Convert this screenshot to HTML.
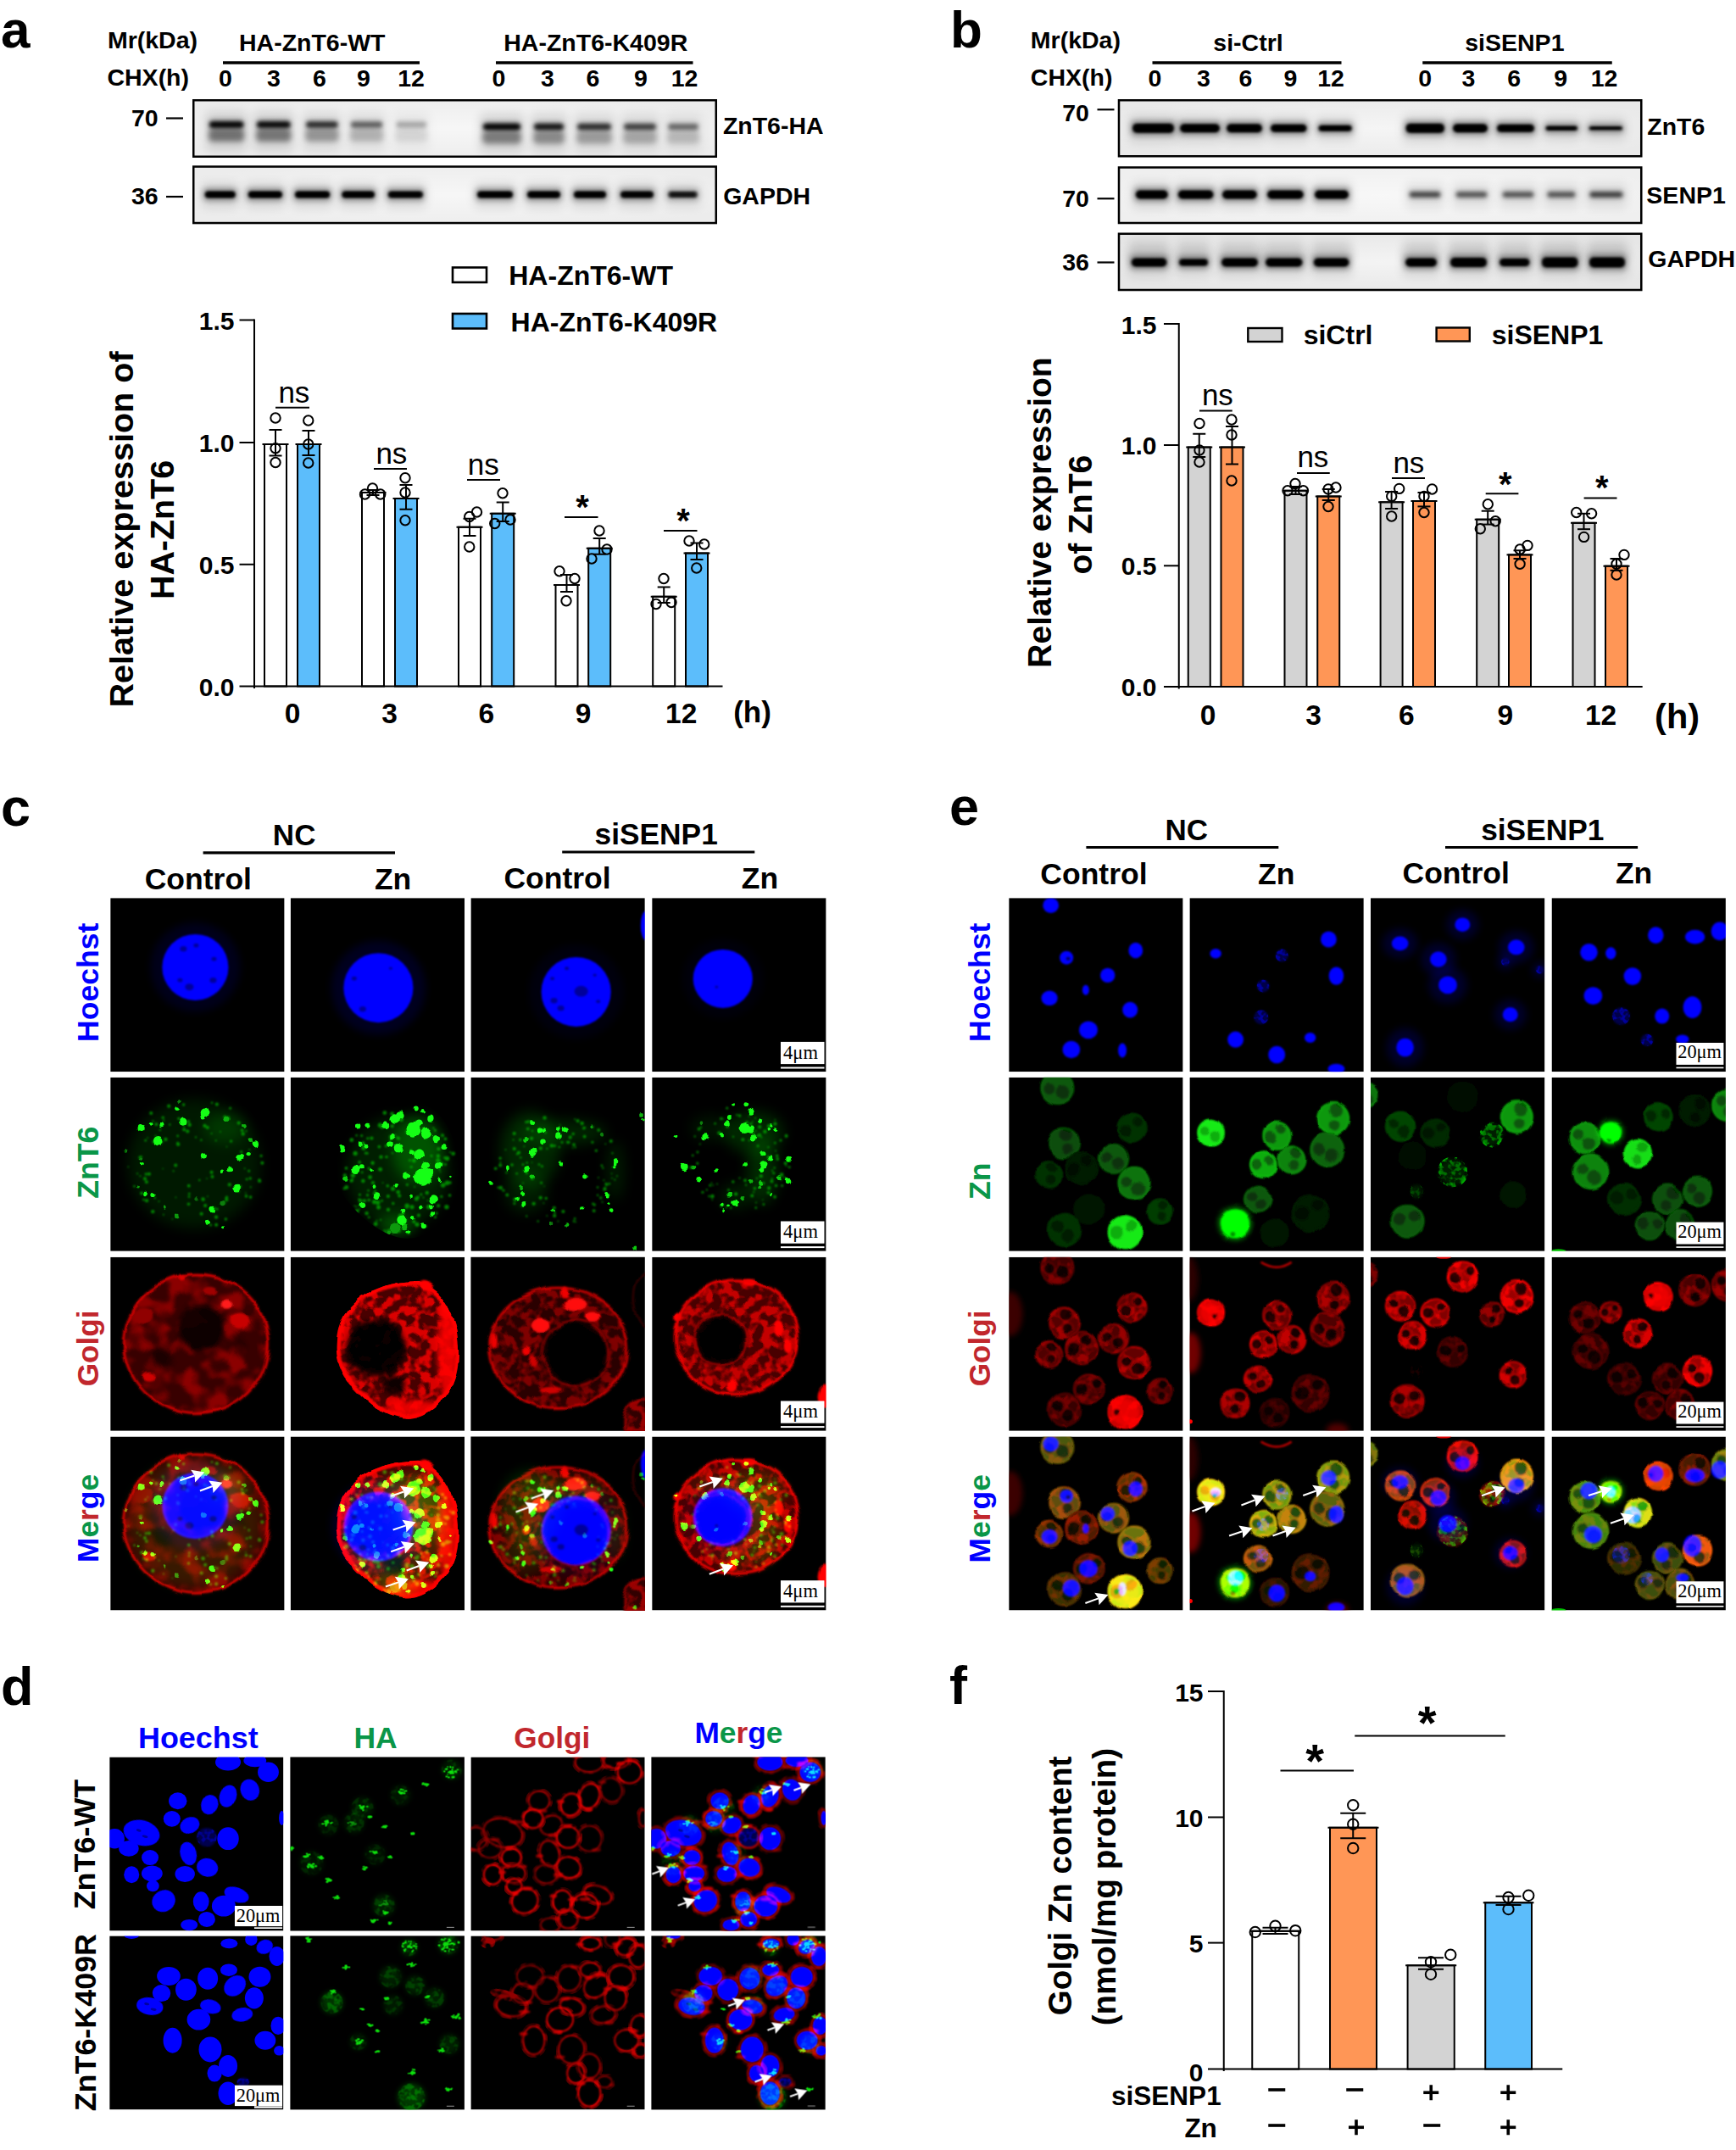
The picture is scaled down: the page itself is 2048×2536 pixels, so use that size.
<!DOCTYPE html>
<html><head><meta charset="utf-8"><title>figure</title>
<style>html,body{margin:0;padding:0;background:#fff}body{width:2048px;height:2536px;overflow:hidden;font-family:"Liberation Sans",sans-serif}svg{display:block}</style></head>
<body>
<svg width="2048" height="2536" viewBox="0 0 2048 2536">
<defs>
<filter id="bb1" x="-60%" y="-60%" width="220%" height="220%"><feGaussianBlur stdDeviation="1"/></filter>
<filter id="bb15" x="-60%" y="-60%" width="220%" height="220%"><feGaussianBlur stdDeviation="1.5"/></filter>
<filter id="bb2" x="-60%" y="-60%" width="220%" height="220%"><feGaussianBlur stdDeviation="2"/></filter>
<filter id="bb3" x="-60%" y="-60%" width="220%" height="220%"><feGaussianBlur stdDeviation="3"/></filter>
<filter id="bb4" x="-60%" y="-60%" width="220%" height="220%"><feGaussianBlur stdDeviation="4"/></filter>
<filter id="bb6" x="-60%" y="-60%" width="220%" height="220%"><feGaussianBlur stdDeviation="6"/></filter>
<filter id="g05" x="-60%" y="-60%" width="220%" height="220%"><feGaussianBlur stdDeviation="0.5"/></filter>
<filter id="g08" x="-60%" y="-60%" width="220%" height="220%"><feGaussianBlur stdDeviation="0.8"/></filter>
<filter id="g12" x="-60%" y="-60%" width="220%" height="220%"><feGaussianBlur stdDeviation="1.2"/></filter>
<filter id="g2" x="-60%" y="-60%" width="220%" height="220%"><feGaussianBlur stdDeviation="2"/></filter>
<filter id="g3" x="-60%" y="-60%" width="220%" height="220%"><feGaussianBlur stdDeviation="3"/></filter>
<filter id="g5" x="-60%" y="-60%" width="220%" height="220%"><feGaussianBlur stdDeviation="5"/></filter>
<filter id="g8" x="-60%" y="-60%" width="220%" height="220%"><feGaussianBlur stdDeviation="8"/></filter>
<filter id="tex" x="-5%" y="-5%" width="110%" height="110%"><feTurbulence type="fractalNoise" baseFrequency="0.085" numOctaves="2" seed="7" result="n"/><feColorMatrix in="n" type="matrix" values="0 0 0 0 0 0 0 0 0 0 0 0 0 0 0 5.0 0 0 0 -2.1" result="a"/><feComposite in="SourceGraphic" in2="a" operator="in" result="t"/><feGaussianBlur in="t" stdDeviation="0.7"/></filter>
<filter id="texbig" x="-5%" y="-5%" width="110%" height="110%"><feTurbulence type="fractalNoise" baseFrequency="0.045" numOctaves="2" seed="3" result="n"/><feColorMatrix in="n" type="matrix" values="0 0 0 0 0 0 0 0 0 0 0 0 0 0 0 4.0 0 0 0 -1.7" result="a"/><feComposite in="SourceGraphic" in2="a" operator="in" result="t"/><feGaussianBlur in="t" stdDeviation="1.5"/></filter>
<filter id="texfine" x="-5%" y="-5%" width="110%" height="110%"><feTurbulence type="fractalNoise" baseFrequency="0.16" numOctaves="2" seed="11" result="n"/><feColorMatrix in="n" type="matrix" values="0 0 0 0 0 0 0 0 0 0 0 0 0 0 0 5.0 0 0 0 -2.2" result="a"/><feComposite in="SourceGraphic" in2="a" operator="in" result="t"/><feGaussianBlur in="t" stdDeviation="0.5"/></filter>
<radialGradient id="blotlite" cx="50%" cy="50%" r="60%"><stop offset="0" stop-color="#fff" stop-opacity="0.55"/><stop offset="1" stop-color="#fff" stop-opacity="0"/></radialGradient>
<filter id="rough" x="-5%" y="-5%" width="110%" height="110%"><feTurbulence type="fractalNoise" baseFrequency="0.035" numOctaves="2" seed="8" result="n"/><feDisplacementMap in="SourceGraphic" in2="n" scale="9" xChannelSelector="R" yChannelSelector="G"/></filter>
<filter id="rough2" x="-5%" y="-5%" width="110%" height="110%"><feTurbulence type="fractalNoise" baseFrequency="0.06" numOctaves="2" seed="5" result="n"/><feDisplacementMap in="SourceGraphic" in2="n" scale="5" xChannelSelector="R" yChannelSelector="G"/></filter>
<filter id="gdot" x="-5%" y="-5%" width="110%" height="110%"><feTurbulence type="fractalNoise" baseFrequency="0.1" numOctaves="2" seed="2" result="n"/><feDisplacementMap in="SourceGraphic" in2="n" scale="5" xChannelSelector="R" yChannelSelector="G" result="d"/><feGaussianBlur in="d" stdDeviation="0.7"/></filter>
<filter id="rough3" x="-5%" y="-5%" width="110%" height="110%"><feTurbulence type="fractalNoise" baseFrequency="0.055" numOctaves="2" seed="9" result="n"/><feDisplacementMap in="SourceGraphic" in2="n" scale="4" xChannelSelector="R" yChannelSelector="G"/></filter>
<clipPath id="c2clip"><path d="M 54 100 C 56 55 95 30 150 28 C 182 38 199 75 198 115 C 197 160 167 192 135 190 C 110 188 83 167 64 142 C 56 128 53 115 54 100 Z"/></clipPath>
</defs>
<text x="1" y="56" font-family="'Liberation Sans', sans-serif" font-size="62" font-weight="bold" fill="#000" text-anchor="start">a</text><text x="180" y="57" font-family="'Liberation Sans', sans-serif" font-size="28.5" font-weight="bold" fill="#000" text-anchor="middle">Mr(kDa)</text><text x="174.75" y="100.5" font-family="'Liberation Sans', sans-serif" font-size="28.5" font-weight="bold" fill="#000" text-anchor="middle">CHX(h)</text><text x="368.25" y="60" font-family="'Liberation Sans', sans-serif" font-size="28.5" font-weight="bold" fill="#000" text-anchor="middle">HA-ZnT6-WT</text><text x="702.75" y="60" font-family="'Liberation Sans', sans-serif" font-size="28.5" font-weight="bold" fill="#000" text-anchor="middle">HA-ZnT6-K409R</text><line x1="263" y1="74" x2="495" y2="74" stroke="#000" stroke-width="3.5" stroke-linecap="butt"/><line x1="585" y1="74" x2="817.5" y2="74" stroke="#000" stroke-width="3.5" stroke-linecap="butt"/><text x="266" y="102" font-family="'Liberation Sans', sans-serif" font-size="28.5" font-weight="bold" fill="#000" text-anchor="middle">0</text><text x="323" y="102" font-family="'Liberation Sans', sans-serif" font-size="28.5" font-weight="bold" fill="#000" text-anchor="middle">3</text><text x="377" y="102" font-family="'Liberation Sans', sans-serif" font-size="28.5" font-weight="bold" fill="#000" text-anchor="middle">6</text><text x="429" y="102" font-family="'Liberation Sans', sans-serif" font-size="28.5" font-weight="bold" fill="#000" text-anchor="middle">9</text><text x="485" y="102" font-family="'Liberation Sans', sans-serif" font-size="28.5" font-weight="bold" fill="#000" text-anchor="middle">12</text><text x="588.5" y="102" font-family="'Liberation Sans', sans-serif" font-size="28.5" font-weight="bold" fill="#000" text-anchor="middle">0</text><text x="646" y="102" font-family="'Liberation Sans', sans-serif" font-size="28.5" font-weight="bold" fill="#000" text-anchor="middle">3</text><text x="699.5" y="102" font-family="'Liberation Sans', sans-serif" font-size="28.5" font-weight="bold" fill="#000" text-anchor="middle">6</text><text x="756" y="102" font-family="'Liberation Sans', sans-serif" font-size="28.5" font-weight="bold" fill="#000" text-anchor="middle">9</text><text x="807.5" y="102" font-family="'Liberation Sans', sans-serif" font-size="28.5" font-weight="bold" fill="#000" text-anchor="middle">12</text><text x="170.75" y="149" font-family="'Liberation Sans', sans-serif" font-size="28.5" font-weight="bold" fill="#000" text-anchor="middle">70</text><line x1="196" y1="139.5" x2="216" y2="139.5" stroke="#000" stroke-width="2.2" stroke-linecap="butt"/><text x="170.75" y="241" font-family="'Liberation Sans', sans-serif" font-size="28.5" font-weight="bold" fill="#000" text-anchor="middle">36</text><line x1="196" y1="232" x2="216" y2="232" stroke="#000" stroke-width="2.2" stroke-linecap="butt"/><text x="912.25" y="158" font-family="'Liberation Sans', sans-serif" font-size="28.5" font-weight="bold" fill="#000" text-anchor="middle">ZnT6-HA</text><text x="904.62" y="241" font-family="'Liberation Sans', sans-serif" font-size="28.5" font-weight="bold" fill="#000" text-anchor="middle">GAPDH</text><clipPath id="clip_a1"><rect x="227" y="117" width="619" height="69"/></clipPath><rect x="227" y="117" width="619" height="69" fill="#ececec" stroke="none" stroke-width="0"/><g clip-path="url(#clip_a1)"><rect x="227" y="117" width="619" height="69" fill="url(#blotlite)"/><rect x="243" y="132" width="48.3" height="46" rx="5" fill="#000" opacity="0.12" filter="url(#bb6)"/><rect x="246" y="152" width="42.3" height="15" rx="5" fill="#000" opacity="0.46" filter="url(#bb3)"/><rect x="246" y="142" width="42.3" height="10" rx="5" fill="#000" opacity="0.5" filter="url(#bb3)"/><rect x="247.5" y="143.75" width="39.3" height="6.5" rx="3.25" fill="#000" opacity="1" filter="url(#bb2)"/><rect x="299" y="132" width="47.6" height="46" rx="5" fill="#000" opacity="0.12" filter="url(#bb6)"/><rect x="302" y="152" width="41.6" height="15" rx="5" fill="#000" opacity="0.44" filter="url(#bb3)"/><rect x="302" y="142" width="41.6" height="10" rx="5" fill="#000" opacity="0.47" filter="url(#bb3)"/><rect x="303.5" y="143.75" width="38.6" height="6.5" rx="3.25" fill="#000" opacity="0.95" filter="url(#bb2)"/><rect x="357" y="132" width="45.7" height="46" rx="5" fill="#000" opacity="0.09" filter="url(#bb6)"/><rect x="360" y="152" width="39.7" height="15" rx="5" fill="#000" opacity="0.32" filter="url(#bb3)"/><rect x="360" y="142" width="39.7" height="10" rx="5" fill="#000" opacity="0.35" filter="url(#bb3)"/><rect x="361.5" y="143.75" width="36.7" height="6.5" rx="3.25" fill="#000" opacity="0.7" filter="url(#bb2)"/><rect x="409.7" y="132" width="45.7" height="46" rx="5" fill="#000" opacity="0.07" filter="url(#bb6)"/><rect x="412.7" y="152" width="39.7" height="15" rx="5" fill="#000" opacity="0.21" filter="url(#bb3)"/><rect x="412.7" y="142" width="39.7" height="10" rx="5" fill="#000" opacity="0.23" filter="url(#bb3)"/><rect x="414.2" y="143.75" width="36.7" height="6.5" rx="3.25" fill="#000" opacity="0.45" filter="url(#bb2)"/><rect x="463.2" y="132" width="44.1" height="46" rx="5" fill="#000" opacity="0.04" filter="url(#bb6)"/><rect x="466.2" y="152" width="38.1" height="15" rx="5" fill="#000" opacity="0.09" filter="url(#bb3)"/><rect x="466.2" y="142" width="38.1" height="10" rx="5" fill="#000" opacity="0.1" filter="url(#bb3)"/><rect x="467.7" y="143.75" width="35.1" height="6.5" rx="3.25" fill="#000" opacity="0.2" filter="url(#bb2)"/><rect x="566" y="134" width="52" height="46" rx="5" fill="#000" opacity="0.12" filter="url(#bb6)"/><rect x="569" y="154.5" width="46" height="15" rx="5" fill="#000" opacity="0.42" filter="url(#bb3)"/><rect x="569" y="144.5" width="46" height="10" rx="5" fill="#000" opacity="0.5" filter="url(#bb3)"/><rect x="570.5" y="146.25" width="43" height="6.5" rx="3.25" fill="#000" opacity="1" filter="url(#bb2)"/><rect x="626" y="134" width="43" height="46" rx="5" fill="#000" opacity="0.11" filter="url(#bb6)"/><rect x="629" y="154.5" width="37" height="15" rx="5" fill="#000" opacity="0.36" filter="url(#bb3)"/><rect x="629" y="144.5" width="37" height="10" rx="5" fill="#000" opacity="0.42" filter="url(#bb3)"/><rect x="630.5" y="146.25" width="34" height="6.5" rx="3.25" fill="#000" opacity="0.85" filter="url(#bb2)"/><rect x="677" y="134" width="48" height="46" rx="5" fill="#000" opacity="0.09" filter="url(#bb6)"/><rect x="680" y="154.5" width="42" height="15" rx="5" fill="#000" opacity="0.29" filter="url(#bb3)"/><rect x="680" y="144.5" width="42" height="10" rx="5" fill="#000" opacity="0.35" filter="url(#bb3)"/><rect x="681.5" y="146.25" width="39" height="6.5" rx="3.25" fill="#000" opacity="0.7" filter="url(#bb2)"/><rect x="732" y="134" width="46" height="46" rx="5" fill="#000" opacity="0.08" filter="url(#bb6)"/><rect x="735" y="154.5" width="40" height="15" rx="5" fill="#000" opacity="0.25" filter="url(#bb3)"/><rect x="735" y="144.5" width="40" height="10" rx="5" fill="#000" opacity="0.3" filter="url(#bb3)"/><rect x="736.5" y="146.25" width="37" height="6.5" rx="3.25" fill="#000" opacity="0.6" filter="url(#bb2)"/><rect x="784" y="134" width="44" height="46" rx="5" fill="#000" opacity="0.06" filter="url(#bb6)"/><rect x="787" y="154.5" width="38" height="15" rx="5" fill="#000" opacity="0.18" filter="url(#bb3)"/><rect x="787" y="144.5" width="38" height="10" rx="5" fill="#000" opacity="0.21" filter="url(#bb3)"/><rect x="788.5" y="146.25" width="35" height="6.5" rx="3.25" fill="#000" opacity="0.42" filter="url(#bb2)"/></g><rect x="228.25" y="118.25" width="616.5" height="66.5" fill="none" stroke="#000" stroke-width="2.5"/><clipPath id="clip_a2"><rect x="227" y="195.3" width="619" height="69"/></clipPath><rect x="227" y="195.3" width="619" height="69" fill="#ececec" stroke="none" stroke-width="0"/><g clip-path="url(#clip_a2)"><rect x="227" y="195.3" width="619" height="69" fill="url(#blotlite)"/><rect x="237.7" y="215.5" width="44.1" height="30" rx="5" fill="#000" opacity="0.1" filter="url(#bb6)"/><rect x="239.7" y="222" width="40.1" height="15" rx="5" fill="#000" opacity="0.35" filter="url(#bb3)"/><rect x="241.7" y="225.5" width="36.1" height="8" rx="4" fill="#000" opacity="0.95" filter="url(#bb15)"/><rect x="244.7" y="227" width="30.1" height="5" rx="2.5" fill="#000" opacity="0.9" filter="url(#bb1)"/><rect x="288.7" y="215.5" width="48.3" height="30" rx="5" fill="#000" opacity="0.1" filter="url(#bb6)"/><rect x="290.7" y="222" width="44.3" height="15" rx="5" fill="#000" opacity="0.35" filter="url(#bb3)"/><rect x="292.7" y="225.5" width="40.3" height="8" rx="4" fill="#000" opacity="0.95" filter="url(#bb15)"/><rect x="295.7" y="227" width="34.3" height="5" rx="2.5" fill="#000" opacity="0.9" filter="url(#bb1)"/><rect x="344" y="215.5" width="49.2" height="30" rx="5" fill="#000" opacity="0.1" filter="url(#bb6)"/><rect x="346" y="222" width="45.2" height="15" rx="5" fill="#000" opacity="0.35" filter="url(#bb3)"/><rect x="348" y="225.5" width="41.2" height="8" rx="4" fill="#000" opacity="0.95" filter="url(#bb15)"/><rect x="351" y="227" width="35.2" height="5" rx="2.5" fill="#000" opacity="0.9" filter="url(#bb1)"/><rect x="399.3" y="215.5" width="46.7" height="30" rx="5" fill="#000" opacity="0.1" filter="url(#bb6)"/><rect x="401.3" y="222" width="42.7" height="15" rx="5" fill="#000" opacity="0.35" filter="url(#bb3)"/><rect x="403.3" y="225.5" width="38.7" height="8" rx="4" fill="#000" opacity="0.95" filter="url(#bb15)"/><rect x="406.3" y="227" width="32.7" height="5" rx="2.5" fill="#000" opacity="0.9" filter="url(#bb1)"/><rect x="453.7" y="215.5" width="49.3" height="30" rx="5" fill="#000" opacity="0.1" filter="url(#bb6)"/><rect x="455.7" y="222" width="45.3" height="15" rx="5" fill="#000" opacity="0.33" filter="url(#bb3)"/><rect x="457.7" y="225.5" width="41.3" height="8" rx="4" fill="#000" opacity="0.9" filter="url(#bb15)"/><rect x="460.7" y="227" width="35.3" height="5" rx="2.5" fill="#000" opacity="0.85" filter="url(#bb1)"/><rect x="559" y="215.5" width="50" height="30" rx="5" fill="#000" opacity="0.1" filter="url(#bb6)"/><rect x="561" y="222" width="46" height="15" rx="5" fill="#000" opacity="0.35" filter="url(#bb3)"/><rect x="563" y="225.5" width="42" height="8" rx="4" fill="#000" opacity="0.95" filter="url(#bb15)"/><rect x="566" y="227" width="36" height="5" rx="2.5" fill="#000" opacity="0.9" filter="url(#bb1)"/><rect x="618" y="215.5" width="47" height="30" rx="5" fill="#000" opacity="0.1" filter="url(#bb6)"/><rect x="620" y="222" width="43" height="15" rx="5" fill="#000" opacity="0.35" filter="url(#bb3)"/><rect x="622" y="225.5" width="39" height="8" rx="4" fill="#000" opacity="0.95" filter="url(#bb15)"/><rect x="625" y="227" width="33" height="5" rx="2.5" fill="#000" opacity="0.9" filter="url(#bb1)"/><rect x="673" y="215.5" width="46" height="30" rx="5" fill="#000" opacity="0.1" filter="url(#bb6)"/><rect x="675" y="222" width="42" height="15" rx="5" fill="#000" opacity="0.35" filter="url(#bb3)"/><rect x="677" y="225.5" width="38" height="8" rx="4" fill="#000" opacity="0.95" filter="url(#bb15)"/><rect x="680" y="227" width="32" height="5" rx="2.5" fill="#000" opacity="0.9" filter="url(#bb1)"/><rect x="728" y="215.5" width="47" height="30" rx="5" fill="#000" opacity="0.1" filter="url(#bb6)"/><rect x="730" y="222" width="43" height="15" rx="5" fill="#000" opacity="0.33" filter="url(#bb3)"/><rect x="732" y="225.5" width="39" height="8" rx="4" fill="#000" opacity="0.9" filter="url(#bb15)"/><rect x="735" y="227" width="33" height="5" rx="2.5" fill="#000" opacity="0.85" filter="url(#bb1)"/><rect x="784" y="215.5" width="43" height="30" rx="5" fill="#000" opacity="0.07" filter="url(#bb6)"/><rect x="786" y="222" width="39" height="15" rx="5" fill="#000" opacity="0.24" filter="url(#bb3)"/><rect x="788" y="225.5" width="35" height="8" rx="4" fill="#000" opacity="0.66" filter="url(#bb15)"/><rect x="791" y="227" width="29" height="5" rx="2.5" fill="#000" opacity="0.63" filter="url(#bb1)"/></g><rect x="228.25" y="196.55" width="616.5" height="66.5" fill="none" stroke="#000" stroke-width="2.5"/><rect x="534" y="315.5" width="40" height="17.5" fill="#fff" stroke="#000" stroke-width="2.6"/><rect x="534" y="370" width="40" height="17.5" fill="#5cbdfb" stroke="#000" stroke-width="2.6"/><text x="697.12" y="336.25" font-family="'Liberation Sans', sans-serif" font-size="32" font-weight="bold" fill="#000" text-anchor="middle">HA-ZnT6-WT</text><text x="724.38" y="390.5" font-family="'Liberation Sans', sans-serif" font-size="32" font-weight="bold" fill="#000" text-anchor="middle">HA-ZnT6-K409R</text><text x="276.5" y="389" font-family="'Liberation Sans', sans-serif" font-size="30" font-weight="bold" fill="#000" text-anchor="end">1.5</text><text x="276.5" y="533" font-family="'Liberation Sans', sans-serif" font-size="30" font-weight="bold" fill="#000" text-anchor="end">1.0</text><text x="276.5" y="676.5" font-family="'Liberation Sans', sans-serif" font-size="30" font-weight="bold" fill="#000" text-anchor="end">0.5</text><text x="276.5" y="820.5" font-family="'Liberation Sans', sans-serif" font-size="30" font-weight="bold" fill="#000" text-anchor="end">0.0</text><text x="157" y="624.45" font-family="'Liberation Sans', sans-serif" font-size="39.6" font-weight="bold" fill="#000" text-anchor="middle" transform="rotate(-90 157 624.45)">Relative expression of</text><text x="204.8" y="625" font-family="'Liberation Sans', sans-serif" font-size="39.4" font-weight="bold" fill="#000" text-anchor="middle" transform="rotate(-90 204.8 625)">HA-ZnT6</text><text x="345" y="852.5" font-family="'Liberation Sans', sans-serif" font-size="33.5" font-weight="bold" fill="#000" text-anchor="middle">0</text><text x="459.5" y="852.5" font-family="'Liberation Sans', sans-serif" font-size="33.5" font-weight="bold" fill="#000" text-anchor="middle">3</text><text x="573.75" y="852.5" font-family="'Liberation Sans', sans-serif" font-size="33.5" font-weight="bold" fill="#000" text-anchor="middle">6</text><text x="688" y="852.5" font-family="'Liberation Sans', sans-serif" font-size="33.5" font-weight="bold" fill="#000" text-anchor="middle">9</text><text x="803.75" y="852.5" font-family="'Liberation Sans', sans-serif" font-size="33.5" font-weight="bold" fill="#000" text-anchor="middle">12</text><text x="887.5" y="852" font-family="'Liberation Sans', sans-serif" font-size="35" font-weight="bold" fill="#000" text-anchor="middle">(h)</text><rect x="312" y="524" width="26" height="285.5" fill="#fff" stroke="#000" stroke-width="2"/><rect x="351" y="524" width="26" height="285.5" fill="#5cbdfb" stroke="#000" stroke-width="2"/><rect x="427" y="581" width="26" height="228.5" fill="#fff" stroke="#000" stroke-width="2"/><rect x="466" y="588" width="26" height="221.5" fill="#5cbdfb" stroke="#000" stroke-width="2"/><rect x="541" y="621.75" width="26" height="187.75" fill="#fff" stroke="#000" stroke-width="2"/><rect x="580.2" y="605.75" width="26" height="203.75" fill="#5cbdfb" stroke="#000" stroke-width="2"/><rect x="655.5" y="690" width="26" height="119.5" fill="#fff" stroke="#000" stroke-width="2"/><rect x="694.2" y="646.75" width="26" height="162.75" fill="#5cbdfb" stroke="#000" stroke-width="2"/><rect x="770.2" y="703.75" width="26" height="105.75" fill="#fff" stroke="#000" stroke-width="2"/><rect x="809" y="652.5" width="26" height="157" fill="#5cbdfb" stroke="#000" stroke-width="2"/><line x1="300" y1="376.5" x2="300" y2="812" stroke="#000" stroke-width="2" stroke-linecap="butt"/><line x1="282.5" y1="809.5" x2="852.5" y2="809.5" stroke="#000" stroke-width="2" stroke-linecap="butt"/><line x1="282.5" y1="377.5" x2="300" y2="377.5" stroke="#000" stroke-width="2" stroke-linecap="butt"/><line x1="282.5" y1="522" x2="300" y2="522" stroke="#000" stroke-width="2" stroke-linecap="butt"/><line x1="282.5" y1="665.75" x2="300" y2="665.75" stroke="#000" stroke-width="2" stroke-linecap="butt"/><line x1="309.5" y1="524" x2="340.5" y2="524" stroke="#000" stroke-width="2" stroke-linecap="butt"/><line x1="325" y1="507" x2="325" y2="537.5" stroke="#000" stroke-width="2" stroke-linecap="butt"/><line x1="317.5" y1="507" x2="332.5" y2="507" stroke="#000" stroke-width="2" stroke-linecap="butt"/><line x1="317.5" y1="537.5" x2="332.5" y2="537.5" stroke="#000" stroke-width="2" stroke-linecap="butt"/><circle cx="325" cy="493" r="5.7" fill="none" stroke="#000" stroke-width="2"/><circle cx="325" cy="528.75" r="5.7" fill="none" stroke="#000" stroke-width="2"/><circle cx="325" cy="545.5" r="5.7" fill="none" stroke="#000" stroke-width="2"/><line x1="348.5" y1="524" x2="379.5" y2="524" stroke="#000" stroke-width="2" stroke-linecap="butt"/><line x1="364" y1="508" x2="364" y2="537" stroke="#000" stroke-width="2" stroke-linecap="butt"/><line x1="356.5" y1="508" x2="371.5" y2="508" stroke="#000" stroke-width="2" stroke-linecap="butt"/><line x1="356.5" y1="537" x2="371.5" y2="537" stroke="#000" stroke-width="2" stroke-linecap="butt"/><circle cx="363.75" cy="496" r="5.7" fill="none" stroke="#000" stroke-width="2"/><circle cx="363.75" cy="524" r="5.7" fill="none" stroke="#000" stroke-width="2"/><circle cx="363.75" cy="546" r="5.7" fill="none" stroke="#000" stroke-width="2"/><line x1="424.5" y1="581" x2="455.5" y2="581" stroke="#000" stroke-width="2" stroke-linecap="butt"/><line x1="440" y1="578" x2="440" y2="584" stroke="#000" stroke-width="2" stroke-linecap="butt"/><line x1="432.5" y1="578" x2="447.5" y2="578" stroke="#000" stroke-width="2" stroke-linecap="butt"/><line x1="432.5" y1="584" x2="447.5" y2="584" stroke="#000" stroke-width="2" stroke-linecap="butt"/><circle cx="430.5" cy="583" r="5.7" fill="none" stroke="#000" stroke-width="2"/><circle cx="439.5" cy="576" r="5.7" fill="none" stroke="#000" stroke-width="2"/><circle cx="448.75" cy="583" r="5.7" fill="none" stroke="#000" stroke-width="2"/><line x1="463.5" y1="588" x2="494.5" y2="588" stroke="#000" stroke-width="2" stroke-linecap="butt"/><line x1="479" y1="572" x2="479" y2="600.75" stroke="#000" stroke-width="2" stroke-linecap="butt"/><line x1="471.5" y1="572" x2="486.5" y2="572" stroke="#000" stroke-width="2" stroke-linecap="butt"/><line x1="471.5" y1="600.75" x2="486.5" y2="600.75" stroke="#000" stroke-width="2" stroke-linecap="butt"/><circle cx="478" cy="563.75" r="5.7" fill="none" stroke="#000" stroke-width="2"/><circle cx="478" cy="581" r="5.7" fill="none" stroke="#000" stroke-width="2"/><circle cx="478" cy="613.75" r="5.7" fill="none" stroke="#000" stroke-width="2"/><line x1="538.5" y1="621.75" x2="569.5" y2="621.75" stroke="#000" stroke-width="2" stroke-linecap="butt"/><line x1="554" y1="611.75" x2="554" y2="632" stroke="#000" stroke-width="2" stroke-linecap="butt"/><line x1="546.5" y1="611.75" x2="561.5" y2="611.75" stroke="#000" stroke-width="2" stroke-linecap="butt"/><line x1="546.5" y1="632" x2="561.5" y2="632" stroke="#000" stroke-width="2" stroke-linecap="butt"/><circle cx="553.75" cy="609.5" r="5.7" fill="none" stroke="#000" stroke-width="2"/><circle cx="562.5" cy="604" r="5.7" fill="none" stroke="#000" stroke-width="2"/><circle cx="553.75" cy="645" r="5.7" fill="none" stroke="#000" stroke-width="2"/><line x1="577.7" y1="605.75" x2="608.7" y2="605.75" stroke="#000" stroke-width="2" stroke-linecap="butt"/><line x1="593.2" y1="592.5" x2="593.2" y2="615" stroke="#000" stroke-width="2" stroke-linecap="butt"/><line x1="585.7" y1="592.5" x2="600.7" y2="592.5" stroke="#000" stroke-width="2" stroke-linecap="butt"/><line x1="585.7" y1="615" x2="600.7" y2="615" stroke="#000" stroke-width="2" stroke-linecap="butt"/><circle cx="593" cy="581.75" r="5.7" fill="none" stroke="#000" stroke-width="2"/><circle cx="583.75" cy="617.5" r="5.7" fill="none" stroke="#000" stroke-width="2"/><circle cx="602" cy="613" r="5.7" fill="none" stroke="#000" stroke-width="2"/><line x1="653" y1="690" x2="684" y2="690" stroke="#000" stroke-width="2" stroke-linecap="butt"/><line x1="668.5" y1="678" x2="668.5" y2="698" stroke="#000" stroke-width="2" stroke-linecap="butt"/><line x1="661" y1="678" x2="676" y2="678" stroke="#000" stroke-width="2" stroke-linecap="butt"/><line x1="661" y1="698" x2="676" y2="698" stroke="#000" stroke-width="2" stroke-linecap="butt"/><circle cx="660" cy="673.75" r="5.7" fill="none" stroke="#000" stroke-width="2"/><circle cx="678" cy="682.5" r="5.7" fill="none" stroke="#000" stroke-width="2"/><circle cx="668" cy="708.75" r="5.7" fill="none" stroke="#000" stroke-width="2"/><line x1="691.7" y1="646.75" x2="722.7" y2="646.75" stroke="#000" stroke-width="2" stroke-linecap="butt"/><line x1="707.2" y1="635" x2="707.2" y2="653.75" stroke="#000" stroke-width="2" stroke-linecap="butt"/><line x1="699.7" y1="635" x2="714.7" y2="635" stroke="#000" stroke-width="2" stroke-linecap="butt"/><line x1="699.7" y1="653.75" x2="714.7" y2="653.75" stroke="#000" stroke-width="2" stroke-linecap="butt"/><circle cx="707" cy="626" r="5.7" fill="none" stroke="#000" stroke-width="2"/><circle cx="716" cy="648" r="5.7" fill="none" stroke="#000" stroke-width="2"/><circle cx="698" cy="659" r="5.7" fill="none" stroke="#000" stroke-width="2"/><line x1="767.7" y1="703.75" x2="798.7" y2="703.75" stroke="#000" stroke-width="2" stroke-linecap="butt"/><line x1="783.2" y1="692.5" x2="783.2" y2="711" stroke="#000" stroke-width="2" stroke-linecap="butt"/><line x1="775.7" y1="692.5" x2="790.7" y2="692.5" stroke="#000" stroke-width="2" stroke-linecap="butt"/><line x1="775.7" y1="711" x2="790.7" y2="711" stroke="#000" stroke-width="2" stroke-linecap="butt"/><circle cx="783" cy="682.5" r="5.7" fill="none" stroke="#000" stroke-width="2"/><circle cx="774" cy="712.5" r="5.7" fill="none" stroke="#000" stroke-width="2"/><circle cx="792" cy="710.5" r="5.7" fill="none" stroke="#000" stroke-width="2"/><line x1="806.5" y1="652.5" x2="837.5" y2="652.5" stroke="#000" stroke-width="2" stroke-linecap="butt"/><line x1="822" y1="640.5" x2="822" y2="660" stroke="#000" stroke-width="2" stroke-linecap="butt"/><line x1="814.5" y1="640.5" x2="829.5" y2="640.5" stroke="#000" stroke-width="2" stroke-linecap="butt"/><line x1="814.5" y1="660" x2="829.5" y2="660" stroke="#000" stroke-width="2" stroke-linecap="butt"/><circle cx="813" cy="638" r="5.7" fill="none" stroke="#000" stroke-width="2"/><circle cx="830.75" cy="642" r="5.7" fill="none" stroke="#000" stroke-width="2"/><circle cx="821.75" cy="670" r="5.7" fill="none" stroke="#000" stroke-width="2"/><line x1="325" y1="480.75" x2="365" y2="480.75" stroke="#000" stroke-width="2" stroke-linecap="butt"/><line x1="441" y1="553" x2="480" y2="553" stroke="#000" stroke-width="2" stroke-linecap="butt"/><line x1="551" y1="566" x2="590" y2="566" stroke="#000" stroke-width="2" stroke-linecap="butt"/><line x1="666" y1="610" x2="705.5" y2="610" stroke="#000" stroke-width="2" stroke-linecap="butt"/><line x1="783" y1="626" x2="822.5" y2="626" stroke="#000" stroke-width="2" stroke-linecap="butt"/><text x="346.88" y="474.5" font-family="'Liberation Sans', sans-serif" font-size="35" font-weight="normal" fill="#000" text-anchor="middle">ns</text><text x="461.88" y="546.75" font-family="'Liberation Sans', sans-serif" font-size="35" font-weight="normal" fill="#000" text-anchor="middle">ns</text><text x="570.25" y="560" font-family="'Liberation Sans', sans-serif" font-size="35" font-weight="normal" fill="#000" text-anchor="middle">ns</text><text x="687" y="611.5" font-family="'Liberation Sans', sans-serif" font-size="40" font-weight="bold" fill="#000" text-anchor="middle">*</text><text x="806" y="627.5" font-family="'Liberation Sans', sans-serif" font-size="40" font-weight="bold" fill="#000" text-anchor="middle">*</text>
<text x="1121" y="56" font-family="'Liberation Sans', sans-serif" font-size="62" font-weight="bold" fill="#000" text-anchor="start">b</text><text x="1268.88" y="57" font-family="'Liberation Sans', sans-serif" font-size="28.5" font-weight="bold" fill="#000" text-anchor="middle">Mr(kDa)</text><text x="1264.12" y="100.5" font-family="'Liberation Sans', sans-serif" font-size="28.5" font-weight="bold" fill="#000" text-anchor="middle">CHX(h)</text><text x="1472.5" y="60" font-family="'Liberation Sans', sans-serif" font-size="28.5" font-weight="bold" fill="#000" text-anchor="middle">si-Ctrl</text><text x="1786.88" y="60" font-family="'Liberation Sans', sans-serif" font-size="28.5" font-weight="bold" fill="#000" text-anchor="middle">siSENP1</text><line x1="1359.5" y1="74" x2="1582.5" y2="74" stroke="#000" stroke-width="3.5" stroke-linecap="butt"/><line x1="1678.25" y1="74" x2="1901.75" y2="74" stroke="#000" stroke-width="3.5" stroke-linecap="butt"/><text x="1362.5" y="102" font-family="'Liberation Sans', sans-serif" font-size="28.5" font-weight="bold" fill="#000" text-anchor="middle">0</text><text x="1420" y="102" font-family="'Liberation Sans', sans-serif" font-size="28.5" font-weight="bold" fill="#000" text-anchor="middle">3</text><text x="1469.5" y="102" font-family="'Liberation Sans', sans-serif" font-size="28.5" font-weight="bold" fill="#000" text-anchor="middle">6</text><text x="1522.5" y="102" font-family="'Liberation Sans', sans-serif" font-size="28.5" font-weight="bold" fill="#000" text-anchor="middle">9</text><text x="1570" y="102" font-family="'Liberation Sans', sans-serif" font-size="28.5" font-weight="bold" fill="#000" text-anchor="middle">12</text><text x="1681.25" y="102" font-family="'Liberation Sans', sans-serif" font-size="28.5" font-weight="bold" fill="#000" text-anchor="middle">0</text><text x="1732.5" y="102" font-family="'Liberation Sans', sans-serif" font-size="28.5" font-weight="bold" fill="#000" text-anchor="middle">3</text><text x="1786.25" y="102" font-family="'Liberation Sans', sans-serif" font-size="28.5" font-weight="bold" fill="#000" text-anchor="middle">6</text><text x="1841.25" y="102" font-family="'Liberation Sans', sans-serif" font-size="28.5" font-weight="bold" fill="#000" text-anchor="middle">9</text><text x="1892.5" y="102" font-family="'Liberation Sans', sans-serif" font-size="28.5" font-weight="bold" fill="#000" text-anchor="middle">12</text><text x="1269" y="142.5" font-family="'Liberation Sans', sans-serif" font-size="28.5" font-weight="bold" fill="#000" text-anchor="middle">70</text><line x1="1294.5" y1="129.25" x2="1314.5" y2="129.25" stroke="#000" stroke-width="2.2" stroke-linecap="butt"/><text x="1269" y="243.75" font-family="'Liberation Sans', sans-serif" font-size="28.5" font-weight="bold" fill="#000" text-anchor="middle">70</text><line x1="1294.5" y1="234.25" x2="1314.5" y2="234.25" stroke="#000" stroke-width="2.2" stroke-linecap="butt"/><text x="1269" y="319.25" font-family="'Liberation Sans', sans-serif" font-size="28.5" font-weight="bold" fill="#000" text-anchor="middle">36</text><line x1="1294.5" y1="309.5" x2="1314.5" y2="309.5" stroke="#000" stroke-width="2.2" stroke-linecap="butt"/><text x="1977.35" y="158.8" font-family="'Liberation Sans', sans-serif" font-size="28.5" font-weight="bold" fill="#000" text-anchor="middle">ZnT6</text><text x="1989.1" y="239.75" font-family="'Liberation Sans', sans-serif" font-size="28.5" font-weight="bold" fill="#000" text-anchor="middle">SENP1</text><text x="1995.75" y="315" font-family="'Liberation Sans', sans-serif" font-size="28.5" font-weight="bold" fill="#000" text-anchor="middle">GAPDH</text><clipPath id="clip_b1"><rect x="1318.75" y="117" width="618.75" height="68.5"/></clipPath><rect x="1318.75" y="117" width="618.75" height="68.5" fill="#e9e9e9" stroke="none" stroke-width="0"/><g clip-path="url(#clip_b1)"><rect x="1318.75" y="117" width="618.75" height="68.5" fill="url(#blotlite)"/><rect x="1332" y="135.75" width="57" height="33" rx="5" fill="#000" opacity="0.1" filter="url(#bb6)"/><rect x="1334" y="142.25" width="53" height="18" rx="5" fill="#000" opacity="0.35" filter="url(#bb3)"/><rect x="1336" y="145.75" width="49" height="11" rx="5" fill="#000" opacity="0.95" filter="url(#bb15)"/><rect x="1339" y="147.25" width="43" height="8" rx="4" fill="#000" opacity="0.9" filter="url(#bb1)"/><rect x="1388" y="136.25" width="55" height="32" rx="5" fill="#000" opacity="0.1" filter="url(#bb6)"/><rect x="1390" y="142.75" width="51" height="17" rx="5" fill="#000" opacity="0.35" filter="url(#bb3)"/><rect x="1392" y="146.25" width="47" height="10" rx="5" fill="#000" opacity="0.95" filter="url(#bb15)"/><rect x="1395" y="147.75" width="41" height="7" rx="3.5" fill="#000" opacity="0.9" filter="url(#bb1)"/><rect x="1443" y="136.25" width="50" height="32" rx="5" fill="#000" opacity="0.1" filter="url(#bb6)"/><rect x="1445" y="142.75" width="46" height="17" rx="5" fill="#000" opacity="0.35" filter="url(#bb3)"/><rect x="1447" y="146.25" width="42" height="10" rx="5" fill="#000" opacity="0.95" filter="url(#bb15)"/><rect x="1450" y="147.75" width="36" height="7" rx="3.5" fill="#000" opacity="0.9" filter="url(#bb1)"/><rect x="1495" y="136.75" width="50.5" height="31" rx="5" fill="#000" opacity="0.1" filter="url(#bb6)"/><rect x="1497" y="143.25" width="46.5" height="16" rx="5" fill="#000" opacity="0.35" filter="url(#bb3)"/><rect x="1499" y="146.75" width="42.5" height="9" rx="4.5" fill="#000" opacity="0.95" filter="url(#bb15)"/><rect x="1502" y="148.25" width="36.5" height="6" rx="3" fill="#000" opacity="0.9" filter="url(#bb1)"/><rect x="1551.5" y="137.75" width="47.25" height="29" rx="5" fill="#000" opacity="0.1" filter="url(#bb6)"/><rect x="1553.5" y="144.25" width="43.25" height="14" rx="5" fill="#000" opacity="0.35" filter="url(#bb3)"/><rect x="1555.5" y="147.75" width="39.25" height="7" rx="3.5" fill="#000" opacity="0.95" filter="url(#bb15)"/><rect x="1558.5" y="149.25" width="33.25" height="4" rx="2" fill="#000" opacity="0.9" filter="url(#bb1)"/><rect x="1654.5" y="135.75" width="53.5" height="33" rx="5" fill="#000" opacity="0.1" filter="url(#bb6)"/><rect x="1656.5" y="142.25" width="49.5" height="18" rx="5" fill="#000" opacity="0.35" filter="url(#bb3)"/><rect x="1658.5" y="145.75" width="45.5" height="11" rx="5" fill="#000" opacity="0.95" filter="url(#bb15)"/><rect x="1661.5" y="147.25" width="39.5" height="8" rx="4" fill="#000" opacity="0.9" filter="url(#bb1)"/><rect x="1710" y="136.25" width="49" height="32" rx="5" fill="#000" opacity="0.1" filter="url(#bb6)"/><rect x="1712" y="142.75" width="45" height="17" rx="5" fill="#000" opacity="0.35" filter="url(#bb3)"/><rect x="1714" y="146.25" width="41" height="10" rx="5" fill="#000" opacity="0.95" filter="url(#bb15)"/><rect x="1717" y="147.75" width="35" height="7" rx="3.5" fill="#000" opacity="0.9" filter="url(#bb1)"/><rect x="1762" y="136.75" width="52" height="31" rx="5" fill="#000" opacity="0.1" filter="url(#bb6)"/><rect x="1764" y="143.25" width="48" height="16" rx="5" fill="#000" opacity="0.35" filter="url(#bb3)"/><rect x="1766" y="146.75" width="44" height="9" rx="4.5" fill="#000" opacity="0.95" filter="url(#bb15)"/><rect x="1769" y="148.25" width="38" height="6" rx="3" fill="#000" opacity="0.9" filter="url(#bb1)"/><rect x="1819.5" y="138.5" width="45.5" height="27.5" rx="5" fill="#000" opacity="0.1" filter="url(#bb6)"/><rect x="1821.5" y="145" width="41.5" height="12.5" rx="5" fill="#000" opacity="0.33" filter="url(#bb3)"/><rect x="1823.5" y="148.5" width="37.5" height="5.5" rx="2.75" fill="#000" opacity="0.9" filter="url(#bb15)"/><rect x="1826.5" y="150" width="31.5" height="2.5" rx="1.25" fill="#000" opacity="0.85" filter="url(#bb1)"/><rect x="1870.75" y="139" width="47.25" height="26.5" rx="5" fill="#000" opacity="0.1" filter="url(#bb6)"/><rect x="1872.75" y="145.5" width="43.25" height="11.5" rx="5" fill="#000" opacity="0.33" filter="url(#bb3)"/><rect x="1874.75" y="149" width="39.25" height="4.5" rx="2.25" fill="#000" opacity="0.9" filter="url(#bb15)"/><rect x="1877.75" y="150.5" width="33.25" height="1.5" rx="0.75" fill="#000" opacity="0.85" filter="url(#bb1)"/></g><rect x="1320" y="118.25" width="616.25" height="66" fill="none" stroke="#000" stroke-width="2.5"/><clipPath id="clip_b2"><rect x="1318.75" y="196.25" width="618.75" height="68"/></clipPath><rect x="1318.75" y="196.25" width="618.75" height="68" fill="#efefef" stroke="none" stroke-width="0"/><g clip-path="url(#clip_b2)"><rect x="1318.75" y="196.25" width="618.75" height="68" fill="url(#blotlite)"/><rect x="1335.75" y="214.5" width="46" height="32" rx="5" fill="#000" opacity="0.1" filter="url(#bb6)"/><rect x="1337.75" y="221" width="42" height="17" rx="5" fill="#000" opacity="0.35" filter="url(#bb3)"/><rect x="1339.75" y="224.5" width="38" height="10" rx="5" fill="#000" opacity="0.95" filter="url(#bb15)"/><rect x="1342.75" y="226" width="32" height="7" rx="3.5" fill="#000" opacity="0.9" filter="url(#bb1)"/><rect x="1385.75" y="214.5" width="49.75" height="32" rx="5" fill="#000" opacity="0.1" filter="url(#bb6)"/><rect x="1387.75" y="221" width="45.75" height="17" rx="5" fill="#000" opacity="0.35" filter="url(#bb3)"/><rect x="1389.75" y="224.5" width="41.75" height="10" rx="5" fill="#000" opacity="0.95" filter="url(#bb15)"/><rect x="1392.75" y="226" width="35.75" height="7" rx="3.5" fill="#000" opacity="0.9" filter="url(#bb1)"/><rect x="1438" y="214.5" width="48.75" height="32" rx="5" fill="#000" opacity="0.1" filter="url(#bb6)"/><rect x="1440" y="221" width="44.75" height="17" rx="5" fill="#000" opacity="0.35" filter="url(#bb3)"/><rect x="1442" y="224.5" width="40.75" height="10" rx="5" fill="#000" opacity="0.95" filter="url(#bb15)"/><rect x="1445" y="226" width="34.75" height="7" rx="3.5" fill="#000" opacity="0.9" filter="url(#bb1)"/><rect x="1491" y="214.5" width="50.75" height="32" rx="5" fill="#000" opacity="0.1" filter="url(#bb6)"/><rect x="1493" y="221" width="46.75" height="17" rx="5" fill="#000" opacity="0.35" filter="url(#bb3)"/><rect x="1495" y="224.5" width="42.75" height="10" rx="5" fill="#000" opacity="0.95" filter="url(#bb15)"/><rect x="1498" y="226" width="36.75" height="7" rx="3.5" fill="#000" opacity="0.9" filter="url(#bb1)"/><rect x="1547" y="214.5" width="48" height="32" rx="5" fill="#000" opacity="0.1" filter="url(#bb6)"/><rect x="1549" y="221" width="44" height="17" rx="5" fill="#000" opacity="0.35" filter="url(#bb3)"/><rect x="1551" y="224.5" width="40" height="10" rx="5" fill="#000" opacity="0.95" filter="url(#bb15)"/><rect x="1554" y="226" width="34" height="7" rx="3.5" fill="#000" opacity="0.9" filter="url(#bb1)"/><rect x="1658" y="216" width="46" height="30" rx="5" fill="#000" opacity="0.08" filter="url(#bb6)"/><rect x="1661" y="224" width="40" height="11" rx="5" fill="#000" opacity="0.22" filter="url(#bb3)"/><rect x="1663" y="226.5" width="36" height="6" rx="3" fill="#000" opacity="0.62" filter="url(#bb2)"/><rect x="1713" y="216" width="46" height="30" rx="5" fill="#000" opacity="0.08" filter="url(#bb6)"/><rect x="1716" y="224" width="40" height="11" rx="5" fill="#000" opacity="0.19" filter="url(#bb3)"/><rect x="1718" y="226.5" width="36" height="6" rx="3" fill="#000" opacity="0.55" filter="url(#bb2)"/><rect x="1768" y="216" width="46" height="30" rx="5" fill="#000" opacity="0.08" filter="url(#bb6)"/><rect x="1771" y="224" width="40" height="11" rx="5" fill="#000" opacity="0.19" filter="url(#bb3)"/><rect x="1773" y="226.5" width="36" height="6" rx="3" fill="#000" opacity="0.55" filter="url(#bb2)"/><rect x="1820.75" y="216" width="42.25" height="30" rx="5" fill="#000" opacity="0.08" filter="url(#bb6)"/><rect x="1823.75" y="224" width="36.25" height="11" rx="5" fill="#000" opacity="0.19" filter="url(#bb3)"/><rect x="1825.75" y="226.5" width="32.25" height="6" rx="3" fill="#000" opacity="0.55" filter="url(#bb2)"/><rect x="1870.75" y="216" width="48.25" height="30" rx="5" fill="#000" opacity="0.08" filter="url(#bb6)"/><rect x="1873.75" y="224" width="42.25" height="11" rx="5" fill="#000" opacity="0.23" filter="url(#bb3)"/><rect x="1875.75" y="226.5" width="38.25" height="6" rx="3" fill="#000" opacity="0.65" filter="url(#bb2)"/></g><rect x="1320" y="197.5" width="616.25" height="65.5" fill="none" stroke="#000" stroke-width="2.5"/><clipPath id="clip_b3"><rect x="1318.75" y="274.5" width="618.75" height="68.75"/></clipPath><rect x="1318.75" y="274.5" width="618.75" height="68.75" fill="#e6e6e6" stroke="none" stroke-width="0"/><g clip-path="url(#clip_b3)"><rect x="1318.75" y="274.5" width="618.75" height="68.75" fill="url(#blotlite)"/><rect x="1330.75" y="294.5" width="49.75" height="32" rx="5" fill="#000" opacity="0.1" filter="url(#bb6)"/><rect x="1332.75" y="301" width="45.75" height="17" rx="5" fill="#000" opacity="0.35" filter="url(#bb3)"/><rect x="1334.75" y="304.5" width="41.75" height="10" rx="5" fill="#000" opacity="0.95" filter="url(#bb15)"/><rect x="1337.75" y="306" width="35.75" height="7" rx="3.5" fill="#000" opacity="0.9" filter="url(#bb1)"/><rect x="1331.75" y="283" width="47.75" height="26" rx="5" fill="#000" opacity="0.1" filter="url(#bb6)"/><rect x="1387" y="295.5" width="42" height="30" rx="5" fill="#000" opacity="0.1" filter="url(#bb6)"/><rect x="1389" y="302" width="38" height="15" rx="5" fill="#000" opacity="0.35" filter="url(#bb3)"/><rect x="1391" y="305.5" width="34" height="8" rx="4" fill="#000" opacity="0.95" filter="url(#bb15)"/><rect x="1394" y="307" width="28" height="5" rx="2.5" fill="#000" opacity="0.9" filter="url(#bb1)"/><rect x="1388" y="283" width="40" height="26" rx="5" fill="#000" opacity="0.1" filter="url(#bb6)"/><rect x="1437" y="294.5" width="51" height="32" rx="5" fill="#000" opacity="0.1" filter="url(#bb6)"/><rect x="1439" y="301" width="47" height="17" rx="5" fill="#000" opacity="0.35" filter="url(#bb3)"/><rect x="1441" y="304.5" width="43" height="10" rx="5" fill="#000" opacity="0.95" filter="url(#bb15)"/><rect x="1444" y="306" width="37" height="7" rx="3.5" fill="#000" opacity="0.9" filter="url(#bb1)"/><rect x="1438" y="283" width="49" height="26" rx="5" fill="#000" opacity="0.1" filter="url(#bb6)"/><rect x="1489" y="294.5" width="51.5" height="32" rx="5" fill="#000" opacity="0.1" filter="url(#bb6)"/><rect x="1491" y="301" width="47.5" height="17" rx="5" fill="#000" opacity="0.35" filter="url(#bb3)"/><rect x="1493" y="304.5" width="43.5" height="10" rx="5" fill="#000" opacity="0.95" filter="url(#bb15)"/><rect x="1496" y="306" width="37.5" height="7" rx="3.5" fill="#000" opacity="0.9" filter="url(#bb1)"/><rect x="1490" y="283" width="49.5" height="26" rx="5" fill="#000" opacity="0.1" filter="url(#bb6)"/><rect x="1545.75" y="294.5" width="49.75" height="32" rx="5" fill="#000" opacity="0.1" filter="url(#bb6)"/><rect x="1547.75" y="301" width="45.75" height="17" rx="5" fill="#000" opacity="0.35" filter="url(#bb3)"/><rect x="1549.75" y="304.5" width="41.75" height="10" rx="5" fill="#000" opacity="0.95" filter="url(#bb15)"/><rect x="1552.75" y="306" width="35.75" height="7" rx="3.5" fill="#000" opacity="0.9" filter="url(#bb1)"/><rect x="1546.75" y="283" width="47.75" height="26" rx="5" fill="#000" opacity="0.1" filter="url(#bb6)"/><rect x="1654" y="294.5" width="45" height="32" rx="5" fill="#000" opacity="0.1" filter="url(#bb6)"/><rect x="1656" y="301" width="41" height="17" rx="5" fill="#000" opacity="0.35" filter="url(#bb3)"/><rect x="1658" y="304.5" width="37" height="10" rx="5" fill="#000" opacity="0.95" filter="url(#bb15)"/><rect x="1661" y="306" width="31" height="7" rx="3.5" fill="#000" opacity="0.9" filter="url(#bb1)"/><rect x="1655" y="283" width="43" height="26" rx="5" fill="#000" opacity="0.1" filter="url(#bb6)"/><rect x="1707" y="294" width="51" height="33" rx="5" fill="#000" opacity="0.1" filter="url(#bb6)"/><rect x="1709" y="300.5" width="47" height="18" rx="5" fill="#000" opacity="0.35" filter="url(#bb3)"/><rect x="1711" y="304" width="43" height="11" rx="5" fill="#000" opacity="0.95" filter="url(#bb15)"/><rect x="1714" y="305.5" width="37" height="8" rx="4" fill="#000" opacity="0.9" filter="url(#bb1)"/><rect x="1708" y="283" width="49" height="26" rx="5" fill="#000" opacity="0.1" filter="url(#bb6)"/><rect x="1765" y="295" width="43.5" height="31" rx="5" fill="#000" opacity="0.1" filter="url(#bb6)"/><rect x="1767" y="301.5" width="39.5" height="16" rx="5" fill="#000" opacity="0.35" filter="url(#bb3)"/><rect x="1769" y="305" width="35.5" height="9" rx="4.5" fill="#000" opacity="0.95" filter="url(#bb15)"/><rect x="1772" y="306.5" width="29.5" height="6" rx="3" fill="#000" opacity="0.9" filter="url(#bb1)"/><rect x="1766" y="283" width="41.5" height="26" rx="5" fill="#000" opacity="0.1" filter="url(#bb6)"/><rect x="1815" y="293.5" width="50.5" height="34" rx="5" fill="#000" opacity="0.1" filter="url(#bb6)"/><rect x="1817" y="300" width="46.5" height="19" rx="5" fill="#000" opacity="0.35" filter="url(#bb3)"/><rect x="1819" y="303.5" width="42.5" height="12" rx="5" fill="#000" opacity="0.95" filter="url(#bb15)"/><rect x="1822" y="305" width="36.5" height="9" rx="4.5" fill="#000" opacity="0.9" filter="url(#bb1)"/><rect x="1816" y="283" width="48.5" height="26" rx="5" fill="#000" opacity="0.1" filter="url(#bb6)"/><rect x="1871" y="293.5" width="50" height="34" rx="5" fill="#000" opacity="0.1" filter="url(#bb6)"/><rect x="1873" y="300" width="46" height="19" rx="5" fill="#000" opacity="0.35" filter="url(#bb3)"/><rect x="1875" y="303.5" width="42" height="12" rx="5" fill="#000" opacity="0.95" filter="url(#bb15)"/><rect x="1878" y="305" width="36" height="9" rx="4.5" fill="#000" opacity="0.9" filter="url(#bb1)"/><rect x="1872" y="283" width="48" height="26" rx="5" fill="#000" opacity="0.1" filter="url(#bb6)"/></g><rect x="1320" y="275.75" width="616.25" height="66.25" fill="none" stroke="#000" stroke-width="2.5"/><rect x="1472.3" y="387" width="40.2" height="16" fill="#d3d3d3" stroke="#000" stroke-width="2.4"/><rect x="1694.6" y="386.5" width="39.2" height="16" fill="#ff9656" stroke="#000" stroke-width="2.4"/><text x="1578.58" y="406" font-family="'Liberation Sans', sans-serif" font-size="32" font-weight="bold" fill="#000" text-anchor="middle">siCtrl</text><text x="1825.5" y="406.3" font-family="'Liberation Sans', sans-serif" font-size="32" font-weight="bold" fill="#000" text-anchor="middle">siSENP1</text><text x="1364.5" y="393.75" font-family="'Liberation Sans', sans-serif" font-size="30" font-weight="bold" fill="#000" text-anchor="end">1.5</text><text x="1364.5" y="536" font-family="'Liberation Sans', sans-serif" font-size="30" font-weight="bold" fill="#000" text-anchor="end">1.0</text><text x="1364.5" y="677.5" font-family="'Liberation Sans', sans-serif" font-size="30" font-weight="bold" fill="#000" text-anchor="end">0.5</text><text x="1364.5" y="820.5" font-family="'Liberation Sans', sans-serif" font-size="30" font-weight="bold" fill="#000" text-anchor="end">0.0</text><text x="1239.8" y="604.5" font-family="'Liberation Sans', sans-serif" font-size="39" font-weight="bold" fill="#000" text-anchor="middle" transform="rotate(-90 1239.8 604.5)">Relative expression</text><text x="1287.9" y="607.2" font-family="'Liberation Sans', sans-serif" font-size="39" font-weight="bold" fill="#000" text-anchor="middle" transform="rotate(-90 1287.9 607.2)">of ZnT6</text><text x="1425" y="854.5" font-family="'Liberation Sans', sans-serif" font-size="33.5" font-weight="bold" fill="#000" text-anchor="middle">0</text><text x="1549.5" y="854.5" font-family="'Liberation Sans', sans-serif" font-size="33.5" font-weight="bold" fill="#000" text-anchor="middle">3</text><text x="1659.3" y="854.5" font-family="'Liberation Sans', sans-serif" font-size="33.5" font-weight="bold" fill="#000" text-anchor="middle">6</text><text x="1775.7" y="854.5" font-family="'Liberation Sans', sans-serif" font-size="33.5" font-weight="bold" fill="#000" text-anchor="middle">9</text><text x="1888.6" y="854.5" font-family="'Liberation Sans', sans-serif" font-size="33.5" font-weight="bold" fill="#000" text-anchor="middle">12</text><text x="1978.6" y="859" font-family="'Liberation Sans', sans-serif" font-size="41.5" font-weight="bold" fill="#000" text-anchor="middle">(h)</text><rect x="1401.75" y="527.5" width="26" height="282.5" fill="#d3d3d3" stroke="#000" stroke-width="2"/><rect x="1440.5" y="527.5" width="26" height="282.5" fill="#ff9656" stroke="#000" stroke-width="2"/><rect x="1515.5" y="578.75" width="26" height="231.25" fill="#d3d3d3" stroke="#000" stroke-width="2"/><rect x="1554.25" y="585.5" width="26" height="224.5" fill="#ff9656" stroke="#000" stroke-width="2"/><rect x="1628.6" y="592.3" width="26" height="217.7" fill="#d3d3d3" stroke="#000" stroke-width="2"/><rect x="1667" y="591" width="26" height="219" fill="#ff9656" stroke="#000" stroke-width="2"/><rect x="1742.2" y="612.7" width="26" height="197.3" fill="#d3d3d3" stroke="#000" stroke-width="2"/><rect x="1780" y="654.4" width="26" height="155.6" fill="#ff9656" stroke="#000" stroke-width="2"/><rect x="1855.5" y="616.8" width="26" height="193.2" fill="#d3d3d3" stroke="#000" stroke-width="2"/><rect x="1894" y="667.7" width="26" height="142.3" fill="#ff9656" stroke="#000" stroke-width="2"/><line x1="1390.75" y1="381" x2="1390.75" y2="812.5" stroke="#000" stroke-width="2" stroke-linecap="butt"/><line x1="1373" y1="810" x2="1937.7" y2="810" stroke="#000" stroke-width="2" stroke-linecap="butt"/><line x1="1373" y1="382" x2="1390.75" y2="382" stroke="#000" stroke-width="2" stroke-linecap="butt"/><line x1="1373" y1="525" x2="1390.75" y2="525" stroke="#000" stroke-width="2" stroke-linecap="butt"/><line x1="1373" y1="667.3" x2="1390.75" y2="667.3" stroke="#000" stroke-width="2" stroke-linecap="butt"/><line x1="1399.25" y1="527.5" x2="1430.25" y2="527.5" stroke="#000" stroke-width="2" stroke-linecap="butt"/><line x1="1414.75" y1="511.75" x2="1414.75" y2="539" stroke="#000" stroke-width="2" stroke-linecap="butt"/><line x1="1407.25" y1="511.75" x2="1422.25" y2="511.75" stroke="#000" stroke-width="2" stroke-linecap="butt"/><line x1="1407.25" y1="539" x2="1422.25" y2="539" stroke="#000" stroke-width="2" stroke-linecap="butt"/><circle cx="1415" cy="499.5" r="5.7" fill="none" stroke="#000" stroke-width="2"/><circle cx="1415" cy="531" r="5.7" fill="none" stroke="#000" stroke-width="2"/><circle cx="1415" cy="545" r="5.7" fill="none" stroke="#000" stroke-width="2"/><line x1="1438" y1="527.5" x2="1469" y2="527.5" stroke="#000" stroke-width="2" stroke-linecap="butt"/><line x1="1453.5" y1="503" x2="1453.5" y2="547.5" stroke="#000" stroke-width="2" stroke-linecap="butt"/><line x1="1446" y1="503" x2="1461" y2="503" stroke="#000" stroke-width="2" stroke-linecap="butt"/><line x1="1446" y1="547.5" x2="1461" y2="547.5" stroke="#000" stroke-width="2" stroke-linecap="butt"/><circle cx="1453" cy="495" r="5.7" fill="none" stroke="#000" stroke-width="2"/><circle cx="1453" cy="513" r="5.7" fill="none" stroke="#000" stroke-width="2"/><circle cx="1453" cy="567" r="5.7" fill="none" stroke="#000" stroke-width="2"/><line x1="1513" y1="578.75" x2="1544" y2="578.75" stroke="#000" stroke-width="2" stroke-linecap="butt"/><line x1="1528.5" y1="574" x2="1528.5" y2="583" stroke="#000" stroke-width="2" stroke-linecap="butt"/><line x1="1521" y1="574" x2="1536" y2="574" stroke="#000" stroke-width="2" stroke-linecap="butt"/><line x1="1521" y1="583" x2="1536" y2="583" stroke="#000" stroke-width="2" stroke-linecap="butt"/><circle cx="1519" cy="578.75" r="5.7" fill="none" stroke="#000" stroke-width="2"/><circle cx="1528" cy="570.5" r="5.7" fill="none" stroke="#000" stroke-width="2"/><circle cx="1537.5" cy="578.75" r="5.7" fill="none" stroke="#000" stroke-width="2"/><line x1="1551.75" y1="585.5" x2="1582.75" y2="585.5" stroke="#000" stroke-width="2" stroke-linecap="butt"/><line x1="1567.25" y1="577" x2="1567.25" y2="590" stroke="#000" stroke-width="2" stroke-linecap="butt"/><line x1="1559.75" y1="577" x2="1574.75" y2="577" stroke="#000" stroke-width="2" stroke-linecap="butt"/><line x1="1559.75" y1="590" x2="1574.75" y2="590" stroke="#000" stroke-width="2" stroke-linecap="butt"/><circle cx="1567" cy="577" r="5.7" fill="none" stroke="#000" stroke-width="2"/><circle cx="1576" cy="575" r="5.7" fill="none" stroke="#000" stroke-width="2"/><circle cx="1567" cy="597.5" r="5.7" fill="none" stroke="#000" stroke-width="2"/><line x1="1626.1" y1="592.3" x2="1657.1" y2="592.3" stroke="#000" stroke-width="2" stroke-linecap="butt"/><line x1="1641.6" y1="580" x2="1641.6" y2="600" stroke="#000" stroke-width="2" stroke-linecap="butt"/><line x1="1634.1" y1="580" x2="1649.1" y2="580" stroke="#000" stroke-width="2" stroke-linecap="butt"/><line x1="1634.1" y1="600" x2="1649.1" y2="600" stroke="#000" stroke-width="2" stroke-linecap="butt"/><circle cx="1641.7" cy="585.4" r="5.7" fill="none" stroke="#000" stroke-width="2"/><circle cx="1650.7" cy="576.4" r="5.7" fill="none" stroke="#000" stroke-width="2"/><circle cx="1641.7" cy="609" r="5.7" fill="none" stroke="#000" stroke-width="2"/><line x1="1664.5" y1="591" x2="1695.5" y2="591" stroke="#000" stroke-width="2" stroke-linecap="butt"/><line x1="1680" y1="581" x2="1680" y2="597.4" stroke="#000" stroke-width="2" stroke-linecap="butt"/><line x1="1672.5" y1="581" x2="1687.5" y2="581" stroke="#000" stroke-width="2" stroke-linecap="butt"/><line x1="1672.5" y1="597.4" x2="1687.5" y2="597.4" stroke="#000" stroke-width="2" stroke-linecap="butt"/><circle cx="1680" cy="585.4" r="5.7" fill="none" stroke="#000" stroke-width="2"/><circle cx="1689.5" cy="577" r="5.7" fill="none" stroke="#000" stroke-width="2"/><circle cx="1680" cy="604.5" r="5.7" fill="none" stroke="#000" stroke-width="2"/><line x1="1739.7" y1="612.7" x2="1770.7" y2="612.7" stroke="#000" stroke-width="2" stroke-linecap="butt"/><line x1="1755.2" y1="602.7" x2="1755.2" y2="618.6" stroke="#000" stroke-width="2" stroke-linecap="butt"/><line x1="1747.7" y1="602.7" x2="1762.7" y2="602.7" stroke="#000" stroke-width="2" stroke-linecap="butt"/><line x1="1747.7" y1="618.6" x2="1762.7" y2="618.6" stroke="#000" stroke-width="2" stroke-linecap="butt"/><circle cx="1755.3" cy="594.8" r="5.7" fill="none" stroke="#000" stroke-width="2"/><circle cx="1764.2" cy="614.8" r="5.7" fill="none" stroke="#000" stroke-width="2"/><circle cx="1746.3" cy="623.7" r="5.7" fill="none" stroke="#000" stroke-width="2"/><line x1="1777.5" y1="654.4" x2="1808.5" y2="654.4" stroke="#000" stroke-width="2" stroke-linecap="butt"/><line x1="1793" y1="649.3" x2="1793" y2="659" stroke="#000" stroke-width="2" stroke-linecap="butt"/><line x1="1785.5" y1="649.3" x2="1800.5" y2="649.3" stroke="#000" stroke-width="2" stroke-linecap="butt"/><line x1="1785.5" y1="659" x2="1800.5" y2="659" stroke="#000" stroke-width="2" stroke-linecap="butt"/><circle cx="1793.1" cy="648" r="5.7" fill="none" stroke="#000" stroke-width="2"/><circle cx="1802" cy="643.4" r="5.7" fill="none" stroke="#000" stroke-width="2"/><circle cx="1793.1" cy="665.2" r="5.7" fill="none" stroke="#000" stroke-width="2"/><line x1="1853" y1="616.8" x2="1884" y2="616.8" stroke="#000" stroke-width="2" stroke-linecap="butt"/><line x1="1868.5" y1="605.8" x2="1868.5" y2="624.2" stroke="#000" stroke-width="2" stroke-linecap="butt"/><line x1="1861" y1="605.8" x2="1876" y2="605.8" stroke="#000" stroke-width="2" stroke-linecap="butt"/><line x1="1861" y1="624.2" x2="1876" y2="624.2" stroke="#000" stroke-width="2" stroke-linecap="butt"/><circle cx="1859.7" cy="604.5" r="5.7" fill="none" stroke="#000" stroke-width="2"/><circle cx="1877.6" cy="605.8" r="5.7" fill="none" stroke="#000" stroke-width="2"/><circle cx="1868.6" cy="633.4" r="5.7" fill="none" stroke="#000" stroke-width="2"/><line x1="1891.5" y1="667.7" x2="1922.5" y2="667.7" stroke="#000" stroke-width="2" stroke-linecap="butt"/><line x1="1907" y1="659" x2="1907" y2="672.8" stroke="#000" stroke-width="2" stroke-linecap="butt"/><line x1="1899.5" y1="659" x2="1914.5" y2="659" stroke="#000" stroke-width="2" stroke-linecap="butt"/><line x1="1899.5" y1="672.8" x2="1914.5" y2="672.8" stroke="#000" stroke-width="2" stroke-linecap="butt"/><circle cx="1907" cy="665.2" r="5.7" fill="none" stroke="#000" stroke-width="2"/><circle cx="1916" cy="654.4" r="5.7" fill="none" stroke="#000" stroke-width="2"/><circle cx="1907" cy="678" r="5.7" fill="none" stroke="#000" stroke-width="2"/><line x1="1415" y1="484.5" x2="1453.75" y2="484.5" stroke="#000" stroke-width="2" stroke-linecap="butt"/><line x1="1530" y1="558" x2="1568.75" y2="558" stroke="#000" stroke-width="2" stroke-linecap="butt"/><line x1="1642" y1="563.9" x2="1681" y2="563.9" stroke="#000" stroke-width="2" stroke-linecap="butt"/><line x1="1752.7" y1="582.3" x2="1791.4" y2="582.3" stroke="#000" stroke-width="2" stroke-linecap="butt"/><line x1="1868.6" y1="587.4" x2="1907.5" y2="587.4" stroke="#000" stroke-width="2" stroke-linecap="butt"/><text x="1436.38" y="478" font-family="'Liberation Sans', sans-serif" font-size="35" font-weight="normal" fill="#000" text-anchor="middle">ns</text><text x="1548.88" y="551" font-family="'Liberation Sans', sans-serif" font-size="35" font-weight="normal" fill="#000" text-anchor="middle">ns</text><text x="1661.9" y="557.7" font-family="'Liberation Sans', sans-serif" font-size="35" font-weight="normal" fill="#000" text-anchor="middle">ns</text><text x="1775.7" y="585" font-family="'Liberation Sans', sans-serif" font-size="40" font-weight="bold" fill="#000" text-anchor="middle">*</text><text x="1889.8" y="589" font-family="'Liberation Sans', sans-serif" font-size="40" font-weight="bold" fill="#000" text-anchor="middle">*</text>
<text x="1" y="973.5" font-family="'Liberation Sans', sans-serif" font-size="63" font-weight="bold" fill="#000" text-anchor="start">c</text><text x="347.15" y="996.8" font-family="'Liberation Sans', sans-serif" font-size="35" font-weight="bold" fill="#000" text-anchor="middle">NC</text><text x="774.2" y="996.4" font-family="'Liberation Sans', sans-serif" font-size="35.3" font-weight="bold" fill="#000" text-anchor="middle">siSENP1</text><line x1="239.6" y1="1005.9" x2="466" y2="1005.9" stroke="#000" stroke-width="3.2" stroke-linecap="butt"/><line x1="663.2" y1="1005" x2="890.3" y2="1005" stroke="#000" stroke-width="3.2" stroke-linecap="butt"/><text x="233.85" y="1048.6" font-family="'Liberation Sans', sans-serif" font-size="35.5" font-weight="bold" fill="#000" text-anchor="middle">Control</text><text x="463.6" y="1048.6" font-family="'Liberation Sans', sans-serif" font-size="35.5" font-weight="bold" fill="#000" text-anchor="middle">Zn</text><text x="657.5" y="1048.2" font-family="'Liberation Sans', sans-serif" font-size="35.5" font-weight="bold" fill="#000" text-anchor="middle">Control</text><text x="896.4" y="1048.2" font-family="'Liberation Sans', sans-serif" font-size="35.5" font-weight="bold" fill="#000" text-anchor="middle">Zn</text><text x="116.3" y="1158.85" font-family="'Liberation Sans', sans-serif" font-size="35.6" font-weight="bold" fill="#0000ff" text-anchor="middle" transform="rotate(-90 116.3 1158.85)">Hoechst</text><text x="115.8" y="1371.2" font-family="'Liberation Sans', sans-serif" font-size="35.6" font-weight="bold" fill="#0a9648" text-anchor="middle" transform="rotate(-90 115.8 1371.2)">ZnT6</text><text x="115.8" y="1590.35" font-family="'Liberation Sans', sans-serif" font-size="35.2" font-weight="bold" fill="#c1272d" text-anchor="middle" transform="rotate(-90 115.8 1590.35)">Golgi</text><text x="115.9" y="1790.95" font-family="'Liberation Sans', sans-serif" font-size="35.4" font-weight="bold" fill="#000" text-anchor="middle" transform="rotate(-90 115.9 1790.95)"><tspan fill="#0000ff">M</tspan><tspan fill="#0a9648">e</tspan><tspan fill="#c1272d">r</tspan><tspan fill="#0000ff">g</tspan><tspan fill="#0a9648">e</tspan></text>
<text x="1120" y="972.8" font-family="'Liberation Sans', sans-serif" font-size="63" font-weight="bold" fill="#000" text-anchor="start">e</text><text x="1399.8" y="990.8" font-family="'Liberation Sans', sans-serif" font-size="35" font-weight="bold" fill="#000" text-anchor="middle">NC</text><text x="1819.75" y="991.2" font-family="'Liberation Sans', sans-serif" font-size="35.3" font-weight="bold" fill="#000" text-anchor="middle">siSENP1</text><line x1="1281.4" y1="999.5" x2="1508.3" y2="999.5" stroke="#000" stroke-width="3.2" stroke-linecap="butt"/><line x1="1705" y1="999.5" x2="1932.1" y2="999.5" stroke="#000" stroke-width="3.2" stroke-linecap="butt"/><text x="1290.45" y="1042.6" font-family="'Liberation Sans', sans-serif" font-size="35.5" font-weight="bold" fill="#000" text-anchor="middle">Control</text><text x="1505.8" y="1042.6" font-family="'Liberation Sans', sans-serif" font-size="35.5" font-weight="bold" fill="#000" text-anchor="middle">Zn</text><text x="1717.65" y="1042.3" font-family="'Liberation Sans', sans-serif" font-size="35.5" font-weight="bold" fill="#000" text-anchor="middle">Control</text><text x="1927.6" y="1042.3" font-family="'Liberation Sans', sans-serif" font-size="35.5" font-weight="bold" fill="#000" text-anchor="middle">Zn</text><text x="1168.5" y="1158.85" font-family="'Liberation Sans', sans-serif" font-size="35.6" font-weight="bold" fill="#0000ff" text-anchor="middle" transform="rotate(-90 1168.5 1158.85)">Hoechst</text><text x="1168.4" y="1393.15" font-family="'Liberation Sans', sans-serif" font-size="35.6" font-weight="bold" fill="#0a9648" text-anchor="middle" transform="rotate(-90 1168.4 1393.15)">Zn</text><text x="1168.4" y="1590.35" font-family="'Liberation Sans', sans-serif" font-size="35.2" font-weight="bold" fill="#c1272d" text-anchor="middle" transform="rotate(-90 1168.4 1590.35)">Golgi</text><text x="1168.4" y="1791.25" font-family="'Liberation Sans', sans-serif" font-size="35.4" font-weight="bold" fill="#000" text-anchor="middle" transform="rotate(-90 1168.4 1791.25)"><tspan fill="#0000ff">M</tspan><tspan fill="#0a9648">e</tspan><tspan fill="#c1272d">r</tspan><tspan fill="#0000ff">g</tspan><tspan fill="#0a9648">e</tspan></text>
<text x="1" y="2011" font-family="'Liberation Sans', sans-serif" font-size="63" font-weight="bold" fill="#000" text-anchor="start">d</text><text x="233.85" y="2062" font-family="'Liberation Sans', sans-serif" font-size="35.9" font-weight="bold" fill="#0000ff" text-anchor="middle">Hoechst</text><text x="443.05" y="2062" font-family="'Liberation Sans', sans-serif" font-size="35.5" font-weight="bold" fill="#0a9648" text-anchor="middle">HA</text><text x="651.25" y="2061.8" font-family="'Liberation Sans', sans-serif" font-size="35.2" font-weight="bold" fill="#c1272d" text-anchor="middle">Golgi</text><text x="871.45" y="2056" font-family="'Liberation Sans', sans-serif" font-size="35.3" font-weight="bold" fill="#000" text-anchor="middle"><tspan fill="#0000ff">M</tspan><tspan fill="#0a9648">e</tspan><tspan fill="#c1272d">r</tspan><tspan fill="#0000ff">g</tspan><tspan fill="#0a9648">e</tspan></text><text x="112" y="2175.55" font-family="'Liberation Sans', sans-serif" font-size="35.9" font-weight="bold" fill="#000" text-anchor="middle" transform="rotate(-90 112 2175.55)">ZnT6-WT</text><text x="112.7" y="2385.65" font-family="'Liberation Sans', sans-serif" font-size="35.9" font-weight="bold" fill="#000" text-anchor="middle" transform="rotate(-90 112.7 2385.65)">ZnT6-K409R</text>
<svg x="130.2" y="1059.2" width="205.4" height="205" viewBox="0 0 205 205" preserveAspectRatio="none"><g style="isolation:isolate"><rect width="205" height="205" fill="#000"/><g style="mix-blend-mode:screen"><ellipse cx="100" cy="81.7" rx="52.65" ry="52.65" fill="#0000ff" opacity="0.1" filter="url(#g5)"/><ellipse cx="100" cy="81.7" rx="39" ry="39" fill="#0000ff" filter="url(#g12)"/><ellipse cx="86" cy="60" rx="4" ry="3.2" fill="#00007a" opacity="0.75" filter="url(#g12)"/><ellipse cx="101" cy="56" rx="3" ry="2.4" fill="#00007a" opacity="0.75" filter="url(#g12)"/><ellipse cx="122" cy="72" rx="3" ry="2.4" fill="#00007a" opacity="0.75" filter="url(#g12)"/><ellipse cx="121" cy="97" rx="4" ry="3.2" fill="#00007a" opacity="0.75" filter="url(#g12)"/><ellipse cx="93" cy="105" rx="5" ry="4" fill="#00007a" opacity="0.75" filter="url(#g12)"/><ellipse cx="82" cy="97" rx="3" ry="2.4" fill="#00007a" opacity="0.75" filter="url(#g12)"/></g></g></svg><svg x="130.2" y="1270.8" width="205.4" height="205" viewBox="0 0 205 205" preserveAspectRatio="none"><g style="isolation:isolate"><rect width="205" height="205" fill="#000"/><g style="mix-blend-mode:screen"><ellipse cx="99" cy="102" rx="78" ry="76" fill="#00c000" opacity="0.13" filter="url(#g8)"/><ellipse cx="135" cy="60" rx="25" ry="18" fill="#00c000" opacity="0.18" filter="url(#g8)"/><g filter="url(#g08)" opacity="0.62"><circle cx="40.69" cy="119.54" r="2.09" fill="#00d000"/><circle cx="41.98" cy="114.19" r="1.62" fill="#00d000"/><circle cx="122.38" cy="154.38" r="1.68" fill="#00d000"/><circle cx="106.97" cy="73.93" r="1.22" fill="#00d000"/><circle cx="159.97" cy="140.08" r="1.77" fill="#00d000"/><circle cx="175.59" cy="122.12" r="2.15" fill="#00d000"/><circle cx="62.82" cy="50.84" r="1.02" fill="#00d000"/><circle cx="158.17" cy="107.45" r="0.88" fill="#00d000"/><circle cx="114.53" cy="140.38" r="0.84" fill="#00d000"/><circle cx="45.64" cy="114" r="1.98" fill="#00d000"/><circle cx="34.56" cy="94.41" r="1.5" fill="#00d000"/><circle cx="69.89" cy="55.72" r="1.19" fill="#00d000"/><circle cx="178.83" cy="100.85" r="1.98" fill="#00d000"/><circle cx="86.61" cy="57.5" r="1.12" fill="#00d000"/><circle cx="92.36" cy="127.85" r="1.87" fill="#00d000"/><circle cx="39.07" cy="144.23" r="1.34" fill="#00d000"/><circle cx="170.41" cy="83.21" r="0.8" fill="#00d000"/><circle cx="118.16" cy="174.22" r="1.46" fill="#00d000"/><circle cx="150.91" cy="95.72" r="0.9" fill="#00d000"/><circle cx="50.16" cy="51.64" r="1.18" fill="#00d000"/><circle cx="140.32" cy="126.56" r="2.15" fill="#00d000"/><circle cx="100.63" cy="70.64" r="1.14" fill="#00d000"/><circle cx="120.06" cy="117.13" r="1.92" fill="#00d000"/><circle cx="125.77" cy="155.44" r="1.43" fill="#00d000"/><circle cx="124.15" cy="164.72" r="0.98" fill="#00d000"/><circle cx="79.14" cy="77.45" r="1.39" fill="#00d000"/><circle cx="109.24" cy="144" r="2.16" fill="#00d000"/><circle cx="114.34" cy="59.12" r="2.04" fill="#00d000"/><circle cx="111.74" cy="151.28" r="2" fill="#00d000"/><circle cx="79.83" cy="78.87" r="2.19" fill="#00d000"/><circle cx="108.95" cy="143.27" r="1.88" fill="#00d000"/><circle cx="77.08" cy="141.5" r="0.9" fill="#00d000"/><circle cx="151.45" cy="134.51" r="1.14" fill="#00d000"/><circle cx="58.15" cy="72.57" r="1.43" fill="#00d000"/><circle cx="154.23" cy="87.86" r="1.6" fill="#00d000"/><circle cx="124.29" cy="74.56" r="1.02" fill="#00d000"/><circle cx="160.03" cy="63.4" r="1.15" fill="#00d000"/><circle cx="124.63" cy="164.88" r="2.12" fill="#00d000"/><circle cx="124.71" cy="173.88" r="2.04" fill="#00d000"/><circle cx="56.28" cy="70.3" r="0.95" fill="#00d000"/><circle cx="175.26" cy="120.44" r="1.13" fill="#00d000"/><circle cx="86.79" cy="61.41" r="1.95" fill="#00d000"/><circle cx="61.3" cy="76.52" r="1.05" fill="#00d000"/><circle cx="107.25" cy="160.93" r="1.99" fill="#00d000"/><circle cx="65.13" cy="73.14" r="2.08" fill="#00d000"/><circle cx="104.85" cy="121.17" r="1.18" fill="#00d000"/><circle cx="74.29" cy="110.55" r="1.05" fill="#00d000"/><circle cx="57.15" cy="146.12" r="0.98" fill="#00d000"/><circle cx="49.94" cy="158.26" r="2.17" fill="#00d000"/><circle cx="61.88" cy="47.33" r="1.62" fill="#00d000"/><circle cx="113.68" cy="119.38" r="0.83" fill="#00d000"/><circle cx="156.2" cy="66.71" r="2.15" fill="#00d000"/><circle cx="163.14" cy="110.4" r="1.48" fill="#00d000"/><circle cx="93.19" cy="56.01" r="2.2" fill="#00d000"/><circle cx="152.71" cy="128.79" r="1.83" fill="#00d000"/><circle cx="155.11" cy="62.36" r="1.79" fill="#00d000"/><circle cx="119.6" cy="29.96" r="1.29" fill="#00d000"/><circle cx="68.83" cy="33.84" r="2.02" fill="#00d000"/><circle cx="36.88" cy="136.72" r="2.01" fill="#00d000"/><circle cx="41.41" cy="74.36" r="1.34" fill="#00d000"/><circle cx="43.95" cy="71.3" r="0.91" fill="#00d000"/><circle cx="47.94" cy="42.28" r="2.03" fill="#00d000"/><circle cx="91.93" cy="51.98" r="1.83" fill="#00d000"/><circle cx="51.17" cy="76" r="1.97" fill="#00d000"/><circle cx="159.41" cy="136.23" r="0.84" fill="#00d000"/><circle cx="53.19" cy="69" r="1.12" fill="#00d000"/><circle cx="80.56" cy="48.57" r="1.66" fill="#00d000"/><circle cx="137.01" cy="81.77" r="0.82" fill="#00d000"/><circle cx="77.99" cy="163.68" r="1.08" fill="#00d000"/><circle cx="135.94" cy="167.13" r="1.72" fill="#00d000"/><circle cx="28.21" cy="128.36" r="1.26" fill="#00d000"/><circle cx="79.3" cy="69.1" r="1.4" fill="#00d000"/><circle cx="125.42" cy="31.82" r="2.03" fill="#00d000"/><circle cx="52.51" cy="142.25" r="1.24" fill="#00d000"/><circle cx="136.89" cy="144.53" r="1.97" fill="#00d000"/><circle cx="138.61" cy="47.93" r="2.13" fill="#00d000"/><circle cx="92.85" cy="137.3" r="1.43" fill="#00d000"/><circle cx="92.66" cy="140.77" r="1.38" fill="#00d000"/><circle cx="58.43" cy="62.08" r="1.24" fill="#00d000"/><circle cx="141.13" cy="36.48" r="1.43" fill="#00d000"/><circle cx="119.17" cy="111.97" r="2.02" fill="#00d000"/><circle cx="164.73" cy="119.1" r="1.6" fill="#00d000"/><circle cx="73.03" cy="167.1" r="0.83" fill="#00d000"/><circle cx="135.5" cy="142.82" r="0.83" fill="#00d000"/><circle cx="119.15" cy="66.08" r="1" fill="#00d000"/><circle cx="160.6" cy="120.25" r="1.43" fill="#00d000"/><circle cx="54.09" cy="55.39" r="1.93" fill="#00d000"/><circle cx="163.68" cy="85.16" r="1.08" fill="#00d000"/><circle cx="61.95" cy="107.69" r="0.82" fill="#00d000"/><circle cx="31.76" cy="113.57" r="1.05" fill="#00d000"/><circle cx="92.11" cy="149.51" r="1.78" fill="#00d000"/><circle cx="35.84" cy="94.05" r="1.86" fill="#00d000"/><circle cx="42.79" cy="145.33" r="2.07" fill="#00d000"/><circle cx="165.07" cy="141.31" r="1.81" fill="#00d000"/><circle cx="137" cy="141.41" r="1.68" fill="#00d000"/><circle cx="142.14" cy="75.3" r="1.6" fill="#00d000"/><circle cx="151.18" cy="53.82" r="2.12" fill="#00d000"/><circle cx="35.27" cy="116.42" r="1.09" fill="#00d000"/><circle cx="86.23" cy="32.15" r="1.7" fill="#00d000"/><circle cx="90.89" cy="63.6" r="2.06" fill="#00d000"/><circle cx="177.54" cy="92.57" r="1.55" fill="#00d000"/><circle cx="111.07" cy="57.08" r="2.07" fill="#00d000"/><circle cx="129.46" cy="64.1" r="0.92" fill="#00d000"/><circle cx="42.58" cy="123.42" r="1.88" fill="#00d000"/><circle cx="76.87" cy="103.71" r="1.93" fill="#00d000"/><circle cx="165.24" cy="129.5" r="1.04" fill="#00d000"/><circle cx="62.61" cy="161.99" r="1" fill="#00d000"/><circle cx="133.97" cy="148.12" r="1.81" fill="#00d000"/><circle cx="134.98" cy="46.7" r="2.12" fill="#00d000"/><circle cx="21.04" cy="105.55" r="0.92" fill="#00d000"/></g><g filter="url(#gdot)"><circle cx="36.32" cy="60.12" r="4.1" fill="#14ff14"/><circle cx="60.12" cy="56.44" r="3" fill="#14ff14"/><circle cx="85.4" cy="52.27" r="4.65" fill="#14ff14"/><circle cx="79.26" cy="36.81" r="2.45" fill="#14ff14"/><circle cx="111.17" cy="41.72" r="4.92" fill="#14ff14"/><circle cx="108.71" cy="46.63" r="3" fill="#14ff14"/><circle cx="56.44" cy="74.85" r="5.75" fill="#14ff14"/><circle cx="136.93" cy="49.08" r="3" fill="rgb(14,178,14)"/><circle cx="157.79" cy="57.67" r="2.45" fill="rgb(14,178,14)"/><circle cx="171.29" cy="78.53" r="4.1" fill="#14ff14"/><circle cx="162.7" cy="90.8" r="2.72" fill="#14ff14"/><circle cx="152.88" cy="95.21" r="4.1" fill="#14ff14"/><circle cx="109.94" cy="93.25" r="3.55" fill="#14ff14"/><circle cx="140.61" cy="108.47" r="3" fill="#14ff14"/><circle cx="131.53" cy="110.92" r="2.17" fill="#14ff14"/><circle cx="37.55" cy="102.33" r="2.17" fill="#14ff14"/><circle cx="149.2" cy="131.29" r="4.37" fill="#14ff14"/><circle cx="41.23" cy="138.16" r="2.45" fill="#14ff14"/><circle cx="49.82" cy="138.65" r="2.72" fill="#14ff14"/><circle cx="120.25" cy="156.32" r="3.27" fill="#14ff14"/><circle cx="114.85" cy="170.55" r="2.72" fill="#14ff14"/><circle cx="131.53" cy="175.46" r="1.9" fill="#14ff14"/><circle cx="78.04" cy="163.19" r="2.45" fill="rgb(12,153,12)"/><circle cx="64.54" cy="153.37" r="1.62" fill="rgb(12,153,12)"/><circle cx="32.64" cy="128.83" r="1.9" fill="rgb(12,153,12)"/><circle cx="47.36" cy="53.99" r="1.9" fill="#14ff14"/><circle cx="132.02" cy="148.47" r="3" fill="rgb(10,127,10)"/><circle cx="17.91" cy="87.12" r="1.9" fill="rgb(10,127,10)"/><circle cx="80.49" cy="28.22" r="1.9" fill="rgb(10,127,10)"/><circle cx="165.15" cy="74.85" r="2.45" fill="rgb(14,178,14)"/><circle cx="101.35" cy="143.56" r="2.45" fill="rgb(8,102,8)"/><circle cx="35.09" cy="95.71" r="1.9" fill="rgb(10,127,10)"/></g></g></g></svg><svg x="130.2" y="1482.8" width="205.4" height="205" viewBox="0 0 205 205" preserveAspectRatio="none"><g style="isolation:isolate"><rect width="205" height="205" fill="#000"/><g style="mix-blend-mode:screen"><g filter="url(#rough)"><g><ellipse cx="101" cy="102" rx="86" ry="83" fill="#380000" filter="url(#g2)"/><ellipse cx="101" cy="102" rx="85" ry="82" fill="#ff0000" opacity="0.42" filter="url(#texbig)"/><ellipse cx="106" cy="82" rx="27" ry="27" fill="#000" opacity="0.85" filter="url(#g3)"/><ellipse cx="60" cy="120" rx="14" ry="14" fill="#000" opacity="0.45" filter="url(#g3)"/><ellipse cx="55" cy="150" rx="12" ry="12" fill="#000" opacity="0.4" filter="url(#g3)"/><ellipse cx="150" cy="105" rx="10" ry="10" fill="#000" opacity="0.35" filter="url(#g3)"/><ellipse cx="137" cy="56" rx="6.5" ry="6" fill="#ff1a1a" filter="url(#g12)"/><ellipse cx="153" cy="76" rx="11" ry="9" fill="#c80000" filter="url(#g12)"/><ellipse cx="118" cy="40" rx="8" ry="5" fill="#a00000" filter="url(#g12)"/><ellipse cx="40" cy="70" rx="12" ry="10" fill="#900000" filter="url(#g12)"/><ellipse cx="45" cy="140" rx="8" ry="5" fill="#d00000" filter="url(#g12)"/><ellipse cx="84" cy="24" rx="4" ry="3.5" fill="#e00000" filter="url(#g12)"/><ellipse cx="101" cy="102" rx="84.7" ry="81.7" fill="none" stroke="#e00000" stroke-width="2.6" filter="url(#g12)"/></g></g></g></g></svg><svg x="130.2" y="1694.5" width="205.4" height="205" viewBox="0 0 205 205" preserveAspectRatio="none"><g style="isolation:isolate"><rect width="205" height="205" fill="#000"/><g style="mix-blend-mode:screen"><g filter="url(#rough)"><g><ellipse cx="101" cy="102" rx="86" ry="83" fill="#380000" filter="url(#g2)"/><ellipse cx="101" cy="102" rx="85" ry="82" fill="#ff0000" opacity="0.42" filter="url(#texbig)"/><ellipse cx="106" cy="82" rx="27" ry="27" fill="#000" opacity="0.85" filter="url(#g3)"/><ellipse cx="60" cy="120" rx="14" ry="14" fill="#000" opacity="0.45" filter="url(#g3)"/><ellipse cx="55" cy="150" rx="12" ry="12" fill="#000" opacity="0.4" filter="url(#g3)"/><ellipse cx="150" cy="105" rx="10" ry="10" fill="#000" opacity="0.35" filter="url(#g3)"/><ellipse cx="137" cy="56" rx="6.5" ry="6" fill="#ff1a1a" filter="url(#g12)"/><ellipse cx="153" cy="76" rx="11" ry="9" fill="#c80000" filter="url(#g12)"/><ellipse cx="118" cy="40" rx="8" ry="5" fill="#a00000" filter="url(#g12)"/><ellipse cx="40" cy="70" rx="12" ry="10" fill="#900000" filter="url(#g12)"/><ellipse cx="45" cy="140" rx="8" ry="5" fill="#d00000" filter="url(#g12)"/><ellipse cx="84" cy="24" rx="4" ry="3.5" fill="#e00000" filter="url(#g12)"/><ellipse cx="101" cy="102" rx="84.7" ry="81.7" fill="none" stroke="#e00000" stroke-width="2.6" filter="url(#g12)"/></g></g></g><g style="mix-blend-mode:screen"><ellipse cx="99" cy="102" rx="78" ry="76" fill="#00c000" opacity="0.13" filter="url(#g8)"/><ellipse cx="135" cy="60" rx="25" ry="18" fill="#00c000" opacity="0.18" filter="url(#g8)"/><g filter="url(#g08)" opacity="0.62"><circle cx="40.69" cy="119.54" r="2.09" fill="#00d000"/><circle cx="41.98" cy="114.19" r="1.62" fill="#00d000"/><circle cx="122.38" cy="154.38" r="1.68" fill="#00d000"/><circle cx="106.97" cy="73.93" r="1.22" fill="#00d000"/><circle cx="159.97" cy="140.08" r="1.77" fill="#00d000"/><circle cx="175.59" cy="122.12" r="2.15" fill="#00d000"/><circle cx="62.82" cy="50.84" r="1.02" fill="#00d000"/><circle cx="158.17" cy="107.45" r="0.88" fill="#00d000"/><circle cx="114.53" cy="140.38" r="0.84" fill="#00d000"/><circle cx="45.64" cy="114" r="1.98" fill="#00d000"/><circle cx="34.56" cy="94.41" r="1.5" fill="#00d000"/><circle cx="69.89" cy="55.72" r="1.19" fill="#00d000"/><circle cx="178.83" cy="100.85" r="1.98" fill="#00d000"/><circle cx="86.61" cy="57.5" r="1.12" fill="#00d000"/><circle cx="92.36" cy="127.85" r="1.87" fill="#00d000"/><circle cx="39.07" cy="144.23" r="1.34" fill="#00d000"/><circle cx="170.41" cy="83.21" r="0.8" fill="#00d000"/><circle cx="118.16" cy="174.22" r="1.46" fill="#00d000"/><circle cx="150.91" cy="95.72" r="0.9" fill="#00d000"/><circle cx="50.16" cy="51.64" r="1.18" fill="#00d000"/><circle cx="140.32" cy="126.56" r="2.15" fill="#00d000"/><circle cx="100.63" cy="70.64" r="1.14" fill="#00d000"/><circle cx="120.06" cy="117.13" r="1.92" fill="#00d000"/><circle cx="125.77" cy="155.44" r="1.43" fill="#00d000"/><circle cx="124.15" cy="164.72" r="0.98" fill="#00d000"/><circle cx="79.14" cy="77.45" r="1.39" fill="#00d000"/><circle cx="109.24" cy="144" r="2.16" fill="#00d000"/><circle cx="114.34" cy="59.12" r="2.04" fill="#00d000"/><circle cx="111.74" cy="151.28" r="2" fill="#00d000"/><circle cx="79.83" cy="78.87" r="2.19" fill="#00d000"/><circle cx="108.95" cy="143.27" r="1.88" fill="#00d000"/><circle cx="77.08" cy="141.5" r="0.9" fill="#00d000"/><circle cx="151.45" cy="134.51" r="1.14" fill="#00d000"/><circle cx="58.15" cy="72.57" r="1.43" fill="#00d000"/><circle cx="154.23" cy="87.86" r="1.6" fill="#00d000"/><circle cx="124.29" cy="74.56" r="1.02" fill="#00d000"/><circle cx="160.03" cy="63.4" r="1.15" fill="#00d000"/><circle cx="124.63" cy="164.88" r="2.12" fill="#00d000"/><circle cx="124.71" cy="173.88" r="2.04" fill="#00d000"/><circle cx="56.28" cy="70.3" r="0.95" fill="#00d000"/><circle cx="175.26" cy="120.44" r="1.13" fill="#00d000"/><circle cx="86.79" cy="61.41" r="1.95" fill="#00d000"/><circle cx="61.3" cy="76.52" r="1.05" fill="#00d000"/><circle cx="107.25" cy="160.93" r="1.99" fill="#00d000"/><circle cx="65.13" cy="73.14" r="2.08" fill="#00d000"/><circle cx="104.85" cy="121.17" r="1.18" fill="#00d000"/><circle cx="74.29" cy="110.55" r="1.05" fill="#00d000"/><circle cx="57.15" cy="146.12" r="0.98" fill="#00d000"/><circle cx="49.94" cy="158.26" r="2.17" fill="#00d000"/><circle cx="61.88" cy="47.33" r="1.62" fill="#00d000"/><circle cx="113.68" cy="119.38" r="0.83" fill="#00d000"/><circle cx="156.2" cy="66.71" r="2.15" fill="#00d000"/><circle cx="163.14" cy="110.4" r="1.48" fill="#00d000"/><circle cx="93.19" cy="56.01" r="2.2" fill="#00d000"/><circle cx="152.71" cy="128.79" r="1.83" fill="#00d000"/><circle cx="155.11" cy="62.36" r="1.79" fill="#00d000"/><circle cx="119.6" cy="29.96" r="1.29" fill="#00d000"/><circle cx="68.83" cy="33.84" r="2.02" fill="#00d000"/><circle cx="36.88" cy="136.72" r="2.01" fill="#00d000"/><circle cx="41.41" cy="74.36" r="1.34" fill="#00d000"/><circle cx="43.95" cy="71.3" r="0.91" fill="#00d000"/><circle cx="47.94" cy="42.28" r="2.03" fill="#00d000"/><circle cx="91.93" cy="51.98" r="1.83" fill="#00d000"/><circle cx="51.17" cy="76" r="1.97" fill="#00d000"/><circle cx="159.41" cy="136.23" r="0.84" fill="#00d000"/><circle cx="53.19" cy="69" r="1.12" fill="#00d000"/><circle cx="80.56" cy="48.57" r="1.66" fill="#00d000"/><circle cx="137.01" cy="81.77" r="0.82" fill="#00d000"/><circle cx="77.99" cy="163.68" r="1.08" fill="#00d000"/><circle cx="135.94" cy="167.13" r="1.72" fill="#00d000"/><circle cx="28.21" cy="128.36" r="1.26" fill="#00d000"/><circle cx="79.3" cy="69.1" r="1.4" fill="#00d000"/><circle cx="125.42" cy="31.82" r="2.03" fill="#00d000"/><circle cx="52.51" cy="142.25" r="1.24" fill="#00d000"/><circle cx="136.89" cy="144.53" r="1.97" fill="#00d000"/><circle cx="138.61" cy="47.93" r="2.13" fill="#00d000"/><circle cx="92.85" cy="137.3" r="1.43" fill="#00d000"/><circle cx="92.66" cy="140.77" r="1.38" fill="#00d000"/><circle cx="58.43" cy="62.08" r="1.24" fill="#00d000"/><circle cx="141.13" cy="36.48" r="1.43" fill="#00d000"/><circle cx="119.17" cy="111.97" r="2.02" fill="#00d000"/><circle cx="164.73" cy="119.1" r="1.6" fill="#00d000"/><circle cx="73.03" cy="167.1" r="0.83" fill="#00d000"/><circle cx="135.5" cy="142.82" r="0.83" fill="#00d000"/><circle cx="119.15" cy="66.08" r="1" fill="#00d000"/><circle cx="160.6" cy="120.25" r="1.43" fill="#00d000"/><circle cx="54.09" cy="55.39" r="1.93" fill="#00d000"/><circle cx="163.68" cy="85.16" r="1.08" fill="#00d000"/><circle cx="61.95" cy="107.69" r="0.82" fill="#00d000"/><circle cx="31.76" cy="113.57" r="1.05" fill="#00d000"/><circle cx="92.11" cy="149.51" r="1.78" fill="#00d000"/><circle cx="35.84" cy="94.05" r="1.86" fill="#00d000"/><circle cx="42.79" cy="145.33" r="2.07" fill="#00d000"/><circle cx="165.07" cy="141.31" r="1.81" fill="#00d000"/><circle cx="137" cy="141.41" r="1.68" fill="#00d000"/><circle cx="142.14" cy="75.3" r="1.6" fill="#00d000"/><circle cx="151.18" cy="53.82" r="2.12" fill="#00d000"/><circle cx="35.27" cy="116.42" r="1.09" fill="#00d000"/><circle cx="86.23" cy="32.15" r="1.7" fill="#00d000"/><circle cx="90.89" cy="63.6" r="2.06" fill="#00d000"/><circle cx="177.54" cy="92.57" r="1.55" fill="#00d000"/><circle cx="111.07" cy="57.08" r="2.07" fill="#00d000"/><circle cx="129.46" cy="64.1" r="0.92" fill="#00d000"/><circle cx="42.58" cy="123.42" r="1.88" fill="#00d000"/><circle cx="76.87" cy="103.71" r="1.93" fill="#00d000"/><circle cx="165.24" cy="129.5" r="1.04" fill="#00d000"/><circle cx="62.61" cy="161.99" r="1" fill="#00d000"/><circle cx="133.97" cy="148.12" r="1.81" fill="#00d000"/><circle cx="134.98" cy="46.7" r="2.12" fill="#00d000"/><circle cx="21.04" cy="105.55" r="0.92" fill="#00d000"/></g><g filter="url(#gdot)"><circle cx="36.32" cy="60.12" r="4.1" fill="#14ff14"/><circle cx="60.12" cy="56.44" r="3" fill="#14ff14"/><circle cx="85.4" cy="52.27" r="4.65" fill="#14ff14"/><circle cx="79.26" cy="36.81" r="2.45" fill="#14ff14"/><circle cx="111.17" cy="41.72" r="4.92" fill="#14ff14"/><circle cx="108.71" cy="46.63" r="3" fill="#14ff14"/><circle cx="56.44" cy="74.85" r="5.75" fill="#14ff14"/><circle cx="136.93" cy="49.08" r="3" fill="rgb(14,178,14)"/><circle cx="157.79" cy="57.67" r="2.45" fill="rgb(14,178,14)"/><circle cx="171.29" cy="78.53" r="4.1" fill="#14ff14"/><circle cx="162.7" cy="90.8" r="2.72" fill="#14ff14"/><circle cx="152.88" cy="95.21" r="4.1" fill="#14ff14"/><circle cx="109.94" cy="93.25" r="3.55" fill="#14ff14"/><circle cx="140.61" cy="108.47" r="3" fill="#14ff14"/><circle cx="131.53" cy="110.92" r="2.17" fill="#14ff14"/><circle cx="37.55" cy="102.33" r="2.17" fill="#14ff14"/><circle cx="149.2" cy="131.29" r="4.37" fill="#14ff14"/><circle cx="41.23" cy="138.16" r="2.45" fill="#14ff14"/><circle cx="49.82" cy="138.65" r="2.72" fill="#14ff14"/><circle cx="120.25" cy="156.32" r="3.27" fill="#14ff14"/><circle cx="114.85" cy="170.55" r="2.72" fill="#14ff14"/><circle cx="131.53" cy="175.46" r="1.9" fill="#14ff14"/><circle cx="78.04" cy="163.19" r="2.45" fill="rgb(12,153,12)"/><circle cx="64.54" cy="153.37" r="1.62" fill="rgb(12,153,12)"/><circle cx="32.64" cy="128.83" r="1.9" fill="rgb(12,153,12)"/><circle cx="47.36" cy="53.99" r="1.9" fill="#14ff14"/><circle cx="132.02" cy="148.47" r="3" fill="rgb(10,127,10)"/><circle cx="17.91" cy="87.12" r="1.9" fill="rgb(10,127,10)"/><circle cx="80.49" cy="28.22" r="1.9" fill="rgb(10,127,10)"/><circle cx="165.15" cy="74.85" r="2.45" fill="rgb(14,178,14)"/><circle cx="101.35" cy="143.56" r="2.45" fill="rgb(8,102,8)"/><circle cx="35.09" cy="95.71" r="1.9" fill="rgb(10,127,10)"/></g></g><g><ellipse cx="100" cy="81.7" rx="37" ry="37" fill="#000" opacity="0.55" filter="url(#g2)"/></g><g style="mix-blend-mode:screen"><ellipse cx="100" cy="81.7" rx="52.65" ry="52.65" fill="#0000ff" opacity="0.1" filter="url(#g5)"/><ellipse cx="100" cy="81.7" rx="39" ry="39" fill="#0000ff" filter="url(#g12)"/><ellipse cx="86" cy="60" rx="4" ry="3.2" fill="#00007a" opacity="0.75" filter="url(#g12)"/><ellipse cx="101" cy="56" rx="3" ry="2.4" fill="#00007a" opacity="0.75" filter="url(#g12)"/><ellipse cx="122" cy="72" rx="3" ry="2.4" fill="#00007a" opacity="0.75" filter="url(#g12)"/><ellipse cx="121" cy="97" rx="4" ry="3.2" fill="#00007a" opacity="0.75" filter="url(#g12)"/><ellipse cx="93" cy="105" rx="5" ry="4" fill="#00007a" opacity="0.75" filter="url(#g12)"/><ellipse cx="82" cy="97" rx="3" ry="2.4" fill="#00007a" opacity="0.75" filter="url(#g12)"/></g></g><line x1="82" y1="51.8" x2="99.19" y2="45.99" stroke="#fff" stroke-width="2.1" stroke-linecap="butt"/><polygon points="111,42 99.74,53.98 99.19,45.99 94.78,39.3" fill="#fff"/><line x1="105.5" y1="64" x2="120.3" y2="58.53" stroke="#fff" stroke-width="2.1" stroke-linecap="butt"/><polygon points="132,54.2 121.09,66.5 120.3,58.53 115.71,51.96" fill="#fff"/></svg><svg x="342.7" y="1059.2" width="205.4" height="205" viewBox="0 0 205 205" preserveAspectRatio="none"><g style="isolation:isolate"><rect width="205" height="205" fill="#000"/><g style="mix-blend-mode:screen"><ellipse cx="103.5" cy="106" rx="55.35" ry="55.35" fill="#0000ff" opacity="0.12" filter="url(#g5)"/><ellipse cx="103.5" cy="106" rx="41" ry="41" fill="#0000ff" filter="url(#g12)"/><ellipse cx="75" cy="95" rx="3" ry="2.4" fill="#00007a" opacity="0.75" filter="url(#g12)"/><ellipse cx="85" cy="131" rx="4" ry="3.2" fill="#00007a" opacity="0.75" filter="url(#g12)"/><ellipse cx="118" cy="83" rx="2" ry="1.6" fill="#00007a" opacity="0.75" filter="url(#g12)"/></g></g></svg><svg x="342.7" y="1270.8" width="205.4" height="205" viewBox="0 0 205 205" preserveAspectRatio="none"><g style="isolation:isolate"><rect width="205" height="205" fill="#000"/><g style="mix-blend-mode:screen"><g clip-path="url(#c2clip)"><ellipse cx="127" cy="112" rx="60" ry="66" fill="#00c000" opacity="0.16" filter="url(#g8)"/><ellipse cx="150" cy="85" rx="30" ry="40" fill="#00c000" opacity="0.32" filter="url(#g8)"/><ellipse cx="125" cy="175" rx="22" ry="12" fill="#00c000" opacity="0.35" filter="url(#g8)"/><g filter="url(#g08)" opacity="0.62"><circle cx="71.86" cy="121.93" r="2.13" fill="#00d000"/><circle cx="137.43" cy="126.57" r="1.55" fill="#00d000"/><circle cx="117.73" cy="180.03" r="2.18" fill="#00d000"/><circle cx="85.37" cy="77.54" r="2.12" fill="#00d000"/><circle cx="155.44" cy="153.14" r="1.12" fill="#00d000"/><circle cx="145.38" cy="98.22" r="2.44" fill="#00d000"/><circle cx="177.85" cy="140.78" r="1.47" fill="#00d000"/><circle cx="75.22" cy="151.53" r="0.84" fill="#00d000"/><circle cx="187.5" cy="139.16" r="1.82" fill="#00d000"/><circle cx="183.84" cy="152.86" r="2.69" fill="#00d000"/><circle cx="161.76" cy="145.19" r="1.07" fill="#00d000"/><circle cx="106.16" cy="168.18" r="1.13" fill="#00d000"/><circle cx="119.99" cy="89.43" r="1.14" fill="#00d000"/><circle cx="144.9" cy="66.32" r="1.64" fill="#00d000"/><circle cx="87.28" cy="81.43" r="1.57" fill="#00d000"/><circle cx="184.43" cy="124.45" r="2.73" fill="#00d000"/><circle cx="182.47" cy="102.7" r="1.51" fill="#00d000"/><circle cx="89.73" cy="160.38" r="2.15" fill="#00d000"/><circle cx="153.83" cy="138.05" r="1.53" fill="#00d000"/><circle cx="65.59" cy="107.1" r="1.8" fill="#00d000"/><circle cx="188.04" cy="124.19" r="1.66" fill="#00d000"/><circle cx="92.5" cy="107.38" r="1.65" fill="#00d000"/><circle cx="81.05" cy="155.44" r="1.01" fill="#00d000"/><circle cx="96.72" cy="101.01" r="2.19" fill="#00d000"/><circle cx="164.01" cy="121.75" r="1.49" fill="#00d000"/><circle cx="113.01" cy="93.83" r="1.72" fill="#00d000"/><circle cx="136.81" cy="153.42" r="1.75" fill="#00d000"/><circle cx="173.8" cy="98.13" r="2.71" fill="#00d000"/><circle cx="159.43" cy="175.61" r="1.53" fill="#00d000"/><circle cx="149.1" cy="173.53" r="2.62" fill="#00d000"/><circle cx="164.51" cy="113.76" r="2.34" fill="#00d000"/><circle cx="107.4" cy="145.68" r="0.82" fill="#00d000"/><circle cx="179.61" cy="127.11" r="2.77" fill="#00d000"/><circle cx="176.43" cy="111.48" r="0.85" fill="#00d000"/><circle cx="100.29" cy="172.98" r="2.46" fill="#00d000"/><circle cx="104.46" cy="81.78" r="1.85" fill="#00d000"/><circle cx="72.91" cy="120.65" r="1.33" fill="#00d000"/><circle cx="187.91" cy="88.3" r="1.12" fill="#00d000"/><circle cx="110.63" cy="180.89" r="1.36" fill="#00d000"/><circle cx="173.87" cy="92.73" r="2.19" fill="#00d000"/><circle cx="117.39" cy="75.28" r="1.37" fill="#00d000"/><circle cx="125.23" cy="175.52" r="2.19" fill="#00d000"/><circle cx="170.45" cy="164.86" r="1.64" fill="#00d000"/><circle cx="129.55" cy="163.66" r="2.76" fill="#00d000"/><circle cx="76.27" cy="89.58" r="2.64" fill="#00d000"/><circle cx="185.07" cy="96.2" r="1.64" fill="#00d000"/><circle cx="72.02" cy="73.84" r="2.38" fill="#00d000"/><circle cx="90.28" cy="89.38" r="1.54" fill="#00d000"/><circle cx="122.38" cy="54.09" r="0.83" fill="#00d000"/><circle cx="110.93" cy="41.82" r="2.4" fill="#00d000"/><circle cx="179.01" cy="68.34" r="1.87" fill="#00d000"/><circle cx="137.6" cy="64.77" r="1" fill="#00d000"/><circle cx="102.83" cy="147.66" r="2.67" fill="#00d000"/><circle cx="107.93" cy="59.03" r="2.04" fill="#00d000"/><circle cx="162.97" cy="152.06" r="2.2" fill="#00d000"/><circle cx="98.51" cy="136.97" r="1.61" fill="#00d000"/><circle cx="101.6" cy="168.95" r="1.08" fill="#00d000"/><circle cx="160.74" cy="136.11" r="2.19" fill="#00d000"/><circle cx="130.38" cy="49.61" r="2.67" fill="#00d000"/><circle cx="114.37" cy="127.89" r="1.78" fill="#00d000"/><circle cx="97.05" cy="124.36" r="2.13" fill="#00d000"/><circle cx="107.6" cy="145.57" r="1.45" fill="#00d000"/><circle cx="142.28" cy="105.71" r="1.52" fill="#00d000"/><circle cx="120.8" cy="148.68" r="1.66" fill="#00d000"/><circle cx="139.09" cy="183.75" r="1.8" fill="#00d000"/><circle cx="117.15" cy="79.46" r="1.73" fill="#00d000"/><circle cx="77.81" cy="68.51" r="1.3" fill="#00d000"/><circle cx="65.88" cy="129.71" r="2.46" fill="#00d000"/><circle cx="134.18" cy="168.36" r="2.32" fill="#00d000"/><circle cx="82.31" cy="150.59" r="2.13" fill="#00d000"/><circle cx="177.84" cy="102.06" r="2.16" fill="#00d000"/><circle cx="92.42" cy="165.04" r="1.44" fill="#00d000"/><circle cx="84.38" cy="112.03" r="1.41" fill="#00d000"/><circle cx="149.97" cy="141.46" r="1.89" fill="#00d000"/><circle cx="126.76" cy="135.25" r="2.41" fill="#00d000"/><circle cx="112.37" cy="183.82" r="2" fill="#00d000"/><circle cx="78.1" cy="157.75" r="2.59" fill="#00d000"/><circle cx="114.92" cy="140.23" r="2.08" fill="#00d000"/><circle cx="156.64" cy="61.7" r="2.37" fill="#00d000"/><circle cx="80.74" cy="143.72" r="1.33" fill="#00d000"/><circle cx="90.67" cy="138.89" r="1.57" fill="#00d000"/><circle cx="77.38" cy="152.53" r="1.14" fill="#00d000"/><circle cx="137.23" cy="151.44" r="2.74" fill="#00d000"/><circle cx="105.69" cy="108.57" r="2.47" fill="#00d000"/><circle cx="170.4" cy="62.59" r="1.52" fill="#00d000"/><circle cx="123.18" cy="67.88" r="1.07" fill="#00d000"/><circle cx="168.33" cy="59.79" r="1.22" fill="#00d000"/><circle cx="140.41" cy="97.89" r="1.42" fill="#00d000"/><circle cx="158.24" cy="114.85" r="1.13" fill="#00d000"/><circle cx="118.66" cy="69.23" r="1.18" fill="#00d000"/><circle cx="143.11" cy="152.94" r="2.52" fill="#00d000"/><circle cx="106.57" cy="93.86" r="2.17" fill="#00d000"/><circle cx="81.29" cy="100.16" r="1.86" fill="#00d000"/><circle cx="91.48" cy="56.26" r="1.81" fill="#00d000"/><circle cx="95.52" cy="71.81" r="2.07" fill="#00d000"/><circle cx="92.36" cy="144.66" r="1.83" fill="#00d000"/><circle cx="118.68" cy="70.4" r="2.65" fill="#00d000"/><circle cx="63.93" cy="115.75" r="2.18" fill="#00d000"/><circle cx="181.7" cy="94.79" r="1.65" fill="#00d000"/><circle cx="82.29" cy="145.56" r="2.31" fill="#00d000"/><circle cx="142.01" cy="85.22" r="0.92" fill="#00d000"/><circle cx="146.07" cy="129.22" r="0.91" fill="#00d000"/><circle cx="163.38" cy="114.15" r="1.03" fill="#00d000"/><circle cx="105.56" cy="56.38" r="2.73" fill="#00d000"/><circle cx="184.44" cy="95.74" r="2.7" fill="#00d000"/><circle cx="161.56" cy="118.88" r="2.65" fill="#00d000"/><circle cx="93.66" cy="117.79" r="2.31" fill="#00d000"/><circle cx="81.63" cy="138.42" r="1.43" fill="#00d000"/><circle cx="128.29" cy="139.66" r="2.01" fill="#00d000"/><circle cx="191.61" cy="89.91" r="2.33" fill="#00d000"/><circle cx="166.01" cy="92.61" r="1.4" fill="#00d000"/><circle cx="174.48" cy="84.33" r="2.14" fill="#00d000"/><circle cx="162.03" cy="115.09" r="1.76" fill="#00d000"/><circle cx="119.6" cy="43.07" r="2.31" fill="#00d000"/><circle cx="103.67" cy="153.27" r="2.52" fill="#00d000"/><circle cx="175.49" cy="108.44" r="1.19" fill="#00d000"/><circle cx="90.92" cy="71.96" r="1.52" fill="#00d000"/><circle cx="132.36" cy="160.66" r="2.02" fill="#00d000"/><circle cx="162.69" cy="152.82" r="2.7" fill="#00d000"/><circle cx="125.84" cy="71.13" r="1.64" fill="#00d000"/><circle cx="174.14" cy="151.47" r="2.06" fill="#00d000"/><circle cx="150.94" cy="162.79" r="1.99" fill="#00d000"/><circle cx="88.5" cy="89.33" r="1.42" fill="#00d000"/><circle cx="85.42" cy="172.03" r="1.46" fill="#00d000"/><circle cx="79.56" cy="111.18" r="1.15" fill="#00d000"/><circle cx="99.82" cy="134.14" r="1.44" fill="#00d000"/><circle cx="98.77" cy="146.83" r="2.68" fill="#00d000"/><circle cx="115.06" cy="155.98" r="2.12" fill="#00d000"/><circle cx="87.09" cy="145.6" r="2.1" fill="#00d000"/><circle cx="177.47" cy="140.15" r="1" fill="#00d000"/><circle cx="126.91" cy="180.79" r="2.78" fill="#00d000"/><circle cx="112.53" cy="80.87" r="1.68" fill="#00d000"/><circle cx="114.24" cy="180.56" r="1.27" fill="#00d000"/><circle cx="145.25" cy="170.09" r="2.07" fill="#00d000"/><circle cx="86.16" cy="83.14" r="2.72" fill="#00d000"/><circle cx="63.3" cy="131.02" r="1.58" fill="#00d000"/><circle cx="85.46" cy="122.27" r="2.23" fill="#00d000"/><circle cx="127.34" cy="71.99" r="1.85" fill="#00d000"/><circle cx="119.74" cy="57.46" r="2.12" fill="#00d000"/><circle cx="83.75" cy="68.74" r="1.51" fill="#00d000"/><circle cx="120.59" cy="131.31" r="2.58" fill="#00d000"/><circle cx="137.94" cy="64.24" r="2.73" fill="#00d000"/><circle cx="151.49" cy="92.75" r="2.47" fill="#00d000"/><circle cx="91.72" cy="133.41" r="1.32" fill="#00d000"/><circle cx="108.65" cy="124.34" r="0.9" fill="#00d000"/><circle cx="156.52" cy="141.78" r="1.12" fill="#00d000"/><circle cx="171.95" cy="160.27" r="1.56" fill="#00d000"/><circle cx="73.51" cy="115.66" r="2.67" fill="#00d000"/><circle cx="148.33" cy="143.18" r="2.52" fill="#00d000"/><circle cx="182.45" cy="72.48" r="1.86" fill="#00d000"/></g><g filter="url(#gdot)"><circle cx="79.02" cy="57.18" r="3.55" fill="#14ff14"/><circle cx="90.55" cy="55.95" r="3" fill="#14ff14"/><circle cx="111.41" cy="56.44" r="3.82" fill="#14ff14"/><circle cx="123.19" cy="49.08" r="5.75" fill="#14ff14"/><circle cx="129.33" cy="44.17" r="4.37" fill="#14ff14"/><circle cx="147.73" cy="36.81" r="3" fill="#14ff14"/><circle cx="164.91" cy="48.34" r="3.55" fill="#14ff14"/><circle cx="155.83" cy="40.49" r="2.17" fill="#14ff14"/><circle cx="144.05" cy="61.35" r="8.5" fill="#14ff14"/><circle cx="160" cy="66.26" r="7.12" fill="#14ff14"/><circle cx="151.41" cy="53.99" r="4.37" fill="#14ff14"/><circle cx="171.78" cy="72.39" r="4.1" fill="#14ff14"/><circle cx="180.37" cy="82.21" r="3" fill="#14ff14"/><circle cx="60.61" cy="82.21" r="3.27" fill="#14ff14"/><circle cx="60.61" cy="85.89" r="2.72" fill="#14ff14"/><circle cx="82.7" cy="78.53" r="2.72" fill="#14ff14"/><circle cx="89.33" cy="81.47" r="2.45" fill="#14ff14"/><circle cx="117.06" cy="78.53" r="3.82" fill="#14ff14"/><circle cx="120" cy="69.94" r="2.72" fill="#14ff14"/><circle cx="126.87" cy="83.44" r="5.2" fill="#14ff14"/><circle cx="142.82" cy="88.34" r="3" fill="#14ff14"/><circle cx="151.41" cy="90.8" r="6.3" fill="#14ff14"/><circle cx="158.77" cy="104.29" r="4.37" fill="#14ff14"/><circle cx="173.99" cy="103.56" r="4.1" fill="#14ff14"/><circle cx="76.56" cy="107.98" r="5.2" fill="#14ff14"/><circle cx="83.93" cy="105.52" r="3" fill="#14ff14"/><circle cx="96.2" cy="109.2" r="1.9" fill="#14ff14"/><circle cx="136.69" cy="115.34" r="3.55" fill="#14ff14"/><circle cx="155.09" cy="117.79" r="10.14" fill="#14ff14"/><circle cx="162.45" cy="112.88" r="5.75" fill="#14ff14"/><circle cx="64.29" cy="119.02" r="3" fill="rgb(16,204,16)"/><circle cx="98.16" cy="128.83" r="2.45" fill="#14ff14"/><circle cx="123.93" cy="127.61" r="2.45" fill="#14ff14"/><circle cx="101.6" cy="140.37" r="3.82" fill="#14ff14"/><circle cx="84.66" cy="151.41" r="3.82" fill="#14ff14"/><circle cx="168.59" cy="143.56" r="5.2" fill="#14ff14"/><circle cx="165.4" cy="152.15" r="2.45" fill="#14ff14"/><circle cx="166.87" cy="160.74" r="3.27" fill="#14ff14"/><circle cx="133.01" cy="158.28" r="2.45" fill="#14ff14"/><circle cx="130.55" cy="168.1" r="5.2" fill="#14ff14"/><circle cx="144.05" cy="165.64" r="2.45" fill="#14ff14"/><circle cx="123.19" cy="177.91" r="6.3" fill="rgb(12,153,12)"/><circle cx="156.81" cy="175.46" r="3" fill="#14ff14"/><circle cx="137.91" cy="182.82" r="2.45" fill="#14ff14"/><circle cx="175.95" cy="121.47" r="1.9" fill="#14ff14"/><circle cx="188.22" cy="116.56" r="1.62" fill="#14ff14"/><circle cx="142.82" cy="141.1" r="2.17" fill="#14ff14"/><circle cx="152.64" cy="153.37" r="2.45" fill="#14ff14"/><circle cx="134.23" cy="175.46" r="4.1" fill="rgb(14,178,14)"/><circle cx="114.6" cy="182.82" r="3" fill="rgb(12,153,12)"/></g></g></g></g></svg><svg x="342.7" y="1482.8" width="205.4" height="205" viewBox="0 0 205 205" preserveAspectRatio="none"><g style="isolation:isolate"><rect width="205" height="205" fill="#000"/><g style="mix-blend-mode:screen"><g filter="url(#rough)"><g clip-path="url(#c2clip)"><rect x="40" y="20" width="170" height="180" fill="#480000" stroke="none" stroke-width="0"/><ellipse cx="124.4" cy="106.7" rx="74" ry="84" fill="#ff0000" opacity="0.8" filter="url(#tex)"/><ellipse cx="184" cy="112" rx="11" ry="62" fill="#ff0000" opacity="0.85" filter="url(#g3)"/><ellipse cx="148" cy="178" rx="36" ry="10" fill="#ff0000" opacity="0.85" filter="url(#g3)"/><ellipse cx="100" cy="107" rx="35" ry="35" fill="#000" opacity="0.97" filter="url(#g3)"/><ellipse cx="122" cy="151" rx="14" ry="12" fill="#000" opacity="0.9" filter="url(#g3)"/><path d="M 56 100 C 58 55 95 32 150 30 C 180 40 197 75 196 115 C 195 160 165 190 135 188 C 110 186 85 165 66 140 C 58 128 55 115 56 100 Z" fill="none" stroke="#ff0000" stroke-width="6" filter="url(#g12)"/></g><ellipse cx="158" cy="33" rx="8" ry="6" fill="#ff0000" filter="url(#g12)"/></g></g></g></svg><svg x="342.7" y="1694.5" width="205.4" height="205" viewBox="0 0 205 205" preserveAspectRatio="none"><g style="isolation:isolate"><rect width="205" height="205" fill="#000"/><g style="mix-blend-mode:screen"><g filter="url(#rough)"><g clip-path="url(#c2clip)"><rect x="40" y="20" width="170" height="180" fill="#480000" stroke="none" stroke-width="0"/><ellipse cx="124.4" cy="106.7" rx="74" ry="84" fill="#ff0000" opacity="0.8" filter="url(#tex)"/><ellipse cx="184" cy="112" rx="11" ry="62" fill="#ff0000" opacity="0.85" filter="url(#g3)"/><ellipse cx="148" cy="178" rx="36" ry="10" fill="#ff0000" opacity="0.85" filter="url(#g3)"/><ellipse cx="100" cy="107" rx="35" ry="35" fill="#000" opacity="0.97" filter="url(#g3)"/><ellipse cx="122" cy="151" rx="14" ry="12" fill="#000" opacity="0.9" filter="url(#g3)"/><path d="M 56 100 C 58 55 95 32 150 30 C 180 40 197 75 196 115 C 195 160 165 190 135 188 C 110 186 85 165 66 140 C 58 128 55 115 56 100 Z" fill="none" stroke="#ff0000" stroke-width="6" filter="url(#g12)"/></g><ellipse cx="158" cy="33" rx="8" ry="6" fill="#ff0000" filter="url(#g12)"/></g></g><g style="mix-blend-mode:screen"><g clip-path="url(#c2clip)"><ellipse cx="127" cy="112" rx="60" ry="66" fill="#00c000" opacity="0.16" filter="url(#g8)"/><ellipse cx="150" cy="85" rx="30" ry="40" fill="#00c000" opacity="0.32" filter="url(#g8)"/><ellipse cx="125" cy="175" rx="22" ry="12" fill="#00c000" opacity="0.35" filter="url(#g8)"/><g filter="url(#g08)" opacity="0.62"><circle cx="71.86" cy="121.93" r="2.13" fill="#00d000"/><circle cx="137.43" cy="126.57" r="1.55" fill="#00d000"/><circle cx="117.73" cy="180.03" r="2.18" fill="#00d000"/><circle cx="85.37" cy="77.54" r="2.12" fill="#00d000"/><circle cx="155.44" cy="153.14" r="1.12" fill="#00d000"/><circle cx="145.38" cy="98.22" r="2.44" fill="#00d000"/><circle cx="177.85" cy="140.78" r="1.47" fill="#00d000"/><circle cx="75.22" cy="151.53" r="0.84" fill="#00d000"/><circle cx="187.5" cy="139.16" r="1.82" fill="#00d000"/><circle cx="183.84" cy="152.86" r="2.69" fill="#00d000"/><circle cx="161.76" cy="145.19" r="1.07" fill="#00d000"/><circle cx="106.16" cy="168.18" r="1.13" fill="#00d000"/><circle cx="119.99" cy="89.43" r="1.14" fill="#00d000"/><circle cx="144.9" cy="66.32" r="1.64" fill="#00d000"/><circle cx="87.28" cy="81.43" r="1.57" fill="#00d000"/><circle cx="184.43" cy="124.45" r="2.73" fill="#00d000"/><circle cx="182.47" cy="102.7" r="1.51" fill="#00d000"/><circle cx="89.73" cy="160.38" r="2.15" fill="#00d000"/><circle cx="153.83" cy="138.05" r="1.53" fill="#00d000"/><circle cx="65.59" cy="107.1" r="1.8" fill="#00d000"/><circle cx="188.04" cy="124.19" r="1.66" fill="#00d000"/><circle cx="92.5" cy="107.38" r="1.65" fill="#00d000"/><circle cx="81.05" cy="155.44" r="1.01" fill="#00d000"/><circle cx="96.72" cy="101.01" r="2.19" fill="#00d000"/><circle cx="164.01" cy="121.75" r="1.49" fill="#00d000"/><circle cx="113.01" cy="93.83" r="1.72" fill="#00d000"/><circle cx="136.81" cy="153.42" r="1.75" fill="#00d000"/><circle cx="173.8" cy="98.13" r="2.71" fill="#00d000"/><circle cx="159.43" cy="175.61" r="1.53" fill="#00d000"/><circle cx="149.1" cy="173.53" r="2.62" fill="#00d000"/><circle cx="164.51" cy="113.76" r="2.34" fill="#00d000"/><circle cx="107.4" cy="145.68" r="0.82" fill="#00d000"/><circle cx="179.61" cy="127.11" r="2.77" fill="#00d000"/><circle cx="176.43" cy="111.48" r="0.85" fill="#00d000"/><circle cx="100.29" cy="172.98" r="2.46" fill="#00d000"/><circle cx="104.46" cy="81.78" r="1.85" fill="#00d000"/><circle cx="72.91" cy="120.65" r="1.33" fill="#00d000"/><circle cx="187.91" cy="88.3" r="1.12" fill="#00d000"/><circle cx="110.63" cy="180.89" r="1.36" fill="#00d000"/><circle cx="173.87" cy="92.73" r="2.19" fill="#00d000"/><circle cx="117.39" cy="75.28" r="1.37" fill="#00d000"/><circle cx="125.23" cy="175.52" r="2.19" fill="#00d000"/><circle cx="170.45" cy="164.86" r="1.64" fill="#00d000"/><circle cx="129.55" cy="163.66" r="2.76" fill="#00d000"/><circle cx="76.27" cy="89.58" r="2.64" fill="#00d000"/><circle cx="185.07" cy="96.2" r="1.64" fill="#00d000"/><circle cx="72.02" cy="73.84" r="2.38" fill="#00d000"/><circle cx="90.28" cy="89.38" r="1.54" fill="#00d000"/><circle cx="122.38" cy="54.09" r="0.83" fill="#00d000"/><circle cx="110.93" cy="41.82" r="2.4" fill="#00d000"/><circle cx="179.01" cy="68.34" r="1.87" fill="#00d000"/><circle cx="137.6" cy="64.77" r="1" fill="#00d000"/><circle cx="102.83" cy="147.66" r="2.67" fill="#00d000"/><circle cx="107.93" cy="59.03" r="2.04" fill="#00d000"/><circle cx="162.97" cy="152.06" r="2.2" fill="#00d000"/><circle cx="98.51" cy="136.97" r="1.61" fill="#00d000"/><circle cx="101.6" cy="168.95" r="1.08" fill="#00d000"/><circle cx="160.74" cy="136.11" r="2.19" fill="#00d000"/><circle cx="130.38" cy="49.61" r="2.67" fill="#00d000"/><circle cx="114.37" cy="127.89" r="1.78" fill="#00d000"/><circle cx="97.05" cy="124.36" r="2.13" fill="#00d000"/><circle cx="107.6" cy="145.57" r="1.45" fill="#00d000"/><circle cx="142.28" cy="105.71" r="1.52" fill="#00d000"/><circle cx="120.8" cy="148.68" r="1.66" fill="#00d000"/><circle cx="139.09" cy="183.75" r="1.8" fill="#00d000"/><circle cx="117.15" cy="79.46" r="1.73" fill="#00d000"/><circle cx="77.81" cy="68.51" r="1.3" fill="#00d000"/><circle cx="65.88" cy="129.71" r="2.46" fill="#00d000"/><circle cx="134.18" cy="168.36" r="2.32" fill="#00d000"/><circle cx="82.31" cy="150.59" r="2.13" fill="#00d000"/><circle cx="177.84" cy="102.06" r="2.16" fill="#00d000"/><circle cx="92.42" cy="165.04" r="1.44" fill="#00d000"/><circle cx="84.38" cy="112.03" r="1.41" fill="#00d000"/><circle cx="149.97" cy="141.46" r="1.89" fill="#00d000"/><circle cx="126.76" cy="135.25" r="2.41" fill="#00d000"/><circle cx="112.37" cy="183.82" r="2" fill="#00d000"/><circle cx="78.1" cy="157.75" r="2.59" fill="#00d000"/><circle cx="114.92" cy="140.23" r="2.08" fill="#00d000"/><circle cx="156.64" cy="61.7" r="2.37" fill="#00d000"/><circle cx="80.74" cy="143.72" r="1.33" fill="#00d000"/><circle cx="90.67" cy="138.89" r="1.57" fill="#00d000"/><circle cx="77.38" cy="152.53" r="1.14" fill="#00d000"/><circle cx="137.23" cy="151.44" r="2.74" fill="#00d000"/><circle cx="105.69" cy="108.57" r="2.47" fill="#00d000"/><circle cx="170.4" cy="62.59" r="1.52" fill="#00d000"/><circle cx="123.18" cy="67.88" r="1.07" fill="#00d000"/><circle cx="168.33" cy="59.79" r="1.22" fill="#00d000"/><circle cx="140.41" cy="97.89" r="1.42" fill="#00d000"/><circle cx="158.24" cy="114.85" r="1.13" fill="#00d000"/><circle cx="118.66" cy="69.23" r="1.18" fill="#00d000"/><circle cx="143.11" cy="152.94" r="2.52" fill="#00d000"/><circle cx="106.57" cy="93.86" r="2.17" fill="#00d000"/><circle cx="81.29" cy="100.16" r="1.86" fill="#00d000"/><circle cx="91.48" cy="56.26" r="1.81" fill="#00d000"/><circle cx="95.52" cy="71.81" r="2.07" fill="#00d000"/><circle cx="92.36" cy="144.66" r="1.83" fill="#00d000"/><circle cx="118.68" cy="70.4" r="2.65" fill="#00d000"/><circle cx="63.93" cy="115.75" r="2.18" fill="#00d000"/><circle cx="181.7" cy="94.79" r="1.65" fill="#00d000"/><circle cx="82.29" cy="145.56" r="2.31" fill="#00d000"/><circle cx="142.01" cy="85.22" r="0.92" fill="#00d000"/><circle cx="146.07" cy="129.22" r="0.91" fill="#00d000"/><circle cx="163.38" cy="114.15" r="1.03" fill="#00d000"/><circle cx="105.56" cy="56.38" r="2.73" fill="#00d000"/><circle cx="184.44" cy="95.74" r="2.7" fill="#00d000"/><circle cx="161.56" cy="118.88" r="2.65" fill="#00d000"/><circle cx="93.66" cy="117.79" r="2.31" fill="#00d000"/><circle cx="81.63" cy="138.42" r="1.43" fill="#00d000"/><circle cx="128.29" cy="139.66" r="2.01" fill="#00d000"/><circle cx="191.61" cy="89.91" r="2.33" fill="#00d000"/><circle cx="166.01" cy="92.61" r="1.4" fill="#00d000"/><circle cx="174.48" cy="84.33" r="2.14" fill="#00d000"/><circle cx="162.03" cy="115.09" r="1.76" fill="#00d000"/><circle cx="119.6" cy="43.07" r="2.31" fill="#00d000"/><circle cx="103.67" cy="153.27" r="2.52" fill="#00d000"/><circle cx="175.49" cy="108.44" r="1.19" fill="#00d000"/><circle cx="90.92" cy="71.96" r="1.52" fill="#00d000"/><circle cx="132.36" cy="160.66" r="2.02" fill="#00d000"/><circle cx="162.69" cy="152.82" r="2.7" fill="#00d000"/><circle cx="125.84" cy="71.13" r="1.64" fill="#00d000"/><circle cx="174.14" cy="151.47" r="2.06" fill="#00d000"/><circle cx="150.94" cy="162.79" r="1.99" fill="#00d000"/><circle cx="88.5" cy="89.33" r="1.42" fill="#00d000"/><circle cx="85.42" cy="172.03" r="1.46" fill="#00d000"/><circle cx="79.56" cy="111.18" r="1.15" fill="#00d000"/><circle cx="99.82" cy="134.14" r="1.44" fill="#00d000"/><circle cx="98.77" cy="146.83" r="2.68" fill="#00d000"/><circle cx="115.06" cy="155.98" r="2.12" fill="#00d000"/><circle cx="87.09" cy="145.6" r="2.1" fill="#00d000"/><circle cx="177.47" cy="140.15" r="1" fill="#00d000"/><circle cx="126.91" cy="180.79" r="2.78" fill="#00d000"/><circle cx="112.53" cy="80.87" r="1.68" fill="#00d000"/><circle cx="114.24" cy="180.56" r="1.27" fill="#00d000"/><circle cx="145.25" cy="170.09" r="2.07" fill="#00d000"/><circle cx="86.16" cy="83.14" r="2.72" fill="#00d000"/><circle cx="63.3" cy="131.02" r="1.58" fill="#00d000"/><circle cx="85.46" cy="122.27" r="2.23" fill="#00d000"/><circle cx="127.34" cy="71.99" r="1.85" fill="#00d000"/><circle cx="119.74" cy="57.46" r="2.12" fill="#00d000"/><circle cx="83.75" cy="68.74" r="1.51" fill="#00d000"/><circle cx="120.59" cy="131.31" r="2.58" fill="#00d000"/><circle cx="137.94" cy="64.24" r="2.73" fill="#00d000"/><circle cx="151.49" cy="92.75" r="2.47" fill="#00d000"/><circle cx="91.72" cy="133.41" r="1.32" fill="#00d000"/><circle cx="108.65" cy="124.34" r="0.9" fill="#00d000"/><circle cx="156.52" cy="141.78" r="1.12" fill="#00d000"/><circle cx="171.95" cy="160.27" r="1.56" fill="#00d000"/><circle cx="73.51" cy="115.66" r="2.67" fill="#00d000"/><circle cx="148.33" cy="143.18" r="2.52" fill="#00d000"/><circle cx="182.45" cy="72.48" r="1.86" fill="#00d000"/></g><g filter="url(#gdot)"><circle cx="79.02" cy="57.18" r="3.55" fill="#14ff14"/><circle cx="90.55" cy="55.95" r="3" fill="#14ff14"/><circle cx="111.41" cy="56.44" r="3.82" fill="#14ff14"/><circle cx="123.19" cy="49.08" r="5.75" fill="#14ff14"/><circle cx="129.33" cy="44.17" r="4.37" fill="#14ff14"/><circle cx="147.73" cy="36.81" r="3" fill="#14ff14"/><circle cx="164.91" cy="48.34" r="3.55" fill="#14ff14"/><circle cx="155.83" cy="40.49" r="2.17" fill="#14ff14"/><circle cx="144.05" cy="61.35" r="8.5" fill="#14ff14"/><circle cx="160" cy="66.26" r="7.12" fill="#14ff14"/><circle cx="151.41" cy="53.99" r="4.37" fill="#14ff14"/><circle cx="171.78" cy="72.39" r="4.1" fill="#14ff14"/><circle cx="180.37" cy="82.21" r="3" fill="#14ff14"/><circle cx="60.61" cy="82.21" r="3.27" fill="#14ff14"/><circle cx="60.61" cy="85.89" r="2.72" fill="#14ff14"/><circle cx="82.7" cy="78.53" r="2.72" fill="#14ff14"/><circle cx="89.33" cy="81.47" r="2.45" fill="#14ff14"/><circle cx="117.06" cy="78.53" r="3.82" fill="#14ff14"/><circle cx="120" cy="69.94" r="2.72" fill="#14ff14"/><circle cx="126.87" cy="83.44" r="5.2" fill="#14ff14"/><circle cx="142.82" cy="88.34" r="3" fill="#14ff14"/><circle cx="151.41" cy="90.8" r="6.3" fill="#14ff14"/><circle cx="158.77" cy="104.29" r="4.37" fill="#14ff14"/><circle cx="173.99" cy="103.56" r="4.1" fill="#14ff14"/><circle cx="76.56" cy="107.98" r="5.2" fill="#14ff14"/><circle cx="83.93" cy="105.52" r="3" fill="#14ff14"/><circle cx="96.2" cy="109.2" r="1.9" fill="#14ff14"/><circle cx="136.69" cy="115.34" r="3.55" fill="#14ff14"/><circle cx="155.09" cy="117.79" r="10.14" fill="#14ff14"/><circle cx="162.45" cy="112.88" r="5.75" fill="#14ff14"/><circle cx="64.29" cy="119.02" r="3" fill="rgb(16,204,16)"/><circle cx="98.16" cy="128.83" r="2.45" fill="#14ff14"/><circle cx="123.93" cy="127.61" r="2.45" fill="#14ff14"/><circle cx="101.6" cy="140.37" r="3.82" fill="#14ff14"/><circle cx="84.66" cy="151.41" r="3.82" fill="#14ff14"/><circle cx="168.59" cy="143.56" r="5.2" fill="#14ff14"/><circle cx="165.4" cy="152.15" r="2.45" fill="#14ff14"/><circle cx="166.87" cy="160.74" r="3.27" fill="#14ff14"/><circle cx="133.01" cy="158.28" r="2.45" fill="#14ff14"/><circle cx="130.55" cy="168.1" r="5.2" fill="#14ff14"/><circle cx="144.05" cy="165.64" r="2.45" fill="#14ff14"/><circle cx="123.19" cy="177.91" r="6.3" fill="rgb(12,153,12)"/><circle cx="156.81" cy="175.46" r="3" fill="#14ff14"/><circle cx="137.91" cy="182.82" r="2.45" fill="#14ff14"/><circle cx="175.95" cy="121.47" r="1.9" fill="#14ff14"/><circle cx="188.22" cy="116.56" r="1.62" fill="#14ff14"/><circle cx="142.82" cy="141.1" r="2.17" fill="#14ff14"/><circle cx="152.64" cy="153.37" r="2.45" fill="#14ff14"/><circle cx="134.23" cy="175.46" r="4.1" fill="rgb(14,178,14)"/><circle cx="114.6" cy="182.82" r="3" fill="rgb(12,153,12)"/></g></g></g><g><ellipse cx="103.5" cy="106" rx="39" ry="39" fill="#000" opacity="0.45" filter="url(#g2)"/></g><g style="mix-blend-mode:screen"><ellipse cx="103.5" cy="106" rx="55.35" ry="55.35" fill="#0000ff" opacity="0.12" filter="url(#g5)"/><ellipse cx="103.5" cy="106" rx="41" ry="41" fill="#0000ff" filter="url(#g12)"/><ellipse cx="75" cy="95" rx="3" ry="2.4" fill="#00007a" opacity="0.75" filter="url(#g12)"/><ellipse cx="85" cy="131" rx="4" ry="3.2" fill="#00007a" opacity="0.75" filter="url(#g12)"/><ellipse cx="118" cy="83" rx="2" ry="1.6" fill="#00007a" opacity="0.75" filter="url(#g12)"/></g></g><line x1="118.3" y1="70.2" x2="133.51" y2="64.96" stroke="#fff" stroke-width="2.1" stroke-linecap="butt"/><polygon points="145.3,60.9 134.11,72.95 133.51,64.96 129.07,58.29" fill="#fff"/><line x1="120.7" y1="110" x2="135.88" y2="104.88" stroke="#fff" stroke-width="2.1" stroke-linecap="butt"/><polygon points="147.7,100.9 136.43,112.88 135.88,104.88 131.48,98.19" fill="#fff"/><line x1="118.3" y1="135.7" x2="134.24" y2="130.06" stroke="#fff" stroke-width="2.1" stroke-linecap="butt"/><polygon points="146,125.9 134.92,138.04 134.24,130.06 129.75,123.43" fill="#fff"/><line x1="136.7" y1="158" x2="151.5" y2="152.53" stroke="#fff" stroke-width="2.1" stroke-linecap="butt"/><polygon points="163.2,148.2 152.29,160.5 151.5,152.53 146.91,145.96" fill="#fff"/><line x1="112" y1="177" x2="127.18" y2="171.88" stroke="#fff" stroke-width="2.1" stroke-linecap="butt"/><polygon points="139,167.9 127.73,179.88 127.18,171.88 122.78,165.19" fill="#fff"/></svg><svg x="555.4" y="1059.2" width="205.4" height="205" viewBox="0 0 205 205" preserveAspectRatio="none"><g style="isolation:isolate"><rect width="205" height="205" fill="#000"/><g style="mix-blend-mode:screen"><ellipse cx="124" cy="110.7" rx="55.35" ry="55.35" fill="#0000ff" opacity="0.05" filter="url(#g5)"/><ellipse cx="124" cy="110.7" rx="41" ry="41" fill="#0000ff" filter="url(#g12)"/><ellipse cx="130" cy="110" rx="8" ry="6.4" fill="#00007a" opacity="0.75" filter="url(#g12)"/><ellipse cx="96" cy="95" rx="2.5" ry="2" fill="#00007a" opacity="0.75" filter="url(#g12)"/><ellipse cx="113" cy="83" rx="2.5" ry="2" fill="#00007a" opacity="0.75" filter="url(#g12)"/><ellipse cx="98" cy="121" rx="4" ry="3.2" fill="#00007a" opacity="0.75" filter="url(#g12)"/><ellipse cx="106" cy="130" rx="4" ry="3.2" fill="#00007a" opacity="0.75" filter="url(#g12)"/><ellipse cx="150" cy="122" rx="2.5" ry="2" fill="#00007a" opacity="0.75" filter="url(#g12)"/><ellipse cx="146" cy="91" rx="2" ry="1.6" fill="#00007a" opacity="0.75" filter="url(#g12)"/><ellipse cx="206" cy="32.6" rx="6" ry="17" fill="#0000ff" filter="url(#g12)"/></g></g></svg><svg x="555.4" y="1270.8" width="205.4" height="205" viewBox="0 0 205 205" preserveAspectRatio="none"><g style="isolation:isolate"><rect width="205" height="205" fill="#000"/><g style="mix-blend-mode:screen"><ellipse cx="70" cy="85" rx="35" ry="45" fill="#00c000" opacity="0.2" filter="url(#g8)"/><ellipse cx="110" cy="65" rx="50" ry="15" fill="#00c000" opacity="0.18" filter="url(#g8)"/><ellipse cx="65" cy="135" rx="25" ry="25" fill="#00c000" opacity="0.14" filter="url(#g8)"/><ellipse cx="170" cy="110" rx="10" ry="35" fill="#00c000" opacity="0.14" filter="url(#g8)"/><g filter="url(#g08)" opacity="0.62"><circle cx="98.4" cy="163.17" r="1.76" fill="#00d000"/><circle cx="123.14" cy="82.51" r="1.12" fill="#00d000"/><circle cx="98.83" cy="80.63" r="1.54" fill="#00d000"/><circle cx="38.47" cy="133.3" r="1.65" fill="#00d000"/><circle cx="145.03" cy="157.26" r="1.93" fill="#00d000"/><circle cx="125.95" cy="51.39" r="1.84" fill="#00d000"/><circle cx="166.72" cy="89.47" r="1.16" fill="#00d000"/><circle cx="133.96" cy="69.77" r="1.86" fill="#00d000"/><circle cx="54.68" cy="90.48" r="1.31" fill="#00d000"/><circle cx="61.45" cy="124.62" r="0.96" fill="#00d000"/><circle cx="130.96" cy="54.25" r="2.18" fill="#00d000"/><circle cx="81.07" cy="61.3" r="1.85" fill="#00d000"/><circle cx="143.88" cy="149.18" r="1.42" fill="#00d000"/><circle cx="61.44" cy="102.94" r="1.44" fill="#00d000"/><circle cx="62.9" cy="81.49" r="0.98" fill="#00d000"/><circle cx="62.31" cy="109.98" r="1.13" fill="#00d000"/><circle cx="157.68" cy="131.98" r="2.14" fill="#00d000"/><circle cx="51.95" cy="144.1" r="2.11" fill="#00d000"/><circle cx="126.13" cy="51.02" r="1.69" fill="#00d000"/><circle cx="150.55" cy="62.09" r="1.92" fill="#00d000"/><circle cx="122.5" cy="166.6" r="1.32" fill="#00d000"/><circle cx="95.26" cy="80.6" r="2.16" fill="#00d000"/><circle cx="50.09" cy="73.71" r="1.1" fill="#00d000"/><circle cx="58.33" cy="73.6" r="1.63" fill="#00d000"/><circle cx="60.5" cy="151.93" r="1.28" fill="#00d000"/><circle cx="89.89" cy="84.09" r="1.12" fill="#00d000"/><circle cx="158.06" cy="130.59" r="1.58" fill="#00d000"/><circle cx="80.42" cy="102.77" r="1.42" fill="#00d000"/><circle cx="86.42" cy="128.45" r="0.8" fill="#00d000"/><circle cx="88.64" cy="142.59" r="1.64" fill="#00d000"/><circle cx="149.33" cy="129.74" r="1.31" fill="#00d000"/><circle cx="74.13" cy="149.07" r="2.16" fill="#00d000"/><circle cx="48.53" cy="103.11" r="1.74" fill="#00d000"/><circle cx="29.31" cy="107.45" r="1.83" fill="#00d000"/><circle cx="98.68" cy="163.14" r="1.99" fill="#00d000"/><circle cx="98.82" cy="159.41" r="1.3" fill="#00d000"/><circle cx="150.29" cy="118.24" r="0.92" fill="#00d000"/><circle cx="105.06" cy="56.11" r="0.81" fill="#00d000"/><circle cx="107.45" cy="76.64" r="1.47" fill="#00d000"/><circle cx="58.69" cy="94.56" r="1.21" fill="#00d000"/><circle cx="72.4" cy="119.13" r="2.01" fill="#00d000"/><circle cx="154.88" cy="146.94" r="1.11" fill="#00d000"/><circle cx="85.82" cy="148.34" r="0.85" fill="#00d000"/><circle cx="35.31" cy="130.15" r="2.19" fill="#00d000"/><circle cx="156.67" cy="121.33" r="0.98" fill="#00d000"/><circle cx="117.02" cy="70.81" r="2.05" fill="#00d000"/><circle cx="71.99" cy="100.36" r="0.81" fill="#00d000"/><circle cx="102.84" cy="169.72" r="1.01" fill="#00d000"/><circle cx="54.17" cy="113.53" r="1.28" fill="#00d000"/><circle cx="114.22" cy="76.54" r="1.81" fill="#00d000"/><circle cx="65.15" cy="52.64" r="1.53" fill="#00d000"/><circle cx="147.66" cy="86.35" r="1.6" fill="#00d000"/><circle cx="51.17" cy="66.24" r="2.06" fill="#00d000"/><circle cx="34.66" cy="95.37" r="1.55" fill="#00d000"/><circle cx="79.16" cy="169.68" r="1.22" fill="#00d000"/><circle cx="166.21" cy="118.79" r="0.95" fill="#00d000"/><circle cx="87" cy="47.72" r="2.2" fill="#00d000"/><circle cx="120.55" cy="66.6" r="1.67" fill="#00d000"/><circle cx="134.41" cy="59.13" r="1.21" fill="#00d000"/><circle cx="104.25" cy="82.18" r="1.23" fill="#00d000"/><circle cx="155.6" cy="106.87" r="1.17" fill="#00d000"/><circle cx="113.4" cy="63.47" r="0.81" fill="#00d000"/><circle cx="65.71" cy="163.7" r="1.15" fill="#00d000"/><circle cx="143.48" cy="58.48" r="1.38" fill="#00d000"/><circle cx="168.79" cy="105.54" r="1.48" fill="#00d000"/><circle cx="98.18" cy="153.99" r="2.06" fill="#00d000"/><circle cx="66.19" cy="100.7" r="1.33" fill="#00d000"/><circle cx="65.87" cy="112.75" r="1.6" fill="#00d000"/><circle cx="169.65" cy="120.82" r="1.05" fill="#00d000"/><circle cx="149.36" cy="139.03" r="1.23" fill="#00d000"/><circle cx="143.23" cy="76.5" r="1.53" fill="#00d000"/><circle cx="121.38" cy="79.34" r="1.84" fill="#00d000"/><circle cx="71.55" cy="72.06" r="2.14" fill="#00d000"/><circle cx="172.18" cy="116.49" r="1" fill="#00d000"/><circle cx="119.98" cy="83.3" r="0.88" fill="#00d000"/><circle cx="28.73" cy="107.73" r="1.16" fill="#00d000"/><circle cx="42.01" cy="112.44" r="1.14" fill="#00d000"/><circle cx="83.86" cy="104.96" r="1.43" fill="#00d000"/><circle cx="104.85" cy="67.77" r="1.11" fill="#00d000"/><circle cx="163.04" cy="125.53" r="1.4" fill="#00d000"/><circle cx="158.59" cy="78.55" r="0.94" fill="#00d000"/><circle cx="165.07" cy="75.22" r="1.94" fill="#00d000"/><circle cx="133.03" cy="59.92" r="1.81" fill="#00d000"/><circle cx="72.46" cy="63.23" r="1.16" fill="#00d000"/><circle cx="145.68" cy="150.24" r="1.64" fill="#00d000"/><circle cx="159.88" cy="126.62" r="1.65" fill="#00d000"/><circle cx="34.79" cy="103.75" r="2.03" fill="#00d000"/><circle cx="51.38" cy="148.71" r="1.5" fill="#00d000"/><circle cx="56.48" cy="88.82" r="2.11" fill="#00d000"/><circle cx="32.22" cy="130.05" r="1.27" fill="#00d000"/><circle cx="67.87" cy="52.18" r="1.76" fill="#00d000"/><circle cx="83.05" cy="124.39" r="1.47" fill="#00d000"/><circle cx="42.8" cy="138.71" r="1.9" fill="#00d000"/><circle cx="154.2" cy="104.05" r="1.37" fill="#00d000"/><circle cx="40.97" cy="85.39" r="0.91" fill="#00d000"/><circle cx="82.13" cy="142.07" r="2.16" fill="#00d000"/><circle cx="121.3" cy="169.64" r="1.21" fill="#00d000"/><circle cx="123.47" cy="170.47" r="0.92" fill="#00d000"/><circle cx="165.88" cy="113.48" r="0.87" fill="#00d000"/><circle cx="108.78" cy="158.23" r="2.04" fill="#00d000"/><circle cx="67.17" cy="60.71" r="1.78" fill="#00d000"/><circle cx="122.58" cy="49.45" r="1.02" fill="#00d000"/><circle cx="159.32" cy="125.58" r="1.53" fill="#00d000"/><circle cx="34.92" cy="100.28" r="1.04" fill="#00d000"/><circle cx="88.03" cy="65.16" r="1.39" fill="#00d000"/><circle cx="51.26" cy="84.15" r="2.07" fill="#00d000"/><circle cx="89.76" cy="163.37" r="0.94" fill="#00d000"/><circle cx="82.24" cy="83.75" r="2" fill="#00d000"/><circle cx="115.82" cy="76.65" r="1.23" fill="#00d000"/><circle cx="153.09" cy="142.12" r="1.61" fill="#00d000"/></g><g filter="url(#gdot)"><circle cx="72.64" cy="52.27" r="3" fill="#14ff14"/><circle cx="81.23" cy="62.58" r="3" fill="#14ff14"/><circle cx="86.13" cy="63.07" r="2.45" fill="#14ff14"/><circle cx="103.31" cy="61.35" r="2.72" fill="#14ff14"/><circle cx="111.17" cy="61.35" r="3" fill="#14ff14"/><circle cx="103.31" cy="69.2" r="3.82" fill="#14ff14"/><circle cx="84.91" cy="76.07" r="3.27" fill="#14ff14"/><circle cx="65.28" cy="73.62" r="2.45" fill="rgb(16,204,16)"/><circle cx="72.64" cy="89.57" r="4.37" fill="#14ff14"/><circle cx="75.09" cy="86.63" r="3" fill="#14ff14"/><circle cx="105.77" cy="101.1" r="2.72" fill="#14ff14"/><circle cx="43.93" cy="107.24" r="2.45" fill="#14ff14"/><circle cx="65.28" cy="108.47" r="3.27" fill="#14ff14"/><circle cx="72.64" cy="117.3" r="2.72" fill="rgb(16,204,16)"/><circle cx="135.21" cy="116.07" r="2.72" fill="#14ff14"/><circle cx="23.56" cy="123.93" r="1.9" fill="#14ff14"/><circle cx="61.6" cy="136.2" r="3" fill="#14ff14"/><circle cx="62.82" cy="150.18" r="3" fill="#14ff14"/><circle cx="54.23" cy="143.56" r="2.17" fill="#14ff14"/><circle cx="160.49" cy="137.42" r="2.17" fill="#14ff14"/><circle cx="160" cy="139.88" r="1.9" fill="#14ff14"/><circle cx="165.4" cy="155.83" r="2.45" fill="#14ff14"/><circle cx="162.21" cy="147.98" r="1.62" fill="#14ff14"/><circle cx="131.53" cy="154.6" r="2.17" fill="#14ff14"/><circle cx="97.18" cy="157.06" r="2.45" fill="rgb(16,204,16)"/><circle cx="113.62" cy="173.74" r="2.17" fill="rgb(14,178,14)"/><circle cx="170.8" cy="98.16" r="2.72" fill="#14ff14"/><circle cx="169.57" cy="101.84" r="2.17" fill="#14ff14"/><circle cx="168.34" cy="105.52" r="2.17" fill="#14ff14"/><circle cx="153.62" cy="67.48" r="2.45" fill="rgb(10,127,10)"/><circle cx="142.58" cy="57.67" r="1.9" fill="rgb(12,153,12)"/><circle cx="200.25" cy="44.17" r="1.9" fill="rgb(14,178,14)"/><circle cx="202.21" cy="49.82" r="1.9" fill="rgb(16,204,16)"/><circle cx="192.88" cy="201.23" r="2.45" fill="rgb(16,204,16)"/><circle cx="59.14" cy="130.06" r="2.45" fill="rgb(14,178,14)"/><circle cx="94.72" cy="171.78" r="1.9" fill="rgb(10,127,10)"/></g></g></g></svg><svg x="555.4" y="1482.8" width="205.4" height="205" viewBox="0 0 205 205" preserveAspectRatio="none"><g style="isolation:isolate"><rect width="205" height="205" fill="#000"/><g style="mix-blend-mode:screen"><g filter="url(#rough)"><g><ellipse cx="103" cy="107" rx="82" ry="72" fill="#2c0000" filter="url(#g2)"/><ellipse cx="103" cy="107" rx="81" ry="71" fill="#ff0000" opacity="0.4" filter="url(#tex)"/><ellipse cx="123" cy="114" rx="39" ry="39" fill="#000" opacity="0.97" filter="url(#g3)"/><ellipse cx="82" cy="80" rx="12" ry="9.5" fill="#ff0a0a" filter="url(#g12)"/><ellipse cx="124" cy="56" rx="13" ry="8" fill="#ff0a0a" filter="url(#g12)"/><ellipse cx="144" cy="72" rx="9" ry="6.5" fill="#ff0a0a" filter="url(#g12)"/><ellipse cx="111" cy="42" rx="5" ry="7" fill="#f00000" filter="url(#g12)"/><ellipse cx="26" cy="99" rx="3.5" ry="8" fill="#f00000" filter="url(#g12)"/><ellipse cx="66" cy="110" rx="5.5" ry="5" fill="#f00000" filter="url(#g12)"/><ellipse cx="74" cy="124" rx="4" ry="7" fill="#d00000" filter="url(#g12)"/><ellipse cx="95" cy="157" rx="12" ry="4" fill="#d00000" filter="url(#g12)"/><ellipse cx="103" cy="107" rx="80.8" ry="70.8" fill="none" stroke="#e00000" stroke-width="2.4" filter="url(#g12)"/></g><circle cx="123" cy="114" r="39" fill="none" stroke="#c00000" stroke-width="1.4" filter="url(#g08)"/><g><ellipse cx="207" cy="196" rx="28" ry="30" fill="#300000" filter="url(#g2)"/><ellipse cx="207" cy="196" rx="27" ry="29" fill="#ff0000" opacity="0.5" filter="url(#tex)"/><ellipse cx="207" cy="196" rx="27" ry="29" fill="none" stroke="#b00000" stroke-width="2" filter="url(#g12)"/></g><ellipse cx="212" cy="50" rx="20" ry="34" fill="none" stroke="#500000" stroke-width="1.5" filter="url(#g12)"/></g></g></g></svg><svg x="555.4" y="1694.5" width="205.4" height="205" viewBox="0 0 205 205" preserveAspectRatio="none"><g style="isolation:isolate"><rect width="205" height="205" fill="#000"/><g style="mix-blend-mode:screen"><g filter="url(#rough)"><g><ellipse cx="103" cy="107" rx="82" ry="72" fill="#2c0000" filter="url(#g2)"/><ellipse cx="103" cy="107" rx="81" ry="71" fill="#ff0000" opacity="0.4" filter="url(#tex)"/><ellipse cx="123" cy="114" rx="39" ry="39" fill="#000" opacity="0.97" filter="url(#g3)"/><ellipse cx="82" cy="80" rx="12" ry="9.5" fill="#ff0a0a" filter="url(#g12)"/><ellipse cx="124" cy="56" rx="13" ry="8" fill="#ff0a0a" filter="url(#g12)"/><ellipse cx="144" cy="72" rx="9" ry="6.5" fill="#ff0a0a" filter="url(#g12)"/><ellipse cx="111" cy="42" rx="5" ry="7" fill="#f00000" filter="url(#g12)"/><ellipse cx="26" cy="99" rx="3.5" ry="8" fill="#f00000" filter="url(#g12)"/><ellipse cx="66" cy="110" rx="5.5" ry="5" fill="#f00000" filter="url(#g12)"/><ellipse cx="74" cy="124" rx="4" ry="7" fill="#d00000" filter="url(#g12)"/><ellipse cx="95" cy="157" rx="12" ry="4" fill="#d00000" filter="url(#g12)"/><ellipse cx="103" cy="107" rx="80.8" ry="70.8" fill="none" stroke="#e00000" stroke-width="2.4" filter="url(#g12)"/></g><circle cx="123" cy="114" r="39" fill="none" stroke="#c00000" stroke-width="1.4" filter="url(#g08)"/><g><ellipse cx="207" cy="196" rx="28" ry="30" fill="#300000" filter="url(#g2)"/><ellipse cx="207" cy="196" rx="27" ry="29" fill="#ff0000" opacity="0.5" filter="url(#tex)"/><ellipse cx="207" cy="196" rx="27" ry="29" fill="none" stroke="#b00000" stroke-width="2" filter="url(#g12)"/></g><ellipse cx="212" cy="50" rx="20" ry="34" fill="none" stroke="#500000" stroke-width="1.5" filter="url(#g12)"/></g></g><g style="mix-blend-mode:screen"><ellipse cx="70" cy="85" rx="35" ry="45" fill="#00c000" opacity="0.2" filter="url(#g8)"/><ellipse cx="110" cy="65" rx="50" ry="15" fill="#00c000" opacity="0.18" filter="url(#g8)"/><ellipse cx="65" cy="135" rx="25" ry="25" fill="#00c000" opacity="0.14" filter="url(#g8)"/><ellipse cx="170" cy="110" rx="10" ry="35" fill="#00c000" opacity="0.14" filter="url(#g8)"/><g filter="url(#g08)" opacity="0.62"><circle cx="98.4" cy="163.17" r="1.76" fill="#00d000"/><circle cx="123.14" cy="82.51" r="1.12" fill="#00d000"/><circle cx="98.83" cy="80.63" r="1.54" fill="#00d000"/><circle cx="38.47" cy="133.3" r="1.65" fill="#00d000"/><circle cx="145.03" cy="157.26" r="1.93" fill="#00d000"/><circle cx="125.95" cy="51.39" r="1.84" fill="#00d000"/><circle cx="166.72" cy="89.47" r="1.16" fill="#00d000"/><circle cx="133.96" cy="69.77" r="1.86" fill="#00d000"/><circle cx="54.68" cy="90.48" r="1.31" fill="#00d000"/><circle cx="61.45" cy="124.62" r="0.96" fill="#00d000"/><circle cx="130.96" cy="54.25" r="2.18" fill="#00d000"/><circle cx="81.07" cy="61.3" r="1.85" fill="#00d000"/><circle cx="143.88" cy="149.18" r="1.42" fill="#00d000"/><circle cx="61.44" cy="102.94" r="1.44" fill="#00d000"/><circle cx="62.9" cy="81.49" r="0.98" fill="#00d000"/><circle cx="62.31" cy="109.98" r="1.13" fill="#00d000"/><circle cx="157.68" cy="131.98" r="2.14" fill="#00d000"/><circle cx="51.95" cy="144.1" r="2.11" fill="#00d000"/><circle cx="126.13" cy="51.02" r="1.69" fill="#00d000"/><circle cx="150.55" cy="62.09" r="1.92" fill="#00d000"/><circle cx="122.5" cy="166.6" r="1.32" fill="#00d000"/><circle cx="95.26" cy="80.6" r="2.16" fill="#00d000"/><circle cx="50.09" cy="73.71" r="1.1" fill="#00d000"/><circle cx="58.33" cy="73.6" r="1.63" fill="#00d000"/><circle cx="60.5" cy="151.93" r="1.28" fill="#00d000"/><circle cx="89.89" cy="84.09" r="1.12" fill="#00d000"/><circle cx="158.06" cy="130.59" r="1.58" fill="#00d000"/><circle cx="80.42" cy="102.77" r="1.42" fill="#00d000"/><circle cx="86.42" cy="128.45" r="0.8" fill="#00d000"/><circle cx="88.64" cy="142.59" r="1.64" fill="#00d000"/><circle cx="149.33" cy="129.74" r="1.31" fill="#00d000"/><circle cx="74.13" cy="149.07" r="2.16" fill="#00d000"/><circle cx="48.53" cy="103.11" r="1.74" fill="#00d000"/><circle cx="29.31" cy="107.45" r="1.83" fill="#00d000"/><circle cx="98.68" cy="163.14" r="1.99" fill="#00d000"/><circle cx="98.82" cy="159.41" r="1.3" fill="#00d000"/><circle cx="150.29" cy="118.24" r="0.92" fill="#00d000"/><circle cx="105.06" cy="56.11" r="0.81" fill="#00d000"/><circle cx="107.45" cy="76.64" r="1.47" fill="#00d000"/><circle cx="58.69" cy="94.56" r="1.21" fill="#00d000"/><circle cx="72.4" cy="119.13" r="2.01" fill="#00d000"/><circle cx="154.88" cy="146.94" r="1.11" fill="#00d000"/><circle cx="85.82" cy="148.34" r="0.85" fill="#00d000"/><circle cx="35.31" cy="130.15" r="2.19" fill="#00d000"/><circle cx="156.67" cy="121.33" r="0.98" fill="#00d000"/><circle cx="117.02" cy="70.81" r="2.05" fill="#00d000"/><circle cx="71.99" cy="100.36" r="0.81" fill="#00d000"/><circle cx="102.84" cy="169.72" r="1.01" fill="#00d000"/><circle cx="54.17" cy="113.53" r="1.28" fill="#00d000"/><circle cx="114.22" cy="76.54" r="1.81" fill="#00d000"/><circle cx="65.15" cy="52.64" r="1.53" fill="#00d000"/><circle cx="147.66" cy="86.35" r="1.6" fill="#00d000"/><circle cx="51.17" cy="66.24" r="2.06" fill="#00d000"/><circle cx="34.66" cy="95.37" r="1.55" fill="#00d000"/><circle cx="79.16" cy="169.68" r="1.22" fill="#00d000"/><circle cx="166.21" cy="118.79" r="0.95" fill="#00d000"/><circle cx="87" cy="47.72" r="2.2" fill="#00d000"/><circle cx="120.55" cy="66.6" r="1.67" fill="#00d000"/><circle cx="134.41" cy="59.13" r="1.21" fill="#00d000"/><circle cx="104.25" cy="82.18" r="1.23" fill="#00d000"/><circle cx="155.6" cy="106.87" r="1.17" fill="#00d000"/><circle cx="113.4" cy="63.47" r="0.81" fill="#00d000"/><circle cx="65.71" cy="163.7" r="1.15" fill="#00d000"/><circle cx="143.48" cy="58.48" r="1.38" fill="#00d000"/><circle cx="168.79" cy="105.54" r="1.48" fill="#00d000"/><circle cx="98.18" cy="153.99" r="2.06" fill="#00d000"/><circle cx="66.19" cy="100.7" r="1.33" fill="#00d000"/><circle cx="65.87" cy="112.75" r="1.6" fill="#00d000"/><circle cx="169.65" cy="120.82" r="1.05" fill="#00d000"/><circle cx="149.36" cy="139.03" r="1.23" fill="#00d000"/><circle cx="143.23" cy="76.5" r="1.53" fill="#00d000"/><circle cx="121.38" cy="79.34" r="1.84" fill="#00d000"/><circle cx="71.55" cy="72.06" r="2.14" fill="#00d000"/><circle cx="172.18" cy="116.49" r="1" fill="#00d000"/><circle cx="119.98" cy="83.3" r="0.88" fill="#00d000"/><circle cx="28.73" cy="107.73" r="1.16" fill="#00d000"/><circle cx="42.01" cy="112.44" r="1.14" fill="#00d000"/><circle cx="83.86" cy="104.96" r="1.43" fill="#00d000"/><circle cx="104.85" cy="67.77" r="1.11" fill="#00d000"/><circle cx="163.04" cy="125.53" r="1.4" fill="#00d000"/><circle cx="158.59" cy="78.55" r="0.94" fill="#00d000"/><circle cx="165.07" cy="75.22" r="1.94" fill="#00d000"/><circle cx="133.03" cy="59.92" r="1.81" fill="#00d000"/><circle cx="72.46" cy="63.23" r="1.16" fill="#00d000"/><circle cx="145.68" cy="150.24" r="1.64" fill="#00d000"/><circle cx="159.88" cy="126.62" r="1.65" fill="#00d000"/><circle cx="34.79" cy="103.75" r="2.03" fill="#00d000"/><circle cx="51.38" cy="148.71" r="1.5" fill="#00d000"/><circle cx="56.48" cy="88.82" r="2.11" fill="#00d000"/><circle cx="32.22" cy="130.05" r="1.27" fill="#00d000"/><circle cx="67.87" cy="52.18" r="1.76" fill="#00d000"/><circle cx="83.05" cy="124.39" r="1.47" fill="#00d000"/><circle cx="42.8" cy="138.71" r="1.9" fill="#00d000"/><circle cx="154.2" cy="104.05" r="1.37" fill="#00d000"/><circle cx="40.97" cy="85.39" r="0.91" fill="#00d000"/><circle cx="82.13" cy="142.07" r="2.16" fill="#00d000"/><circle cx="121.3" cy="169.64" r="1.21" fill="#00d000"/><circle cx="123.47" cy="170.47" r="0.92" fill="#00d000"/><circle cx="165.88" cy="113.48" r="0.87" fill="#00d000"/><circle cx="108.78" cy="158.23" r="2.04" fill="#00d000"/><circle cx="67.17" cy="60.71" r="1.78" fill="#00d000"/><circle cx="122.58" cy="49.45" r="1.02" fill="#00d000"/><circle cx="159.32" cy="125.58" r="1.53" fill="#00d000"/><circle cx="34.92" cy="100.28" r="1.04" fill="#00d000"/><circle cx="88.03" cy="65.16" r="1.39" fill="#00d000"/><circle cx="51.26" cy="84.15" r="2.07" fill="#00d000"/><circle cx="89.76" cy="163.37" r="0.94" fill="#00d000"/><circle cx="82.24" cy="83.75" r="2" fill="#00d000"/><circle cx="115.82" cy="76.65" r="1.23" fill="#00d000"/><circle cx="153.09" cy="142.12" r="1.61" fill="#00d000"/></g><g filter="url(#gdot)"><circle cx="72.64" cy="52.27" r="3" fill="#14ff14"/><circle cx="81.23" cy="62.58" r="3" fill="#14ff14"/><circle cx="86.13" cy="63.07" r="2.45" fill="#14ff14"/><circle cx="103.31" cy="61.35" r="2.72" fill="#14ff14"/><circle cx="111.17" cy="61.35" r="3" fill="#14ff14"/><circle cx="103.31" cy="69.2" r="3.82" fill="#14ff14"/><circle cx="84.91" cy="76.07" r="3.27" fill="#14ff14"/><circle cx="65.28" cy="73.62" r="2.45" fill="rgb(16,204,16)"/><circle cx="72.64" cy="89.57" r="4.37" fill="#14ff14"/><circle cx="75.09" cy="86.63" r="3" fill="#14ff14"/><circle cx="105.77" cy="101.1" r="2.72" fill="#14ff14"/><circle cx="43.93" cy="107.24" r="2.45" fill="#14ff14"/><circle cx="65.28" cy="108.47" r="3.27" fill="#14ff14"/><circle cx="72.64" cy="117.3" r="2.72" fill="rgb(16,204,16)"/><circle cx="135.21" cy="116.07" r="2.72" fill="#14ff14"/><circle cx="23.56" cy="123.93" r="1.9" fill="#14ff14"/><circle cx="61.6" cy="136.2" r="3" fill="#14ff14"/><circle cx="62.82" cy="150.18" r="3" fill="#14ff14"/><circle cx="54.23" cy="143.56" r="2.17" fill="#14ff14"/><circle cx="160.49" cy="137.42" r="2.17" fill="#14ff14"/><circle cx="160" cy="139.88" r="1.9" fill="#14ff14"/><circle cx="165.4" cy="155.83" r="2.45" fill="#14ff14"/><circle cx="162.21" cy="147.98" r="1.62" fill="#14ff14"/><circle cx="131.53" cy="154.6" r="2.17" fill="#14ff14"/><circle cx="97.18" cy="157.06" r="2.45" fill="rgb(16,204,16)"/><circle cx="113.62" cy="173.74" r="2.17" fill="rgb(14,178,14)"/><circle cx="170.8" cy="98.16" r="2.72" fill="#14ff14"/><circle cx="169.57" cy="101.84" r="2.17" fill="#14ff14"/><circle cx="168.34" cy="105.52" r="2.17" fill="#14ff14"/><circle cx="153.62" cy="67.48" r="2.45" fill="rgb(10,127,10)"/><circle cx="142.58" cy="57.67" r="1.9" fill="rgb(12,153,12)"/><circle cx="200.25" cy="44.17" r="1.9" fill="rgb(14,178,14)"/><circle cx="202.21" cy="49.82" r="1.9" fill="rgb(16,204,16)"/><circle cx="192.88" cy="201.23" r="2.45" fill="rgb(16,204,16)"/><circle cx="59.14" cy="130.06" r="2.45" fill="rgb(14,178,14)"/><circle cx="94.72" cy="171.78" r="1.9" fill="rgb(10,127,10)"/></g></g><g><ellipse cx="124" cy="110.7" rx="39" ry="39" fill="#000" opacity="0.6" filter="url(#g2)"/></g><g style="mix-blend-mode:screen"><ellipse cx="124" cy="110.7" rx="55.35" ry="55.35" fill="#0000ff" opacity="0.05" filter="url(#g5)"/><ellipse cx="124" cy="110.7" rx="41" ry="41" fill="#0000ff" filter="url(#g12)"/><ellipse cx="130" cy="110" rx="8" ry="6.4" fill="#00007a" opacity="0.75" filter="url(#g12)"/><ellipse cx="96" cy="95" rx="2.5" ry="2" fill="#00007a" opacity="0.75" filter="url(#g12)"/><ellipse cx="113" cy="83" rx="2.5" ry="2" fill="#00007a" opacity="0.75" filter="url(#g12)"/><ellipse cx="98" cy="121" rx="4" ry="3.2" fill="#00007a" opacity="0.75" filter="url(#g12)"/><ellipse cx="106" cy="130" rx="4" ry="3.2" fill="#00007a" opacity="0.75" filter="url(#g12)"/><ellipse cx="150" cy="122" rx="2.5" ry="2" fill="#00007a" opacity="0.75" filter="url(#g12)"/><ellipse cx="146" cy="91" rx="2" ry="1.6" fill="#00007a" opacity="0.75" filter="url(#g12)"/><ellipse cx="206" cy="32.6" rx="6" ry="17" fill="#0000ff" filter="url(#g12)"/></g></g><line x1="71.4" y1="73.1" x2="85.97" y2="67.84" stroke="#fff" stroke-width="2.1" stroke-linecap="butt"/><polygon points="97.7,63.6 86.7,75.82 85.97,67.84 81.43,61.24" fill="#fff"/><line x1="53" y1="89" x2="67.79" y2="83.59" stroke="#fff" stroke-width="2.1" stroke-linecap="butt"/><polygon points="79.5,79.3 68.55,91.56 67.79,83.59 63.22,77.01" fill="#fff"/></svg><svg x="769.2" y="1059.2" width="205.4" height="205" viewBox="0 0 205 205" preserveAspectRatio="none"><g style="isolation:isolate"><rect width="205" height="205" fill="#000"/><g style="mix-blend-mode:screen"><ellipse cx="83.4" cy="95.2" rx="47.25" ry="46.58" fill="#0000ff" opacity="0.04" filter="url(#g5)"/><ellipse cx="83.4" cy="95.2" rx="35" ry="34.5" fill="#0000ff" filter="url(#g12)"/><ellipse cx="76" cy="105" rx="1.8" ry="1.44" fill="#00007a" opacity="0.75" filter="url(#g12)"/></g></g><rect x="151.5" y="169.7" width="51.4" height="26.2" fill="#fff" stroke="none" stroke-width="0"/><text x="175" y="189.7" font-family="'Liberation Serif', serif" font-size="22.5" font-weight="normal" fill="#000" text-anchor="middle">4μm</text><rect x="151.5" y="199.3" width="51.4" height="2" fill="#fff" stroke="none" stroke-width="0"/></svg><svg x="769.2" y="1270.8" width="205.4" height="205" viewBox="0 0 205 205" preserveAspectRatio="none"><g style="isolation:isolate"><rect width="205" height="205" fill="#000"/><g style="mix-blend-mode:screen"><ellipse cx="120" cy="65" rx="35" ry="25" fill="#00c000" opacity="0.2" filter="url(#g8)"/><ellipse cx="130" cy="110" rx="18" ry="40" fill="#00c000" opacity="0.22" filter="url(#g8)"/><ellipse cx="70" cy="60" rx="25" ry="15" fill="#00c000" opacity="0.1" filter="url(#g8)"/><ellipse cx="100" cy="140" rx="20" ry="15" fill="#00c000" opacity="0.14" filter="url(#g8)"/><g filter="url(#g08)" opacity="0.62"><circle cx="146.12" cy="127.66" r="1.71" fill="#00d000"/><circle cx="137" cy="82.41" r="1.16" fill="#00d000"/><circle cx="99.9" cy="44.3" r="1.22" fill="#00d000"/><circle cx="88.73" cy="57.9" r="1.89" fill="#00d000"/><circle cx="128.36" cy="116.49" r="2.06" fill="#00d000"/><circle cx="121.72" cy="47.89" r="1.01" fill="#00d000"/><circle cx="56.48" cy="78.78" r="1.03" fill="#00d000"/><circle cx="122.33" cy="153.85" r="1.37" fill="#00d000"/><circle cx="147.28" cy="92.46" r="1.65" fill="#00d000"/><circle cx="141.19" cy="57.7" r="0.96" fill="#00d000"/><circle cx="62.58" cy="68.42" r="1.05" fill="#00d000"/><circle cx="153.2" cy="127.61" r="1.52" fill="#00d000"/><circle cx="119.84" cy="135.31" r="1.11" fill="#00d000"/><circle cx="118.42" cy="52.11" r="0.94" fill="#00d000"/><circle cx="114.46" cy="74.27" r="1.19" fill="#00d000"/><circle cx="157.98" cy="104.42" r="0.96" fill="#00d000"/><circle cx="53.48" cy="101.36" r="1.55" fill="#00d000"/><circle cx="141.31" cy="119.63" r="1.13" fill="#00d000"/><circle cx="144.92" cy="49.97" r="0.89" fill="#00d000"/><circle cx="137.65" cy="136.17" r="1.6" fill="#00d000"/><circle cx="157.22" cy="101.3" r="2.12" fill="#00d000"/><circle cx="50.45" cy="69.58" r="1.17" fill="#00d000"/><circle cx="95.42" cy="123.1" r="1.68" fill="#00d000"/><circle cx="81.49" cy="151.82" r="1.62" fill="#00d000"/><circle cx="92.78" cy="153.83" r="1.3" fill="#00d000"/><circle cx="123.4" cy="119.09" r="1.12" fill="#00d000"/><circle cx="128.76" cy="70.63" r="1.15" fill="#00d000"/><circle cx="57.73" cy="58.84" r="1.21" fill="#00d000"/><circle cx="107.85" cy="55.88" r="1.59" fill="#00d000"/><circle cx="55.33" cy="60.86" r="1.86" fill="#00d000"/><circle cx="47.94" cy="92.08" r="1.31" fill="#00d000"/><circle cx="59.61" cy="135.47" r="1.56" fill="#00d000"/><circle cx="110.37" cy="58.78" r="2.08" fill="#00d000"/><circle cx="144.9" cy="77.33" r="1.28" fill="#00d000"/><circle cx="103.09" cy="118.78" r="1.08" fill="#00d000"/><circle cx="95.57" cy="70.16" r="1.16" fill="#00d000"/><circle cx="64.56" cy="132.73" r="1.16" fill="#00d000"/><circle cx="76.68" cy="125.69" r="0.98" fill="#00d000"/><circle cx="109.67" cy="121.56" r="1.82" fill="#00d000"/><circle cx="136.04" cy="135.84" r="1.11" fill="#00d000"/><circle cx="74.3" cy="54.41" r="1.29" fill="#00d000"/><circle cx="151.47" cy="74.23" r="1.58" fill="#00d000"/><circle cx="144.23" cy="106.74" r="1.17" fill="#00d000"/><circle cx="46.07" cy="106.3" r="2.01" fill="#00d000"/><circle cx="152.86" cy="114.62" r="2.11" fill="#00d000"/><circle cx="133.01" cy="63.94" r="2.17" fill="#00d000"/><circle cx="144.98" cy="54.75" r="2.1" fill="#00d000"/><circle cx="155.58" cy="118.08" r="1.23" fill="#00d000"/><circle cx="131.23" cy="124.82" r="1.62" fill="#00d000"/><circle cx="147.81" cy="96.31" r="1.9" fill="#00d000"/><circle cx="87.46" cy="153.58" r="1.15" fill="#00d000"/><circle cx="83.83" cy="49.15" r="0.8" fill="#00d000"/><circle cx="137.43" cy="94.29" r="2.18" fill="#00d000"/><circle cx="158.12" cy="69.31" r="2" fill="#00d000"/><circle cx="70.99" cy="144.54" r="0.84" fill="#00d000"/><circle cx="144.61" cy="141" r="1.93" fill="#00d000"/><circle cx="88.35" cy="36.27" r="1.53" fill="#00d000"/><circle cx="126.71" cy="58.42" r="2.06" fill="#00d000"/><circle cx="143.35" cy="112.94" r="1.61" fill="#00d000"/><circle cx="116.45" cy="54.95" r="1.75" fill="#00d000"/><circle cx="145.65" cy="86.66" r="1.08" fill="#00d000"/><circle cx="161.74" cy="105.93" r="1.47" fill="#00d000"/><circle cx="70.15" cy="124.58" r="0.97" fill="#00d000"/><circle cx="110.67" cy="126.95" r="1.16" fill="#00d000"/><circle cx="126.01" cy="69.47" r="0.93" fill="#00d000"/><circle cx="136.61" cy="59.91" r="0.84" fill="#00d000"/><circle cx="81.47" cy="48.69" r="1.71" fill="#00d000"/><circle cx="111.42" cy="53.78" r="1.11" fill="#00d000"/><circle cx="103.21" cy="45.28" r="1.79" fill="#00d000"/><circle cx="120.96" cy="131.04" r="1.77" fill="#00d000"/><circle cx="68.4" cy="127.44" r="1.46" fill="#00d000"/><circle cx="106.1" cy="56.75" r="1.5" fill="#00d000"/><circle cx="122.24" cy="62.92" r="1.05" fill="#00d000"/><circle cx="126.54" cy="67.94" r="2.07" fill="#00d000"/><circle cx="53.64" cy="88.18" r="1.48" fill="#00d000"/><circle cx="79.08" cy="65.54" r="2.14" fill="#00d000"/><circle cx="130.47" cy="144.56" r="0.83" fill="#00d000"/><circle cx="137.73" cy="130.63" r="2.07" fill="#00d000"/><circle cx="90.16" cy="132.98" r="1.47" fill="#00d000"/><circle cx="70.77" cy="141.23" r="1.58" fill="#00d000"/><circle cx="71.15" cy="140.1" r="2.2" fill="#00d000"/><circle cx="84.93" cy="150.4" r="1.04" fill="#00d000"/><circle cx="122.59" cy="147.69" r="0.96" fill="#00d000"/><circle cx="123.67" cy="69.12" r="1.34" fill="#00d000"/><circle cx="111.62" cy="53.17" r="1.88" fill="#00d000"/><circle cx="106.92" cy="73.35" r="1.95" fill="#00d000"/><circle cx="119.12" cy="65.41" r="1.63" fill="#00d000"/><circle cx="117.81" cy="139.66" r="1.85" fill="#00d000"/><circle cx="71.92" cy="127.32" r="0.98" fill="#00d000"/><circle cx="137.49" cy="57.26" r="1.96" fill="#00d000"/><circle cx="152.19" cy="121.22" r="0.93" fill="#00d000"/><circle cx="124.62" cy="81.03" r="1.46" fill="#00d000"/><circle cx="152.07" cy="115.22" r="2.16" fill="#00d000"/><circle cx="67.15" cy="140.19" r="1.27" fill="#00d000"/><circle cx="98.75" cy="137.59" r="2.16" fill="#00d000"/><circle cx="114.2" cy="45.83" r="0.86" fill="#00d000"/><circle cx="141.61" cy="110.04" r="1.14" fill="#00d000"/><circle cx="141.04" cy="122.6" r="1.9" fill="#00d000"/><circle cx="158.11" cy="68.23" r="1.4" fill="#00d000"/><circle cx="131.49" cy="149.86" r="1.39" fill="#00d000"/></g><g filter="url(#gdot)"><circle cx="110.43" cy="31.9" r="2.45" fill="#14ff14"/><circle cx="95.71" cy="31.9" r="1.9" fill="#14ff14"/><circle cx="116.56" cy="40.49" r="3.55" fill="#14ff14"/><circle cx="91.53" cy="47.12" r="3" fill="#14ff14"/><circle cx="87.85" cy="53.99" r="3.55" fill="#14ff14"/><circle cx="127.61" cy="52.27" r="3" fill="#14ff14"/><circle cx="109.2" cy="60.12" r="6.02" fill="#14ff14"/><circle cx="116.56" cy="61.35" r="4.65" fill="#14ff14"/><circle cx="119.02" cy="71.17" r="3.55" fill="#14ff14"/><circle cx="62.58" cy="69.94" r="3.55" fill="#14ff14"/><circle cx="82.7" cy="67.48" r="2.17" fill="#14ff14"/><circle cx="57.67" cy="53.99" r="2.45" fill="rgb(10,127,10)"/><circle cx="28.22" cy="69.2" r="1.9" fill="#14ff14"/><circle cx="137.42" cy="61.35" r="2.45" fill="#14ff14"/><circle cx="139.88" cy="56.44" r="1.9" fill="#14ff14"/><circle cx="144.79" cy="61.35" r="1.9" fill="#14ff14"/><circle cx="130.06" cy="89.57" r="3" fill="#14ff14"/><circle cx="139.88" cy="95.71" r="3" fill="#14ff14"/><circle cx="131.29" cy="103.07" r="4.65" fill="#14ff14"/><circle cx="128.83" cy="109.2" r="3" fill="#14ff14"/><circle cx="160.74" cy="96.93" r="3" fill="#14ff14"/><circle cx="109.2" cy="102.58" r="2.45" fill="#14ff14"/><circle cx="38.04" cy="106.01" r="4.37" fill="#14ff14"/><circle cx="49.08" cy="106.75" r="1.9" fill="rgb(14,178,14)"/><circle cx="75.34" cy="108.71" r="2.17" fill="#14ff14"/><circle cx="55.21" cy="121.47" r="3.27" fill="#14ff14"/><circle cx="159.51" cy="122.21" r="3.27" fill="#14ff14"/><circle cx="149.69" cy="119.02" r="2.45" fill="rgb(16,204,16)"/><circle cx="116.56" cy="122.7" r="2.45" fill="rgb(14,178,14)"/><circle cx="127.61" cy="125.15" r="2.72" fill="rgb(16,204,16)"/><circle cx="140.61" cy="138.65" r="1.9" fill="#14ff14"/><circle cx="90.8" cy="137.91" r="2.72" fill="rgb(16,204,16)"/><circle cx="97.67" cy="147.73" r="3.82" fill="#14ff14"/><circle cx="82.21" cy="150.92" r="2.17" fill="#14ff14"/><circle cx="89.57" cy="151.66" r="1.9" fill="#14ff14"/><circle cx="83.44" cy="157.06" r="1.62" fill="#14ff14"/><circle cx="107.24" cy="142.33" r="2.17" fill="rgb(14,178,14)"/><circle cx="126.38" cy="130.06" r="2.45" fill="rgb(14,178,14)"/></g></g></g><rect x="151.5" y="169.7" width="51.4" height="26.2" fill="#fff" stroke="none" stroke-width="0"/><text x="175" y="189.7" font-family="'Liberation Serif', serif" font-size="22.5" font-weight="normal" fill="#000" text-anchor="middle">4μm</text><rect x="151.5" y="199.3" width="51.4" height="2" fill="#fff" stroke="none" stroke-width="0"/></svg><svg x="769.2" y="1482.8" width="205.4" height="205" viewBox="0 0 205 205" preserveAspectRatio="none"><g style="isolation:isolate"><rect width="205" height="205" fill="#000"/><g style="mix-blend-mode:screen"><g filter="url(#rough)"><g><ellipse cx="99.4" cy="94.5" rx="73.6" ry="68.7" fill="#480000" filter="url(#g2)"/><ellipse cx="99.4" cy="94.5" rx="72.6" ry="67.7" fill="#ff0000" opacity="0.68" filter="url(#tex)"/><ellipse cx="81" cy="97" rx="31" ry="31" fill="#000" opacity="0.97" filter="url(#g3)"/><ellipse cx="30" cy="70" rx="5" ry="5" fill="#ff0000" filter="url(#g12)"/><ellipse cx="115" cy="30" rx="8" ry="4" fill="#ff0000" filter="url(#g12)"/><ellipse cx="95" cy="152" rx="6" ry="7" fill="#ff0000" filter="url(#g12)"/><ellipse cx="150" cy="85" rx="6" ry="8" fill="#ff0000" filter="url(#g12)"/><ellipse cx="160" cy="105" rx="5" ry="8" fill="#ff0000" filter="url(#g12)"/><ellipse cx="99.4" cy="94.5" rx="72.1" ry="67.2" fill="none" stroke="#f00000" stroke-width="3" filter="url(#g12)"/></g><circle cx="81" cy="97" r="31" fill="none" stroke="#d00000" stroke-width="1.6" filter="url(#g08)"/><ellipse cx="204" cy="165" rx="9" ry="14" fill="#ff0000" filter="url(#g12)"/></g></g></g><rect x="151.5" y="169.7" width="51.4" height="26.2" fill="#fff" stroke="none" stroke-width="0"/><text x="175" y="189.7" font-family="'Liberation Serif', serif" font-size="22.5" font-weight="normal" fill="#000" text-anchor="middle">4μm</text><rect x="151.5" y="199.3" width="51.4" height="2" fill="#fff" stroke="none" stroke-width="0"/></svg><svg x="769.2" y="1694.5" width="205.4" height="205" viewBox="0 0 205 205" preserveAspectRatio="none"><g style="isolation:isolate"><rect width="205" height="205" fill="#000"/><g style="mix-blend-mode:screen"><g filter="url(#rough)"><g><ellipse cx="99.4" cy="94.5" rx="73.6" ry="68.7" fill="#480000" filter="url(#g2)"/><ellipse cx="99.4" cy="94.5" rx="72.6" ry="67.7" fill="#ff0000" opacity="0.68" filter="url(#tex)"/><ellipse cx="81" cy="97" rx="31" ry="31" fill="#000" opacity="0.97" filter="url(#g3)"/><ellipse cx="30" cy="70" rx="5" ry="5" fill="#ff0000" filter="url(#g12)"/><ellipse cx="115" cy="30" rx="8" ry="4" fill="#ff0000" filter="url(#g12)"/><ellipse cx="95" cy="152" rx="6" ry="7" fill="#ff0000" filter="url(#g12)"/><ellipse cx="150" cy="85" rx="6" ry="8" fill="#ff0000" filter="url(#g12)"/><ellipse cx="160" cy="105" rx="5" ry="8" fill="#ff0000" filter="url(#g12)"/><ellipse cx="99.4" cy="94.5" rx="72.1" ry="67.2" fill="none" stroke="#f00000" stroke-width="3" filter="url(#g12)"/></g><circle cx="81" cy="97" r="31" fill="none" stroke="#d00000" stroke-width="1.6" filter="url(#g08)"/><ellipse cx="204" cy="165" rx="9" ry="14" fill="#ff0000" filter="url(#g12)"/></g></g><g style="mix-blend-mode:screen"><ellipse cx="120" cy="65" rx="35" ry="25" fill="#00c000" opacity="0.2" filter="url(#g8)"/><ellipse cx="130" cy="110" rx="18" ry="40" fill="#00c000" opacity="0.22" filter="url(#g8)"/><ellipse cx="70" cy="60" rx="25" ry="15" fill="#00c000" opacity="0.1" filter="url(#g8)"/><ellipse cx="100" cy="140" rx="20" ry="15" fill="#00c000" opacity="0.14" filter="url(#g8)"/><g filter="url(#g08)" opacity="0.62"><circle cx="146.12" cy="127.66" r="1.71" fill="#00d000"/><circle cx="137" cy="82.41" r="1.16" fill="#00d000"/><circle cx="99.9" cy="44.3" r="1.22" fill="#00d000"/><circle cx="88.73" cy="57.9" r="1.89" fill="#00d000"/><circle cx="128.36" cy="116.49" r="2.06" fill="#00d000"/><circle cx="121.72" cy="47.89" r="1.01" fill="#00d000"/><circle cx="56.48" cy="78.78" r="1.03" fill="#00d000"/><circle cx="122.33" cy="153.85" r="1.37" fill="#00d000"/><circle cx="147.28" cy="92.46" r="1.65" fill="#00d000"/><circle cx="141.19" cy="57.7" r="0.96" fill="#00d000"/><circle cx="62.58" cy="68.42" r="1.05" fill="#00d000"/><circle cx="153.2" cy="127.61" r="1.52" fill="#00d000"/><circle cx="119.84" cy="135.31" r="1.11" fill="#00d000"/><circle cx="118.42" cy="52.11" r="0.94" fill="#00d000"/><circle cx="114.46" cy="74.27" r="1.19" fill="#00d000"/><circle cx="157.98" cy="104.42" r="0.96" fill="#00d000"/><circle cx="53.48" cy="101.36" r="1.55" fill="#00d000"/><circle cx="141.31" cy="119.63" r="1.13" fill="#00d000"/><circle cx="144.92" cy="49.97" r="0.89" fill="#00d000"/><circle cx="137.65" cy="136.17" r="1.6" fill="#00d000"/><circle cx="157.22" cy="101.3" r="2.12" fill="#00d000"/><circle cx="50.45" cy="69.58" r="1.17" fill="#00d000"/><circle cx="95.42" cy="123.1" r="1.68" fill="#00d000"/><circle cx="81.49" cy="151.82" r="1.62" fill="#00d000"/><circle cx="92.78" cy="153.83" r="1.3" fill="#00d000"/><circle cx="123.4" cy="119.09" r="1.12" fill="#00d000"/><circle cx="128.76" cy="70.63" r="1.15" fill="#00d000"/><circle cx="57.73" cy="58.84" r="1.21" fill="#00d000"/><circle cx="107.85" cy="55.88" r="1.59" fill="#00d000"/><circle cx="55.33" cy="60.86" r="1.86" fill="#00d000"/><circle cx="47.94" cy="92.08" r="1.31" fill="#00d000"/><circle cx="59.61" cy="135.47" r="1.56" fill="#00d000"/><circle cx="110.37" cy="58.78" r="2.08" fill="#00d000"/><circle cx="144.9" cy="77.33" r="1.28" fill="#00d000"/><circle cx="103.09" cy="118.78" r="1.08" fill="#00d000"/><circle cx="95.57" cy="70.16" r="1.16" fill="#00d000"/><circle cx="64.56" cy="132.73" r="1.16" fill="#00d000"/><circle cx="76.68" cy="125.69" r="0.98" fill="#00d000"/><circle cx="109.67" cy="121.56" r="1.82" fill="#00d000"/><circle cx="136.04" cy="135.84" r="1.11" fill="#00d000"/><circle cx="74.3" cy="54.41" r="1.29" fill="#00d000"/><circle cx="151.47" cy="74.23" r="1.58" fill="#00d000"/><circle cx="144.23" cy="106.74" r="1.17" fill="#00d000"/><circle cx="46.07" cy="106.3" r="2.01" fill="#00d000"/><circle cx="152.86" cy="114.62" r="2.11" fill="#00d000"/><circle cx="133.01" cy="63.94" r="2.17" fill="#00d000"/><circle cx="144.98" cy="54.75" r="2.1" fill="#00d000"/><circle cx="155.58" cy="118.08" r="1.23" fill="#00d000"/><circle cx="131.23" cy="124.82" r="1.62" fill="#00d000"/><circle cx="147.81" cy="96.31" r="1.9" fill="#00d000"/><circle cx="87.46" cy="153.58" r="1.15" fill="#00d000"/><circle cx="83.83" cy="49.15" r="0.8" fill="#00d000"/><circle cx="137.43" cy="94.29" r="2.18" fill="#00d000"/><circle cx="158.12" cy="69.31" r="2" fill="#00d000"/><circle cx="70.99" cy="144.54" r="0.84" fill="#00d000"/><circle cx="144.61" cy="141" r="1.93" fill="#00d000"/><circle cx="88.35" cy="36.27" r="1.53" fill="#00d000"/><circle cx="126.71" cy="58.42" r="2.06" fill="#00d000"/><circle cx="143.35" cy="112.94" r="1.61" fill="#00d000"/><circle cx="116.45" cy="54.95" r="1.75" fill="#00d000"/><circle cx="145.65" cy="86.66" r="1.08" fill="#00d000"/><circle cx="161.74" cy="105.93" r="1.47" fill="#00d000"/><circle cx="70.15" cy="124.58" r="0.97" fill="#00d000"/><circle cx="110.67" cy="126.95" r="1.16" fill="#00d000"/><circle cx="126.01" cy="69.47" r="0.93" fill="#00d000"/><circle cx="136.61" cy="59.91" r="0.84" fill="#00d000"/><circle cx="81.47" cy="48.69" r="1.71" fill="#00d000"/><circle cx="111.42" cy="53.78" r="1.11" fill="#00d000"/><circle cx="103.21" cy="45.28" r="1.79" fill="#00d000"/><circle cx="120.96" cy="131.04" r="1.77" fill="#00d000"/><circle cx="68.4" cy="127.44" r="1.46" fill="#00d000"/><circle cx="106.1" cy="56.75" r="1.5" fill="#00d000"/><circle cx="122.24" cy="62.92" r="1.05" fill="#00d000"/><circle cx="126.54" cy="67.94" r="2.07" fill="#00d000"/><circle cx="53.64" cy="88.18" r="1.48" fill="#00d000"/><circle cx="79.08" cy="65.54" r="2.14" fill="#00d000"/><circle cx="130.47" cy="144.56" r="0.83" fill="#00d000"/><circle cx="137.73" cy="130.63" r="2.07" fill="#00d000"/><circle cx="90.16" cy="132.98" r="1.47" fill="#00d000"/><circle cx="70.77" cy="141.23" r="1.58" fill="#00d000"/><circle cx="71.15" cy="140.1" r="2.2" fill="#00d000"/><circle cx="84.93" cy="150.4" r="1.04" fill="#00d000"/><circle cx="122.59" cy="147.69" r="0.96" fill="#00d000"/><circle cx="123.67" cy="69.12" r="1.34" fill="#00d000"/><circle cx="111.62" cy="53.17" r="1.88" fill="#00d000"/><circle cx="106.92" cy="73.35" r="1.95" fill="#00d000"/><circle cx="119.12" cy="65.41" r="1.63" fill="#00d000"/><circle cx="117.81" cy="139.66" r="1.85" fill="#00d000"/><circle cx="71.92" cy="127.32" r="0.98" fill="#00d000"/><circle cx="137.49" cy="57.26" r="1.96" fill="#00d000"/><circle cx="152.19" cy="121.22" r="0.93" fill="#00d000"/><circle cx="124.62" cy="81.03" r="1.46" fill="#00d000"/><circle cx="152.07" cy="115.22" r="2.16" fill="#00d000"/><circle cx="67.15" cy="140.19" r="1.27" fill="#00d000"/><circle cx="98.75" cy="137.59" r="2.16" fill="#00d000"/><circle cx="114.2" cy="45.83" r="0.86" fill="#00d000"/><circle cx="141.61" cy="110.04" r="1.14" fill="#00d000"/><circle cx="141.04" cy="122.6" r="1.9" fill="#00d000"/><circle cx="158.11" cy="68.23" r="1.4" fill="#00d000"/><circle cx="131.49" cy="149.86" r="1.39" fill="#00d000"/></g><g filter="url(#gdot)"><circle cx="110.43" cy="31.9" r="2.45" fill="#14ff14"/><circle cx="95.71" cy="31.9" r="1.9" fill="#14ff14"/><circle cx="116.56" cy="40.49" r="3.55" fill="#14ff14"/><circle cx="91.53" cy="47.12" r="3" fill="#14ff14"/><circle cx="87.85" cy="53.99" r="3.55" fill="#14ff14"/><circle cx="127.61" cy="52.27" r="3" fill="#14ff14"/><circle cx="109.2" cy="60.12" r="6.02" fill="#14ff14"/><circle cx="116.56" cy="61.35" r="4.65" fill="#14ff14"/><circle cx="119.02" cy="71.17" r="3.55" fill="#14ff14"/><circle cx="62.58" cy="69.94" r="3.55" fill="#14ff14"/><circle cx="82.7" cy="67.48" r="2.17" fill="#14ff14"/><circle cx="57.67" cy="53.99" r="2.45" fill="rgb(10,127,10)"/><circle cx="28.22" cy="69.2" r="1.9" fill="#14ff14"/><circle cx="137.42" cy="61.35" r="2.45" fill="#14ff14"/><circle cx="139.88" cy="56.44" r="1.9" fill="#14ff14"/><circle cx="144.79" cy="61.35" r="1.9" fill="#14ff14"/><circle cx="130.06" cy="89.57" r="3" fill="#14ff14"/><circle cx="139.88" cy="95.71" r="3" fill="#14ff14"/><circle cx="131.29" cy="103.07" r="4.65" fill="#14ff14"/><circle cx="128.83" cy="109.2" r="3" fill="#14ff14"/><circle cx="160.74" cy="96.93" r="3" fill="#14ff14"/><circle cx="109.2" cy="102.58" r="2.45" fill="#14ff14"/><circle cx="38.04" cy="106.01" r="4.37" fill="#14ff14"/><circle cx="49.08" cy="106.75" r="1.9" fill="rgb(14,178,14)"/><circle cx="75.34" cy="108.71" r="2.17" fill="#14ff14"/><circle cx="55.21" cy="121.47" r="3.27" fill="#14ff14"/><circle cx="159.51" cy="122.21" r="3.27" fill="#14ff14"/><circle cx="149.69" cy="119.02" r="2.45" fill="rgb(16,204,16)"/><circle cx="116.56" cy="122.7" r="2.45" fill="rgb(14,178,14)"/><circle cx="127.61" cy="125.15" r="2.72" fill="rgb(16,204,16)"/><circle cx="140.61" cy="138.65" r="1.9" fill="#14ff14"/><circle cx="90.8" cy="137.91" r="2.72" fill="rgb(16,204,16)"/><circle cx="97.67" cy="147.73" r="3.82" fill="#14ff14"/><circle cx="82.21" cy="150.92" r="2.17" fill="#14ff14"/><circle cx="89.57" cy="151.66" r="1.9" fill="#14ff14"/><circle cx="83.44" cy="157.06" r="1.62" fill="#14ff14"/><circle cx="107.24" cy="142.33" r="2.17" fill="rgb(14,178,14)"/><circle cx="126.38" cy="130.06" r="2.45" fill="rgb(14,178,14)"/></g></g><g><ellipse cx="83.4" cy="95.2" rx="33" ry="32.5" fill="#000" opacity="0.6" filter="url(#g2)"/></g><g style="mix-blend-mode:screen"><ellipse cx="83.4" cy="95.2" rx="47.25" ry="46.58" fill="#0000ff" opacity="0.04" filter="url(#g5)"/><ellipse cx="83.4" cy="95.2" rx="35" ry="34.5" fill="#0000ff" filter="url(#g12)"/><ellipse cx="76" cy="105" rx="1.8" ry="1.44" fill="#00007a" opacity="0.75" filter="url(#g12)"/></g></g><line x1="56" y1="59.1" x2="71.66" y2="53.5" stroke="#fff" stroke-width="2.1" stroke-linecap="butt"/><polygon points="83.4,49.3 72.36,61.48 71.66,53.5 67.14,46.89" fill="#fff"/><line x1="67.5" y1="162.2" x2="84.01" y2="156.05" stroke="#fff" stroke-width="2.1" stroke-linecap="butt"/><polygon points="95.7,151.7 84.82,164.02 84.01,156.05 79.41,149.5" fill="#fff"/><rect x="151.5" y="169.7" width="51.4" height="26.2" fill="#fff" stroke="none" stroke-width="0"/><text x="175" y="189.7" font-family="'Liberation Serif', serif" font-size="22.5" font-weight="normal" fill="#000" text-anchor="middle">4μm</text><rect x="151.5" y="199.3" width="51.4" height="2" fill="#fff" stroke="none" stroke-width="0"/></svg>
<svg x="1190.2" y="1059.2" width="205.4" height="205" viewBox="0 0 205 205" preserveAspectRatio="none"><g style="isolation:isolate"><rect width="205" height="205" fill="#000"/><g style="mix-blend-mode:screen"><ellipse cx="49.4" cy="8.7" rx="9.4" ry="9" fill="#0000ff" filter="url(#g08)"/><ellipse cx="67.8" cy="70.5" rx="8" ry="8" fill="#0000ff" filter="url(#g08)"/><ellipse cx="69.8" cy="71.5" rx="2.5" ry="2" fill="#000060" filter="url(#g08)"/><ellipse cx="149.3" cy="61.8" rx="8.4" ry="9.2" fill="#0000ff" filter="url(#g08)"/><ellipse cx="116.3" cy="91.2" rx="8.7" ry="8.7" fill="#0000ff" filter="url(#g08)"/><ellipse cx="90.5" cy="108.6" rx="4" ry="6" fill="#0000ff" filter="url(#g08)"/><ellipse cx="47.8" cy="118" rx="9.6" ry="8.8" fill="#0000ff" filter="url(#g08)"/><ellipse cx="142.7" cy="132" rx="9" ry="9.4" fill="#0000ff" filter="url(#g08)"/><ellipse cx="93.6" cy="155.7" rx="10.9" ry="10.3" fill="#0000ff" filter="url(#g08)"/><ellipse cx="73.5" cy="178.8" rx="10.4" ry="10.2" fill="#0000ff" filter="url(#g08)"/><ellipse cx="133.6" cy="179.8" rx="5" ry="8.4" fill="#0000ff" filter="url(#g08)"/></g></g></svg><svg x="1190.2" y="1270.8" width="205.4" height="205" viewBox="0 0 205 205" preserveAspectRatio="none"><g style="isolation:isolate"><rect width="205" height="205" fill="#000"/><g style="mix-blend-mode:screen"><g filter="url(#rough3)"><circle cx="57" cy="12.3" r="19.7" fill="rgb(7,88,7)" filter="url(#g12)"/><circle cx="63.03" cy="17.38" r="7.88" fill="#000" opacity="0.42" filter="url(#g12)"/><circle cx="47.64" cy="13.63" r="6.5" fill="#000" opacity="0.42" filter="url(#g12)"/><circle cx="57" cy="12.3" r="18.7" fill="none" stroke="rgb(10,108,10)" stroke-width="1.3" opacity="0.8" filter="url(#g08)"/><circle cx="145" cy="59.9" r="17.8" fill="rgb(4,51,4)" filter="url(#g12)"/><circle cx="136.87" cy="62.52" r="7.12" fill="#000" opacity="0.42" filter="url(#g12)"/><circle cx="151.55" cy="52.39" r="5.87" fill="#000" opacity="0.42" filter="url(#g12)"/><circle cx="145" cy="59.9" r="16.8" fill="none" stroke="rgb(6,60,6)" stroke-width="1.3" opacity="0.8" filter="url(#g08)"/><circle cx="64.8" cy="77.7" r="18.5" fill="rgb(7,78,7)" filter="url(#g12)"/><circle cx="67.34" cy="67.66" r="7.4" fill="#000" opacity="0.42" filter="url(#g12)"/><circle cx="68.94" cy="83.83" r="6.11" fill="#000" opacity="0.42" filter="url(#g12)"/><circle cx="64.8" cy="77.7" r="17.5" fill="none" stroke="rgb(9,96,9)" stroke-width="1.3" opacity="0.8" filter="url(#g08)"/><circle cx="123.5" cy="96.2" r="17.8" fill="rgb(7,88,7)" filter="url(#g12)"/><circle cx="128.43" cy="101.34" r="7.12" fill="#000" opacity="0.42" filter="url(#g12)"/><circle cx="115.25" cy="93.96" r="5.87" fill="#000" opacity="0.42" filter="url(#g12)"/><circle cx="123.5" cy="96.2" r="16.8" fill="none" stroke="rgb(10,108,10)" stroke-width="1.3" opacity="0.8" filter="url(#g08)"/><circle cx="85.8" cy="107.2" r="19.7" fill="rgb(2,27,2)" filter="url(#g12)"/><circle cx="76.54" cy="109.12" r="7.88" fill="#000" opacity="0.42" filter="url(#g12)"/><circle cx="91.32" cy="97.65" r="6.5" fill="#000" opacity="0.42" filter="url(#g12)"/><circle cx="85.8" cy="107.2" r="18.7" fill="none" stroke="rgb(2,28,2)" stroke-width="1.3" opacity="0.8" filter="url(#g08)"/><circle cx="47.6" cy="114.6" r="16" fill="rgb(4,51,4)" filter="url(#g12)"/><circle cx="50.71" cy="106.2" r="6.4" fill="#000" opacity="0.42" filter="url(#g12)"/><circle cx="48.79" cy="120.89" r="5.28" fill="#000" opacity="0.42" filter="url(#g12)"/><circle cx="47.6" cy="114.6" r="15" fill="none" stroke="rgb(6,60,6)" stroke-width="1.3" opacity="0.8" filter="url(#g08)"/><circle cx="147.4" cy="124.5" r="19.2" fill="rgb(10,115,10)" filter="url(#g12)"/><circle cx="152.09" cy="130.58" r="7.68" fill="#000" opacity="0.42" filter="url(#g12)"/><circle cx="138.21" cy="123.84" r="6.34" fill="#000" opacity="0.42" filter="url(#g12)"/><circle cx="147.4" cy="124.5" r="18.2" fill="none" stroke="rgb(14,144,14)" stroke-width="1.3" opacity="0.8" filter="url(#g08)"/><circle cx="94.4" cy="155.3" r="18.5" fill="rgb(1,24,1)" filter="url(#g12)"/><circle cx="177.8" cy="157.8" r="14.8" fill="rgb(5,60,5)" filter="url(#g12)"/><circle cx="181.49" cy="150.38" r="5.92" fill="#000" opacity="0.42" filter="url(#g12)"/><circle cx="180" cy="163.3" r="4.88" fill="#000" opacity="0.42" filter="url(#g12)"/><circle cx="177.8" cy="157.8" r="13.8" fill="none" stroke="rgb(7,72,7)" stroke-width="1.3" opacity="0.8" filter="url(#g08)"/><circle cx="65.6" cy="180" r="19.7" fill="rgb(4,51,4)" filter="url(#g12)"/><circle cx="69.72" cy="186.72" r="7.88" fill="#000" opacity="0.42" filter="url(#g12)"/><circle cx="57.21" cy="175.64" r="6.5" fill="#000" opacity="0.42" filter="url(#g12)"/><circle cx="65.6" cy="180" r="18.7" fill="none" stroke="rgb(6,60,6)" stroke-width="1.3" opacity="0.8" filter="url(#g08)"/><circle cx="136.8" cy="183" r="20.2" fill="rgb(22,234,22)" filter="url(#g12)"/><circle cx="127.1" cy="182.91" r="8.08" fill="#000" opacity="0.25" filter="url(#g12)"/><circle cx="144.41" cy="174.63" r="6.67" fill="#000" opacity="0.25" filter="url(#g12)"/><circle cx="136.8" cy="183" r="19.2" fill="none" stroke="rgb(30,255,30)" stroke-width="1.3" opacity="0.8" filter="url(#g08)"/></g></g></g></svg><svg x="1190.2" y="1482.8" width="205.4" height="205" viewBox="0 0 205 205" preserveAspectRatio="none"><g style="isolation:isolate"><rect width="205" height="205" fill="#000"/><g style="mix-blend-mode:screen"><g filter="url(#rough3)"><circle cx="57" cy="12.3" r="19.7" fill="rgb(65,0,0)" filter="url(#g12)"/><circle cx="57" cy="12.3" r="19.2" fill="#ff0000" opacity="0.33" filter="url(#tex)"/><circle cx="63.03" cy="17.38" r="7.88" fill="#000" opacity="0.78" filter="url(#g12)"/><circle cx="63.03" cy="17.38" r="8.18" fill="none" stroke="rgb(116,0,0)" stroke-width="1.3" filter="url(#g08)"/><circle cx="47.64" cy="13.63" r="6.5" fill="#000" opacity="0.78" filter="url(#g12)"/><circle cx="47.64" cy="13.63" r="6.8" fill="none" stroke="rgb(116,0,0)" stroke-width="1.3" filter="url(#g08)"/><circle cx="57" cy="12.3" r="18.9" fill="none" stroke="rgb(105,0,0)" stroke-width="1.5" filter="url(#g08)"/><circle cx="145" cy="59.9" r="17.8" fill="rgb(93,0,0)" filter="url(#g12)"/><circle cx="145" cy="59.9" r="17.3" fill="#ff0000" opacity="0.5" filter="url(#tex)"/><circle cx="136.87" cy="62.52" r="7.12" fill="#000" opacity="0.78" filter="url(#g12)"/><circle cx="136.87" cy="62.52" r="7.42" fill="none" stroke="rgb(174,0,0)" stroke-width="1.3" filter="url(#g08)"/><circle cx="151.55" cy="52.39" r="5.87" fill="#000" opacity="0.78" filter="url(#g12)"/><circle cx="151.55" cy="52.39" r="6.17" fill="none" stroke="rgb(174,0,0)" stroke-width="1.3" filter="url(#g08)"/><circle cx="145" cy="59.9" r="17" fill="none" stroke="rgb(158,0,0)" stroke-width="1.5" filter="url(#g08)"/><circle cx="64.8" cy="77.7" r="18.5" fill="rgb(86,0,0)" filter="url(#g12)"/><circle cx="64.8" cy="77.7" r="18" fill="#ff0000" opacity="0.46" filter="url(#tex)"/><circle cx="67.34" cy="67.66" r="7.4" fill="#000" opacity="0.78" filter="url(#g12)"/><circle cx="67.34" cy="67.66" r="7.7" fill="none" stroke="rgb(159,0,0)" stroke-width="1.3" filter="url(#g08)"/><circle cx="68.94" cy="83.83" r="6.11" fill="#000" opacity="0.78" filter="url(#g12)"/><circle cx="68.94" cy="83.83" r="6.41" fill="none" stroke="rgb(159,0,0)" stroke-width="1.3" filter="url(#g08)"/><circle cx="64.8" cy="77.7" r="17.7" fill="none" stroke="rgb(145,0,0)" stroke-width="1.5" filter="url(#g08)"/><circle cx="123.5" cy="96.2" r="17.8" fill="rgb(79,0,0)" filter="url(#g12)"/><circle cx="123.5" cy="96.2" r="17.3" fill="#ff0000" opacity="0.42" filter="url(#tex)"/><circle cx="128.43" cy="101.34" r="7.12" fill="#000" opacity="0.78" filter="url(#g12)"/><circle cx="128.43" cy="101.34" r="7.42" fill="none" stroke="rgb(145,0,0)" stroke-width="1.3" filter="url(#g08)"/><circle cx="115.25" cy="93.96" r="5.87" fill="#000" opacity="0.78" filter="url(#g12)"/><circle cx="115.25" cy="93.96" r="6.17" fill="none" stroke="rgb(145,0,0)" stroke-width="1.3" filter="url(#g08)"/><circle cx="123.5" cy="96.2" r="17" fill="none" stroke="rgb(132,0,0)" stroke-width="1.5" filter="url(#g08)"/><circle cx="85.8" cy="107.2" r="19.7" fill="rgb(79,0,0)" filter="url(#g12)"/><circle cx="85.8" cy="107.2" r="19.2" fill="#ff0000" opacity="0.42" filter="url(#tex)"/><circle cx="76.54" cy="109.12" r="7.88" fill="#000" opacity="0.78" filter="url(#g12)"/><circle cx="76.54" cy="109.12" r="8.18" fill="none" stroke="rgb(145,0,0)" stroke-width="1.3" filter="url(#g08)"/><circle cx="91.32" cy="97.65" r="6.5" fill="#000" opacity="0.78" filter="url(#g12)"/><circle cx="91.32" cy="97.65" r="6.8" fill="none" stroke="rgb(145,0,0)" stroke-width="1.3" filter="url(#g08)"/><circle cx="85.8" cy="107.2" r="18.9" fill="none" stroke="rgb(132,0,0)" stroke-width="1.5" filter="url(#g08)"/><circle cx="47.6" cy="114.6" r="16" fill="rgb(79,0,0)" filter="url(#g12)"/><circle cx="47.6" cy="114.6" r="15.5" fill="#ff0000" opacity="0.42" filter="url(#tex)"/><circle cx="50.71" cy="106.2" r="6.4" fill="#000" opacity="0.78" filter="url(#g12)"/><circle cx="50.71" cy="106.2" r="6.7" fill="none" stroke="rgb(145,0,0)" stroke-width="1.3" filter="url(#g08)"/><circle cx="48.79" cy="120.89" r="5.28" fill="#000" opacity="0.78" filter="url(#g12)"/><circle cx="48.79" cy="120.89" r="5.58" fill="none" stroke="rgb(145,0,0)" stroke-width="1.3" filter="url(#g08)"/><circle cx="47.6" cy="114.6" r="15.2" fill="none" stroke="rgb(132,0,0)" stroke-width="1.5" filter="url(#g08)"/><circle cx="147.4" cy="124.5" r="19.2" fill="rgb(100,0,0)" filter="url(#g12)"/><circle cx="147.4" cy="124.5" r="18.7" fill="#ff0000" opacity="0.54" filter="url(#tex)"/><circle cx="152.09" cy="130.58" r="7.68" fill="#000" opacity="0.78" filter="url(#g12)"/><circle cx="152.09" cy="130.58" r="7.98" fill="none" stroke="rgb(188,0,0)" stroke-width="1.3" filter="url(#g08)"/><circle cx="138.21" cy="123.84" r="6.34" fill="#000" opacity="0.78" filter="url(#g12)"/><circle cx="138.21" cy="123.84" r="6.64" fill="none" stroke="rgb(188,0,0)" stroke-width="1.3" filter="url(#g08)"/><circle cx="147.4" cy="124.5" r="18.4" fill="none" stroke="rgb(171,0,0)" stroke-width="1.5" filter="url(#g08)"/><circle cx="94.4" cy="155.3" r="18.5" fill="rgb(65,0,0)" filter="url(#g12)"/><circle cx="94.4" cy="155.3" r="18" fill="#ff0000" opacity="0.33" filter="url(#tex)"/><circle cx="85.56" cy="156.17" r="7.4" fill="#000" opacity="0.78" filter="url(#g12)"/><circle cx="85.56" cy="156.17" r="7.7" fill="none" stroke="rgb(116,0,0)" stroke-width="1.3" filter="url(#g08)"/><circle cx="102.71" cy="149.12" r="6.11" fill="#000" opacity="0.78" filter="url(#g12)"/><circle cx="102.71" cy="149.12" r="6.41" fill="none" stroke="rgb(116,0,0)" stroke-width="1.3" filter="url(#g08)"/><circle cx="94.4" cy="155.3" r="17.7" fill="none" stroke="rgb(105,0,0)" stroke-width="1.5" filter="url(#g08)"/><circle cx="177.8" cy="157.8" r="14.8" fill="rgb(65,0,0)" filter="url(#g12)"/><circle cx="177.8" cy="157.8" r="14.3" fill="#ff0000" opacity="0.33" filter="url(#tex)"/><circle cx="181.49" cy="150.38" r="5.92" fill="#000" opacity="0.78" filter="url(#g12)"/><circle cx="181.49" cy="150.38" r="6.22" fill="none" stroke="rgb(116,0,0)" stroke-width="1.3" filter="url(#g08)"/><circle cx="180" cy="163.3" r="4.88" fill="#000" opacity="0.78" filter="url(#g12)"/><circle cx="180" cy="163.3" r="5.18" fill="none" stroke="rgb(116,0,0)" stroke-width="1.3" filter="url(#g08)"/><circle cx="177.8" cy="157.8" r="14" fill="none" stroke="rgb(105,0,0)" stroke-width="1.5" filter="url(#g08)"/><circle cx="65.6" cy="180" r="19.7" fill="rgb(57,0,0)" filter="url(#g12)"/><circle cx="65.6" cy="180" r="19.2" fill="#ff0000" opacity="0.29" filter="url(#tex)"/><circle cx="69.72" cy="186.72" r="7.88" fill="#000" opacity="0.78" filter="url(#g12)"/><circle cx="69.72" cy="186.72" r="8.18" fill="none" stroke="rgb(101,0,0)" stroke-width="1.3" filter="url(#g08)"/><circle cx="57.21" cy="175.64" r="6.5" fill="#000" opacity="0.78" filter="url(#g12)"/><circle cx="57.21" cy="175.64" r="6.8" fill="none" stroke="rgb(101,0,0)" stroke-width="1.3" filter="url(#g08)"/><circle cx="65.6" cy="180" r="18.9" fill="none" stroke="rgb(92,0,0)" stroke-width="1.5" filter="url(#g08)"/><circle cx="136.8" cy="183" r="20.2" fill="rgb(161,0,0)" filter="url(#g12)"/><circle cx="136.8" cy="183" r="19.7" fill="#ff0000" opacity="0.9" filter="url(#tex)"/><circle cx="136.8" cy="183" r="17.17" fill="#ff0000" opacity="0.75" filter="url(#g2)"/><circle cx="127.1" cy="182.91" r="4.04" fill="#000" opacity="0.78" filter="url(#g12)"/><circle cx="127.1" cy="182.91" r="4.34" fill="none" stroke="rgb(255,0,0)" stroke-width="1.3" filter="url(#g08)"/><circle cx="136.8" cy="183" r="19.4" fill="none" stroke="rgb(255,0,0)" stroke-width="1.5" filter="url(#g08)"/></g><ellipse cx="2" cy="67" rx="14" ry="26" fill="#3a0000" filter="url(#g3)"/></g></g></svg><svg x="1190.2" y="1694.5" width="205.4" height="205" viewBox="0 0 205 205" preserveAspectRatio="none"><g style="isolation:isolate"><rect width="205" height="205" fill="#000"/><g style="mix-blend-mode:screen"><g filter="url(#rough3)"><circle cx="57" cy="12.3" r="19.7" fill="rgb(65,0,0)" filter="url(#g12)"/><circle cx="57" cy="12.3" r="19.2" fill="#ff0000" opacity="0.33" filter="url(#tex)"/><circle cx="63.03" cy="17.38" r="7.88" fill="#000" opacity="0.78" filter="url(#g12)"/><circle cx="63.03" cy="17.38" r="8.18" fill="none" stroke="rgb(116,0,0)" stroke-width="1.3" filter="url(#g08)"/><circle cx="47.64" cy="13.63" r="6.5" fill="#000" opacity="0.78" filter="url(#g12)"/><circle cx="47.64" cy="13.63" r="6.8" fill="none" stroke="rgb(116,0,0)" stroke-width="1.3" filter="url(#g08)"/><circle cx="57" cy="12.3" r="18.9" fill="none" stroke="rgb(105,0,0)" stroke-width="1.5" filter="url(#g08)"/><circle cx="145" cy="59.9" r="17.8" fill="rgb(93,0,0)" filter="url(#g12)"/><circle cx="145" cy="59.9" r="17.3" fill="#ff0000" opacity="0.5" filter="url(#tex)"/><circle cx="136.87" cy="62.52" r="7.12" fill="#000" opacity="0.78" filter="url(#g12)"/><circle cx="136.87" cy="62.52" r="7.42" fill="none" stroke="rgb(174,0,0)" stroke-width="1.3" filter="url(#g08)"/><circle cx="151.55" cy="52.39" r="5.87" fill="#000" opacity="0.78" filter="url(#g12)"/><circle cx="151.55" cy="52.39" r="6.17" fill="none" stroke="rgb(174,0,0)" stroke-width="1.3" filter="url(#g08)"/><circle cx="145" cy="59.9" r="17" fill="none" stroke="rgb(158,0,0)" stroke-width="1.5" filter="url(#g08)"/><circle cx="64.8" cy="77.7" r="18.5" fill="rgb(86,0,0)" filter="url(#g12)"/><circle cx="64.8" cy="77.7" r="18" fill="#ff0000" opacity="0.46" filter="url(#tex)"/><circle cx="67.34" cy="67.66" r="7.4" fill="#000" opacity="0.78" filter="url(#g12)"/><circle cx="67.34" cy="67.66" r="7.7" fill="none" stroke="rgb(159,0,0)" stroke-width="1.3" filter="url(#g08)"/><circle cx="68.94" cy="83.83" r="6.11" fill="#000" opacity="0.78" filter="url(#g12)"/><circle cx="68.94" cy="83.83" r="6.41" fill="none" stroke="rgb(159,0,0)" stroke-width="1.3" filter="url(#g08)"/><circle cx="64.8" cy="77.7" r="17.7" fill="none" stroke="rgb(145,0,0)" stroke-width="1.5" filter="url(#g08)"/><circle cx="123.5" cy="96.2" r="17.8" fill="rgb(79,0,0)" filter="url(#g12)"/><circle cx="123.5" cy="96.2" r="17.3" fill="#ff0000" opacity="0.42" filter="url(#tex)"/><circle cx="128.43" cy="101.34" r="7.12" fill="#000" opacity="0.78" filter="url(#g12)"/><circle cx="128.43" cy="101.34" r="7.42" fill="none" stroke="rgb(145,0,0)" stroke-width="1.3" filter="url(#g08)"/><circle cx="115.25" cy="93.96" r="5.87" fill="#000" opacity="0.78" filter="url(#g12)"/><circle cx="115.25" cy="93.96" r="6.17" fill="none" stroke="rgb(145,0,0)" stroke-width="1.3" filter="url(#g08)"/><circle cx="123.5" cy="96.2" r="17" fill="none" stroke="rgb(132,0,0)" stroke-width="1.5" filter="url(#g08)"/><circle cx="85.8" cy="107.2" r="19.7" fill="rgb(79,0,0)" filter="url(#g12)"/><circle cx="85.8" cy="107.2" r="19.2" fill="#ff0000" opacity="0.42" filter="url(#tex)"/><circle cx="76.54" cy="109.12" r="7.88" fill="#000" opacity="0.78" filter="url(#g12)"/><circle cx="76.54" cy="109.12" r="8.18" fill="none" stroke="rgb(145,0,0)" stroke-width="1.3" filter="url(#g08)"/><circle cx="91.32" cy="97.65" r="6.5" fill="#000" opacity="0.78" filter="url(#g12)"/><circle cx="91.32" cy="97.65" r="6.8" fill="none" stroke="rgb(145,0,0)" stroke-width="1.3" filter="url(#g08)"/><circle cx="85.8" cy="107.2" r="18.9" fill="none" stroke="rgb(132,0,0)" stroke-width="1.5" filter="url(#g08)"/><circle cx="47.6" cy="114.6" r="16" fill="rgb(79,0,0)" filter="url(#g12)"/><circle cx="47.6" cy="114.6" r="15.5" fill="#ff0000" opacity="0.42" filter="url(#tex)"/><circle cx="50.71" cy="106.2" r="6.4" fill="#000" opacity="0.78" filter="url(#g12)"/><circle cx="50.71" cy="106.2" r="6.7" fill="none" stroke="rgb(145,0,0)" stroke-width="1.3" filter="url(#g08)"/><circle cx="48.79" cy="120.89" r="5.28" fill="#000" opacity="0.78" filter="url(#g12)"/><circle cx="48.79" cy="120.89" r="5.58" fill="none" stroke="rgb(145,0,0)" stroke-width="1.3" filter="url(#g08)"/><circle cx="47.6" cy="114.6" r="15.2" fill="none" stroke="rgb(132,0,0)" stroke-width="1.5" filter="url(#g08)"/><circle cx="147.4" cy="124.5" r="19.2" fill="rgb(100,0,0)" filter="url(#g12)"/><circle cx="147.4" cy="124.5" r="18.7" fill="#ff0000" opacity="0.54" filter="url(#tex)"/><circle cx="152.09" cy="130.58" r="7.68" fill="#000" opacity="0.78" filter="url(#g12)"/><circle cx="152.09" cy="130.58" r="7.98" fill="none" stroke="rgb(188,0,0)" stroke-width="1.3" filter="url(#g08)"/><circle cx="138.21" cy="123.84" r="6.34" fill="#000" opacity="0.78" filter="url(#g12)"/><circle cx="138.21" cy="123.84" r="6.64" fill="none" stroke="rgb(188,0,0)" stroke-width="1.3" filter="url(#g08)"/><circle cx="147.4" cy="124.5" r="18.4" fill="none" stroke="rgb(171,0,0)" stroke-width="1.5" filter="url(#g08)"/><circle cx="94.4" cy="155.3" r="18.5" fill="rgb(65,0,0)" filter="url(#g12)"/><circle cx="94.4" cy="155.3" r="18" fill="#ff0000" opacity="0.33" filter="url(#tex)"/><circle cx="85.56" cy="156.17" r="7.4" fill="#000" opacity="0.78" filter="url(#g12)"/><circle cx="85.56" cy="156.17" r="7.7" fill="none" stroke="rgb(116,0,0)" stroke-width="1.3" filter="url(#g08)"/><circle cx="102.71" cy="149.12" r="6.11" fill="#000" opacity="0.78" filter="url(#g12)"/><circle cx="102.71" cy="149.12" r="6.41" fill="none" stroke="rgb(116,0,0)" stroke-width="1.3" filter="url(#g08)"/><circle cx="94.4" cy="155.3" r="17.7" fill="none" stroke="rgb(105,0,0)" stroke-width="1.5" filter="url(#g08)"/><circle cx="177.8" cy="157.8" r="14.8" fill="rgb(65,0,0)" filter="url(#g12)"/><circle cx="177.8" cy="157.8" r="14.3" fill="#ff0000" opacity="0.33" filter="url(#tex)"/><circle cx="181.49" cy="150.38" r="5.92" fill="#000" opacity="0.78" filter="url(#g12)"/><circle cx="181.49" cy="150.38" r="6.22" fill="none" stroke="rgb(116,0,0)" stroke-width="1.3" filter="url(#g08)"/><circle cx="180" cy="163.3" r="4.88" fill="#000" opacity="0.78" filter="url(#g12)"/><circle cx="180" cy="163.3" r="5.18" fill="none" stroke="rgb(116,0,0)" stroke-width="1.3" filter="url(#g08)"/><circle cx="177.8" cy="157.8" r="14" fill="none" stroke="rgb(105,0,0)" stroke-width="1.5" filter="url(#g08)"/><circle cx="65.6" cy="180" r="19.7" fill="rgb(57,0,0)" filter="url(#g12)"/><circle cx="65.6" cy="180" r="19.2" fill="#ff0000" opacity="0.29" filter="url(#tex)"/><circle cx="69.72" cy="186.72" r="7.88" fill="#000" opacity="0.78" filter="url(#g12)"/><circle cx="69.72" cy="186.72" r="8.18" fill="none" stroke="rgb(101,0,0)" stroke-width="1.3" filter="url(#g08)"/><circle cx="57.21" cy="175.64" r="6.5" fill="#000" opacity="0.78" filter="url(#g12)"/><circle cx="57.21" cy="175.64" r="6.8" fill="none" stroke="rgb(101,0,0)" stroke-width="1.3" filter="url(#g08)"/><circle cx="65.6" cy="180" r="18.9" fill="none" stroke="rgb(92,0,0)" stroke-width="1.5" filter="url(#g08)"/><circle cx="136.8" cy="183" r="20.2" fill="rgb(161,0,0)" filter="url(#g12)"/><circle cx="136.8" cy="183" r="19.7" fill="#ff0000" opacity="0.9" filter="url(#tex)"/><circle cx="136.8" cy="183" r="17.17" fill="#ff0000" opacity="0.75" filter="url(#g2)"/><circle cx="127.1" cy="182.91" r="4.04" fill="#000" opacity="0.78" filter="url(#g12)"/><circle cx="127.1" cy="182.91" r="4.34" fill="none" stroke="rgb(255,0,0)" stroke-width="1.3" filter="url(#g08)"/><circle cx="136.8" cy="183" r="19.4" fill="none" stroke="rgb(255,0,0)" stroke-width="1.5" filter="url(#g08)"/></g><ellipse cx="2" cy="67" rx="14" ry="26" fill="#3a0000" filter="url(#g3)"/></g><g style="mix-blend-mode:screen"><g filter="url(#rough3)"><circle cx="57" cy="12.3" r="19.7" fill="rgb(7,88,7)" filter="url(#g12)"/><circle cx="63.03" cy="17.38" r="7.88" fill="#000" opacity="0.42" filter="url(#g12)"/><circle cx="47.64" cy="13.63" r="6.5" fill="#000" opacity="0.42" filter="url(#g12)"/><circle cx="57" cy="12.3" r="18.7" fill="none" stroke="rgb(10,108,10)" stroke-width="1.3" opacity="0.8" filter="url(#g08)"/><circle cx="145" cy="59.9" r="17.8" fill="rgb(4,51,4)" filter="url(#g12)"/><circle cx="136.87" cy="62.52" r="7.12" fill="#000" opacity="0.42" filter="url(#g12)"/><circle cx="151.55" cy="52.39" r="5.87" fill="#000" opacity="0.42" filter="url(#g12)"/><circle cx="145" cy="59.9" r="16.8" fill="none" stroke="rgb(6,60,6)" stroke-width="1.3" opacity="0.8" filter="url(#g08)"/><circle cx="64.8" cy="77.7" r="18.5" fill="rgb(7,78,7)" filter="url(#g12)"/><circle cx="67.34" cy="67.66" r="7.4" fill="#000" opacity="0.42" filter="url(#g12)"/><circle cx="68.94" cy="83.83" r="6.11" fill="#000" opacity="0.42" filter="url(#g12)"/><circle cx="64.8" cy="77.7" r="17.5" fill="none" stroke="rgb(9,96,9)" stroke-width="1.3" opacity="0.8" filter="url(#g08)"/><circle cx="123.5" cy="96.2" r="17.8" fill="rgb(7,88,7)" filter="url(#g12)"/><circle cx="128.43" cy="101.34" r="7.12" fill="#000" opacity="0.42" filter="url(#g12)"/><circle cx="115.25" cy="93.96" r="5.87" fill="#000" opacity="0.42" filter="url(#g12)"/><circle cx="123.5" cy="96.2" r="16.8" fill="none" stroke="rgb(10,108,10)" stroke-width="1.3" opacity="0.8" filter="url(#g08)"/><circle cx="85.8" cy="107.2" r="19.7" fill="rgb(2,27,2)" filter="url(#g12)"/><circle cx="76.54" cy="109.12" r="7.88" fill="#000" opacity="0.42" filter="url(#g12)"/><circle cx="91.32" cy="97.65" r="6.5" fill="#000" opacity="0.42" filter="url(#g12)"/><circle cx="85.8" cy="107.2" r="18.7" fill="none" stroke="rgb(2,28,2)" stroke-width="1.3" opacity="0.8" filter="url(#g08)"/><circle cx="47.6" cy="114.6" r="16" fill="rgb(4,51,4)" filter="url(#g12)"/><circle cx="50.71" cy="106.2" r="6.4" fill="#000" opacity="0.42" filter="url(#g12)"/><circle cx="48.79" cy="120.89" r="5.28" fill="#000" opacity="0.42" filter="url(#g12)"/><circle cx="47.6" cy="114.6" r="15" fill="none" stroke="rgb(6,60,6)" stroke-width="1.3" opacity="0.8" filter="url(#g08)"/><circle cx="147.4" cy="124.5" r="19.2" fill="rgb(10,115,10)" filter="url(#g12)"/><circle cx="152.09" cy="130.58" r="7.68" fill="#000" opacity="0.42" filter="url(#g12)"/><circle cx="138.21" cy="123.84" r="6.34" fill="#000" opacity="0.42" filter="url(#g12)"/><circle cx="147.4" cy="124.5" r="18.2" fill="none" stroke="rgb(14,144,14)" stroke-width="1.3" opacity="0.8" filter="url(#g08)"/><circle cx="94.4" cy="155.3" r="18.5" fill="rgb(1,24,1)" filter="url(#g12)"/><circle cx="177.8" cy="157.8" r="14.8" fill="rgb(5,60,5)" filter="url(#g12)"/><circle cx="181.49" cy="150.38" r="5.92" fill="#000" opacity="0.42" filter="url(#g12)"/><circle cx="180" cy="163.3" r="4.88" fill="#000" opacity="0.42" filter="url(#g12)"/><circle cx="177.8" cy="157.8" r="13.8" fill="none" stroke="rgb(7,72,7)" stroke-width="1.3" opacity="0.8" filter="url(#g08)"/><circle cx="65.6" cy="180" r="19.7" fill="rgb(4,51,4)" filter="url(#g12)"/><circle cx="69.72" cy="186.72" r="7.88" fill="#000" opacity="0.42" filter="url(#g12)"/><circle cx="57.21" cy="175.64" r="6.5" fill="#000" opacity="0.42" filter="url(#g12)"/><circle cx="65.6" cy="180" r="18.7" fill="none" stroke="rgb(6,60,6)" stroke-width="1.3" opacity="0.8" filter="url(#g08)"/><circle cx="136.8" cy="183" r="20.2" fill="rgb(22,234,22)" filter="url(#g12)"/><circle cx="127.1" cy="182.91" r="8.08" fill="#000" opacity="0.25" filter="url(#g12)"/><circle cx="144.41" cy="174.63" r="6.67" fill="#000" opacity="0.25" filter="url(#g12)"/><circle cx="136.8" cy="183" r="19.2" fill="none" stroke="rgb(30,255,30)" stroke-width="1.3" opacity="0.8" filter="url(#g08)"/></g></g><g><ellipse cx="49.4" cy="8.7" rx="8.9" ry="8.5" fill="#000" opacity="0.62" filter="url(#g12)"/><ellipse cx="67.8" cy="70.5" rx="7.5" ry="7.5" fill="#000" opacity="0.62" filter="url(#g12)"/><ellipse cx="149.3" cy="61.8" rx="7.9" ry="8.7" fill="#000" opacity="0.62" filter="url(#g12)"/><ellipse cx="116.3" cy="91.2" rx="8.2" ry="8.2" fill="#000" opacity="0.62" filter="url(#g12)"/><ellipse cx="90.5" cy="108.6" rx="3.5" ry="5.5" fill="#000" opacity="0.62" filter="url(#g12)"/><ellipse cx="47.8" cy="118" rx="9.1" ry="8.3" fill="#000" opacity="0.62" filter="url(#g12)"/><ellipse cx="142.7" cy="132" rx="8.5" ry="8.9" fill="#000" opacity="0.62" filter="url(#g12)"/><ellipse cx="93.6" cy="155.7" rx="10.4" ry="9.8" fill="#000" opacity="0.62" filter="url(#g12)"/><ellipse cx="73.5" cy="178.8" rx="9.9" ry="9.7" fill="#000" opacity="0.62" filter="url(#g12)"/></g><g style="mix-blend-mode:screen"><ellipse cx="49.4" cy="8.7" rx="9.4" ry="9" fill="#0000ff" filter="url(#g08)"/><ellipse cx="67.8" cy="70.5" rx="8" ry="8" fill="#0000ff" filter="url(#g08)"/><ellipse cx="69.8" cy="71.5" rx="2.5" ry="2" fill="#000060" filter="url(#g08)"/><ellipse cx="149.3" cy="61.8" rx="8.4" ry="9.2" fill="#0000ff" filter="url(#g08)"/><ellipse cx="116.3" cy="91.2" rx="8.7" ry="8.7" fill="#0000ff" filter="url(#g08)"/><ellipse cx="90.5" cy="108.6" rx="4" ry="6" fill="#0000ff" filter="url(#g08)"/><ellipse cx="47.8" cy="118" rx="9.6" ry="8.8" fill="#0000ff" filter="url(#g08)"/><ellipse cx="142.7" cy="132" rx="9" ry="9.4" fill="#0000ff" filter="url(#g08)"/><ellipse cx="93.6" cy="155.7" rx="10.9" ry="10.3" fill="#0000ff" filter="url(#g08)"/><ellipse cx="73.5" cy="178.8" rx="10.4" ry="10.2" fill="#0000ff" filter="url(#g08)"/><ellipse cx="133.6" cy="179.8" rx="5" ry="8.4" fill="#0000ff" filter="url(#g08)"/></g></g><line x1="90" y1="196.5" x2="105.39" y2="190.88" stroke="#fff" stroke-width="2.1" stroke-linecap="butt"/><polygon points="117.1,186.6 106.14,198.85 105.39,190.88 100.82,184.3" fill="#fff"/></svg><svg x="1403.4" y="1059.2" width="205.4" height="205" viewBox="0 0 205 205" preserveAspectRatio="none"><g style="isolation:isolate"><rect width="205" height="205" fill="#000"/><g style="mix-blend-mode:screen"><ellipse cx="30.7" cy="65.5" rx="6.7" ry="5.7" fill="#0000ff" filter="url(#g08)"/><ellipse cx="163.7" cy="48.8" rx="9.4" ry="9.4" fill="#0000ff" filter="url(#g08)"/><ellipse cx="108.6" cy="67.8" rx="7.4" ry="7.4" fill="#0000c8" opacity="0.85" filter="url(#texfine)"/><ellipse cx="108.6" cy="67.8" rx="7.4" ry="7.4" fill="#000090" opacity="0.5" filter="url(#g12)"/><ellipse cx="172.7" cy="91.9" rx="8.8" ry="10.7" fill="#0000ff" filter="url(#g08)"/><ellipse cx="86.5" cy="103.9" rx="7.4" ry="7.4" fill="#0000c8" opacity="0.85" filter="url(#texfine)"/><ellipse cx="86.5" cy="103.9" rx="7.4" ry="7.4" fill="#000090" opacity="0.5" filter="url(#g12)"/><ellipse cx="84.2" cy="140.7" rx="8.4" ry="8.4" fill="#0000c8" opacity="0.85" filter="url(#texfine)"/><ellipse cx="84.2" cy="140.7" rx="8.4" ry="8.4" fill="#000090" opacity="0.5" filter="url(#g12)"/><ellipse cx="54.1" cy="167" rx="9.4" ry="9.6" fill="#0000ff" filter="url(#g08)"/><ellipse cx="142" cy="164.7" rx="6.7" ry="6" fill="#0000ff" filter="url(#g08)"/><ellipse cx="102.6" cy="184.8" rx="10" ry="10.3" fill="#0000ff" filter="url(#g08)"/><ellipse cx="172.7" cy="201.5" rx="10" ry="6" fill="#0000ff" filter="url(#g08)"/></g></g></svg><svg x="1403.4" y="1270.8" width="205.4" height="205" viewBox="0 0 205 205" preserveAspectRatio="none"><g style="isolation:isolate"><rect width="205" height="205" fill="#000"/><g style="mix-blend-mode:screen"><g filter="url(#rough3)"><circle cx="25.1" cy="65.3" r="16" fill="rgb(22,234,22)" filter="url(#g12)"/><circle cx="29.53" cy="69.92" r="6.4" fill="#000" opacity="0.25" filter="url(#g12)"/><circle cx="17.69" cy="63.29" r="5.28" fill="#000" opacity="0.25" filter="url(#g12)"/><circle cx="25.1" cy="65.3" r="15" fill="none" stroke="rgb(30,255,30)" stroke-width="1.3" opacity="0.8" filter="url(#g08)"/><circle cx="102.8" cy="69" r="16.8" fill="rgb(14,152,14)" filter="url(#g12)"/><circle cx="94.9" cy="70.64" r="6.72" fill="#000" opacity="0.42" filter="url(#g12)"/><circle cx="107.51" cy="60.86" r="5.54" fill="#000" opacity="0.42" filter="url(#g12)"/><circle cx="102.8" cy="69" r="15.8" fill="none" stroke="rgb(19,193,19)" stroke-width="1.3" opacity="0.8" filter="url(#g08)"/><circle cx="168.9" cy="48.6" r="19.2" fill="rgb(14,152,14)" filter="url(#g12)"/><circle cx="172.63" cy="38.52" r="7.68" fill="#000" opacity="0.42" filter="url(#g12)"/><circle cx="170.33" cy="56.15" r="6.34" fill="#000" opacity="0.42" filter="url(#g12)"/><circle cx="168.9" cy="48.6" r="18.2" fill="none" stroke="rgb(19,193,19)" stroke-width="1.3" opacity="0.8" filter="url(#g08)"/><circle cx="162" cy="85.6" r="20.2" fill="rgb(9,100,9)" filter="url(#g12)"/><circle cx="166.94" cy="92" r="8.08" fill="#000" opacity="0.42" filter="url(#g12)"/><circle cx="152.33" cy="84.9" r="6.67" fill="#000" opacity="0.42" filter="url(#g12)"/><circle cx="162" cy="85.6" r="19.2" fill="none" stroke="rgb(12,124,12)" stroke-width="1.3" opacity="0.8" filter="url(#g08)"/><circle cx="86.8" cy="102.8" r="16" fill="rgb(16,173,16)" filter="url(#g12)"/><circle cx="79.16" cy="103.55" r="6.4" fill="#000" opacity="0.42" filter="url(#g12)"/><circle cx="93.99" cy="97.45" r="5.28" fill="#000" opacity="0.42" filter="url(#g12)"/><circle cx="86.8" cy="102.8" r="15" fill="none" stroke="rgb(22,220,22)" stroke-width="1.3" opacity="0.8" filter="url(#g08)"/><circle cx="120.6" cy="97.4" r="16.8" fill="rgb(12,131,12)" filter="url(#g12)"/><circle cx="124.79" cy="88.98" r="6.72" fill="#000" opacity="0.42" filter="url(#g12)"/><circle cx="123.09" cy="103.64" r="5.54" fill="#000" opacity="0.42" filter="url(#g12)"/><circle cx="120.6" cy="97.4" r="15.8" fill="none" stroke="rgb(16,165,16)" stroke-width="1.3" opacity="0.8" filter="url(#g08)"/><circle cx="80.6" cy="144.2" r="16" fill="rgb(8,89,8)" filter="url(#g12)"/><circle cx="83.95" cy="149.65" r="6.4" fill="#000" opacity="0.42" filter="url(#g12)"/><circle cx="73.78" cy="140.66" r="5.28" fill="#000" opacity="0.42" filter="url(#g12)"/><circle cx="80.6" cy="144.2" r="15" fill="none" stroke="rgb(11,110,11)" stroke-width="1.3" opacity="0.8" filter="url(#g08)"/><circle cx="142.3" cy="160.3" r="22" fill="rgb(2,31,2)" filter="url(#g12)"/><circle cx="131.74" cy="160.21" r="8.8" fill="#000" opacity="0.42" filter="url(#g12)"/><circle cx="150.59" cy="151.19" r="7.26" fill="#000" opacity="0.42" filter="url(#g12)"/><circle cx="142.3" cy="160.3" r="21" fill="none" stroke="rgb(3,33,3)" stroke-width="1.3" opacity="0.8" filter="url(#g08)"/><circle cx="53.5" cy="172.6" r="19.38" fill="#00ff00" opacity="0.55" filter="url(#g3)"/><circle cx="53.5" cy="172.6" r="16.95" fill="#00ff00" filter="url(#g12)"/><circle cx="50.91" cy="185.06" r="2.77" fill="#006000" opacity="0.7" filter="url(#g12)"/><circle cx="100.3" cy="183.7" r="17" fill="rgb(1,18,1)" filter="url(#g12)"/></g></g></g></svg><svg x="1403.4" y="1482.8" width="205.4" height="205" viewBox="0 0 205 205" preserveAspectRatio="none"><g style="isolation:isolate"><rect width="205" height="205" fill="#000"/><g style="mix-blend-mode:screen"><g filter="url(#rough3)"><circle cx="25.1" cy="65.3" r="16" fill="rgb(170,0,0)" filter="url(#g12)"/><circle cx="25.1" cy="65.3" r="15.5" fill="#ff0000" opacity="0.95" filter="url(#tex)"/><circle cx="25.1" cy="65.3" r="13.6" fill="#ff0000" opacity="0.75" filter="url(#g2)"/><circle cx="29.53" cy="69.92" r="3.2" fill="#000" opacity="0.78" filter="url(#g12)"/><circle cx="29.53" cy="69.92" r="3.5" fill="none" stroke="rgb(255,0,0)" stroke-width="1.3" filter="url(#g08)"/><circle cx="25.1" cy="65.3" r="15.2" fill="none" stroke="rgb(255,0,0)" stroke-width="1.5" filter="url(#g08)"/><circle cx="102.8" cy="69" r="16.8" fill="rgb(100,0,0)" filter="url(#g12)"/><circle cx="102.8" cy="69" r="16.3" fill="#ff0000" opacity="0.54" filter="url(#tex)"/><circle cx="94.9" cy="70.64" r="6.72" fill="#000" opacity="0.78" filter="url(#g12)"/><circle cx="94.9" cy="70.64" r="7.02" fill="none" stroke="rgb(188,0,0)" stroke-width="1.3" filter="url(#g08)"/><circle cx="107.51" cy="60.86" r="5.54" fill="#000" opacity="0.78" filter="url(#g12)"/><circle cx="107.51" cy="60.86" r="5.84" fill="none" stroke="rgb(188,0,0)" stroke-width="1.3" filter="url(#g08)"/><circle cx="102.8" cy="69" r="16" fill="none" stroke="rgb(171,0,0)" stroke-width="1.5" filter="url(#g08)"/><circle cx="168.9" cy="48.6" r="19.2" fill="rgb(93,0,0)" filter="url(#g12)"/><circle cx="168.9" cy="48.6" r="18.7" fill="#ff0000" opacity="0.5" filter="url(#tex)"/><circle cx="172.63" cy="38.52" r="7.68" fill="#000" opacity="0.78" filter="url(#g12)"/><circle cx="172.63" cy="38.52" r="7.98" fill="none" stroke="rgb(174,0,0)" stroke-width="1.3" filter="url(#g08)"/><circle cx="170.33" cy="56.15" r="6.34" fill="#000" opacity="0.78" filter="url(#g12)"/><circle cx="170.33" cy="56.15" r="6.64" fill="none" stroke="rgb(174,0,0)" stroke-width="1.3" filter="url(#g08)"/><circle cx="168.9" cy="48.6" r="18.4" fill="none" stroke="rgb(158,0,0)" stroke-width="1.5" filter="url(#g08)"/><circle cx="162" cy="85.6" r="20.2" fill="rgb(79,0,0)" filter="url(#g12)"/><circle cx="162" cy="85.6" r="19.7" fill="#ff0000" opacity="0.42" filter="url(#tex)"/><circle cx="166.94" cy="92" r="8.08" fill="#000" opacity="0.78" filter="url(#g12)"/><circle cx="166.94" cy="92" r="8.38" fill="none" stroke="rgb(145,0,0)" stroke-width="1.3" filter="url(#g08)"/><circle cx="152.33" cy="84.9" r="6.67" fill="#000" opacity="0.78" filter="url(#g12)"/><circle cx="152.33" cy="84.9" r="6.97" fill="none" stroke="rgb(145,0,0)" stroke-width="1.3" filter="url(#g08)"/><circle cx="162" cy="85.6" r="19.4" fill="none" stroke="rgb(132,0,0)" stroke-width="1.5" filter="url(#g08)"/><circle cx="86.8" cy="102.8" r="16" fill="rgb(122,0,0)" filter="url(#g12)"/><circle cx="86.8" cy="102.8" r="15.5" fill="#ff0000" opacity="0.67" filter="url(#tex)"/><circle cx="79.16" cy="103.55" r="6.4" fill="#000" opacity="0.78" filter="url(#g12)"/><circle cx="79.16" cy="103.55" r="6.7" fill="none" stroke="rgb(232,0,0)" stroke-width="1.3" filter="url(#g08)"/><circle cx="93.99" cy="97.45" r="5.28" fill="#000" opacity="0.78" filter="url(#g12)"/><circle cx="93.99" cy="97.45" r="5.58" fill="none" stroke="rgb(232,0,0)" stroke-width="1.3" filter="url(#g08)"/><circle cx="86.8" cy="102.8" r="15.2" fill="none" stroke="rgb(211,0,0)" stroke-width="1.5" filter="url(#g08)"/><circle cx="120.6" cy="97.4" r="16.8" fill="rgb(107,0,0)" filter="url(#g12)"/><circle cx="120.6" cy="97.4" r="16.3" fill="#ff0000" opacity="0.59" filter="url(#tex)"/><circle cx="124.79" cy="88.98" r="6.72" fill="#000" opacity="0.78" filter="url(#g12)"/><circle cx="124.79" cy="88.98" r="7.02" fill="none" stroke="rgb(203,0,0)" stroke-width="1.3" filter="url(#g08)"/><circle cx="123.09" cy="103.64" r="5.54" fill="#000" opacity="0.78" filter="url(#g12)"/><circle cx="123.09" cy="103.64" r="5.84" fill="none" stroke="rgb(203,0,0)" stroke-width="1.3" filter="url(#g08)"/><circle cx="120.6" cy="97.4" r="16" fill="none" stroke="rgb(184,0,0)" stroke-width="1.5" filter="url(#g08)"/><circle cx="80.6" cy="144.2" r="16" fill="rgb(107,0,0)" filter="url(#g12)"/><circle cx="80.6" cy="144.2" r="15.5" fill="#ff0000" opacity="0.59" filter="url(#tex)"/><circle cx="83.95" cy="149.65" r="6.4" fill="#000" opacity="0.78" filter="url(#g12)"/><circle cx="83.95" cy="149.65" r="6.7" fill="none" stroke="rgb(203,0,0)" stroke-width="1.3" filter="url(#g08)"/><circle cx="73.78" cy="140.66" r="5.28" fill="#000" opacity="0.78" filter="url(#g12)"/><circle cx="73.78" cy="140.66" r="5.58" fill="none" stroke="rgb(203,0,0)" stroke-width="1.3" filter="url(#g08)"/><circle cx="80.6" cy="144.2" r="15.2" fill="none" stroke="rgb(184,0,0)" stroke-width="1.5" filter="url(#g08)"/><circle cx="142.3" cy="160.3" r="22" fill="rgb(50,0,0)" filter="url(#g12)"/><circle cx="142.3" cy="160.3" r="21.5" fill="#ff0000" opacity="0.25" filter="url(#tex)"/><circle cx="131.74" cy="160.21" r="8.8" fill="#000" opacity="0.78" filter="url(#g12)"/><circle cx="131.74" cy="160.21" r="9.1" fill="none" stroke="rgb(87,0,0)" stroke-width="1.3" filter="url(#g08)"/><circle cx="150.59" cy="151.19" r="7.26" fill="#000" opacity="0.78" filter="url(#g12)"/><circle cx="150.59" cy="151.19" r="7.56" fill="none" stroke="rgb(87,0,0)" stroke-width="1.3" filter="url(#g08)"/><circle cx="142.3" cy="160.3" r="21.2" fill="none" stroke="rgb(79,0,0)" stroke-width="1.5" filter="url(#g08)"/><circle cx="53.5" cy="172.6" r="17.3" fill="rgb(93,0,0)" filter="url(#g12)"/><circle cx="53.5" cy="172.6" r="16.8" fill="#ff0000" opacity="0.5" filter="url(#tex)"/><circle cx="58.71" cy="164.43" r="6.92" fill="#000" opacity="0.78" filter="url(#g12)"/><circle cx="58.71" cy="164.43" r="7.22" fill="none" stroke="rgb(174,0,0)" stroke-width="1.3" filter="url(#g08)"/><circle cx="53.32" cy="179.52" r="5.71" fill="#000" opacity="0.78" filter="url(#g12)"/><circle cx="53.32" cy="179.52" r="6.01" fill="none" stroke="rgb(174,0,0)" stroke-width="1.3" filter="url(#g08)"/><circle cx="53.5" cy="172.6" r="16.5" fill="none" stroke="rgb(158,0,0)" stroke-width="1.5" filter="url(#g08)"/><circle cx="100.3" cy="183.7" r="17" fill="rgb(36,0,0)" filter="url(#g12)"/><circle cx="100.3" cy="183.7" r="16.5" fill="#ff0000" opacity="0.17" filter="url(#tex)"/><circle cx="103.22" cy="189.84" r="6.8" fill="#000" opacity="0.78" filter="url(#g12)"/><circle cx="103.22" cy="189.84" r="7.1" fill="none" stroke="rgb(58,0,0)" stroke-width="1.3" filter="url(#g08)"/><circle cx="92.47" cy="181.4" r="5.61" fill="#000" opacity="0.78" filter="url(#g12)"/><circle cx="92.47" cy="181.4" r="5.91" fill="none" stroke="rgb(58,0,0)" stroke-width="1.3" filter="url(#g08)"/><circle cx="100.3" cy="183.7" r="16.2" fill="none" stroke="rgb(52,0,0)" stroke-width="1.5" filter="url(#g08)"/></g><ellipse cx="0" cy="26" rx="10" ry="26" fill="#2a0000" filter="url(#g3)"/><ellipse cx="2" cy="113" rx="11" ry="24" fill="#700000" filter="url(#g3)"/><path d="M 84 6 Q 103 18 120 6" fill="none" stroke="#c00000" stroke-width="2.5" filter="url(#g12)"/><ellipse cx="174" cy="204" rx="13" ry="8" fill="#500000" filter="url(#g3)"/><ellipse cx="1" cy="194" rx="2.5" ry="2.5" fill="#ff0000"/></g></g></svg><svg x="1403.4" y="1694.5" width="205.4" height="205" viewBox="0 0 205 205" preserveAspectRatio="none"><g style="isolation:isolate"><rect width="205" height="205" fill="#000"/><g style="mix-blend-mode:screen"><g filter="url(#rough3)"><circle cx="25.1" cy="65.3" r="16" fill="rgb(170,0,0)" filter="url(#g12)"/><circle cx="25.1" cy="65.3" r="15.5" fill="#ff0000" opacity="0.95" filter="url(#tex)"/><circle cx="25.1" cy="65.3" r="13.6" fill="#ff0000" opacity="0.75" filter="url(#g2)"/><circle cx="29.53" cy="69.92" r="3.2" fill="#000" opacity="0.78" filter="url(#g12)"/><circle cx="29.53" cy="69.92" r="3.5" fill="none" stroke="rgb(255,0,0)" stroke-width="1.3" filter="url(#g08)"/><circle cx="25.1" cy="65.3" r="15.2" fill="none" stroke="rgb(255,0,0)" stroke-width="1.5" filter="url(#g08)"/><circle cx="102.8" cy="69" r="16.8" fill="rgb(100,0,0)" filter="url(#g12)"/><circle cx="102.8" cy="69" r="16.3" fill="#ff0000" opacity="0.54" filter="url(#tex)"/><circle cx="94.9" cy="70.64" r="6.72" fill="#000" opacity="0.78" filter="url(#g12)"/><circle cx="94.9" cy="70.64" r="7.02" fill="none" stroke="rgb(188,0,0)" stroke-width="1.3" filter="url(#g08)"/><circle cx="107.51" cy="60.86" r="5.54" fill="#000" opacity="0.78" filter="url(#g12)"/><circle cx="107.51" cy="60.86" r="5.84" fill="none" stroke="rgb(188,0,0)" stroke-width="1.3" filter="url(#g08)"/><circle cx="102.8" cy="69" r="16" fill="none" stroke="rgb(171,0,0)" stroke-width="1.5" filter="url(#g08)"/><circle cx="168.9" cy="48.6" r="19.2" fill="rgb(93,0,0)" filter="url(#g12)"/><circle cx="168.9" cy="48.6" r="18.7" fill="#ff0000" opacity="0.5" filter="url(#tex)"/><circle cx="172.63" cy="38.52" r="7.68" fill="#000" opacity="0.78" filter="url(#g12)"/><circle cx="172.63" cy="38.52" r="7.98" fill="none" stroke="rgb(174,0,0)" stroke-width="1.3" filter="url(#g08)"/><circle cx="170.33" cy="56.15" r="6.34" fill="#000" opacity="0.78" filter="url(#g12)"/><circle cx="170.33" cy="56.15" r="6.64" fill="none" stroke="rgb(174,0,0)" stroke-width="1.3" filter="url(#g08)"/><circle cx="168.9" cy="48.6" r="18.4" fill="none" stroke="rgb(158,0,0)" stroke-width="1.5" filter="url(#g08)"/><circle cx="162" cy="85.6" r="20.2" fill="rgb(79,0,0)" filter="url(#g12)"/><circle cx="162" cy="85.6" r="19.7" fill="#ff0000" opacity="0.42" filter="url(#tex)"/><circle cx="166.94" cy="92" r="8.08" fill="#000" opacity="0.78" filter="url(#g12)"/><circle cx="166.94" cy="92" r="8.38" fill="none" stroke="rgb(145,0,0)" stroke-width="1.3" filter="url(#g08)"/><circle cx="152.33" cy="84.9" r="6.67" fill="#000" opacity="0.78" filter="url(#g12)"/><circle cx="152.33" cy="84.9" r="6.97" fill="none" stroke="rgb(145,0,0)" stroke-width="1.3" filter="url(#g08)"/><circle cx="162" cy="85.6" r="19.4" fill="none" stroke="rgb(132,0,0)" stroke-width="1.5" filter="url(#g08)"/><circle cx="86.8" cy="102.8" r="16" fill="rgb(122,0,0)" filter="url(#g12)"/><circle cx="86.8" cy="102.8" r="15.5" fill="#ff0000" opacity="0.67" filter="url(#tex)"/><circle cx="79.16" cy="103.55" r="6.4" fill="#000" opacity="0.78" filter="url(#g12)"/><circle cx="79.16" cy="103.55" r="6.7" fill="none" stroke="rgb(232,0,0)" stroke-width="1.3" filter="url(#g08)"/><circle cx="93.99" cy="97.45" r="5.28" fill="#000" opacity="0.78" filter="url(#g12)"/><circle cx="93.99" cy="97.45" r="5.58" fill="none" stroke="rgb(232,0,0)" stroke-width="1.3" filter="url(#g08)"/><circle cx="86.8" cy="102.8" r="15.2" fill="none" stroke="rgb(211,0,0)" stroke-width="1.5" filter="url(#g08)"/><circle cx="120.6" cy="97.4" r="16.8" fill="rgb(107,0,0)" filter="url(#g12)"/><circle cx="120.6" cy="97.4" r="16.3" fill="#ff0000" opacity="0.59" filter="url(#tex)"/><circle cx="124.79" cy="88.98" r="6.72" fill="#000" opacity="0.78" filter="url(#g12)"/><circle cx="124.79" cy="88.98" r="7.02" fill="none" stroke="rgb(203,0,0)" stroke-width="1.3" filter="url(#g08)"/><circle cx="123.09" cy="103.64" r="5.54" fill="#000" opacity="0.78" filter="url(#g12)"/><circle cx="123.09" cy="103.64" r="5.84" fill="none" stroke="rgb(203,0,0)" stroke-width="1.3" filter="url(#g08)"/><circle cx="120.6" cy="97.4" r="16" fill="none" stroke="rgb(184,0,0)" stroke-width="1.5" filter="url(#g08)"/><circle cx="80.6" cy="144.2" r="16" fill="rgb(107,0,0)" filter="url(#g12)"/><circle cx="80.6" cy="144.2" r="15.5" fill="#ff0000" opacity="0.59" filter="url(#tex)"/><circle cx="83.95" cy="149.65" r="6.4" fill="#000" opacity="0.78" filter="url(#g12)"/><circle cx="83.95" cy="149.65" r="6.7" fill="none" stroke="rgb(203,0,0)" stroke-width="1.3" filter="url(#g08)"/><circle cx="73.78" cy="140.66" r="5.28" fill="#000" opacity="0.78" filter="url(#g12)"/><circle cx="73.78" cy="140.66" r="5.58" fill="none" stroke="rgb(203,0,0)" stroke-width="1.3" filter="url(#g08)"/><circle cx="80.6" cy="144.2" r="15.2" fill="none" stroke="rgb(184,0,0)" stroke-width="1.5" filter="url(#g08)"/><circle cx="142.3" cy="160.3" r="22" fill="rgb(50,0,0)" filter="url(#g12)"/><circle cx="142.3" cy="160.3" r="21.5" fill="#ff0000" opacity="0.25" filter="url(#tex)"/><circle cx="131.74" cy="160.21" r="8.8" fill="#000" opacity="0.78" filter="url(#g12)"/><circle cx="131.74" cy="160.21" r="9.1" fill="none" stroke="rgb(87,0,0)" stroke-width="1.3" filter="url(#g08)"/><circle cx="150.59" cy="151.19" r="7.26" fill="#000" opacity="0.78" filter="url(#g12)"/><circle cx="150.59" cy="151.19" r="7.56" fill="none" stroke="rgb(87,0,0)" stroke-width="1.3" filter="url(#g08)"/><circle cx="142.3" cy="160.3" r="21.2" fill="none" stroke="rgb(79,0,0)" stroke-width="1.5" filter="url(#g08)"/><circle cx="53.5" cy="172.6" r="17.3" fill="rgb(93,0,0)" filter="url(#g12)"/><circle cx="53.5" cy="172.6" r="16.8" fill="#ff0000" opacity="0.5" filter="url(#tex)"/><circle cx="58.71" cy="164.43" r="6.92" fill="#000" opacity="0.78" filter="url(#g12)"/><circle cx="58.71" cy="164.43" r="7.22" fill="none" stroke="rgb(174,0,0)" stroke-width="1.3" filter="url(#g08)"/><circle cx="53.32" cy="179.52" r="5.71" fill="#000" opacity="0.78" filter="url(#g12)"/><circle cx="53.32" cy="179.52" r="6.01" fill="none" stroke="rgb(174,0,0)" stroke-width="1.3" filter="url(#g08)"/><circle cx="53.5" cy="172.6" r="16.5" fill="none" stroke="rgb(158,0,0)" stroke-width="1.5" filter="url(#g08)"/><circle cx="100.3" cy="183.7" r="17" fill="rgb(36,0,0)" filter="url(#g12)"/><circle cx="100.3" cy="183.7" r="16.5" fill="#ff0000" opacity="0.17" filter="url(#tex)"/><circle cx="103.22" cy="189.84" r="6.8" fill="#000" opacity="0.78" filter="url(#g12)"/><circle cx="103.22" cy="189.84" r="7.1" fill="none" stroke="rgb(58,0,0)" stroke-width="1.3" filter="url(#g08)"/><circle cx="92.47" cy="181.4" r="5.61" fill="#000" opacity="0.78" filter="url(#g12)"/><circle cx="92.47" cy="181.4" r="5.91" fill="none" stroke="rgb(58,0,0)" stroke-width="1.3" filter="url(#g08)"/><circle cx="100.3" cy="183.7" r="16.2" fill="none" stroke="rgb(52,0,0)" stroke-width="1.5" filter="url(#g08)"/></g><ellipse cx="0" cy="26" rx="10" ry="26" fill="#2a0000" filter="url(#g3)"/><ellipse cx="2" cy="113" rx="11" ry="24" fill="#700000" filter="url(#g3)"/><path d="M 84 6 Q 103 18 120 6" fill="none" stroke="#c00000" stroke-width="2.5" filter="url(#g12)"/><ellipse cx="174" cy="204" rx="13" ry="8" fill="#500000" filter="url(#g3)"/><ellipse cx="1" cy="194" rx="2.5" ry="2.5" fill="#ff0000"/></g><g style="mix-blend-mode:screen"><g filter="url(#rough3)"><circle cx="25.1" cy="65.3" r="16" fill="rgb(22,234,22)" filter="url(#g12)"/><circle cx="29.53" cy="69.92" r="6.4" fill="#000" opacity="0.25" filter="url(#g12)"/><circle cx="17.69" cy="63.29" r="5.28" fill="#000" opacity="0.25" filter="url(#g12)"/><circle cx="25.1" cy="65.3" r="15" fill="none" stroke="rgb(30,255,30)" stroke-width="1.3" opacity="0.8" filter="url(#g08)"/><circle cx="102.8" cy="69" r="16.8" fill="rgb(14,152,14)" filter="url(#g12)"/><circle cx="94.9" cy="70.64" r="6.72" fill="#000" opacity="0.42" filter="url(#g12)"/><circle cx="107.51" cy="60.86" r="5.54" fill="#000" opacity="0.42" filter="url(#g12)"/><circle cx="102.8" cy="69" r="15.8" fill="none" stroke="rgb(19,193,19)" stroke-width="1.3" opacity="0.8" filter="url(#g08)"/><circle cx="168.9" cy="48.6" r="19.2" fill="rgb(14,152,14)" filter="url(#g12)"/><circle cx="172.63" cy="38.52" r="7.68" fill="#000" opacity="0.42" filter="url(#g12)"/><circle cx="170.33" cy="56.15" r="6.34" fill="#000" opacity="0.42" filter="url(#g12)"/><circle cx="168.9" cy="48.6" r="18.2" fill="none" stroke="rgb(19,193,19)" stroke-width="1.3" opacity="0.8" filter="url(#g08)"/><circle cx="162" cy="85.6" r="20.2" fill="rgb(9,100,9)" filter="url(#g12)"/><circle cx="166.94" cy="92" r="8.08" fill="#000" opacity="0.42" filter="url(#g12)"/><circle cx="152.33" cy="84.9" r="6.67" fill="#000" opacity="0.42" filter="url(#g12)"/><circle cx="162" cy="85.6" r="19.2" fill="none" stroke="rgb(12,124,12)" stroke-width="1.3" opacity="0.8" filter="url(#g08)"/><circle cx="86.8" cy="102.8" r="16" fill="rgb(16,173,16)" filter="url(#g12)"/><circle cx="79.16" cy="103.55" r="6.4" fill="#000" opacity="0.42" filter="url(#g12)"/><circle cx="93.99" cy="97.45" r="5.28" fill="#000" opacity="0.42" filter="url(#g12)"/><circle cx="86.8" cy="102.8" r="15" fill="none" stroke="rgb(22,220,22)" stroke-width="1.3" opacity="0.8" filter="url(#g08)"/><circle cx="120.6" cy="97.4" r="16.8" fill="rgb(12,131,12)" filter="url(#g12)"/><circle cx="124.79" cy="88.98" r="6.72" fill="#000" opacity="0.42" filter="url(#g12)"/><circle cx="123.09" cy="103.64" r="5.54" fill="#000" opacity="0.42" filter="url(#g12)"/><circle cx="120.6" cy="97.4" r="15.8" fill="none" stroke="rgb(16,165,16)" stroke-width="1.3" opacity="0.8" filter="url(#g08)"/><circle cx="80.6" cy="144.2" r="16" fill="rgb(8,89,8)" filter="url(#g12)"/><circle cx="83.95" cy="149.65" r="6.4" fill="#000" opacity="0.42" filter="url(#g12)"/><circle cx="73.78" cy="140.66" r="5.28" fill="#000" opacity="0.42" filter="url(#g12)"/><circle cx="80.6" cy="144.2" r="15" fill="none" stroke="rgb(11,110,11)" stroke-width="1.3" opacity="0.8" filter="url(#g08)"/><circle cx="142.3" cy="160.3" r="22" fill="rgb(2,31,2)" filter="url(#g12)"/><circle cx="131.74" cy="160.21" r="8.8" fill="#000" opacity="0.42" filter="url(#g12)"/><circle cx="150.59" cy="151.19" r="7.26" fill="#000" opacity="0.42" filter="url(#g12)"/><circle cx="142.3" cy="160.3" r="21" fill="none" stroke="rgb(3,33,3)" stroke-width="1.3" opacity="0.8" filter="url(#g08)"/><circle cx="53.5" cy="172.6" r="19.38" fill="#00ff00" opacity="0.55" filter="url(#g3)"/><circle cx="53.5" cy="172.6" r="16.95" fill="#00ff00" filter="url(#g12)"/><circle cx="50.91" cy="185.06" r="2.77" fill="#006000" opacity="0.7" filter="url(#g12)"/><circle cx="100.3" cy="183.7" r="17" fill="rgb(1,18,1)" filter="url(#g12)"/></g></g><g><ellipse cx="163.7" cy="48.8" rx="8.9" ry="8.9" fill="#000" opacity="0.62" filter="url(#g12)"/><ellipse cx="172.7" cy="91.9" rx="8.3" ry="10.2" fill="#000" opacity="0.62" filter="url(#g12)"/><ellipse cx="142" cy="164.7" rx="6.2" ry="5.5" fill="#000" opacity="0.62" filter="url(#g12)"/><ellipse cx="102.6" cy="184.8" rx="9.5" ry="9.8" fill="#000" opacity="0.62" filter="url(#g12)"/><ellipse cx="172.7" cy="201.5" rx="9.5" ry="5.5" fill="#000" opacity="0.62" filter="url(#g12)"/></g><g style="mix-blend-mode:screen"><ellipse cx="30.7" cy="65.5" rx="6.7" ry="5.7" fill="#0000ff" filter="url(#g08)"/><ellipse cx="163.7" cy="48.8" rx="9.4" ry="9.4" fill="#0000ff" filter="url(#g08)"/><ellipse cx="108.6" cy="67.8" rx="7.4" ry="7.4" fill="#0000c8" opacity="0.85" filter="url(#texfine)"/><ellipse cx="108.6" cy="67.8" rx="7.4" ry="7.4" fill="#000090" opacity="0.5" filter="url(#g12)"/><ellipse cx="172.7" cy="91.9" rx="8.8" ry="10.7" fill="#0000ff" filter="url(#g08)"/><ellipse cx="86.5" cy="103.9" rx="7.4" ry="7.4" fill="#0000c8" opacity="0.85" filter="url(#texfine)"/><ellipse cx="86.5" cy="103.9" rx="7.4" ry="7.4" fill="#000090" opacity="0.5" filter="url(#g12)"/><ellipse cx="84.2" cy="140.7" rx="8.4" ry="8.4" fill="#0000c8" opacity="0.85" filter="url(#texfine)"/><ellipse cx="84.2" cy="140.7" rx="8.4" ry="8.4" fill="#000090" opacity="0.5" filter="url(#g12)"/><ellipse cx="54.1" cy="167" rx="9.4" ry="9.6" fill="#0000ff" filter="url(#g08)"/><ellipse cx="142" cy="164.7" rx="6.7" ry="6" fill="#0000ff" filter="url(#g08)"/><ellipse cx="102.6" cy="184.8" rx="10" ry="10.3" fill="#0000ff" filter="url(#g08)"/><ellipse cx="172.7" cy="201.5" rx="10" ry="6" fill="#0000ff" filter="url(#g08)"/></g></g><line x1="3" y1="88" x2="18.28" y2="82.45" stroke="#fff" stroke-width="2.1" stroke-linecap="butt"/><polygon points="30,78.2 19.01,90.43 18.28,82.45 13.73,75.86" fill="#fff"/><line x1="60.9" y1="80.9" x2="77.14" y2="74.73" stroke="#fff" stroke-width="2.1" stroke-linecap="butt"/><polygon points="88.8,70.3 78,82.69 77.14,74.73 72.49,68.21" fill="#fff"/><line x1="133.6" y1="69.5" x2="148.97" y2="63.94" stroke="#fff" stroke-width="2.1" stroke-linecap="butt"/><polygon points="160.7,59.7 149.7,71.92 148.97,63.94 144.43,57.34" fill="#fff"/><line x1="46.6" y1="117.1" x2="62.2" y2="111.75" stroke="#fff" stroke-width="2.1" stroke-linecap="butt"/><polygon points="74,107.7 62.8,119.74 62.2,111.75 57.77,105.07" fill="#fff"/><line x1="97.9" y1="117.1" x2="113.27" y2="111.54" stroke="#fff" stroke-width="2.1" stroke-linecap="butt"/><polygon points="125,107.3 114,119.52 113.27,111.54 108.73,104.94" fill="#fff"/></svg><svg x="1617" y="1059.2" width="205.4" height="205" viewBox="0 0 205 205" preserveAspectRatio="none"><g style="isolation:isolate"><rect width="205" height="205" fill="#000"/><g style="mix-blend-mode:screen"><ellipse cx="34.6" cy="53.7" rx="20.58" ry="17.43" fill="#0000ff" opacity="0.16" filter="url(#g5)"/><ellipse cx="34.6" cy="53.7" rx="9.8" ry="8.3" fill="#0000ff" filter="url(#g08)"/><ellipse cx="108.1" cy="31.5" rx="18.9" ry="17.43" fill="#0000ff" opacity="0.16" filter="url(#g5)"/><ellipse cx="108.1" cy="31.5" rx="9" ry="8.3" fill="#0000ff" filter="url(#g08)"/><ellipse cx="171.4" cy="58.1" rx="20.58" ry="18.9" fill="#0000ff" opacity="0.16" filter="url(#g5)"/><ellipse cx="171.4" cy="58.1" rx="9.8" ry="9" fill="#0000ff" filter="url(#g08)"/><ellipse cx="79.7" cy="72.3" rx="20.58" ry="19.53" fill="#0000ff" opacity="0.16" filter="url(#g5)"/><ellipse cx="79.7" cy="72.3" rx="9.8" ry="9.3" fill="#0000ff" filter="url(#g08)"/><ellipse cx="158.5" cy="75.4" rx="9.66" ry="9.66" fill="#0000ff" opacity="0.16" filter="url(#g5)"/><ellipse cx="158.5" cy="75.4" rx="4.6" ry="4.6" fill="#0000c8" opacity="0.85" filter="url(#texfine)"/><ellipse cx="158.5" cy="75.4" rx="4.6" ry="4.6" fill="#000090" opacity="0.5" filter="url(#g12)"/><ellipse cx="199.2" cy="84.6" rx="9.66" ry="9.66" fill="#0000ff" opacity="0.16" filter="url(#g5)"/><ellipse cx="199.2" cy="84.6" rx="4.6" ry="4.6" fill="#0000c8" opacity="0.85" filter="url(#texfine)"/><ellipse cx="199.2" cy="84.6" rx="4.6" ry="4.6" fill="#000090" opacity="0.5" filter="url(#g12)"/><ellipse cx="90.8" cy="102.7" rx="22.68" ry="21.63" fill="#0000ff" opacity="0.16" filter="url(#g5)"/><ellipse cx="90.8" cy="102.7" rx="10.8" ry="10.3" fill="#0000ff" filter="url(#g08)"/><ellipse cx="164.4" cy="137.5" rx="18.9" ry="17.85" fill="#0000ff" opacity="0.16" filter="url(#g5)"/><ellipse cx="164.4" cy="137.5" rx="9" ry="8.5" fill="#0000ff" filter="url(#g08)"/><ellipse cx="40.5" cy="176.3" rx="21.63" ry="22.68" fill="#0000ff" opacity="0.16" filter="url(#g5)"/><ellipse cx="40.5" cy="176.3" rx="10.3" ry="10.8" fill="#0000ff" filter="url(#g08)"/></g></g></svg><svg x="1617" y="1270.8" width="205.4" height="205" viewBox="0 0 205 205" preserveAspectRatio="none"><g style="isolation:isolate"><rect width="205" height="205" fill="#000"/><g style="mix-blend-mode:screen"><g filter="url(#rough3)"><circle cx="-6" cy="21" r="15" fill="rgb(10,115,10)" filter="url(#g12)"/><circle cx="-2.33" cy="25.75" r="6" fill="#000" opacity="0.42" filter="url(#g12)"/><circle cx="-13.18" cy="20.48" r="4.95" fill="#000" opacity="0.42" filter="url(#g12)"/><circle cx="-6" cy="21" r="14" fill="none" stroke="rgb(14,144,14)" stroke-width="1.3" opacity="0.8" filter="url(#g08)"/><circle cx="108.5" cy="23.4" r="18.5" fill="rgb(1,16,1)" filter="url(#g12)"/><circle cx="172" cy="46.8" r="19.2" fill="rgb(14,151,14)" filter="url(#g12)"/><circle cx="176.79" cy="37.17" r="7.68" fill="#000" opacity="0.42" filter="url(#g12)"/><circle cx="174.85" cy="53.93" r="6.34" fill="#000" opacity="0.42" filter="url(#g12)"/><circle cx="172" cy="46.8" r="18.2" fill="none" stroke="rgb(19,192,19)" stroke-width="1.3" opacity="0.8" filter="url(#g08)"/><circle cx="35" cy="58" r="17.8" fill="rgb(6,69,6)" filter="url(#g12)"/><circle cx="38.72" cy="64.07" r="7.12" fill="#000" opacity="0.42" filter="url(#g12)"/><circle cx="27.42" cy="54.06" r="5.87" fill="#000" opacity="0.42" filter="url(#g12)"/><circle cx="35" cy="58" r="16.8" fill="none" stroke="rgb(8,83,8)" stroke-width="1.3" opacity="0.8" filter="url(#g08)"/><circle cx="76.4" cy="65.8" r="16.8" fill="rgb(3,42,3)" filter="url(#g12)"/><circle cx="68.34" cy="65.73" r="6.72" fill="#000" opacity="0.42" filter="url(#g12)"/><circle cx="82.73" cy="58.84" r="5.54" fill="#000" opacity="0.42" filter="url(#g12)"/><circle cx="76.4" cy="65.8" r="15.8" fill="none" stroke="rgb(4,48,4)" stroke-width="1.3" opacity="0.8" filter="url(#g08)"/><circle cx="143" cy="67.8" r="14.8" fill="#00ff00" opacity="0.78" filter="url(#texfine)"/><circle cx="143" cy="67.8" r="13.32" fill="#003000" opacity="0.6" filter="url(#g2)"/><circle cx="49.3" cy="92.5" r="16.8" fill="rgb(1,16,1)" filter="url(#g12)"/><circle cx="96.9" cy="111.7" r="17.8" fill="#00ff00" opacity="0.78" filter="url(#texfine)"/><circle cx="96.9" cy="111.7" r="16.02" fill="#003000" opacity="0.6" filter="url(#g2)"/><circle cx="54.2" cy="134.4" r="8.6" fill="#00ff00" opacity="0.39" filter="url(#texfine)"/><circle cx="54.2" cy="134.4" r="7.74" fill="#003000" opacity="0.6" filter="url(#g2)"/><circle cx="167.7" cy="138.8" r="16" fill="rgb(1,20,1)" filter="url(#g12)"/><circle cx="43.1" cy="169.6" r="19.2" fill="rgb(7,88,7)" filter="url(#g12)"/><circle cx="34.11" cy="167.57" r="7.68" fill="#000" opacity="0.42" filter="url(#g12)"/><circle cx="51.86" cy="163.36" r="6.34" fill="#000" opacity="0.42" filter="url(#g12)"/><circle cx="43.1" cy="169.6" r="18.2" fill="none" stroke="rgb(10,108,10)" stroke-width="1.3" opacity="0.8" filter="url(#g08)"/></g></g></g></svg><svg x="1617" y="1482.8" width="205.4" height="205" viewBox="0 0 205 205" preserveAspectRatio="none"><g style="isolation:isolate"><rect width="205" height="205" fill="#000"/><g style="mix-blend-mode:screen"><g filter="url(#rough3)"><circle cx="-6" cy="21" r="15" fill="rgb(65,0,0)" filter="url(#g12)"/><circle cx="-6" cy="21" r="14.5" fill="#ff0000" opacity="0.33" filter="url(#tex)"/><circle cx="-2.33" cy="25.75" r="6" fill="#000" opacity="0.78" filter="url(#g12)"/><circle cx="-2.33" cy="25.75" r="6.3" fill="none" stroke="rgb(116,0,0)" stroke-width="1.3" filter="url(#g08)"/><circle cx="-13.18" cy="20.48" r="4.95" fill="#000" opacity="0.78" filter="url(#g12)"/><circle cx="-13.18" cy="20.48" r="5.25" fill="none" stroke="rgb(116,0,0)" stroke-width="1.3" filter="url(#g08)"/><circle cx="-6" cy="21" r="14.2" fill="none" stroke="rgb(105,0,0)" stroke-width="1.5" filter="url(#g08)"/><circle cx="108.5" cy="23.4" r="18.5" fill="rgb(153,0,0)" filter="url(#g12)"/><circle cx="108.5" cy="23.4" r="18" fill="#ff0000" opacity="0.85" filter="url(#tex)"/><circle cx="99.66" cy="24.27" r="7.4" fill="#000" opacity="0.78" filter="url(#g12)"/><circle cx="99.66" cy="24.27" r="7.7" fill="none" stroke="rgb(255,0,0)" stroke-width="1.3" filter="url(#g08)"/><circle cx="116.81" cy="17.22" r="6.11" fill="#000" opacity="0.78" filter="url(#g12)"/><circle cx="116.81" cy="17.22" r="6.41" fill="none" stroke="rgb(255,0,0)" stroke-width="1.3" filter="url(#g08)"/><circle cx="108.5" cy="23.4" r="17.7" fill="none" stroke="rgb(255,0,0)" stroke-width="1.5" filter="url(#g08)"/><circle cx="172" cy="46.8" r="19.2" fill="rgb(153,0,0)" filter="url(#g12)"/><circle cx="172" cy="46.8" r="18.7" fill="#ff0000" opacity="0.85" filter="url(#tex)"/><circle cx="176.79" cy="37.17" r="7.68" fill="#000" opacity="0.78" filter="url(#g12)"/><circle cx="176.79" cy="37.17" r="7.98" fill="none" stroke="rgb(255,0,0)" stroke-width="1.3" filter="url(#g08)"/><circle cx="174.85" cy="53.93" r="6.34" fill="#000" opacity="0.78" filter="url(#g12)"/><circle cx="174.85" cy="53.93" r="6.64" fill="none" stroke="rgb(255,0,0)" stroke-width="1.3" filter="url(#g08)"/><circle cx="172" cy="46.8" r="18.4" fill="none" stroke="rgb(255,0,0)" stroke-width="1.5" filter="url(#g08)"/><circle cx="35" cy="58" r="17.8" fill="rgb(122,0,0)" filter="url(#g12)"/><circle cx="35" cy="58" r="17.3" fill="#ff0000" opacity="0.67" filter="url(#tex)"/><circle cx="38.72" cy="64.07" r="7.12" fill="#000" opacity="0.78" filter="url(#g12)"/><circle cx="38.72" cy="64.07" r="7.42" fill="none" stroke="rgb(232,0,0)" stroke-width="1.3" filter="url(#g08)"/><circle cx="27.42" cy="54.06" r="5.87" fill="#000" opacity="0.78" filter="url(#g12)"/><circle cx="27.42" cy="54.06" r="6.17" fill="none" stroke="rgb(232,0,0)" stroke-width="1.3" filter="url(#g08)"/><circle cx="35" cy="58" r="17" fill="none" stroke="rgb(211,0,0)" stroke-width="1.5" filter="url(#g08)"/><circle cx="76.4" cy="65.8" r="16.8" fill="rgb(129,0,0)" filter="url(#g12)"/><circle cx="76.4" cy="65.8" r="16.3" fill="#ff0000" opacity="0.71" filter="url(#tex)"/><circle cx="68.34" cy="65.73" r="6.72" fill="#000" opacity="0.78" filter="url(#g12)"/><circle cx="68.34" cy="65.73" r="7.02" fill="none" stroke="rgb(246,0,0)" stroke-width="1.3" filter="url(#g08)"/><circle cx="82.73" cy="58.84" r="5.54" fill="#000" opacity="0.78" filter="url(#g12)"/><circle cx="82.73" cy="58.84" r="5.84" fill="none" stroke="rgb(246,0,0)" stroke-width="1.3" filter="url(#g08)"/><circle cx="76.4" cy="65.8" r="16" fill="none" stroke="rgb(224,0,0)" stroke-width="1.5" filter="url(#g08)"/><circle cx="143" cy="67.8" r="14.8" fill="rgb(79,0,0)" filter="url(#g12)"/><circle cx="143" cy="67.8" r="14.3" fill="#ff0000" opacity="0.42" filter="url(#tex)"/><circle cx="147.46" cy="60.81" r="5.92" fill="#000" opacity="0.78" filter="url(#g12)"/><circle cx="147.46" cy="60.81" r="6.22" fill="none" stroke="rgb(145,0,0)" stroke-width="1.3" filter="url(#g08)"/><circle cx="142.84" cy="73.72" r="4.88" fill="#000" opacity="0.78" filter="url(#g12)"/><circle cx="142.84" cy="73.72" r="5.18" fill="none" stroke="rgb(145,0,0)" stroke-width="1.3" filter="url(#g08)"/><circle cx="143" cy="67.8" r="14" fill="none" stroke="rgb(132,0,0)" stroke-width="1.5" filter="url(#g08)"/><circle cx="49.3" cy="92.5" r="16.8" fill="rgb(129,0,0)" filter="url(#g12)"/><circle cx="49.3" cy="92.5" r="16.3" fill="#ff0000" opacity="0.71" filter="url(#tex)"/><circle cx="52.18" cy="98.57" r="6.72" fill="#000" opacity="0.78" filter="url(#g12)"/><circle cx="52.18" cy="98.57" r="7.02" fill="none" stroke="rgb(246,0,0)" stroke-width="1.3" filter="url(#g08)"/><circle cx="41.56" cy="90.23" r="5.54" fill="#000" opacity="0.78" filter="url(#g12)"/><circle cx="41.56" cy="90.23" r="5.84" fill="none" stroke="rgb(246,0,0)" stroke-width="1.3" filter="url(#g08)"/><circle cx="49.3" cy="92.5" r="16" fill="none" stroke="rgb(224,0,0)" stroke-width="1.5" filter="url(#g08)"/><circle cx="96.9" cy="111.7" r="17.8" fill="rgb(50,0,0)" filter="url(#g12)"/><circle cx="96.9" cy="111.7" r="17.3" fill="#ff0000" opacity="0.25" filter="url(#tex)"/><circle cx="88.41" cy="110.71" r="7.12" fill="#000" opacity="0.78" filter="url(#g12)"/><circle cx="88.41" cy="110.71" r="7.42" fill="none" stroke="rgb(87,0,0)" stroke-width="1.3" filter="url(#g08)"/><circle cx="105.98" cy="107.58" r="5.87" fill="#000" opacity="0.78" filter="url(#g12)"/><circle cx="105.98" cy="107.58" r="6.17" fill="none" stroke="rgb(87,0,0)" stroke-width="1.3" filter="url(#g08)"/><circle cx="96.9" cy="111.7" r="17" fill="none" stroke="rgb(79,0,0)" stroke-width="1.5" filter="url(#g08)"/><circle cx="54.2" cy="134.4" r="8.6" fill="#300000" opacity="0.5" filter="url(#texfine)"/><circle cx="167.7" cy="138.8" r="16" fill="rgb(122,0,0)" filter="url(#g12)"/><circle cx="167.7" cy="138.8" r="15.5" fill="#ff0000" opacity="0.67" filter="url(#tex)"/><circle cx="169.81" cy="144.84" r="6.4" fill="#000" opacity="0.78" filter="url(#g12)"/><circle cx="169.81" cy="144.84" r="6.7" fill="none" stroke="rgb(232,0,0)" stroke-width="1.3" filter="url(#g08)"/><circle cx="161.79" cy="133.9" r="5.28" fill="#000" opacity="0.78" filter="url(#g12)"/><circle cx="161.79" cy="133.9" r="5.58" fill="none" stroke="rgb(232,0,0)" stroke-width="1.3" filter="url(#g08)"/><circle cx="167.7" cy="138.8" r="15.2" fill="none" stroke="rgb(211,0,0)" stroke-width="1.5" filter="url(#g08)"/><circle cx="43.1" cy="169.6" r="19.2" fill="rgb(93,0,0)" filter="url(#g12)"/><circle cx="43.1" cy="169.6" r="18.7" fill="#ff0000" opacity="0.5" filter="url(#tex)"/><circle cx="34.11" cy="167.57" r="7.68" fill="#000" opacity="0.78" filter="url(#g12)"/><circle cx="34.11" cy="167.57" r="7.98" fill="none" stroke="rgb(174,0,0)" stroke-width="1.3" filter="url(#g08)"/><circle cx="51.86" cy="163.36" r="6.34" fill="#000" opacity="0.78" filter="url(#g12)"/><circle cx="51.86" cy="163.36" r="6.64" fill="none" stroke="rgb(174,0,0)" stroke-width="1.3" filter="url(#g08)"/><circle cx="43.1" cy="169.6" r="18.4" fill="none" stroke="rgb(158,0,0)" stroke-width="1.5" filter="url(#g08)"/></g><ellipse cx="86" cy="0" rx="9" ry="2" fill="#e00000"/></g></g></svg><svg x="1617" y="1694.5" width="205.4" height="205" viewBox="0 0 205 205" preserveAspectRatio="none"><g style="isolation:isolate"><rect width="205" height="205" fill="#000"/><g style="mix-blend-mode:screen"><g filter="url(#rough3)"><circle cx="-6" cy="21" r="15" fill="rgb(65,0,0)" filter="url(#g12)"/><circle cx="-6" cy="21" r="14.5" fill="#ff0000" opacity="0.33" filter="url(#tex)"/><circle cx="-2.33" cy="25.75" r="6" fill="#000" opacity="0.78" filter="url(#g12)"/><circle cx="-2.33" cy="25.75" r="6.3" fill="none" stroke="rgb(116,0,0)" stroke-width="1.3" filter="url(#g08)"/><circle cx="-13.18" cy="20.48" r="4.95" fill="#000" opacity="0.78" filter="url(#g12)"/><circle cx="-13.18" cy="20.48" r="5.25" fill="none" stroke="rgb(116,0,0)" stroke-width="1.3" filter="url(#g08)"/><circle cx="-6" cy="21" r="14.2" fill="none" stroke="rgb(105,0,0)" stroke-width="1.5" filter="url(#g08)"/><circle cx="108.5" cy="23.4" r="18.5" fill="rgb(153,0,0)" filter="url(#g12)"/><circle cx="108.5" cy="23.4" r="18" fill="#ff0000" opacity="0.85" filter="url(#tex)"/><circle cx="99.66" cy="24.27" r="7.4" fill="#000" opacity="0.78" filter="url(#g12)"/><circle cx="99.66" cy="24.27" r="7.7" fill="none" stroke="rgb(255,0,0)" stroke-width="1.3" filter="url(#g08)"/><circle cx="116.81" cy="17.22" r="6.11" fill="#000" opacity="0.78" filter="url(#g12)"/><circle cx="116.81" cy="17.22" r="6.41" fill="none" stroke="rgb(255,0,0)" stroke-width="1.3" filter="url(#g08)"/><circle cx="108.5" cy="23.4" r="17.7" fill="none" stroke="rgb(255,0,0)" stroke-width="1.5" filter="url(#g08)"/><circle cx="172" cy="46.8" r="19.2" fill="rgb(153,0,0)" filter="url(#g12)"/><circle cx="172" cy="46.8" r="18.7" fill="#ff0000" opacity="0.85" filter="url(#tex)"/><circle cx="176.79" cy="37.17" r="7.68" fill="#000" opacity="0.78" filter="url(#g12)"/><circle cx="176.79" cy="37.17" r="7.98" fill="none" stroke="rgb(255,0,0)" stroke-width="1.3" filter="url(#g08)"/><circle cx="174.85" cy="53.93" r="6.34" fill="#000" opacity="0.78" filter="url(#g12)"/><circle cx="174.85" cy="53.93" r="6.64" fill="none" stroke="rgb(255,0,0)" stroke-width="1.3" filter="url(#g08)"/><circle cx="172" cy="46.8" r="18.4" fill="none" stroke="rgb(255,0,0)" stroke-width="1.5" filter="url(#g08)"/><circle cx="35" cy="58" r="17.8" fill="rgb(122,0,0)" filter="url(#g12)"/><circle cx="35" cy="58" r="17.3" fill="#ff0000" opacity="0.67" filter="url(#tex)"/><circle cx="38.72" cy="64.07" r="7.12" fill="#000" opacity="0.78" filter="url(#g12)"/><circle cx="38.72" cy="64.07" r="7.42" fill="none" stroke="rgb(232,0,0)" stroke-width="1.3" filter="url(#g08)"/><circle cx="27.42" cy="54.06" r="5.87" fill="#000" opacity="0.78" filter="url(#g12)"/><circle cx="27.42" cy="54.06" r="6.17" fill="none" stroke="rgb(232,0,0)" stroke-width="1.3" filter="url(#g08)"/><circle cx="35" cy="58" r="17" fill="none" stroke="rgb(211,0,0)" stroke-width="1.5" filter="url(#g08)"/><circle cx="76.4" cy="65.8" r="16.8" fill="rgb(129,0,0)" filter="url(#g12)"/><circle cx="76.4" cy="65.8" r="16.3" fill="#ff0000" opacity="0.71" filter="url(#tex)"/><circle cx="68.34" cy="65.73" r="6.72" fill="#000" opacity="0.78" filter="url(#g12)"/><circle cx="68.34" cy="65.73" r="7.02" fill="none" stroke="rgb(246,0,0)" stroke-width="1.3" filter="url(#g08)"/><circle cx="82.73" cy="58.84" r="5.54" fill="#000" opacity="0.78" filter="url(#g12)"/><circle cx="82.73" cy="58.84" r="5.84" fill="none" stroke="rgb(246,0,0)" stroke-width="1.3" filter="url(#g08)"/><circle cx="76.4" cy="65.8" r="16" fill="none" stroke="rgb(224,0,0)" stroke-width="1.5" filter="url(#g08)"/><circle cx="143" cy="67.8" r="14.8" fill="rgb(79,0,0)" filter="url(#g12)"/><circle cx="143" cy="67.8" r="14.3" fill="#ff0000" opacity="0.42" filter="url(#tex)"/><circle cx="147.46" cy="60.81" r="5.92" fill="#000" opacity="0.78" filter="url(#g12)"/><circle cx="147.46" cy="60.81" r="6.22" fill="none" stroke="rgb(145,0,0)" stroke-width="1.3" filter="url(#g08)"/><circle cx="142.84" cy="73.72" r="4.88" fill="#000" opacity="0.78" filter="url(#g12)"/><circle cx="142.84" cy="73.72" r="5.18" fill="none" stroke="rgb(145,0,0)" stroke-width="1.3" filter="url(#g08)"/><circle cx="143" cy="67.8" r="14" fill="none" stroke="rgb(132,0,0)" stroke-width="1.5" filter="url(#g08)"/><circle cx="49.3" cy="92.5" r="16.8" fill="rgb(129,0,0)" filter="url(#g12)"/><circle cx="49.3" cy="92.5" r="16.3" fill="#ff0000" opacity="0.71" filter="url(#tex)"/><circle cx="52.18" cy="98.57" r="6.72" fill="#000" opacity="0.78" filter="url(#g12)"/><circle cx="52.18" cy="98.57" r="7.02" fill="none" stroke="rgb(246,0,0)" stroke-width="1.3" filter="url(#g08)"/><circle cx="41.56" cy="90.23" r="5.54" fill="#000" opacity="0.78" filter="url(#g12)"/><circle cx="41.56" cy="90.23" r="5.84" fill="none" stroke="rgb(246,0,0)" stroke-width="1.3" filter="url(#g08)"/><circle cx="49.3" cy="92.5" r="16" fill="none" stroke="rgb(224,0,0)" stroke-width="1.5" filter="url(#g08)"/><circle cx="96.9" cy="111.7" r="17.8" fill="rgb(50,0,0)" filter="url(#g12)"/><circle cx="96.9" cy="111.7" r="17.3" fill="#ff0000" opacity="0.25" filter="url(#tex)"/><circle cx="88.41" cy="110.71" r="7.12" fill="#000" opacity="0.78" filter="url(#g12)"/><circle cx="88.41" cy="110.71" r="7.42" fill="none" stroke="rgb(87,0,0)" stroke-width="1.3" filter="url(#g08)"/><circle cx="105.98" cy="107.58" r="5.87" fill="#000" opacity="0.78" filter="url(#g12)"/><circle cx="105.98" cy="107.58" r="6.17" fill="none" stroke="rgb(87,0,0)" stroke-width="1.3" filter="url(#g08)"/><circle cx="96.9" cy="111.7" r="17" fill="none" stroke="rgb(79,0,0)" stroke-width="1.5" filter="url(#g08)"/><circle cx="54.2" cy="134.4" r="8.6" fill="#300000" opacity="0.5" filter="url(#texfine)"/><circle cx="167.7" cy="138.8" r="16" fill="rgb(122,0,0)" filter="url(#g12)"/><circle cx="167.7" cy="138.8" r="15.5" fill="#ff0000" opacity="0.67" filter="url(#tex)"/><circle cx="169.81" cy="144.84" r="6.4" fill="#000" opacity="0.78" filter="url(#g12)"/><circle cx="169.81" cy="144.84" r="6.7" fill="none" stroke="rgb(232,0,0)" stroke-width="1.3" filter="url(#g08)"/><circle cx="161.79" cy="133.9" r="5.28" fill="#000" opacity="0.78" filter="url(#g12)"/><circle cx="161.79" cy="133.9" r="5.58" fill="none" stroke="rgb(232,0,0)" stroke-width="1.3" filter="url(#g08)"/><circle cx="167.7" cy="138.8" r="15.2" fill="none" stroke="rgb(211,0,0)" stroke-width="1.5" filter="url(#g08)"/><circle cx="43.1" cy="169.6" r="19.2" fill="rgb(93,0,0)" filter="url(#g12)"/><circle cx="43.1" cy="169.6" r="18.7" fill="#ff0000" opacity="0.5" filter="url(#tex)"/><circle cx="34.11" cy="167.57" r="7.68" fill="#000" opacity="0.78" filter="url(#g12)"/><circle cx="34.11" cy="167.57" r="7.98" fill="none" stroke="rgb(174,0,0)" stroke-width="1.3" filter="url(#g08)"/><circle cx="51.86" cy="163.36" r="6.34" fill="#000" opacity="0.78" filter="url(#g12)"/><circle cx="51.86" cy="163.36" r="6.64" fill="none" stroke="rgb(174,0,0)" stroke-width="1.3" filter="url(#g08)"/><circle cx="43.1" cy="169.6" r="18.4" fill="none" stroke="rgb(158,0,0)" stroke-width="1.5" filter="url(#g08)"/></g><ellipse cx="86" cy="0" rx="9" ry="2" fill="#e00000"/></g><g style="mix-blend-mode:screen"><g filter="url(#rough3)"><circle cx="-6" cy="21" r="15" fill="rgb(10,115,10)" filter="url(#g12)"/><circle cx="-2.33" cy="25.75" r="6" fill="#000" opacity="0.42" filter="url(#g12)"/><circle cx="-13.18" cy="20.48" r="4.95" fill="#000" opacity="0.42" filter="url(#g12)"/><circle cx="-6" cy="21" r="14" fill="none" stroke="rgb(14,144,14)" stroke-width="1.3" opacity="0.8" filter="url(#g08)"/><circle cx="108.5" cy="23.4" r="18.5" fill="rgb(1,16,1)" filter="url(#g12)"/><circle cx="172" cy="46.8" r="19.2" fill="rgb(14,151,14)" filter="url(#g12)"/><circle cx="176.79" cy="37.17" r="7.68" fill="#000" opacity="0.42" filter="url(#g12)"/><circle cx="174.85" cy="53.93" r="6.34" fill="#000" opacity="0.42" filter="url(#g12)"/><circle cx="172" cy="46.8" r="18.2" fill="none" stroke="rgb(19,192,19)" stroke-width="1.3" opacity="0.8" filter="url(#g08)"/><circle cx="35" cy="58" r="17.8" fill="rgb(6,69,6)" filter="url(#g12)"/><circle cx="38.72" cy="64.07" r="7.12" fill="#000" opacity="0.42" filter="url(#g12)"/><circle cx="27.42" cy="54.06" r="5.87" fill="#000" opacity="0.42" filter="url(#g12)"/><circle cx="35" cy="58" r="16.8" fill="none" stroke="rgb(8,83,8)" stroke-width="1.3" opacity="0.8" filter="url(#g08)"/><circle cx="76.4" cy="65.8" r="16.8" fill="rgb(3,42,3)" filter="url(#g12)"/><circle cx="68.34" cy="65.73" r="6.72" fill="#000" opacity="0.42" filter="url(#g12)"/><circle cx="82.73" cy="58.84" r="5.54" fill="#000" opacity="0.42" filter="url(#g12)"/><circle cx="76.4" cy="65.8" r="15.8" fill="none" stroke="rgb(4,48,4)" stroke-width="1.3" opacity="0.8" filter="url(#g08)"/><circle cx="143" cy="67.8" r="14.8" fill="#00ff00" opacity="0.78" filter="url(#texfine)"/><circle cx="143" cy="67.8" r="13.32" fill="#003000" opacity="0.6" filter="url(#g2)"/><circle cx="49.3" cy="92.5" r="16.8" fill="rgb(1,16,1)" filter="url(#g12)"/><circle cx="96.9" cy="111.7" r="17.8" fill="#00ff00" opacity="0.78" filter="url(#texfine)"/><circle cx="96.9" cy="111.7" r="16.02" fill="#003000" opacity="0.6" filter="url(#g2)"/><circle cx="54.2" cy="134.4" r="8.6" fill="#00ff00" opacity="0.39" filter="url(#texfine)"/><circle cx="54.2" cy="134.4" r="7.74" fill="#003000" opacity="0.6" filter="url(#g2)"/><circle cx="167.7" cy="138.8" r="16" fill="rgb(1,20,1)" filter="url(#g12)"/><circle cx="43.1" cy="169.6" r="19.2" fill="rgb(7,88,7)" filter="url(#g12)"/><circle cx="34.11" cy="167.57" r="7.68" fill="#000" opacity="0.42" filter="url(#g12)"/><circle cx="51.86" cy="163.36" r="6.34" fill="#000" opacity="0.42" filter="url(#g12)"/><circle cx="43.1" cy="169.6" r="18.2" fill="none" stroke="rgb(10,108,10)" stroke-width="1.3" opacity="0.8" filter="url(#g08)"/></g></g><g><ellipse cx="34.6" cy="53.7" rx="9.3" ry="7.8" fill="#000" opacity="0.62" filter="url(#g12)"/><ellipse cx="108.1" cy="31.5" rx="8.5" ry="7.8" fill="#000" opacity="0.62" filter="url(#g12)"/><ellipse cx="171.4" cy="58.1" rx="9.3" ry="8.5" fill="#000" opacity="0.62" filter="url(#g12)"/><ellipse cx="79.7" cy="72.3" rx="9.3" ry="8.8" fill="#000" opacity="0.62" filter="url(#g12)"/><ellipse cx="90.8" cy="102.7" rx="10.3" ry="9.8" fill="#000" opacity="0.62" filter="url(#g12)"/><ellipse cx="164.4" cy="137.5" rx="8.5" ry="8" fill="#000" opacity="0.62" filter="url(#g12)"/><ellipse cx="40.5" cy="176.3" rx="9.8" ry="10.3" fill="#000" opacity="0.62" filter="url(#g12)"/></g><g style="mix-blend-mode:screen"><ellipse cx="34.6" cy="53.7" rx="20.58" ry="17.43" fill="#0000ff" opacity="0.16" filter="url(#g5)"/><ellipse cx="34.6" cy="53.7" rx="9.8" ry="8.3" fill="#0000ff" filter="url(#g08)"/><ellipse cx="108.1" cy="31.5" rx="18.9" ry="17.43" fill="#0000ff" opacity="0.16" filter="url(#g5)"/><ellipse cx="108.1" cy="31.5" rx="9" ry="8.3" fill="#0000ff" filter="url(#g08)"/><ellipse cx="171.4" cy="58.1" rx="20.58" ry="18.9" fill="#0000ff" opacity="0.16" filter="url(#g5)"/><ellipse cx="171.4" cy="58.1" rx="9.8" ry="9" fill="#0000ff" filter="url(#g08)"/><ellipse cx="79.7" cy="72.3" rx="20.58" ry="19.53" fill="#0000ff" opacity="0.16" filter="url(#g5)"/><ellipse cx="79.7" cy="72.3" rx="9.8" ry="9.3" fill="#0000ff" filter="url(#g08)"/><ellipse cx="158.5" cy="75.4" rx="9.66" ry="9.66" fill="#0000ff" opacity="0.16" filter="url(#g5)"/><ellipse cx="158.5" cy="75.4" rx="4.6" ry="4.6" fill="#0000c8" opacity="0.85" filter="url(#texfine)"/><ellipse cx="158.5" cy="75.4" rx="4.6" ry="4.6" fill="#000090" opacity="0.5" filter="url(#g12)"/><ellipse cx="199.2" cy="84.6" rx="9.66" ry="9.66" fill="#0000ff" opacity="0.16" filter="url(#g5)"/><ellipse cx="199.2" cy="84.6" rx="4.6" ry="4.6" fill="#0000c8" opacity="0.85" filter="url(#texfine)"/><ellipse cx="199.2" cy="84.6" rx="4.6" ry="4.6" fill="#000090" opacity="0.5" filter="url(#g12)"/><ellipse cx="90.8" cy="102.7" rx="22.68" ry="21.63" fill="#0000ff" opacity="0.16" filter="url(#g5)"/><ellipse cx="90.8" cy="102.7" rx="10.8" ry="10.3" fill="#0000ff" filter="url(#g08)"/><ellipse cx="164.4" cy="137.5" rx="18.9" ry="17.85" fill="#0000ff" opacity="0.16" filter="url(#g5)"/><ellipse cx="164.4" cy="137.5" rx="9" ry="8.5" fill="#0000ff" filter="url(#g08)"/><ellipse cx="40.5" cy="176.3" rx="21.63" ry="22.68" fill="#0000ff" opacity="0.16" filter="url(#g5)"/><ellipse cx="40.5" cy="176.3" rx="10.3" ry="10.8" fill="#0000ff" filter="url(#g08)"/></g></g><line x1="130.7" y1="69.8" x2="146.56" y2="64.11" stroke="#fff" stroke-width="2.1" stroke-linecap="butt"/><polygon points="158.3,59.9 147.27,72.09 146.56,64.11 142.03,57.5" fill="#fff"/></svg><svg x="1830.5" y="1059.2" width="205.4" height="205" viewBox="0 0 205 205" preserveAspectRatio="none"><g style="isolation:isolate"><rect width="205" height="205" fill="#000"/><g style="mix-blend-mode:screen"><ellipse cx="122.6" cy="43.9" rx="9.3" ry="9.8" fill="#0000ff" filter="url(#g08)"/><ellipse cx="168.8" cy="45.9" rx="11.6" ry="8.3" fill="#0000ff" filter="url(#g08)"/><ellipse cx="198" cy="39.2" rx="10.3" ry="10.8" fill="#0000ff" filter="url(#g08)"/><ellipse cx="43.9" cy="64" rx="10.3" ry="10.3" fill="#0000ff" filter="url(#g08)"/><ellipse cx="69.7" cy="65.3" rx="6.2" ry="7.2" fill="#0000ff" filter="url(#g08)"/><ellipse cx="95.2" cy="92.4" rx="10.3" ry="10.3" fill="#0000ff" filter="url(#g08)"/><ellipse cx="48.8" cy="115.4" rx="10.8" ry="10.3" fill="#0000ff" filter="url(#g08)"/><ellipse cx="81.8" cy="139.4" rx="10.3" ry="10.3" fill="#0000c8" opacity="0.85" filter="url(#texfine)"/><ellipse cx="81.8" cy="139.4" rx="10.3" ry="10.3" fill="#000090" opacity="0.5" filter="url(#g12)"/><ellipse cx="130" cy="139.4" rx="8.5" ry="9" fill="#0000ff" filter="url(#g08)"/><ellipse cx="165.7" cy="129" rx="10.8" ry="12.9" fill="#0000ff" filter="url(#g08)"/><ellipse cx="112.3" cy="167.7" rx="7.2" ry="7.2" fill="#0000c8" opacity="0.85" filter="url(#texfine)"/><ellipse cx="112.3" cy="167.7" rx="7.2" ry="7.2" fill="#000090" opacity="0.5" filter="url(#g12)"/><ellipse cx="154" cy="166.5" rx="7.7" ry="5.2" fill="#0000ff" filter="url(#g08)"/></g></g><rect x="146.7" y="170.8" width="55.8" height="25.9" fill="#fff" stroke="none" stroke-width="0"/><text x="174.3" y="189.3" font-family="'Liberation Serif', serif" font-size="22.3" font-weight="normal" fill="#000" text-anchor="middle">20μm</text><rect x="146.7" y="199.45" width="55.8" height="1.6" fill="#fff" stroke="none" stroke-width="0"/></svg><svg x="1830.5" y="1270.8" width="205.4" height="205" viewBox="0 0 205 205" preserveAspectRatio="none"><g style="isolation:isolate"><rect width="205" height="205" fill="#000"/><g style="mix-blend-mode:screen"><g filter="url(#rough3)"><circle cx="39" cy="71.5" r="18.5" fill="rgb(13,142,13)" filter="url(#g12)"/><circle cx="42.87" cy="77.81" r="7.4" fill="#000" opacity="0.42" filter="url(#g12)"/><circle cx="31.12" cy="67.41" r="6.11" fill="#000" opacity="0.42" filter="url(#g12)"/><circle cx="39" cy="71.5" r="17.5" fill="none" stroke="rgb(17,179,17)" stroke-width="1.3" opacity="0.8" filter="url(#g08)"/><circle cx="69.8" cy="65.3" r="14.34" fill="#00ff00" opacity="0.55" filter="url(#g3)"/><circle cx="69.8" cy="65.3" r="12.54" fill="#00ff00" filter="url(#g12)"/><circle cx="67.88" cy="74.52" r="2.05" fill="#006000" opacity="0.7" filter="url(#g12)"/><circle cx="101.1" cy="89.5" r="16.8" fill="rgb(20,222,20)" filter="url(#g12)"/><circle cx="106.16" cy="81.57" r="6.72" fill="#000" opacity="0.25" filter="url(#g12)"/><circle cx="100.92" cy="96.22" r="5.54" fill="#000" opacity="0.25" filter="url(#g12)"/><circle cx="101.1" cy="89.5" r="15.8" fill="none" stroke="rgb(28,255,28)" stroke-width="1.3" opacity="0.8" filter="url(#g08)"/><circle cx="46.4" cy="111" r="21" fill="rgb(12,131,12)" filter="url(#g12)"/><circle cx="50" cy="118.59" r="8.4" fill="#000" opacity="0.42" filter="url(#g12)"/><circle cx="36.73" cy="108.16" r="6.93" fill="#000" opacity="0.42" filter="url(#g12)"/><circle cx="46.4" cy="111" r="20" fill="none" stroke="rgb(16,165,16)" stroke-width="1.3" opacity="0.8" filter="url(#g08)"/><circle cx="125.7" cy="46.4" r="16.8" fill="rgb(6,68,6)" filter="url(#g12)"/><circle cx="117.69" cy="45.47" r="6.72" fill="#000" opacity="0.42" filter="url(#g12)"/><circle cx="134.27" cy="42.51" r="5.54" fill="#000" opacity="0.42" filter="url(#g12)"/><circle cx="125.7" cy="46.4" r="15.8" fill="none" stroke="rgb(8,82,8)" stroke-width="1.3" opacity="0.8" filter="url(#g08)"/><circle cx="168.4" cy="39.4" r="18.5" fill="rgb(2,31,2)" filter="url(#g12)"/><circle cx="174.87" cy="31.31" r="7.4" fill="#000" opacity="0.42" filter="url(#g12)"/><circle cx="169.63" cy="46.7" r="6.11" fill="#000" opacity="0.42" filter="url(#g12)"/><circle cx="168.4" cy="39.4" r="17.5" fill="none" stroke="rgb(3,33,3)" stroke-width="1.3" opacity="0.8" filter="url(#g08)"/><circle cx="207" cy="33.3" r="18.5" fill="rgb(12,131,12)" filter="url(#g12)"/><circle cx="209.44" cy="40.28" r="7.4" fill="#000" opacity="0.42" filter="url(#g12)"/><circle cx="200.17" cy="27.63" r="6.11" fill="#000" opacity="0.42" filter="url(#g12)"/><circle cx="207" cy="33.3" r="17.5" fill="none" stroke="rgb(16,165,16)" stroke-width="1.3" opacity="0.8" filter="url(#g08)"/><circle cx="85.8" cy="143.7" r="19.2" fill="rgb(4,47,4)" filter="url(#g12)"/><circle cx="76.81" cy="141.67" r="7.68" fill="#000" opacity="0.42" filter="url(#g12)"/><circle cx="94.56" cy="137.46" r="6.34" fill="#000" opacity="0.42" filter="url(#g12)"/><circle cx="85.8" cy="143.7" r="18.2" fill="none" stroke="rgb(5,55,5)" stroke-width="1.3" opacity="0.8" filter="url(#g08)"/><circle cx="136.3" cy="143.7" r="17.8" fill="rgb(7,79,7)" filter="url(#g12)"/><circle cx="143.32" cy="136.63" r="7.12" fill="#000" opacity="0.42" filter="url(#g12)"/><circle cx="134.61" cy="150.62" r="5.87" fill="#000" opacity="0.42" filter="url(#g12)"/><circle cx="136.3" cy="143.7" r="16.8" fill="none" stroke="rgb(9,96,9)" stroke-width="1.3" opacity="0.8" filter="url(#g08)"/><circle cx="172.1" cy="135.1" r="17.8" fill="rgb(8,89,8)" filter="url(#g12)"/><circle cx="173.72" cy="142.03" r="7.12" fill="#000" opacity="0.42" filter="url(#g12)"/><circle cx="164.6" cy="131.01" r="5.87" fill="#000" opacity="0.42" filter="url(#g12)"/><circle cx="172.1" cy="135.1" r="16.8" fill="none" stroke="rgb(11,110,11)" stroke-width="1.3" opacity="0.8" filter="url(#g08)"/><circle cx="115.4" cy="175" r="17.3" fill="rgb(7,79,7)" filter="url(#g12)"/><circle cx="107.54" cy="172.31" r="6.92" fill="#000" opacity="0.42" filter="url(#g12)"/><circle cx="124.87" cy="172.96" r="5.71" fill="#000" opacity="0.42" filter="url(#g12)"/><circle cx="115.4" cy="175" r="16.3" fill="none" stroke="rgb(9,96,9)" stroke-width="1.3" opacity="0.8" filter="url(#g08)"/><circle cx="151.1" cy="173.8" r="17.3" fill="rgb(7,79,7)" filter="url(#g12)"/><circle cx="158.62" cy="167.69" r="6.92" fill="#000" opacity="0.42" filter="url(#g12)"/><circle cx="150.78" cy="180.71" r="5.71" fill="#000" opacity="0.42" filter="url(#g12)"/><circle cx="151.1" cy="173.8" r="16.3" fill="none" stroke="rgb(9,96,9)" stroke-width="1.3" opacity="0.8" filter="url(#g08)"/></g><ellipse cx="8" cy="205" rx="9" ry="2.5" fill="#00c000"/></g></g><rect x="146.7" y="170.8" width="55.8" height="25.9" fill="#fff" stroke="none" stroke-width="0"/><text x="174.3" y="189.3" font-family="'Liberation Serif', serif" font-size="22.3" font-weight="normal" fill="#000" text-anchor="middle">20μm</text><rect x="146.7" y="199.45" width="55.8" height="1.6" fill="#fff" stroke="none" stroke-width="0"/></svg><svg x="1830.5" y="1482.8" width="205.4" height="205" viewBox="0 0 205 205" preserveAspectRatio="none"><g style="isolation:isolate"><rect width="205" height="205" fill="#000"/><g style="mix-blend-mode:screen"><g filter="url(#rough3)"><circle cx="39" cy="71.5" r="18.5" fill="rgb(57,0,0)" filter="url(#g12)"/><circle cx="39" cy="71.5" r="18" fill="#ff0000" opacity="0.29" filter="url(#tex)"/><circle cx="42.87" cy="77.81" r="7.4" fill="#000" opacity="0.78" filter="url(#g12)"/><circle cx="42.87" cy="77.81" r="7.7" fill="none" stroke="rgb(101,0,0)" stroke-width="1.3" filter="url(#g08)"/><circle cx="31.12" cy="67.41" r="6.11" fill="#000" opacity="0.78" filter="url(#g12)"/><circle cx="31.12" cy="67.41" r="6.41" fill="none" stroke="rgb(101,0,0)" stroke-width="1.3" filter="url(#g08)"/><circle cx="39" cy="71.5" r="17.7" fill="none" stroke="rgb(92,0,0)" stroke-width="1.5" filter="url(#g08)"/><circle cx="69.8" cy="65.3" r="12.8" fill="rgb(93,0,0)" filter="url(#g12)"/><circle cx="69.8" cy="65.3" r="12.3" fill="#ff0000" opacity="0.5" filter="url(#tex)"/><circle cx="63.66" cy="65.25" r="5.12" fill="#000" opacity="0.78" filter="url(#g12)"/><circle cx="63.66" cy="65.25" r="5.42" fill="none" stroke="rgb(174,0,0)" stroke-width="1.3" filter="url(#g08)"/><circle cx="74.62" cy="60" r="4.22" fill="#000" opacity="0.78" filter="url(#g12)"/><circle cx="74.62" cy="60" r="4.52" fill="none" stroke="rgb(174,0,0)" stroke-width="1.3" filter="url(#g08)"/><circle cx="69.8" cy="65.3" r="12" fill="none" stroke="rgb(158,0,0)" stroke-width="1.5" filter="url(#g08)"/><circle cx="101.1" cy="89.5" r="16.8" fill="rgb(129,0,0)" filter="url(#g12)"/><circle cx="101.1" cy="89.5" r="16.3" fill="#ff0000" opacity="0.71" filter="url(#tex)"/><circle cx="106.16" cy="81.57" r="6.72" fill="#000" opacity="0.78" filter="url(#g12)"/><circle cx="106.16" cy="81.57" r="7.02" fill="none" stroke="rgb(246,0,0)" stroke-width="1.3" filter="url(#g08)"/><circle cx="100.92" cy="96.22" r="5.54" fill="#000" opacity="0.78" filter="url(#g12)"/><circle cx="100.92" cy="96.22" r="5.84" fill="none" stroke="rgb(246,0,0)" stroke-width="1.3" filter="url(#g08)"/><circle cx="101.1" cy="89.5" r="16" fill="none" stroke="rgb(224,0,0)" stroke-width="1.5" filter="url(#g08)"/><circle cx="46.4" cy="111" r="21" fill="rgb(50,0,0)" filter="url(#g12)"/><circle cx="46.4" cy="111" r="20.5" fill="#ff0000" opacity="0.25" filter="url(#tex)"/><circle cx="50" cy="118.59" r="8.4" fill="#000" opacity="0.78" filter="url(#g12)"/><circle cx="50" cy="118.59" r="8.7" fill="none" stroke="rgb(87,0,0)" stroke-width="1.3" filter="url(#g08)"/><circle cx="36.73" cy="108.16" r="6.93" fill="#000" opacity="0.78" filter="url(#g12)"/><circle cx="36.73" cy="108.16" r="7.23" fill="none" stroke="rgb(87,0,0)" stroke-width="1.3" filter="url(#g08)"/><circle cx="46.4" cy="111" r="20.2" fill="none" stroke="rgb(79,0,0)" stroke-width="1.5" filter="url(#g08)"/><circle cx="125.7" cy="46.4" r="16.8" fill="rgb(170,0,0)" filter="url(#g12)"/><circle cx="125.7" cy="46.4" r="16.3" fill="#ff0000" opacity="0.95" filter="url(#tex)"/><circle cx="125.7" cy="46.4" r="14.28" fill="#ff0000" opacity="0.75" filter="url(#g2)"/><circle cx="117.69" cy="45.47" r="3.36" fill="#000" opacity="0.78" filter="url(#g12)"/><circle cx="117.69" cy="45.47" r="3.66" fill="none" stroke="rgb(255,0,0)" stroke-width="1.3" filter="url(#g08)"/><circle cx="125.7" cy="46.4" r="16" fill="none" stroke="rgb(255,0,0)" stroke-width="1.5" filter="url(#g08)"/><circle cx="168.4" cy="39.4" r="18.5" fill="rgb(72,0,0)" filter="url(#g12)"/><circle cx="168.4" cy="39.4" r="18" fill="#ff0000" opacity="0.38" filter="url(#tex)"/><circle cx="174.87" cy="31.31" r="7.4" fill="#000" opacity="0.78" filter="url(#g12)"/><circle cx="174.87" cy="31.31" r="7.7" fill="none" stroke="rgb(130,0,0)" stroke-width="1.3" filter="url(#g08)"/><circle cx="169.63" cy="46.7" r="6.11" fill="#000" opacity="0.78" filter="url(#g12)"/><circle cx="169.63" cy="46.7" r="6.41" fill="none" stroke="rgb(130,0,0)" stroke-width="1.3" filter="url(#g08)"/><circle cx="168.4" cy="39.4" r="17.7" fill="none" stroke="rgb(118,0,0)" stroke-width="1.5" filter="url(#g08)"/><circle cx="207" cy="33.3" r="18.5" fill="rgb(79,0,0)" filter="url(#g12)"/><circle cx="207" cy="33.3" r="18" fill="#ff0000" opacity="0.42" filter="url(#tex)"/><circle cx="209.44" cy="40.28" r="7.4" fill="#000" opacity="0.78" filter="url(#g12)"/><circle cx="209.44" cy="40.28" r="7.7" fill="none" stroke="rgb(145,0,0)" stroke-width="1.3" filter="url(#g08)"/><circle cx="200.17" cy="27.63" r="6.11" fill="#000" opacity="0.78" filter="url(#g12)"/><circle cx="200.17" cy="27.63" r="6.41" fill="none" stroke="rgb(145,0,0)" stroke-width="1.3" filter="url(#g08)"/><circle cx="207" cy="33.3" r="17.7" fill="none" stroke="rgb(132,0,0)" stroke-width="1.5" filter="url(#g08)"/><circle cx="85.8" cy="143.7" r="19.2" fill="rgb(43,0,0)" filter="url(#g12)"/><circle cx="85.8" cy="143.7" r="18.7" fill="#ff0000" opacity="0.21" filter="url(#tex)"/><circle cx="76.81" cy="141.67" r="7.68" fill="#000" opacity="0.78" filter="url(#g12)"/><circle cx="76.81" cy="141.67" r="7.98" fill="none" stroke="rgb(72,0,0)" stroke-width="1.3" filter="url(#g08)"/><circle cx="94.56" cy="137.46" r="6.34" fill="#000" opacity="0.78" filter="url(#g12)"/><circle cx="94.56" cy="137.46" r="6.64" fill="none" stroke="rgb(72,0,0)" stroke-width="1.3" filter="url(#g08)"/><circle cx="85.8" cy="143.7" r="18.4" fill="none" stroke="rgb(66,0,0)" stroke-width="1.5" filter="url(#g08)"/><circle cx="136.3" cy="143.7" r="17.8" fill="rgb(50,0,0)" filter="url(#g12)"/><circle cx="136.3" cy="143.7" r="17.3" fill="#ff0000" opacity="0.25" filter="url(#tex)"/><circle cx="143.32" cy="136.63" r="7.12" fill="#000" opacity="0.78" filter="url(#g12)"/><circle cx="143.32" cy="136.63" r="7.42" fill="none" stroke="rgb(87,0,0)" stroke-width="1.3" filter="url(#g08)"/><circle cx="134.61" cy="150.62" r="5.87" fill="#000" opacity="0.78" filter="url(#g12)"/><circle cx="134.61" cy="150.62" r="6.17" fill="none" stroke="rgb(87,0,0)" stroke-width="1.3" filter="url(#g08)"/><circle cx="136.3" cy="143.7" r="17" fill="none" stroke="rgb(79,0,0)" stroke-width="1.5" filter="url(#g08)"/><circle cx="172.1" cy="135.1" r="17.8" fill="rgb(153,0,0)" filter="url(#g12)"/><circle cx="172.1" cy="135.1" r="17.3" fill="#ff0000" opacity="0.85" filter="url(#tex)"/><circle cx="173.72" cy="142.03" r="7.12" fill="#000" opacity="0.78" filter="url(#g12)"/><circle cx="173.72" cy="142.03" r="7.42" fill="none" stroke="rgb(255,0,0)" stroke-width="1.3" filter="url(#g08)"/><circle cx="164.6" cy="131.01" r="5.87" fill="#000" opacity="0.78" filter="url(#g12)"/><circle cx="164.6" cy="131.01" r="6.17" fill="none" stroke="rgb(255,0,0)" stroke-width="1.3" filter="url(#g08)"/><circle cx="172.1" cy="135.1" r="17" fill="none" stroke="rgb(255,0,0)" stroke-width="1.5" filter="url(#g08)"/><circle cx="115.4" cy="175" r="17.3" fill="rgb(50,0,0)" filter="url(#g12)"/><circle cx="115.4" cy="175" r="16.8" fill="#ff0000" opacity="0.25" filter="url(#tex)"/><circle cx="107.54" cy="172.31" r="6.92" fill="#000" opacity="0.78" filter="url(#g12)"/><circle cx="107.54" cy="172.31" r="7.22" fill="none" stroke="rgb(87,0,0)" stroke-width="1.3" filter="url(#g08)"/><circle cx="124.87" cy="172.96" r="5.71" fill="#000" opacity="0.78" filter="url(#g12)"/><circle cx="124.87" cy="172.96" r="6.01" fill="none" stroke="rgb(87,0,0)" stroke-width="1.3" filter="url(#g08)"/><circle cx="115.4" cy="175" r="16.5" fill="none" stroke="rgb(79,0,0)" stroke-width="1.5" filter="url(#g08)"/><circle cx="151.1" cy="173.8" r="17.3" fill="rgb(65,0,0)" filter="url(#g12)"/><circle cx="151.1" cy="173.8" r="16.8" fill="#ff0000" opacity="0.33" filter="url(#tex)"/><circle cx="158.62" cy="167.69" r="6.92" fill="#000" opacity="0.78" filter="url(#g12)"/><circle cx="158.62" cy="167.69" r="7.22" fill="none" stroke="rgb(116,0,0)" stroke-width="1.3" filter="url(#g08)"/><circle cx="150.78" cy="180.71" r="5.71" fill="#000" opacity="0.78" filter="url(#g12)"/><circle cx="150.78" cy="180.71" r="6.01" fill="none" stroke="rgb(116,0,0)" stroke-width="1.3" filter="url(#g08)"/><circle cx="151.1" cy="173.8" r="16.5" fill="none" stroke="rgb(105,0,0)" stroke-width="1.5" filter="url(#g08)"/></g></g></g><rect x="146.7" y="170.8" width="55.8" height="25.9" fill="#fff" stroke="none" stroke-width="0"/><text x="174.3" y="189.3" font-family="'Liberation Serif', serif" font-size="22.3" font-weight="normal" fill="#000" text-anchor="middle">20μm</text><rect x="146.7" y="199.45" width="55.8" height="1.6" fill="#fff" stroke="none" stroke-width="0"/></svg><svg x="1830.5" y="1694.5" width="205.4" height="205" viewBox="0 0 205 205" preserveAspectRatio="none"><g style="isolation:isolate"><rect width="205" height="205" fill="#000"/><g style="mix-blend-mode:screen"><g filter="url(#rough3)"><circle cx="39" cy="71.5" r="18.5" fill="rgb(57,0,0)" filter="url(#g12)"/><circle cx="39" cy="71.5" r="18" fill="#ff0000" opacity="0.29" filter="url(#tex)"/><circle cx="42.87" cy="77.81" r="7.4" fill="#000" opacity="0.78" filter="url(#g12)"/><circle cx="42.87" cy="77.81" r="7.7" fill="none" stroke="rgb(101,0,0)" stroke-width="1.3" filter="url(#g08)"/><circle cx="31.12" cy="67.41" r="6.11" fill="#000" opacity="0.78" filter="url(#g12)"/><circle cx="31.12" cy="67.41" r="6.41" fill="none" stroke="rgb(101,0,0)" stroke-width="1.3" filter="url(#g08)"/><circle cx="39" cy="71.5" r="17.7" fill="none" stroke="rgb(92,0,0)" stroke-width="1.5" filter="url(#g08)"/><circle cx="69.8" cy="65.3" r="12.8" fill="rgb(93,0,0)" filter="url(#g12)"/><circle cx="69.8" cy="65.3" r="12.3" fill="#ff0000" opacity="0.5" filter="url(#tex)"/><circle cx="63.66" cy="65.25" r="5.12" fill="#000" opacity="0.78" filter="url(#g12)"/><circle cx="63.66" cy="65.25" r="5.42" fill="none" stroke="rgb(174,0,0)" stroke-width="1.3" filter="url(#g08)"/><circle cx="74.62" cy="60" r="4.22" fill="#000" opacity="0.78" filter="url(#g12)"/><circle cx="74.62" cy="60" r="4.52" fill="none" stroke="rgb(174,0,0)" stroke-width="1.3" filter="url(#g08)"/><circle cx="69.8" cy="65.3" r="12" fill="none" stroke="rgb(158,0,0)" stroke-width="1.5" filter="url(#g08)"/><circle cx="101.1" cy="89.5" r="16.8" fill="rgb(129,0,0)" filter="url(#g12)"/><circle cx="101.1" cy="89.5" r="16.3" fill="#ff0000" opacity="0.71" filter="url(#tex)"/><circle cx="106.16" cy="81.57" r="6.72" fill="#000" opacity="0.78" filter="url(#g12)"/><circle cx="106.16" cy="81.57" r="7.02" fill="none" stroke="rgb(246,0,0)" stroke-width="1.3" filter="url(#g08)"/><circle cx="100.92" cy="96.22" r="5.54" fill="#000" opacity="0.78" filter="url(#g12)"/><circle cx="100.92" cy="96.22" r="5.84" fill="none" stroke="rgb(246,0,0)" stroke-width="1.3" filter="url(#g08)"/><circle cx="101.1" cy="89.5" r="16" fill="none" stroke="rgb(224,0,0)" stroke-width="1.5" filter="url(#g08)"/><circle cx="46.4" cy="111" r="21" fill="rgb(50,0,0)" filter="url(#g12)"/><circle cx="46.4" cy="111" r="20.5" fill="#ff0000" opacity="0.25" filter="url(#tex)"/><circle cx="50" cy="118.59" r="8.4" fill="#000" opacity="0.78" filter="url(#g12)"/><circle cx="50" cy="118.59" r="8.7" fill="none" stroke="rgb(87,0,0)" stroke-width="1.3" filter="url(#g08)"/><circle cx="36.73" cy="108.16" r="6.93" fill="#000" opacity="0.78" filter="url(#g12)"/><circle cx="36.73" cy="108.16" r="7.23" fill="none" stroke="rgb(87,0,0)" stroke-width="1.3" filter="url(#g08)"/><circle cx="46.4" cy="111" r="20.2" fill="none" stroke="rgb(79,0,0)" stroke-width="1.5" filter="url(#g08)"/><circle cx="125.7" cy="46.4" r="16.8" fill="rgb(170,0,0)" filter="url(#g12)"/><circle cx="125.7" cy="46.4" r="16.3" fill="#ff0000" opacity="0.95" filter="url(#tex)"/><circle cx="125.7" cy="46.4" r="14.28" fill="#ff0000" opacity="0.75" filter="url(#g2)"/><circle cx="117.69" cy="45.47" r="3.36" fill="#000" opacity="0.78" filter="url(#g12)"/><circle cx="117.69" cy="45.47" r="3.66" fill="none" stroke="rgb(255,0,0)" stroke-width="1.3" filter="url(#g08)"/><circle cx="125.7" cy="46.4" r="16" fill="none" stroke="rgb(255,0,0)" stroke-width="1.5" filter="url(#g08)"/><circle cx="168.4" cy="39.4" r="18.5" fill="rgb(72,0,0)" filter="url(#g12)"/><circle cx="168.4" cy="39.4" r="18" fill="#ff0000" opacity="0.38" filter="url(#tex)"/><circle cx="174.87" cy="31.31" r="7.4" fill="#000" opacity="0.78" filter="url(#g12)"/><circle cx="174.87" cy="31.31" r="7.7" fill="none" stroke="rgb(130,0,0)" stroke-width="1.3" filter="url(#g08)"/><circle cx="169.63" cy="46.7" r="6.11" fill="#000" opacity="0.78" filter="url(#g12)"/><circle cx="169.63" cy="46.7" r="6.41" fill="none" stroke="rgb(130,0,0)" stroke-width="1.3" filter="url(#g08)"/><circle cx="168.4" cy="39.4" r="17.7" fill="none" stroke="rgb(118,0,0)" stroke-width="1.5" filter="url(#g08)"/><circle cx="207" cy="33.3" r="18.5" fill="rgb(79,0,0)" filter="url(#g12)"/><circle cx="207" cy="33.3" r="18" fill="#ff0000" opacity="0.42" filter="url(#tex)"/><circle cx="209.44" cy="40.28" r="7.4" fill="#000" opacity="0.78" filter="url(#g12)"/><circle cx="209.44" cy="40.28" r="7.7" fill="none" stroke="rgb(145,0,0)" stroke-width="1.3" filter="url(#g08)"/><circle cx="200.17" cy="27.63" r="6.11" fill="#000" opacity="0.78" filter="url(#g12)"/><circle cx="200.17" cy="27.63" r="6.41" fill="none" stroke="rgb(145,0,0)" stroke-width="1.3" filter="url(#g08)"/><circle cx="207" cy="33.3" r="17.7" fill="none" stroke="rgb(132,0,0)" stroke-width="1.5" filter="url(#g08)"/><circle cx="85.8" cy="143.7" r="19.2" fill="rgb(43,0,0)" filter="url(#g12)"/><circle cx="85.8" cy="143.7" r="18.7" fill="#ff0000" opacity="0.21" filter="url(#tex)"/><circle cx="76.81" cy="141.67" r="7.68" fill="#000" opacity="0.78" filter="url(#g12)"/><circle cx="76.81" cy="141.67" r="7.98" fill="none" stroke="rgb(72,0,0)" stroke-width="1.3" filter="url(#g08)"/><circle cx="94.56" cy="137.46" r="6.34" fill="#000" opacity="0.78" filter="url(#g12)"/><circle cx="94.56" cy="137.46" r="6.64" fill="none" stroke="rgb(72,0,0)" stroke-width="1.3" filter="url(#g08)"/><circle cx="85.8" cy="143.7" r="18.4" fill="none" stroke="rgb(66,0,0)" stroke-width="1.5" filter="url(#g08)"/><circle cx="136.3" cy="143.7" r="17.8" fill="rgb(50,0,0)" filter="url(#g12)"/><circle cx="136.3" cy="143.7" r="17.3" fill="#ff0000" opacity="0.25" filter="url(#tex)"/><circle cx="143.32" cy="136.63" r="7.12" fill="#000" opacity="0.78" filter="url(#g12)"/><circle cx="143.32" cy="136.63" r="7.42" fill="none" stroke="rgb(87,0,0)" stroke-width="1.3" filter="url(#g08)"/><circle cx="134.61" cy="150.62" r="5.87" fill="#000" opacity="0.78" filter="url(#g12)"/><circle cx="134.61" cy="150.62" r="6.17" fill="none" stroke="rgb(87,0,0)" stroke-width="1.3" filter="url(#g08)"/><circle cx="136.3" cy="143.7" r="17" fill="none" stroke="rgb(79,0,0)" stroke-width="1.5" filter="url(#g08)"/><circle cx="172.1" cy="135.1" r="17.8" fill="rgb(153,0,0)" filter="url(#g12)"/><circle cx="172.1" cy="135.1" r="17.3" fill="#ff0000" opacity="0.85" filter="url(#tex)"/><circle cx="173.72" cy="142.03" r="7.12" fill="#000" opacity="0.78" filter="url(#g12)"/><circle cx="173.72" cy="142.03" r="7.42" fill="none" stroke="rgb(255,0,0)" stroke-width="1.3" filter="url(#g08)"/><circle cx="164.6" cy="131.01" r="5.87" fill="#000" opacity="0.78" filter="url(#g12)"/><circle cx="164.6" cy="131.01" r="6.17" fill="none" stroke="rgb(255,0,0)" stroke-width="1.3" filter="url(#g08)"/><circle cx="172.1" cy="135.1" r="17" fill="none" stroke="rgb(255,0,0)" stroke-width="1.5" filter="url(#g08)"/><circle cx="115.4" cy="175" r="17.3" fill="rgb(50,0,0)" filter="url(#g12)"/><circle cx="115.4" cy="175" r="16.8" fill="#ff0000" opacity="0.25" filter="url(#tex)"/><circle cx="107.54" cy="172.31" r="6.92" fill="#000" opacity="0.78" filter="url(#g12)"/><circle cx="107.54" cy="172.31" r="7.22" fill="none" stroke="rgb(87,0,0)" stroke-width="1.3" filter="url(#g08)"/><circle cx="124.87" cy="172.96" r="5.71" fill="#000" opacity="0.78" filter="url(#g12)"/><circle cx="124.87" cy="172.96" r="6.01" fill="none" stroke="rgb(87,0,0)" stroke-width="1.3" filter="url(#g08)"/><circle cx="115.4" cy="175" r="16.5" fill="none" stroke="rgb(79,0,0)" stroke-width="1.5" filter="url(#g08)"/><circle cx="151.1" cy="173.8" r="17.3" fill="rgb(65,0,0)" filter="url(#g12)"/><circle cx="151.1" cy="173.8" r="16.8" fill="#ff0000" opacity="0.33" filter="url(#tex)"/><circle cx="158.62" cy="167.69" r="6.92" fill="#000" opacity="0.78" filter="url(#g12)"/><circle cx="158.62" cy="167.69" r="7.22" fill="none" stroke="rgb(116,0,0)" stroke-width="1.3" filter="url(#g08)"/><circle cx="150.78" cy="180.71" r="5.71" fill="#000" opacity="0.78" filter="url(#g12)"/><circle cx="150.78" cy="180.71" r="6.01" fill="none" stroke="rgb(116,0,0)" stroke-width="1.3" filter="url(#g08)"/><circle cx="151.1" cy="173.8" r="16.5" fill="none" stroke="rgb(105,0,0)" stroke-width="1.5" filter="url(#g08)"/></g></g><g style="mix-blend-mode:screen"><g filter="url(#rough3)"><circle cx="39" cy="71.5" r="18.5" fill="rgb(13,142,13)" filter="url(#g12)"/><circle cx="42.87" cy="77.81" r="7.4" fill="#000" opacity="0.42" filter="url(#g12)"/><circle cx="31.12" cy="67.41" r="6.11" fill="#000" opacity="0.42" filter="url(#g12)"/><circle cx="39" cy="71.5" r="17.5" fill="none" stroke="rgb(17,179,17)" stroke-width="1.3" opacity="0.8" filter="url(#g08)"/><circle cx="69.8" cy="65.3" r="14.34" fill="#00ff00" opacity="0.55" filter="url(#g3)"/><circle cx="69.8" cy="65.3" r="12.54" fill="#00ff00" filter="url(#g12)"/><circle cx="67.88" cy="74.52" r="2.05" fill="#006000" opacity="0.7" filter="url(#g12)"/><circle cx="101.1" cy="89.5" r="16.8" fill="rgb(20,222,20)" filter="url(#g12)"/><circle cx="106.16" cy="81.57" r="6.72" fill="#000" opacity="0.25" filter="url(#g12)"/><circle cx="100.92" cy="96.22" r="5.54" fill="#000" opacity="0.25" filter="url(#g12)"/><circle cx="101.1" cy="89.5" r="15.8" fill="none" stroke="rgb(28,255,28)" stroke-width="1.3" opacity="0.8" filter="url(#g08)"/><circle cx="46.4" cy="111" r="21" fill="rgb(12,131,12)" filter="url(#g12)"/><circle cx="50" cy="118.59" r="8.4" fill="#000" opacity="0.42" filter="url(#g12)"/><circle cx="36.73" cy="108.16" r="6.93" fill="#000" opacity="0.42" filter="url(#g12)"/><circle cx="46.4" cy="111" r="20" fill="none" stroke="rgb(16,165,16)" stroke-width="1.3" opacity="0.8" filter="url(#g08)"/><circle cx="125.7" cy="46.4" r="16.8" fill="rgb(6,68,6)" filter="url(#g12)"/><circle cx="117.69" cy="45.47" r="6.72" fill="#000" opacity="0.42" filter="url(#g12)"/><circle cx="134.27" cy="42.51" r="5.54" fill="#000" opacity="0.42" filter="url(#g12)"/><circle cx="125.7" cy="46.4" r="15.8" fill="none" stroke="rgb(8,82,8)" stroke-width="1.3" opacity="0.8" filter="url(#g08)"/><circle cx="168.4" cy="39.4" r="18.5" fill="rgb(2,31,2)" filter="url(#g12)"/><circle cx="174.87" cy="31.31" r="7.4" fill="#000" opacity="0.42" filter="url(#g12)"/><circle cx="169.63" cy="46.7" r="6.11" fill="#000" opacity="0.42" filter="url(#g12)"/><circle cx="168.4" cy="39.4" r="17.5" fill="none" stroke="rgb(3,33,3)" stroke-width="1.3" opacity="0.8" filter="url(#g08)"/><circle cx="207" cy="33.3" r="18.5" fill="rgb(12,131,12)" filter="url(#g12)"/><circle cx="209.44" cy="40.28" r="7.4" fill="#000" opacity="0.42" filter="url(#g12)"/><circle cx="200.17" cy="27.63" r="6.11" fill="#000" opacity="0.42" filter="url(#g12)"/><circle cx="207" cy="33.3" r="17.5" fill="none" stroke="rgb(16,165,16)" stroke-width="1.3" opacity="0.8" filter="url(#g08)"/><circle cx="85.8" cy="143.7" r="19.2" fill="rgb(4,47,4)" filter="url(#g12)"/><circle cx="76.81" cy="141.67" r="7.68" fill="#000" opacity="0.42" filter="url(#g12)"/><circle cx="94.56" cy="137.46" r="6.34" fill="#000" opacity="0.42" filter="url(#g12)"/><circle cx="85.8" cy="143.7" r="18.2" fill="none" stroke="rgb(5,55,5)" stroke-width="1.3" opacity="0.8" filter="url(#g08)"/><circle cx="136.3" cy="143.7" r="17.8" fill="rgb(7,79,7)" filter="url(#g12)"/><circle cx="143.32" cy="136.63" r="7.12" fill="#000" opacity="0.42" filter="url(#g12)"/><circle cx="134.61" cy="150.62" r="5.87" fill="#000" opacity="0.42" filter="url(#g12)"/><circle cx="136.3" cy="143.7" r="16.8" fill="none" stroke="rgb(9,96,9)" stroke-width="1.3" opacity="0.8" filter="url(#g08)"/><circle cx="172.1" cy="135.1" r="17.8" fill="rgb(8,89,8)" filter="url(#g12)"/><circle cx="173.72" cy="142.03" r="7.12" fill="#000" opacity="0.42" filter="url(#g12)"/><circle cx="164.6" cy="131.01" r="5.87" fill="#000" opacity="0.42" filter="url(#g12)"/><circle cx="172.1" cy="135.1" r="16.8" fill="none" stroke="rgb(11,110,11)" stroke-width="1.3" opacity="0.8" filter="url(#g08)"/><circle cx="115.4" cy="175" r="17.3" fill="rgb(7,79,7)" filter="url(#g12)"/><circle cx="107.54" cy="172.31" r="6.92" fill="#000" opacity="0.42" filter="url(#g12)"/><circle cx="124.87" cy="172.96" r="5.71" fill="#000" opacity="0.42" filter="url(#g12)"/><circle cx="115.4" cy="175" r="16.3" fill="none" stroke="rgb(9,96,9)" stroke-width="1.3" opacity="0.8" filter="url(#g08)"/><circle cx="151.1" cy="173.8" r="17.3" fill="rgb(7,79,7)" filter="url(#g12)"/><circle cx="158.62" cy="167.69" r="6.92" fill="#000" opacity="0.42" filter="url(#g12)"/><circle cx="150.78" cy="180.71" r="5.71" fill="#000" opacity="0.42" filter="url(#g12)"/><circle cx="151.1" cy="173.8" r="16.3" fill="none" stroke="rgb(9,96,9)" stroke-width="1.3" opacity="0.8" filter="url(#g08)"/></g><ellipse cx="8" cy="205" rx="9" ry="2.5" fill="#00c000"/></g><g><ellipse cx="122.6" cy="43.9" rx="8.8" ry="9.3" fill="#000" opacity="0.62" filter="url(#g12)"/><ellipse cx="168.8" cy="45.9" rx="11.1" ry="7.8" fill="#000" opacity="0.62" filter="url(#g12)"/><ellipse cx="198" cy="39.2" rx="9.8" ry="10.3" fill="#000" opacity="0.62" filter="url(#g12)"/><ellipse cx="43.9" cy="64" rx="9.8" ry="9.8" fill="#000" opacity="0.62" filter="url(#g12)"/><ellipse cx="48.8" cy="115.4" rx="10.3" ry="9.8" fill="#000" opacity="0.62" filter="url(#g12)"/><ellipse cx="130" cy="139.4" rx="8" ry="8.5" fill="#000" opacity="0.62" filter="url(#g12)"/><ellipse cx="165.7" cy="129" rx="10.3" ry="12.4" fill="#000" opacity="0.62" filter="url(#g12)"/><ellipse cx="154" cy="166.5" rx="7.2" ry="4.7" fill="#000" opacity="0.62" filter="url(#g12)"/></g><g style="mix-blend-mode:screen"><ellipse cx="122.6" cy="43.9" rx="9.3" ry="9.8" fill="#0000ff" filter="url(#g08)"/><ellipse cx="168.8" cy="45.9" rx="11.6" ry="8.3" fill="#0000ff" filter="url(#g08)"/><ellipse cx="198" cy="39.2" rx="10.3" ry="10.8" fill="#0000ff" filter="url(#g08)"/><ellipse cx="43.9" cy="64" rx="10.3" ry="10.3" fill="#0000ff" filter="url(#g08)"/><ellipse cx="69.7" cy="65.3" rx="6.2" ry="7.2" fill="#0000ff" filter="url(#g08)"/><ellipse cx="95.2" cy="92.4" rx="10.3" ry="10.3" fill="#0000ff" filter="url(#g08)"/><ellipse cx="48.8" cy="115.4" rx="10.8" ry="10.3" fill="#0000ff" filter="url(#g08)"/><ellipse cx="81.8" cy="139.4" rx="10.3" ry="10.3" fill="#0000c8" opacity="0.85" filter="url(#texfine)"/><ellipse cx="81.8" cy="139.4" rx="10.3" ry="10.3" fill="#000090" opacity="0.5" filter="url(#g12)"/><ellipse cx="130" cy="139.4" rx="8.5" ry="9" fill="#0000ff" filter="url(#g08)"/><ellipse cx="165.7" cy="129" rx="10.8" ry="12.9" fill="#0000ff" filter="url(#g08)"/><ellipse cx="112.3" cy="167.7" rx="7.2" ry="7.2" fill="#0000c8" opacity="0.85" filter="url(#texfine)"/><ellipse cx="112.3" cy="167.7" rx="7.2" ry="7.2" fill="#000090" opacity="0.5" filter="url(#g12)"/><ellipse cx="154" cy="166.5" rx="7.7" ry="5.2" fill="#0000ff" filter="url(#g08)"/></g></g><line x1="43.4" y1="69.5" x2="59.09" y2="64.61" stroke="#fff" stroke-width="2.1" stroke-linecap="butt"/><polygon points="71,60.9 59.46,72.61 59.09,64.61 54.85,57.81" fill="#fff"/><line x1="69.3" y1="102.3" x2="85.15" y2="96.67" stroke="#fff" stroke-width="2.1" stroke-linecap="butt"/><polygon points="96.9,92.5 85.83,104.66 85.15,96.67 80.64,90.05" fill="#fff"/><rect x="146.7" y="170.8" width="55.8" height="25.9" fill="#fff" stroke="none" stroke-width="0"/><text x="174.3" y="189.3" font-family="'Liberation Serif', serif" font-size="22.3" font-weight="normal" fill="#000" text-anchor="middle">20μm</text><rect x="146.7" y="199.45" width="55.8" height="1.6" fill="#fff" stroke="none" stroke-width="0"/></svg>
<svg x="129.2" y="2072.5" width="205.2" height="205" viewBox="0 0 205 205" preserveAspectRatio="none"><g style="isolation:isolate"><rect width="205" height="205" fill="#000"/><g style="mix-blend-mode:screen"><ellipse cx="139.7" cy="6" rx="15" ry="10" fill="#0000ff" filter="url(#g05)"/><ellipse cx="171.4" cy="4.3" rx="13.4" ry="7.4" fill="#0000ff" filter="url(#g05)"/><ellipse cx="187.1" cy="17.7" rx="12.4" ry="11.7" fill="#0000ff" filter="url(#g05)"/><ellipse cx="165.4" cy="38.8" rx="11" ry="12.7" fill="#0000ff" transform="rotate(-20 165.4 38.8)" filter="url(#g05)"/><ellipse cx="139.7" cy="46.1" rx="10" ry="13.4" fill="#0000ff" transform="rotate(20 139.7 46.1)" filter="url(#g05)"/><ellipse cx="80.5" cy="51.8" rx="10.7" ry="10" fill="#0000ff" filter="url(#g05)"/><ellipse cx="117.9" cy="56.1" rx="10" ry="11.7" fill="#0000ff" transform="rotate(20 117.9 56.1)" filter="url(#g05)"/><ellipse cx="73.5" cy="72.8" rx="10" ry="9.4" fill="#0000ff" filter="url(#g05)"/><ellipse cx="94.6" cy="80.5" rx="11.7" ry="9.6" fill="#0000ff" transform="rotate(-25 94.6 80.5)" filter="url(#g05)"/><ellipse cx="37.8" cy="89.5" rx="21.7" ry="15" fill="#0000ff" transform="rotate(15 37.8 89.5)" filter="url(#g05)"/><ellipse cx="33.8" cy="87.5" rx="3" ry="1.5" fill="#0000a0" transform="rotate(15 37.8 89.5)"/><ellipse cx="42.8" cy="92.5" rx="3.5" ry="1.5" fill="#0000a0" transform="rotate(15 37.8 89.5)"/><ellipse cx="114.6" cy="94.6" rx="11.7" ry="11" fill="#0000d0" opacity="0.8" filter="url(#texfine)"/><ellipse cx="114.6" cy="94.6" rx="11.7" ry="11" fill="#000080" opacity="0.6" filter="url(#g12)"/><ellipse cx="139.7" cy="96.2" rx="12.7" ry="13.4" fill="#0000ff" filter="url(#g05)"/><ellipse cx="6" cy="96.2" rx="11.7" ry="11.7" fill="#0000ff" filter="url(#g05)"/><ellipse cx="22.7" cy="107.9" rx="11.7" ry="9.4" fill="#0000ff" filter="url(#g05)"/><ellipse cx="92.9" cy="113.9" rx="9.6" ry="14" fill="#0000ff" transform="rotate(-15 92.9 113.9)" filter="url(#g05)"/><ellipse cx="47.8" cy="118.6" rx="10" ry="9" fill="#0000ff" filter="url(#g05)"/><ellipse cx="115.3" cy="130.3" rx="12.7" ry="10.7" fill="#0000ff" transform="rotate(15 115.3 130.3)" filter="url(#g05)"/><ellipse cx="26" cy="138.7" rx="9" ry="10" fill="#0000ff" filter="url(#g05)"/><ellipse cx="50.1" cy="137.3" rx="12.4" ry="9.4" fill="#0000ff" filter="url(#g05)"/><ellipse cx="88.9" cy="138" rx="11.7" ry="9.4" fill="#0000ff" filter="url(#g05)"/><ellipse cx="51.1" cy="152" rx="7.4" ry="6.7" fill="#0000ff" filter="url(#g05)"/><ellipse cx="63.8" cy="169.7" rx="14" ry="12.6" fill="#0000ff" transform="rotate(-30 63.8 169.7)" filter="url(#g05)"/><ellipse cx="149.7" cy="162.4" rx="15" ry="8.6" fill="#0000ff" transform="rotate(20 149.7 162.4)" filter="url(#g05)"/><ellipse cx="107.9" cy="170.4" rx="9.4" ry="11.7" fill="#0000ff" filter="url(#g05)"/><ellipse cx="134.6" cy="175.7" rx="14" ry="12.4" fill="#0000ff" filter="url(#g05)"/><ellipse cx="114.6" cy="191.4" rx="10" ry="9" fill="#0000ff" filter="url(#g05)"/><ellipse cx="93.9" cy="198.1" rx="10" ry="6.7" fill="#0000ff" filter="url(#g05)"/><ellipse cx="203" cy="72" rx="3.3" ry="8.4" fill="#0000ff" filter="url(#g05)"/></g></g><rect x="147.6" y="175.5" width="56.1" height="24.1" fill="#fff" stroke="none" stroke-width="0"/><text x="175.2" y="194.5" font-family="'Liberation Serif', serif" font-size="22.3" font-weight="normal" fill="#000" text-anchor="middle">20μm</text><rect x="170.6" y="200.8" width="33.1" height="1.7" fill="#fff" stroke="none" stroke-width="0"/></svg><svg x="342.4" y="2072.5" width="205.5" height="205" viewBox="0 0 205 205" preserveAspectRatio="none"><g style="isolation:isolate"><rect width="205" height="205" fill="#000"/><g style="mix-blend-mode:screen"><circle cx="85" cy="60" r="13" fill="#00a000" opacity="0.14" filter="url(#g3)"/><circle cx="85" cy="60" r="13" fill="#00e000" opacity="0.14" filter="url(#texfine)"/><circle cx="45" cy="80" r="12" fill="#00a000" opacity="0.12" filter="url(#g3)"/><circle cx="45" cy="80" r="12" fill="#00e000" opacity="0.11" filter="url(#texfine)"/><circle cx="75" cy="78" r="12" fill="#00a000" opacity="0.16" filter="url(#g3)"/><circle cx="75" cy="78" r="12" fill="#00e000" opacity="0.15" filter="url(#texfine)"/><circle cx="25" cy="125" r="14" fill="#00a000" opacity="0.12" filter="url(#g3)"/><circle cx="25" cy="125" r="14" fill="#00e000" opacity="0.11" filter="url(#texfine)"/><circle cx="110" cy="175" r="13" fill="#00a000" opacity="0.2" filter="url(#g3)"/><circle cx="110" cy="175" r="13" fill="#00e000" opacity="0.19" filter="url(#texfine)"/><circle cx="190" cy="15" r="12" fill="#00a000" opacity="0.16" filter="url(#g3)"/><circle cx="190" cy="15" r="12" fill="#00e000" opacity="0.15" filter="url(#texfine)"/><circle cx="130" cy="45" r="12" fill="#00a000" opacity="0.12" filter="url(#g3)"/><circle cx="130" cy="45" r="12" fill="#00e000" opacity="0.11" filter="url(#texfine)"/><circle cx="100" cy="115" r="12" fill="#00a000" opacity="0.12" filter="url(#g3)"/><circle cx="100" cy="115" r="12" fill="#00e000" opacity="0.11" filter="url(#texfine)"/><g filter="url(#g05)"><ellipse cx="183.67" cy="14.2" rx="1.77" ry="1.22" fill="#10e010"/><ellipse cx="188.23" cy="11.48" rx="0.93" ry="0.96" fill="#10e010"/><ellipse cx="194.68" cy="16.17" rx="1.89" ry="0.76" fill="#10e010"/><ellipse cx="186.46" cy="18.02" rx="1.5" ry="1.02" fill="#10e010"/><ellipse cx="190.89" cy="17.82" rx="1.21" ry="1.2" fill="#10e010"/><ellipse cx="188.95" cy="16.63" rx="1.78" ry="0.78" fill="#10e010"/><ellipse cx="187.89" cy="17.12" rx="0.9" ry="1.18" fill="#10e010"/><ellipse cx="189.32" cy="19.11" rx="1.98" ry="1.18" fill="#10e010"/><ellipse cx="186.53" cy="24" rx="1.49" ry="1.07" fill="#10e010"/><ellipse cx="191.35" cy="23.81" rx="1.66" ry="1.23" fill="#10e010"/><ellipse cx="191.07" cy="16.45" rx="1.3" ry="0.79" fill="#10e010"/><ellipse cx="189.18" cy="18.05" rx="1.23" ry="1.03" fill="#10e010"/><ellipse cx="195.35" cy="17.8" rx="1.27" ry="0.87" fill="#10e010"/><ellipse cx="190.74" cy="14.75" rx="1.25" ry="0.96" fill="#10e010"/><ellipse cx="188.65" cy="17.33" rx="1.97" ry="0.71" fill="#10e010"/><ellipse cx="188.79" cy="11.99" rx="0.92" ry="1.13" fill="#10e010"/><ellipse cx="185.07" cy="20.62" rx="0.91" ry="0.73" fill="#10e010"/><ellipse cx="192.68" cy="23.56" rx="1.12" ry="1.12" fill="#10e010"/><ellipse cx="197.02" cy="14.97" rx="1.28" ry="0.9" fill="#10e010"/><ellipse cx="181.4" cy="16.89" rx="1.02" ry="1.11" fill="#10e010"/><ellipse cx="191.23" cy="12.14" rx="0.94" ry="1.22" fill="#10e010"/><ellipse cx="191.57" cy="18.95" rx="1.57" ry="1.2" fill="#10e010"/><ellipse cx="184.02" cy="22.98" rx="1.5" ry="0.87" fill="#10e010"/><ellipse cx="188.1" cy="18.8" rx="0.99" ry="0.78" fill="#10e010"/><ellipse cx="185.21" cy="11.45" rx="1.08" ry="0.73" fill="#10e010"/><ellipse cx="193.94" cy="17.4" rx="1.35" ry="0.83" fill="#10e010"/><ellipse cx="156.09" cy="30.88" rx="1.4" ry="0.93" fill="#10e010"/><ellipse cx="161.97" cy="32.93" rx="0.94" ry="0.97" fill="#10e010"/><ellipse cx="158.96" cy="31.81" rx="1.7" ry="1.22" fill="#10e010"/><ellipse cx="156.66" cy="30.57" rx="1.02" ry="0.94" fill="#10e010"/><ellipse cx="160.6" cy="33.91" rx="1.22" ry="0.95" fill="#10e010"/><ellipse cx="161.93" cy="32.09" rx="1.97" ry="0.95" fill="#10e010"/><ellipse cx="155.94" cy="32.24" rx="1.43" ry="0.86" fill="#10e010"/><ellipse cx="158.24" cy="32.32" rx="1.31" ry="1.24" fill="#10e010"/><ellipse cx="161" cy="31.68" rx="1.45" ry="0.89" fill="#10e010"/><ellipse cx="159.58" cy="32.48" rx="1.76" ry="1.18" fill="#10e010"/><ellipse cx="129.67" cy="42.34" rx="1.75" ry="1.08" fill="#10e010"/><ellipse cx="130.2" cy="38.3" rx="1.3" ry="1.09" fill="#10e010"/><ellipse cx="131.57" cy="41.93" rx="1.75" ry="1.08" fill="#10e010"/><ellipse cx="130.82" cy="43.33" rx="1.61" ry="1.02" fill="#10e010"/><ellipse cx="134.51" cy="40.53" rx="1.18" ry="1.07" fill="#10e010"/><ellipse cx="128.34" cy="41.01" rx="1.61" ry="1.14" fill="#10e010"/><ellipse cx="130.29" cy="42.09" rx="1.71" ry="1.16" fill="#10e010"/><ellipse cx="129.72" cy="42.6" rx="1.86" ry="1.08" fill="#10e010"/><ellipse cx="136.35" cy="39.94" rx="1.47" ry="0.99" fill="#10e010"/><ellipse cx="133.93" cy="42.73" rx="1.93" ry="0.96" fill="#10e010"/><ellipse cx="130.81" cy="38.24" rx="1.7" ry="0.79" fill="#10e010"/><ellipse cx="132.51" cy="38.56" rx="1.63" ry="0.93" fill="#10e010"/><ellipse cx="82.02" cy="57.31" rx="1.6" ry="1.1" fill="#10e010"/><ellipse cx="86.11" cy="59.61" rx="1.39" ry="1.06" fill="#10e010"/><ellipse cx="85.96" cy="62.21" rx="1.59" ry="0.72" fill="#10e010"/><ellipse cx="83.92" cy="59.66" rx="0.96" ry="0.77" fill="#10e010"/><ellipse cx="84.77" cy="60.17" rx="1.11" ry="0.72" fill="#10e010"/><ellipse cx="83.07" cy="59.83" rx="1.57" ry="1.02" fill="#10e010"/><ellipse cx="85.6" cy="63.12" rx="0.9" ry="0.92" fill="#10e010"/><ellipse cx="84.78" cy="61.12" rx="1.03" ry="1.16" fill="#10e010"/><ellipse cx="85.05" cy="59.6" rx="1.57" ry="0.75" fill="#10e010"/><ellipse cx="83.33" cy="59.12" rx="1.54" ry="1.23" fill="#10e010"/><ellipse cx="86.21" cy="57.97" rx="1.79" ry="1.05" fill="#10e010"/><ellipse cx="84.64" cy="59.92" rx="1.56" ry="1.01" fill="#10e010"/><ellipse cx="90.57" cy="58.46" rx="1.57" ry="0.89" fill="#10e010"/><ellipse cx="85.2" cy="59.5" rx="1.02" ry="1.01" fill="#10e010"/><ellipse cx="84.59" cy="59.13" rx="1.59" ry="1.19" fill="#10e010"/><ellipse cx="83.44" cy="60.72" rx="1.15" ry="0.86" fill="#10e010"/><ellipse cx="94.76" cy="70.36" rx="1.96" ry="1.2" fill="#10e010"/><ellipse cx="92.94" cy="70.18" rx="1.98" ry="0.97" fill="#10e010"/><ellipse cx="92.75" cy="70.85" rx="1.98" ry="0.97" fill="#10e010"/><ellipse cx="93.26" cy="71.51" rx="1.03" ry="1.04" fill="#10e010"/><ellipse cx="92.75" cy="70.72" rx="1.76" ry="1.15" fill="#10e010"/><ellipse cx="95.25" cy="70.6" rx="1.2" ry="1.21" fill="#10e010"/><ellipse cx="93.75" cy="69.98" rx="1.19" ry="0.79" fill="#10e010"/><ellipse cx="94.51" cy="70.46" rx="1.57" ry="0.96" fill="#10e010"/><ellipse cx="41.27" cy="75.88" rx="1.72" ry="0.76" fill="#10e010"/><ellipse cx="43.51" cy="76.59" rx="1.49" ry="0.88" fill="#10e010"/><ellipse cx="42.52" cy="79.84" rx="1.41" ry="0.9" fill="#10e010"/><ellipse cx="43.29" cy="75.42" rx="0.94" ry="0.84" fill="#10e010"/><ellipse cx="38.33" cy="78.82" rx="1.88" ry="1" fill="#10e010"/><ellipse cx="47.86" cy="78.09" rx="1.37" ry="1.02" fill="#10e010"/><ellipse cx="42.46" cy="75.34" rx="1.43" ry="1.2" fill="#10e010"/><ellipse cx="41.71" cy="78.84" rx="1.84" ry="0.81" fill="#10e010"/><ellipse cx="42.03" cy="81" rx="0.97" ry="1.16" fill="#10e010"/><ellipse cx="42.55" cy="76.16" rx="1.21" ry="1.13" fill="#10e010"/><ellipse cx="44.09" cy="77.49" rx="1.43" ry="1" fill="#10e010"/><ellipse cx="41.5" cy="77.82" rx="1.07" ry="1.02" fill="#10e010"/><ellipse cx="43.55" cy="77.55" rx="1.15" ry="1.15" fill="#10e010"/><ellipse cx="44.39" cy="75.22" rx="0.93" ry="1.1" fill="#10e010"/><ellipse cx="49.09" cy="77.26" rx="1.67" ry="0.73" fill="#10e010"/><ellipse cx="44.09" cy="77.06" rx="1.61" ry="1.22" fill="#10e010"/><ellipse cx="73.32" cy="77.27" rx="1.22" ry="1.2" fill="#0a900a"/><ellipse cx="75.57" cy="79.79" rx="1.36" ry="0.79" fill="#0a900a"/><ellipse cx="73.32" cy="77.68" rx="1.02" ry="0.91" fill="#0a900a"/><ellipse cx="73.8" cy="77.9" rx="1.53" ry="1.11" fill="#0a900a"/><ellipse cx="74.06" cy="77.43" rx="1.37" ry="0.87" fill="#0a900a"/><ellipse cx="71.22" cy="76.64" rx="1.93" ry="0.91" fill="#0a900a"/><ellipse cx="77.27" cy="78.76" rx="1.07" ry="1.05" fill="#0a900a"/><ellipse cx="68.27" cy="77.67" rx="1.51" ry="1.04" fill="#0a900a"/><ellipse cx="73.24" cy="80.01" rx="1.18" ry="1.11" fill="#0a900a"/><ellipse cx="72.74" cy="77.74" rx="1.16" ry="0.9" fill="#0a900a"/><ellipse cx="73.41" cy="77.08" rx="1.68" ry="1.06" fill="#0a900a"/><ellipse cx="76.8" cy="79.17" rx="1" ry="0.77" fill="#0a900a"/><ellipse cx="72.36" cy="77.27" rx="1.86" ry="0.96" fill="#0a900a"/><ellipse cx="71.47" cy="80.67" rx="0.93" ry="1.1" fill="#0a900a"/><ellipse cx="74.32" cy="78" rx="1.95" ry="1.07" fill="#0a900a"/><ellipse cx="73.61" cy="78.26" rx="1.97" ry="1.07" fill="#0a900a"/><ellipse cx="112.13" cy="81.86" rx="1.59" ry="0.89" fill="#10e010"/><ellipse cx="112.02" cy="83.08" rx="1.58" ry="0.89" fill="#10e010"/><ellipse cx="111.51" cy="82.44" rx="1.81" ry="1.06" fill="#10e010"/><ellipse cx="112.45" cy="81.12" rx="1.84" ry="0.98" fill="#10e010"/><ellipse cx="110.08" cy="81.36" rx="1.71" ry="0.92" fill="#10e010"/><ellipse cx="112" cy="82.25" rx="1.12" ry="0.72" fill="#10e010"/><ellipse cx="113.3" cy="81.38" rx="1.74" ry="0.7" fill="#10e010"/><ellipse cx="108.58" cy="82.64" rx="1.58" ry="0.94" fill="#10e010"/><ellipse cx="111.53" cy="82.26" rx="1.07" ry="0.79" fill="#10e010"/><ellipse cx="110.87" cy="82.93" rx="1.87" ry="0.78" fill="#10e010"/><ellipse cx="145.28" cy="90.1" rx="1.08" ry="0.86" fill="#10e010"/><ellipse cx="145.44" cy="90.54" rx="0.94" ry="1.21" fill="#10e010"/><ellipse cx="143.32" cy="91" rx="1.66" ry="1.07" fill="#10e010"/><ellipse cx="142.41" cy="89.86" rx="1.03" ry="1.07" fill="#10e010"/><ellipse cx="144.77" cy="90.92" rx="1.7" ry="0.79" fill="#10e010"/><ellipse cx="145.32" cy="89.55" rx="1.15" ry="0.74" fill="#10e010"/><ellipse cx="142.84" cy="90.73" rx="1.3" ry="0.87" fill="#10e010"/><ellipse cx="144.44" cy="89.62" rx="1.71" ry="1.09" fill="#10e010"/><ellipse cx="99.17" cy="112.96" rx="1.64" ry="1.22" fill="#10e010"/><ellipse cx="97.39" cy="111.2" rx="1.97" ry="0.7" fill="#10e010"/><ellipse cx="101.93" cy="113.24" rx="1.35" ry="0.72" fill="#10e010"/><ellipse cx="94.26" cy="111.35" rx="1.47" ry="0.89" fill="#10e010"/><ellipse cx="98.87" cy="112.43" rx="1.89" ry="0.97" fill="#10e010"/><ellipse cx="98.83" cy="112.23" rx="1.17" ry="0.73" fill="#10e010"/><ellipse cx="98.38" cy="112.42" rx="1.18" ry="0.92" fill="#10e010"/><ellipse cx="98.52" cy="112.46" rx="0.94" ry="1.23" fill="#10e010"/><ellipse cx="99.6" cy="113.78" rx="1.34" ry="0.99" fill="#10e010"/><ellipse cx="99.85" cy="112.81" rx="1.02" ry="1" fill="#10e010"/><ellipse cx="101.02" cy="111.39" rx="1.84" ry="0.82" fill="#10e010"/><ellipse cx="101.07" cy="112.49" rx="1.44" ry="1.01" fill="#10e010"/><ellipse cx="17.95" cy="117.71" rx="1.7" ry="1.2" fill="#10e010"/><ellipse cx="19.27" cy="117.65" rx="1.81" ry="0.82" fill="#10e010"/><ellipse cx="21.07" cy="116.97" rx="1" ry="1.12" fill="#10e010"/><ellipse cx="20.61" cy="115.39" rx="1.04" ry="0.75" fill="#10e010"/><ellipse cx="20.01" cy="116.57" rx="1.37" ry="1.02" fill="#10e010"/><ellipse cx="20.01" cy="116.5" rx="1.67" ry="0.73" fill="#10e010"/><ellipse cx="20.41" cy="117.18" rx="1.31" ry="0.75" fill="#10e010"/><ellipse cx="18.73" cy="116.78" rx="1.73" ry="1.01" fill="#10e010"/><ellipse cx="22.39" cy="115.02" rx="1.74" ry="1.02" fill="#10e010"/><ellipse cx="16.49" cy="117.23" rx="1.62" ry="1.23" fill="#10e010"/><ellipse cx="19.56" cy="114.06" rx="1.19" ry="1.15" fill="#10e010"/><ellipse cx="19.56" cy="116.58" rx="0.97" ry="0.79" fill="#10e010"/><ellipse cx="36.6" cy="120.39" rx="1.21" ry="0.73" fill="#10e010"/><ellipse cx="36.98" cy="117.13" rx="0.93" ry="0.73" fill="#10e010"/><ellipse cx="37.73" cy="119.29" rx="1.85" ry="1.22" fill="#10e010"/><ellipse cx="36.13" cy="118.2" rx="1.37" ry="0.9" fill="#10e010"/><ellipse cx="36.78" cy="118.63" rx="1.54" ry="1.15" fill="#10e010"/><ellipse cx="36.75" cy="118.35" rx="1.48" ry="0.79" fill="#10e010"/><ellipse cx="36.37" cy="117.45" rx="1.93" ry="1.14" fill="#10e010"/><ellipse cx="37.69" cy="119.17" rx="1.91" ry="0.95" fill="#10e010"/><ellipse cx="35.27" cy="119.07" rx="1.74" ry="1.21" fill="#10e010"/><ellipse cx="33.2" cy="118.08" rx="1.56" ry="0.76" fill="#10e010"/><ellipse cx="117.41" cy="117.06" rx="0.96" ry="1.24" fill="#10e010"/><ellipse cx="118.65" cy="118.16" rx="1.43" ry="1.18" fill="#10e010"/><ellipse cx="116.38" cy="118.19" rx="1.2" ry="0.81" fill="#10e010"/><ellipse cx="115.88" cy="117.6" rx="1.73" ry="0.83" fill="#10e010"/><ellipse cx="116.44" cy="118.33" rx="1.98" ry="1.16" fill="#10e010"/><ellipse cx="118.03" cy="116.81" rx="1.34" ry="0.78" fill="#10e010"/><ellipse cx="117.65" cy="116.97" rx="0.94" ry="0.79" fill="#10e010"/><ellipse cx="118.71" cy="118.81" rx="1.89" ry="0.81" fill="#10e010"/><ellipse cx="25.64" cy="128.35" rx="1.65" ry="1.17" fill="#10e010"/><ellipse cx="21.81" cy="127.35" rx="1.31" ry="0.71" fill="#10e010"/><ellipse cx="21.74" cy="129.43" rx="1.1" ry="0.91" fill="#10e010"/><ellipse cx="25.04" cy="129.7" rx="1.24" ry="0.91" fill="#10e010"/><ellipse cx="21.1" cy="130.02" rx="1.34" ry="1.24" fill="#10e010"/><ellipse cx="27.23" cy="126.19" rx="1.66" ry="1.07" fill="#10e010"/><ellipse cx="20.63" cy="128.87" rx="1.3" ry="1.03" fill="#10e010"/><ellipse cx="23.81" cy="127.7" rx="1.21" ry="0.74" fill="#10e010"/><ellipse cx="26.85" cy="130.35" rx="1.54" ry="1.12" fill="#10e010"/><ellipse cx="24.71" cy="128.4" rx="1.92" ry="0.85" fill="#10e010"/><ellipse cx="25.01" cy="129.32" rx="1.73" ry="1.07" fill="#10e010"/><ellipse cx="30.07" cy="128.63" rx="1.66" ry="1.16" fill="#10e010"/><ellipse cx="24.85" cy="127.15" rx="1.13" ry="0.98" fill="#10e010"/><ellipse cx="26.19" cy="129.02" rx="1.97" ry="1" fill="#10e010"/><ellipse cx="25.09" cy="129.61" rx="1.33" ry="0.8" fill="#10e010"/><ellipse cx="22.14" cy="126.63" rx="1.9" ry="1.04" fill="#10e010"/><ellipse cx="44.72" cy="144.93" rx="1.66" ry="1" fill="#10e010"/><ellipse cx="44.73" cy="143.52" rx="1.88" ry="0.82" fill="#10e010"/><ellipse cx="44.68" cy="145.51" rx="1.58" ry="1.19" fill="#10e010"/><ellipse cx="46.54" cy="146.47" rx="1.74" ry="0.82" fill="#10e010"/><ellipse cx="47.5" cy="145.4" rx="1.81" ry="1.18" fill="#10e010"/><ellipse cx="44.84" cy="143.37" rx="1.37" ry="0.99" fill="#10e010"/><ellipse cx="46.25" cy="144.15" rx="1.21" ry="1.03" fill="#10e010"/><ellipse cx="45.94" cy="144.57" rx="0.93" ry="0.76" fill="#10e010"/><ellipse cx="42.54" cy="143.96" rx="1.1" ry="0.8" fill="#10e010"/><ellipse cx="42.64" cy="143.54" rx="1.66" ry="1.1" fill="#10e010"/><ellipse cx="47.17" cy="145.29" rx="1.82" ry="1.23" fill="#10e010"/><ellipse cx="43.47" cy="147.19" rx="1.61" ry="1.21" fill="#10e010"/><ellipse cx="87.18" cy="132.8" rx="1.82" ry="0.96" fill="#10e010"/><ellipse cx="87.38" cy="131.55" rx="1.07" ry="0.75" fill="#10e010"/><ellipse cx="88" cy="132.39" rx="1.02" ry="1.12" fill="#10e010"/><ellipse cx="86.68" cy="129.53" rx="1.78" ry="1.09" fill="#10e010"/><ellipse cx="89.54" cy="130.34" rx="1.59" ry="1.23" fill="#10e010"/><ellipse cx="87.15" cy="131.44" rx="0.97" ry="0.81" fill="#10e010"/><ellipse cx="85.9" cy="132.01" rx="1.65" ry="1.11" fill="#10e010"/><ellipse cx="87.98" cy="131.74" rx="1.5" ry="0.91" fill="#10e010"/><ellipse cx="56.78" cy="166.47" rx="1.31" ry="1.08" fill="#10e010"/><ellipse cx="51.45" cy="165.47" rx="1.94" ry="0.74" fill="#10e010"/><ellipse cx="55.27" cy="163.49" rx="1.23" ry="0.76" fill="#10e010"/><ellipse cx="53.77" cy="165.52" rx="1.71" ry="1.21" fill="#10e010"/><ellipse cx="54.29" cy="165.92" rx="1.45" ry="1.08" fill="#10e010"/><ellipse cx="55.63" cy="163.92" rx="1.23" ry="0.89" fill="#10e010"/><ellipse cx="56.24" cy="164.27" rx="0.96" ry="0.93" fill="#10e010"/><ellipse cx="55.29" cy="167.16" rx="0.98" ry="0.85" fill="#10e010"/><ellipse cx="56.59" cy="166.12" rx="1.98" ry="1" fill="#10e010"/><ellipse cx="52.42" cy="167.03" rx="1" ry="0.9" fill="#10e010"/><ellipse cx="110.31" cy="173.08" rx="1.74" ry="0.9" fill="#0a900a"/><ellipse cx="111.73" cy="173.2" rx="1.4" ry="0.91" fill="#0a900a"/><ellipse cx="110" cy="173.08" rx="1.14" ry="1.24" fill="#0a900a"/><ellipse cx="107.76" cy="173.77" rx="0.99" ry="0.85" fill="#0a900a"/><ellipse cx="114.09" cy="172.32" rx="1.46" ry="0.73" fill="#0a900a"/><ellipse cx="106.8" cy="175.06" rx="1.38" ry="1.03" fill="#0a900a"/><ellipse cx="113.33" cy="171.6" rx="1.6" ry="0.72" fill="#0a900a"/><ellipse cx="114.68" cy="173.56" rx="1.35" ry="1.18" fill="#0a900a"/><ellipse cx="112.71" cy="169.82" rx="1.32" ry="1.25" fill="#0a900a"/><ellipse cx="110.5" cy="169.51" rx="1.06" ry="1.13" fill="#0a900a"/><ellipse cx="105.37" cy="174.94" rx="1.99" ry="0.82" fill="#0a900a"/><ellipse cx="108.93" cy="173.62" rx="1.42" ry="0.86" fill="#0a900a"/><ellipse cx="109.94" cy="172.67" rx="1.09" ry="0.95" fill="#0a900a"/><ellipse cx="112.26" cy="173.79" rx="1.89" ry="1.19" fill="#0a900a"/><ellipse cx="110.34" cy="173.17" rx="1.81" ry="1.23" fill="#0a900a"/><ellipse cx="109.66" cy="172.78" rx="1.16" ry="1.21" fill="#0a900a"/><ellipse cx="112.01" cy="183.07" rx="1.1" ry="0.94" fill="#10e010"/><ellipse cx="111.6" cy="185.09" rx="1.31" ry="1.13" fill="#10e010"/><ellipse cx="113.04" cy="184.22" rx="1.97" ry="1.09" fill="#10e010"/><ellipse cx="112.26" cy="183.26" rx="1.61" ry="0.91" fill="#10e010"/><ellipse cx="110.67" cy="184.03" rx="1.54" ry="1.23" fill="#10e010"/><ellipse cx="112.02" cy="184.61" rx="1.19" ry="1" fill="#10e010"/><ellipse cx="111.84" cy="182.75" rx="1.43" ry="1.09" fill="#10e010"/><ellipse cx="114.82" cy="183.2" rx="1.36" ry="0.98" fill="#10e010"/><ellipse cx="109.59" cy="181.75" rx="0.96" ry="0.98" fill="#10e010"/><ellipse cx="113.32" cy="183.34" rx="1.28" ry="0.71" fill="#10e010"/><ellipse cx="97.99" cy="194.48" rx="1.62" ry="1.21" fill="#10e010"/><ellipse cx="96.93" cy="194.34" rx="1.68" ry="1.22" fill="#10e010"/><ellipse cx="102.92" cy="192.11" rx="1.23" ry="0.79" fill="#10e010"/><ellipse cx="98.92" cy="193" rx="1.39" ry="1.1" fill="#10e010"/><ellipse cx="96.84" cy="192.88" rx="1.92" ry="0.86" fill="#10e010"/><ellipse cx="94.98" cy="192.25" rx="1.05" ry="0.89" fill="#10e010"/><ellipse cx="96" cy="193.17" rx="1.13" ry="0.95" fill="#10e010"/><ellipse cx="98.98" cy="193.2" rx="1.28" ry="0.78" fill="#10e010"/><ellipse cx="99.79" cy="192.93" rx="1.2" ry="1.13" fill="#10e010"/><ellipse cx="98.53" cy="192.26" rx="1.81" ry="1.04" fill="#10e010"/><ellipse cx="96.39" cy="194.4" rx="1.17" ry="0.84" fill="#10e010"/><ellipse cx="100.04" cy="192.11" rx="1.89" ry="0.8" fill="#10e010"/><ellipse cx="117.03" cy="196.6" rx="1.71" ry="1.01" fill="#10e010"/><ellipse cx="117.06" cy="196.51" rx="1.81" ry="0.97" fill="#10e010"/><ellipse cx="117" cy="196.42" rx="1.55" ry="0.76" fill="#10e010"/><ellipse cx="116.48" cy="194.9" rx="1.57" ry="0.82" fill="#10e010"/><ellipse cx="117.3" cy="196.41" rx="0.97" ry="1.08" fill="#10e010"/><ellipse cx="117.11" cy="196.6" rx="1.41" ry="1.06" fill="#10e010"/><ellipse cx="119.03" cy="195.3" rx="0.98" ry="1.05" fill="#10e010"/><ellipse cx="117.15" cy="196.23" rx="1.73" ry="0.84" fill="#10e010"/><ellipse cx="116.9" cy="196.5" rx="1.73" ry="0.98" fill="#10e010"/><ellipse cx="118.34" cy="195.79" rx="1.07" ry="0.82" fill="#10e010"/><ellipse cx="1.45" cy="109.95" rx="1.13" ry="0.75" fill="#10e010"/><ellipse cx="1.55" cy="108.04" rx="1.37" ry="1.04" fill="#10e010"/><ellipse cx="1.38" cy="107.59" rx="1.05" ry="0.97" fill="#10e010"/><ellipse cx="1.17" cy="107" rx="1.53" ry="1.2" fill="#10e010"/><ellipse cx="2.21" cy="108.36" rx="1.44" ry="0.99" fill="#10e010"/><ellipse cx="3.1" cy="107.19" rx="1.63" ry="0.93" fill="#10e010"/><ellipse cx="2.25" cy="106.13" rx="1.22" ry="0.76" fill="#10e010"/><ellipse cx="1.64" cy="108.68" rx="1.88" ry="0.85" fill="#10e010"/></g></g></g><rect x="184" y="200.4" width="9" height="0.8" fill="#bbb" stroke="none" stroke-width="0"/></svg><svg x="555.4" y="2072.5" width="205.3" height="205" viewBox="0 0 205 205" preserveAspectRatio="none"><g style="isolation:isolate"><rect width="205" height="205" fill="#000"/><g style="mix-blend-mode:screen"><ellipse cx="139.7" cy="6" rx="18" ry="13" fill="none" stroke="#ff0000" stroke-width="5" opacity="0.28" filter="url(#tex)"/><ellipse cx="139.7" cy="6" rx="16.6" ry="11.6" fill="none" stroke="rgb(178,0,0)" stroke-width="1.7" filter="url(#g08)"/><ellipse cx="125.08" cy="-0.87" rx="6.75" ry="2.2" fill="#e00000" opacity="0.56" filter="url(#g12)"/><ellipse cx="171.4" cy="4.3" rx="16.4" ry="10.4" fill="none" stroke="#ff0000" stroke-width="5" opacity="0.28" filter="url(#tex)"/><ellipse cx="171.4" cy="4.3" rx="15" ry="9" fill="none" stroke="rgb(178,0,0)" stroke-width="1.7" filter="url(#g08)"/><ellipse cx="160.52" cy="11.52" rx="6.03" ry="2.2" fill="#e00000" opacity="0.56" filter="url(#g12)"/><ellipse cx="187.1" cy="17.7" rx="15.4" ry="14.7" fill="none" stroke="#ff0000" stroke-width="5" opacity="0.4" filter="url(#tex)"/><ellipse cx="187.1" cy="17.7" rx="14" ry="13.3" fill="none" stroke="rgb(255,0,0)" stroke-width="1.7" filter="url(#g08)"/><ellipse cx="176.61" cy="7.61" rx="5.58" ry="2.2" fill="#e00000" opacity="0.8" filter="url(#g12)"/><ellipse cx="165.4" cy="38.8" rx="14" ry="15.7" fill="none" stroke="#ff0000" stroke-width="5" opacity="0.22" filter="url(#tex)" transform="rotate(-20 165.4 38.8)"/><ellipse cx="165.4" cy="38.8" rx="12.6" ry="14.3" fill="none" stroke="rgb(140,0,0)" stroke-width="1.7" filter="url(#g08)" transform="rotate(-20 165.4 38.8)"/><ellipse cx="154.76" cy="29.44" rx="4.95" ry="2.2" fill="#e00000" opacity="0.44" filter="url(#g12)"/><ellipse cx="139.7" cy="46.1" rx="13" ry="16.4" fill="none" stroke="#ff0000" stroke-width="5" opacity="0.4" filter="url(#tex)" transform="rotate(20 139.7 46.1)"/><ellipse cx="139.7" cy="46.1" rx="11.6" ry="15" fill="none" stroke="rgb(255,0,0)" stroke-width="1.7" filter="url(#g08)" transform="rotate(20 139.7 46.1)"/><ellipse cx="138.97" cy="61.97" rx="4.5" ry="2.2" fill="#e00000" opacity="0.8" filter="url(#g12)"/><ellipse cx="80.5" cy="51.8" rx="13.7" ry="13" fill="none" stroke="#ff0000" stroke-width="5" opacity="0.28" filter="url(#tex)"/><ellipse cx="80.5" cy="51.8" rx="12.3" ry="11.6" fill="none" stroke="rgb(178,0,0)" stroke-width="1.7" filter="url(#g08)"/><ellipse cx="85.22" cy="63.47" rx="4.81" ry="2.2" fill="#e00000" opacity="0.56" filter="url(#g12)"/><ellipse cx="117.9" cy="56.1" rx="13" ry="14.7" fill="none" stroke="#ff0000" stroke-width="5" opacity="0.4" filter="url(#tex)" transform="rotate(20 117.9 56.1)"/><ellipse cx="117.9" cy="56.1" rx="11.6" ry="13.3" fill="none" stroke="rgb(255,0,0)" stroke-width="1.7" filter="url(#g08)" transform="rotate(20 117.9 56.1)"/><ellipse cx="105.81" cy="52.49" rx="4.5" ry="2.2" fill="#e00000" opacity="0.8" filter="url(#g12)"/><ellipse cx="73.5" cy="72.8" rx="13" ry="12.4" fill="none" stroke="#ff0000" stroke-width="5" opacity="0.4" filter="url(#tex)"/><ellipse cx="73.5" cy="72.8" rx="11.6" ry="11" fill="none" stroke="rgb(255,0,0)" stroke-width="1.7" filter="url(#g08)"/><ellipse cx="63.52" cy="79.97" rx="4.5" ry="2.2" fill="#e00000" opacity="0.8" filter="url(#g12)"/><ellipse cx="94.6" cy="80.5" rx="14.7" ry="12.6" fill="none" stroke="#ff0000" stroke-width="5" opacity="0.28" filter="url(#tex)" transform="rotate(-25 94.6 80.5)"/><ellipse cx="94.6" cy="80.5" rx="13.3" ry="11.2" fill="none" stroke="rgb(178,0,0)" stroke-width="1.7" filter="url(#g08)" transform="rotate(-25 94.6 80.5)"/><ellipse cx="96.21" cy="92.52" rx="5.26" ry="2.2" fill="#e00000" opacity="0.56" filter="url(#g12)"/><ellipse cx="37.8" cy="89.5" rx="24.7" ry="18" fill="none" stroke="#ff0000" stroke-width="5" opacity="0.28" filter="url(#tex)" transform="rotate(15 37.8 89.5)"/><ellipse cx="37.8" cy="89.5" rx="23.3" ry="16.6" fill="none" stroke="rgb(178,0,0)" stroke-width="1.7" filter="url(#g08)" transform="rotate(15 37.8 89.5)"/><ellipse cx="54.15" cy="76.59" rx="9.77" ry="2.2" fill="#e00000" opacity="0.56" filter="url(#g12)"/><ellipse cx="114.6" cy="94.6" rx="14.7" ry="14" fill="none" stroke="#ff0000" stroke-width="5" opacity="0.4" filter="url(#tex)"/><ellipse cx="114.6" cy="94.6" rx="13.3" ry="12.6" fill="none" stroke="rgb(255,0,0)" stroke-width="1.7" filter="url(#g08)"/><ellipse cx="113.82" cy="81.12" rx="5.26" ry="2.2" fill="#e00000" opacity="0.8" filter="url(#g12)"/><ellipse cx="139.7" cy="96.2" rx="15.7" ry="16.4" fill="none" stroke="#ff0000" stroke-width="5" opacity="0.22" filter="url(#tex)"/><ellipse cx="139.7" cy="96.2" rx="14.3" ry="15" fill="none" stroke="rgb(140,0,0)" stroke-width="1.7" filter="url(#g08)"/><ellipse cx="147.89" cy="109.59" rx="5.71" ry="2.2" fill="#e00000" opacity="0.44" filter="url(#g12)"/><ellipse cx="6" cy="96.2" rx="14.7" ry="14.7" fill="none" stroke="#ff0000" stroke-width="5" opacity="0.22" filter="url(#tex)"/><ellipse cx="6" cy="96.2" rx="13.3" ry="13.3" fill="none" stroke="rgb(140,0,0)" stroke-width="1.7" filter="url(#g08)"/><ellipse cx="1.51" cy="109.67" rx="5.26" ry="2.2" fill="#e00000" opacity="0.44" filter="url(#g12)"/><ellipse cx="22.7" cy="107.9" rx="14.7" ry="12.4" fill="none" stroke="#ff0000" stroke-width="5" opacity="0.22" filter="url(#tex)"/><ellipse cx="22.7" cy="107.9" rx="13.3" ry="11" fill="none" stroke="rgb(140,0,0)" stroke-width="1.7" filter="url(#g08)"/><ellipse cx="29.03" cy="97.25" rx="5.26" ry="2.2" fill="#e00000" opacity="0.44" filter="url(#g12)"/><ellipse cx="92.9" cy="113.9" rx="12.6" ry="17" fill="none" stroke="#ff0000" stroke-width="5" opacity="0.34" filter="url(#tex)" transform="rotate(-15 92.9 113.9)"/><ellipse cx="92.9" cy="113.9" rx="11.2" ry="15.6" fill="none" stroke="rgb(216,0,0)" stroke-width="1.7" filter="url(#g08)" transform="rotate(-15 92.9 113.9)"/><ellipse cx="80.98" cy="116.71" rx="4.32" ry="2.2" fill="#e00000" opacity="0.68" filter="url(#g12)"/><ellipse cx="47.8" cy="118.6" rx="13" ry="12" fill="none" stroke="#ff0000" stroke-width="5" opacity="0.4" filter="url(#tex)"/><ellipse cx="47.8" cy="118.6" rx="11.6" ry="10.6" fill="none" stroke="rgb(255,0,0)" stroke-width="1.7" filter="url(#g08)"/><ellipse cx="45" cy="107.39" rx="4.5" ry="2.2" fill="#e00000" opacity="0.8" filter="url(#g12)"/><ellipse cx="115.3" cy="130.3" rx="15.7" ry="13.7" fill="none" stroke="#ff0000" stroke-width="5" opacity="0.4" filter="url(#tex)" transform="rotate(15 115.3 130.3)"/><ellipse cx="115.3" cy="130.3" rx="14.3" ry="12.3" fill="none" stroke="rgb(255,0,0)" stroke-width="1.7" filter="url(#g08)" transform="rotate(15 115.3 130.3)"/><ellipse cx="103.29" cy="138.39" rx="5.71" ry="2.2" fill="#e00000" opacity="0.8" filter="url(#g12)"/><ellipse cx="26" cy="138.7" rx="12" ry="13" fill="none" stroke="#ff0000" stroke-width="5" opacity="0.4" filter="url(#tex)"/><ellipse cx="26" cy="138.7" rx="10.6" ry="11.6" fill="none" stroke="rgb(255,0,0)" stroke-width="1.7" filter="url(#g08)"/><ellipse cx="37.21" cy="135.9" rx="4.05" ry="2.2" fill="#e00000" opacity="0.8" filter="url(#g12)"/><ellipse cx="50.1" cy="137.3" rx="15.4" ry="12.4" fill="none" stroke="#ff0000" stroke-width="5" opacity="0.28" filter="url(#tex)"/><ellipse cx="50.1" cy="137.3" rx="14" ry="11" fill="none" stroke="rgb(178,0,0)" stroke-width="1.7" filter="url(#g08)"/><ellipse cx="60.89" cy="129.09" rx="5.58" ry="2.2" fill="#e00000" opacity="0.56" filter="url(#g12)"/><ellipse cx="88.9" cy="138" rx="14.7" ry="12.4" fill="none" stroke="#ff0000" stroke-width="5" opacity="0.22" filter="url(#tex)"/><ellipse cx="88.9" cy="138" rx="13.3" ry="11" fill="none" stroke="rgb(140,0,0)" stroke-width="1.7" filter="url(#g08)"/><ellipse cx="102.74" cy="140.66" rx="5.26" ry="2.2" fill="#e00000" opacity="0.44" filter="url(#g12)"/><ellipse cx="51.1" cy="152" rx="10.4" ry="9.7" fill="none" stroke="#ff0000" stroke-width="5" opacity="0.4" filter="url(#tex)"/><ellipse cx="51.1" cy="152" rx="9" ry="8.3" fill="none" stroke="rgb(255,0,0)" stroke-width="1.7" filter="url(#g08)"/><ellipse cx="53.14" cy="161" rx="3.33" ry="2.2" fill="#e00000" opacity="0.8" filter="url(#g12)"/><ellipse cx="63.8" cy="169.7" rx="17" ry="15.6" fill="none" stroke="#ff0000" stroke-width="5" opacity="0.4" filter="url(#tex)" transform="rotate(-30 63.8 169.7)"/><ellipse cx="63.8" cy="169.7" rx="15.6" ry="14.2" fill="none" stroke="rgb(255,0,0)" stroke-width="1.7" filter="url(#g08)" transform="rotate(-30 63.8 169.7)"/><ellipse cx="66.78" cy="154.85" rx="6.3" ry="2.2" fill="#e00000" opacity="0.8" filter="url(#g12)"/><ellipse cx="149.7" cy="162.4" rx="18" ry="11.6" fill="none" stroke="#ff0000" stroke-width="5" opacity="0.34" filter="url(#tex)" transform="rotate(20 149.7 162.4)"/><ellipse cx="149.7" cy="162.4" rx="16.6" ry="10.2" fill="none" stroke="rgb(216,0,0)" stroke-width="1.7" filter="url(#g08)" transform="rotate(20 149.7 162.4)"/><ellipse cx="134.3" cy="167.68" rx="6.75" ry="2.2" fill="#e00000" opacity="0.68" filter="url(#g12)"/><ellipse cx="107.9" cy="170.4" rx="12.4" ry="14.7" fill="none" stroke="#ff0000" stroke-width="5" opacity="0.4" filter="url(#tex)"/><ellipse cx="107.9" cy="170.4" rx="11" ry="13.3" fill="none" stroke="rgb(255,0,0)" stroke-width="1.7" filter="url(#g08)"/><ellipse cx="97.26" cy="164.03" rx="4.23" ry="2.2" fill="#e00000" opacity="0.8" filter="url(#g12)"/><ellipse cx="134.6" cy="175.7" rx="17" ry="15.4" fill="none" stroke="#ff0000" stroke-width="5" opacity="0.4" filter="url(#tex)"/><ellipse cx="134.6" cy="175.7" rx="15.6" ry="14" fill="none" stroke="rgb(255,0,0)" stroke-width="1.7" filter="url(#g08)"/><ellipse cx="120.36" cy="168.18" rx="6.3" ry="2.2" fill="#e00000" opacity="0.8" filter="url(#g12)"/><ellipse cx="114.6" cy="191.4" rx="13" ry="12" fill="none" stroke="#ff0000" stroke-width="5" opacity="0.34" filter="url(#tex)"/><ellipse cx="114.6" cy="191.4" rx="11.6" ry="10.6" fill="none" stroke="rgb(216,0,0)" stroke-width="1.7" filter="url(#g08)"/><ellipse cx="109.42" cy="180.93" rx="4.5" ry="2.2" fill="#e00000" opacity="0.68" filter="url(#g12)"/><ellipse cx="93.9" cy="198.1" rx="13" ry="9.7" fill="none" stroke="#ff0000" stroke-width="5" opacity="0.22" filter="url(#tex)"/><ellipse cx="93.9" cy="198.1" rx="11.6" ry="8.3" fill="none" stroke="rgb(140,0,0)" stroke-width="1.7" filter="url(#g08)"/><ellipse cx="101.65" cy="190.88" rx="4.5" ry="2.2" fill="#e00000" opacity="0.44" filter="url(#g12)"/><ellipse cx="203" cy="72" rx="6.3" ry="11.4" fill="none" stroke="#ff0000" stroke-width="5" opacity="0.28" filter="url(#tex)"/><ellipse cx="203" cy="72" rx="4.9" ry="10" fill="none" stroke="rgb(178,0,0)" stroke-width="1.7" filter="url(#g08)"/><ellipse cx="201.16" cy="61.66" rx="1.48" ry="2.2" fill="#e00000" opacity="0.56" filter="url(#g12)"/></g></g><rect x="184" y="200.4" width="9" height="0.8" fill="#bbb" stroke="none" stroke-width="0"/></svg><svg x="768.4" y="2072.5" width="205.4" height="205" viewBox="0 0 205 205" preserveAspectRatio="none"><g style="isolation:isolate"><rect width="205" height="205" fill="#000"/><g style="mix-blend-mode:screen"><ellipse cx="139.7" cy="6" rx="18" ry="13" fill="none" stroke="#ff0000" stroke-width="5" opacity="0.28" filter="url(#tex)"/><ellipse cx="139.7" cy="6" rx="16.6" ry="11.6" fill="none" stroke="rgb(178,0,0)" stroke-width="1.7" filter="url(#g08)"/><ellipse cx="125.08" cy="-0.87" rx="6.75" ry="2.2" fill="#e00000" opacity="0.56" filter="url(#g12)"/><ellipse cx="171.4" cy="4.3" rx="16.4" ry="10.4" fill="none" stroke="#ff0000" stroke-width="5" opacity="0.28" filter="url(#tex)"/><ellipse cx="171.4" cy="4.3" rx="15" ry="9" fill="none" stroke="rgb(178,0,0)" stroke-width="1.7" filter="url(#g08)"/><ellipse cx="160.52" cy="11.52" rx="6.03" ry="2.2" fill="#e00000" opacity="0.56" filter="url(#g12)"/><ellipse cx="187.1" cy="17.7" rx="15.4" ry="14.7" fill="none" stroke="#ff0000" stroke-width="5" opacity="0.4" filter="url(#tex)"/><ellipse cx="187.1" cy="17.7" rx="14" ry="13.3" fill="none" stroke="rgb(255,0,0)" stroke-width="1.7" filter="url(#g08)"/><ellipse cx="176.61" cy="7.61" rx="5.58" ry="2.2" fill="#e00000" opacity="0.8" filter="url(#g12)"/><ellipse cx="165.4" cy="38.8" rx="14" ry="15.7" fill="none" stroke="#ff0000" stroke-width="5" opacity="0.22" filter="url(#tex)" transform="rotate(-20 165.4 38.8)"/><ellipse cx="165.4" cy="38.8" rx="12.6" ry="14.3" fill="none" stroke="rgb(140,0,0)" stroke-width="1.7" filter="url(#g08)" transform="rotate(-20 165.4 38.8)"/><ellipse cx="154.76" cy="29.44" rx="4.95" ry="2.2" fill="#e00000" opacity="0.44" filter="url(#g12)"/><ellipse cx="139.7" cy="46.1" rx="13" ry="16.4" fill="none" stroke="#ff0000" stroke-width="5" opacity="0.4" filter="url(#tex)" transform="rotate(20 139.7 46.1)"/><ellipse cx="139.7" cy="46.1" rx="11.6" ry="15" fill="none" stroke="rgb(255,0,0)" stroke-width="1.7" filter="url(#g08)" transform="rotate(20 139.7 46.1)"/><ellipse cx="138.97" cy="61.97" rx="4.5" ry="2.2" fill="#e00000" opacity="0.8" filter="url(#g12)"/><ellipse cx="80.5" cy="51.8" rx="13.7" ry="13" fill="none" stroke="#ff0000" stroke-width="5" opacity="0.28" filter="url(#tex)"/><ellipse cx="80.5" cy="51.8" rx="12.3" ry="11.6" fill="none" stroke="rgb(178,0,0)" stroke-width="1.7" filter="url(#g08)"/><ellipse cx="85.22" cy="63.47" rx="4.81" ry="2.2" fill="#e00000" opacity="0.56" filter="url(#g12)"/><ellipse cx="117.9" cy="56.1" rx="13" ry="14.7" fill="none" stroke="#ff0000" stroke-width="5" opacity="0.4" filter="url(#tex)" transform="rotate(20 117.9 56.1)"/><ellipse cx="117.9" cy="56.1" rx="11.6" ry="13.3" fill="none" stroke="rgb(255,0,0)" stroke-width="1.7" filter="url(#g08)" transform="rotate(20 117.9 56.1)"/><ellipse cx="105.81" cy="52.49" rx="4.5" ry="2.2" fill="#e00000" opacity="0.8" filter="url(#g12)"/><ellipse cx="73.5" cy="72.8" rx="13" ry="12.4" fill="none" stroke="#ff0000" stroke-width="5" opacity="0.4" filter="url(#tex)"/><ellipse cx="73.5" cy="72.8" rx="11.6" ry="11" fill="none" stroke="rgb(255,0,0)" stroke-width="1.7" filter="url(#g08)"/><ellipse cx="63.52" cy="79.97" rx="4.5" ry="2.2" fill="#e00000" opacity="0.8" filter="url(#g12)"/><ellipse cx="94.6" cy="80.5" rx="14.7" ry="12.6" fill="none" stroke="#ff0000" stroke-width="5" opacity="0.28" filter="url(#tex)" transform="rotate(-25 94.6 80.5)"/><ellipse cx="94.6" cy="80.5" rx="13.3" ry="11.2" fill="none" stroke="rgb(178,0,0)" stroke-width="1.7" filter="url(#g08)" transform="rotate(-25 94.6 80.5)"/><ellipse cx="96.21" cy="92.52" rx="5.26" ry="2.2" fill="#e00000" opacity="0.56" filter="url(#g12)"/><ellipse cx="37.8" cy="89.5" rx="24.7" ry="18" fill="none" stroke="#ff0000" stroke-width="5" opacity="0.28" filter="url(#tex)" transform="rotate(15 37.8 89.5)"/><ellipse cx="37.8" cy="89.5" rx="23.3" ry="16.6" fill="none" stroke="rgb(178,0,0)" stroke-width="1.7" filter="url(#g08)" transform="rotate(15 37.8 89.5)"/><ellipse cx="54.15" cy="76.59" rx="9.77" ry="2.2" fill="#e00000" opacity="0.56" filter="url(#g12)"/><ellipse cx="114.6" cy="94.6" rx="14.7" ry="14" fill="none" stroke="#ff0000" stroke-width="5" opacity="0.4" filter="url(#tex)"/><ellipse cx="114.6" cy="94.6" rx="13.3" ry="12.6" fill="none" stroke="rgb(255,0,0)" stroke-width="1.7" filter="url(#g08)"/><ellipse cx="113.82" cy="81.12" rx="5.26" ry="2.2" fill="#e00000" opacity="0.8" filter="url(#g12)"/><ellipse cx="139.7" cy="96.2" rx="15.7" ry="16.4" fill="none" stroke="#ff0000" stroke-width="5" opacity="0.22" filter="url(#tex)"/><ellipse cx="139.7" cy="96.2" rx="14.3" ry="15" fill="none" stroke="rgb(140,0,0)" stroke-width="1.7" filter="url(#g08)"/><ellipse cx="147.89" cy="109.59" rx="5.71" ry="2.2" fill="#e00000" opacity="0.44" filter="url(#g12)"/><ellipse cx="6" cy="96.2" rx="14.7" ry="14.7" fill="none" stroke="#ff0000" stroke-width="5" opacity="0.22" filter="url(#tex)"/><ellipse cx="6" cy="96.2" rx="13.3" ry="13.3" fill="none" stroke="rgb(140,0,0)" stroke-width="1.7" filter="url(#g08)"/><ellipse cx="1.51" cy="109.67" rx="5.26" ry="2.2" fill="#e00000" opacity="0.44" filter="url(#g12)"/><ellipse cx="22.7" cy="107.9" rx="14.7" ry="12.4" fill="none" stroke="#ff0000" stroke-width="5" opacity="0.22" filter="url(#tex)"/><ellipse cx="22.7" cy="107.9" rx="13.3" ry="11" fill="none" stroke="rgb(140,0,0)" stroke-width="1.7" filter="url(#g08)"/><ellipse cx="29.03" cy="97.25" rx="5.26" ry="2.2" fill="#e00000" opacity="0.44" filter="url(#g12)"/><ellipse cx="92.9" cy="113.9" rx="12.6" ry="17" fill="none" stroke="#ff0000" stroke-width="5" opacity="0.34" filter="url(#tex)" transform="rotate(-15 92.9 113.9)"/><ellipse cx="92.9" cy="113.9" rx="11.2" ry="15.6" fill="none" stroke="rgb(216,0,0)" stroke-width="1.7" filter="url(#g08)" transform="rotate(-15 92.9 113.9)"/><ellipse cx="80.98" cy="116.71" rx="4.32" ry="2.2" fill="#e00000" opacity="0.68" filter="url(#g12)"/><ellipse cx="47.8" cy="118.6" rx="13" ry="12" fill="none" stroke="#ff0000" stroke-width="5" opacity="0.4" filter="url(#tex)"/><ellipse cx="47.8" cy="118.6" rx="11.6" ry="10.6" fill="none" stroke="rgb(255,0,0)" stroke-width="1.7" filter="url(#g08)"/><ellipse cx="45" cy="107.39" rx="4.5" ry="2.2" fill="#e00000" opacity="0.8" filter="url(#g12)"/><ellipse cx="115.3" cy="130.3" rx="15.7" ry="13.7" fill="none" stroke="#ff0000" stroke-width="5" opacity="0.4" filter="url(#tex)" transform="rotate(15 115.3 130.3)"/><ellipse cx="115.3" cy="130.3" rx="14.3" ry="12.3" fill="none" stroke="rgb(255,0,0)" stroke-width="1.7" filter="url(#g08)" transform="rotate(15 115.3 130.3)"/><ellipse cx="103.29" cy="138.39" rx="5.71" ry="2.2" fill="#e00000" opacity="0.8" filter="url(#g12)"/><ellipse cx="26" cy="138.7" rx="12" ry="13" fill="none" stroke="#ff0000" stroke-width="5" opacity="0.4" filter="url(#tex)"/><ellipse cx="26" cy="138.7" rx="10.6" ry="11.6" fill="none" stroke="rgb(255,0,0)" stroke-width="1.7" filter="url(#g08)"/><ellipse cx="37.21" cy="135.9" rx="4.05" ry="2.2" fill="#e00000" opacity="0.8" filter="url(#g12)"/><ellipse cx="50.1" cy="137.3" rx="15.4" ry="12.4" fill="none" stroke="#ff0000" stroke-width="5" opacity="0.28" filter="url(#tex)"/><ellipse cx="50.1" cy="137.3" rx="14" ry="11" fill="none" stroke="rgb(178,0,0)" stroke-width="1.7" filter="url(#g08)"/><ellipse cx="60.89" cy="129.09" rx="5.58" ry="2.2" fill="#e00000" opacity="0.56" filter="url(#g12)"/><ellipse cx="88.9" cy="138" rx="14.7" ry="12.4" fill="none" stroke="#ff0000" stroke-width="5" opacity="0.22" filter="url(#tex)"/><ellipse cx="88.9" cy="138" rx="13.3" ry="11" fill="none" stroke="rgb(140,0,0)" stroke-width="1.7" filter="url(#g08)"/><ellipse cx="102.74" cy="140.66" rx="5.26" ry="2.2" fill="#e00000" opacity="0.44" filter="url(#g12)"/><ellipse cx="51.1" cy="152" rx="10.4" ry="9.7" fill="none" stroke="#ff0000" stroke-width="5" opacity="0.4" filter="url(#tex)"/><ellipse cx="51.1" cy="152" rx="9" ry="8.3" fill="none" stroke="rgb(255,0,0)" stroke-width="1.7" filter="url(#g08)"/><ellipse cx="53.14" cy="161" rx="3.33" ry="2.2" fill="#e00000" opacity="0.8" filter="url(#g12)"/><ellipse cx="63.8" cy="169.7" rx="17" ry="15.6" fill="none" stroke="#ff0000" stroke-width="5" opacity="0.4" filter="url(#tex)" transform="rotate(-30 63.8 169.7)"/><ellipse cx="63.8" cy="169.7" rx="15.6" ry="14.2" fill="none" stroke="rgb(255,0,0)" stroke-width="1.7" filter="url(#g08)" transform="rotate(-30 63.8 169.7)"/><ellipse cx="66.78" cy="154.85" rx="6.3" ry="2.2" fill="#e00000" opacity="0.8" filter="url(#g12)"/><ellipse cx="149.7" cy="162.4" rx="18" ry="11.6" fill="none" stroke="#ff0000" stroke-width="5" opacity="0.34" filter="url(#tex)" transform="rotate(20 149.7 162.4)"/><ellipse cx="149.7" cy="162.4" rx="16.6" ry="10.2" fill="none" stroke="rgb(216,0,0)" stroke-width="1.7" filter="url(#g08)" transform="rotate(20 149.7 162.4)"/><ellipse cx="134.3" cy="167.68" rx="6.75" ry="2.2" fill="#e00000" opacity="0.68" filter="url(#g12)"/><ellipse cx="107.9" cy="170.4" rx="12.4" ry="14.7" fill="none" stroke="#ff0000" stroke-width="5" opacity="0.4" filter="url(#tex)"/><ellipse cx="107.9" cy="170.4" rx="11" ry="13.3" fill="none" stroke="rgb(255,0,0)" stroke-width="1.7" filter="url(#g08)"/><ellipse cx="97.26" cy="164.03" rx="4.23" ry="2.2" fill="#e00000" opacity="0.8" filter="url(#g12)"/><ellipse cx="134.6" cy="175.7" rx="17" ry="15.4" fill="none" stroke="#ff0000" stroke-width="5" opacity="0.4" filter="url(#tex)"/><ellipse cx="134.6" cy="175.7" rx="15.6" ry="14" fill="none" stroke="rgb(255,0,0)" stroke-width="1.7" filter="url(#g08)"/><ellipse cx="120.36" cy="168.18" rx="6.3" ry="2.2" fill="#e00000" opacity="0.8" filter="url(#g12)"/><ellipse cx="114.6" cy="191.4" rx="13" ry="12" fill="none" stroke="#ff0000" stroke-width="5" opacity="0.34" filter="url(#tex)"/><ellipse cx="114.6" cy="191.4" rx="11.6" ry="10.6" fill="none" stroke="rgb(216,0,0)" stroke-width="1.7" filter="url(#g08)"/><ellipse cx="109.42" cy="180.93" rx="4.5" ry="2.2" fill="#e00000" opacity="0.68" filter="url(#g12)"/><ellipse cx="93.9" cy="198.1" rx="13" ry="9.7" fill="none" stroke="#ff0000" stroke-width="5" opacity="0.22" filter="url(#tex)"/><ellipse cx="93.9" cy="198.1" rx="11.6" ry="8.3" fill="none" stroke="rgb(140,0,0)" stroke-width="1.7" filter="url(#g08)"/><ellipse cx="101.65" cy="190.88" rx="4.5" ry="2.2" fill="#e00000" opacity="0.44" filter="url(#g12)"/><ellipse cx="203" cy="72" rx="6.3" ry="11.4" fill="none" stroke="#ff0000" stroke-width="5" opacity="0.28" filter="url(#tex)"/><ellipse cx="203" cy="72" rx="4.9" ry="10" fill="none" stroke="rgb(178,0,0)" stroke-width="1.7" filter="url(#g08)"/><ellipse cx="201.16" cy="61.66" rx="1.48" ry="2.2" fill="#e00000" opacity="0.56" filter="url(#g12)"/></g><g style="mix-blend-mode:screen"><circle cx="85" cy="60" r="13" fill="#00a000" opacity="0.14" filter="url(#g3)"/><circle cx="85" cy="60" r="13" fill="#00e000" opacity="0.14" filter="url(#texfine)"/><circle cx="45" cy="80" r="12" fill="#00a000" opacity="0.12" filter="url(#g3)"/><circle cx="45" cy="80" r="12" fill="#00e000" opacity="0.11" filter="url(#texfine)"/><circle cx="75" cy="78" r="12" fill="#00a000" opacity="0.16" filter="url(#g3)"/><circle cx="75" cy="78" r="12" fill="#00e000" opacity="0.15" filter="url(#texfine)"/><circle cx="25" cy="125" r="14" fill="#00a000" opacity="0.12" filter="url(#g3)"/><circle cx="25" cy="125" r="14" fill="#00e000" opacity="0.11" filter="url(#texfine)"/><circle cx="110" cy="175" r="13" fill="#00a000" opacity="0.2" filter="url(#g3)"/><circle cx="110" cy="175" r="13" fill="#00e000" opacity="0.19" filter="url(#texfine)"/><circle cx="190" cy="15" r="12" fill="#00a000" opacity="0.16" filter="url(#g3)"/><circle cx="190" cy="15" r="12" fill="#00e000" opacity="0.15" filter="url(#texfine)"/><circle cx="130" cy="45" r="12" fill="#00a000" opacity="0.12" filter="url(#g3)"/><circle cx="130" cy="45" r="12" fill="#00e000" opacity="0.11" filter="url(#texfine)"/><circle cx="100" cy="115" r="12" fill="#00a000" opacity="0.12" filter="url(#g3)"/><circle cx="100" cy="115" r="12" fill="#00e000" opacity="0.11" filter="url(#texfine)"/><g filter="url(#g05)"><ellipse cx="183.67" cy="14.2" rx="1.77" ry="1.22" fill="#10e010"/><ellipse cx="188.23" cy="11.48" rx="0.93" ry="0.96" fill="#10e010"/><ellipse cx="194.68" cy="16.17" rx="1.89" ry="0.76" fill="#10e010"/><ellipse cx="186.46" cy="18.02" rx="1.5" ry="1.02" fill="#10e010"/><ellipse cx="190.89" cy="17.82" rx="1.21" ry="1.2" fill="#10e010"/><ellipse cx="188.95" cy="16.63" rx="1.78" ry="0.78" fill="#10e010"/><ellipse cx="187.89" cy="17.12" rx="0.9" ry="1.18" fill="#10e010"/><ellipse cx="189.32" cy="19.11" rx="1.98" ry="1.18" fill="#10e010"/><ellipse cx="186.53" cy="24" rx="1.49" ry="1.07" fill="#10e010"/><ellipse cx="191.35" cy="23.81" rx="1.66" ry="1.23" fill="#10e010"/><ellipse cx="191.07" cy="16.45" rx="1.3" ry="0.79" fill="#10e010"/><ellipse cx="189.18" cy="18.05" rx="1.23" ry="1.03" fill="#10e010"/><ellipse cx="195.35" cy="17.8" rx="1.27" ry="0.87" fill="#10e010"/><ellipse cx="190.74" cy="14.75" rx="1.25" ry="0.96" fill="#10e010"/><ellipse cx="188.65" cy="17.33" rx="1.97" ry="0.71" fill="#10e010"/><ellipse cx="188.79" cy="11.99" rx="0.92" ry="1.13" fill="#10e010"/><ellipse cx="185.07" cy="20.62" rx="0.91" ry="0.73" fill="#10e010"/><ellipse cx="192.68" cy="23.56" rx="1.12" ry="1.12" fill="#10e010"/><ellipse cx="197.02" cy="14.97" rx="1.28" ry="0.9" fill="#10e010"/><ellipse cx="181.4" cy="16.89" rx="1.02" ry="1.11" fill="#10e010"/><ellipse cx="191.23" cy="12.14" rx="0.94" ry="1.22" fill="#10e010"/><ellipse cx="191.57" cy="18.95" rx="1.57" ry="1.2" fill="#10e010"/><ellipse cx="184.02" cy="22.98" rx="1.5" ry="0.87" fill="#10e010"/><ellipse cx="188.1" cy="18.8" rx="0.99" ry="0.78" fill="#10e010"/><ellipse cx="185.21" cy="11.45" rx="1.08" ry="0.73" fill="#10e010"/><ellipse cx="193.94" cy="17.4" rx="1.35" ry="0.83" fill="#10e010"/><ellipse cx="156.09" cy="30.88" rx="1.4" ry="0.93" fill="#10e010"/><ellipse cx="161.97" cy="32.93" rx="0.94" ry="0.97" fill="#10e010"/><ellipse cx="158.96" cy="31.81" rx="1.7" ry="1.22" fill="#10e010"/><ellipse cx="156.66" cy="30.57" rx="1.02" ry="0.94" fill="#10e010"/><ellipse cx="160.6" cy="33.91" rx="1.22" ry="0.95" fill="#10e010"/><ellipse cx="161.93" cy="32.09" rx="1.97" ry="0.95" fill="#10e010"/><ellipse cx="155.94" cy="32.24" rx="1.43" ry="0.86" fill="#10e010"/><ellipse cx="158.24" cy="32.32" rx="1.31" ry="1.24" fill="#10e010"/><ellipse cx="161" cy="31.68" rx="1.45" ry="0.89" fill="#10e010"/><ellipse cx="159.58" cy="32.48" rx="1.76" ry="1.18" fill="#10e010"/><ellipse cx="129.67" cy="42.34" rx="1.75" ry="1.08" fill="#10e010"/><ellipse cx="130.2" cy="38.3" rx="1.3" ry="1.09" fill="#10e010"/><ellipse cx="131.57" cy="41.93" rx="1.75" ry="1.08" fill="#10e010"/><ellipse cx="130.82" cy="43.33" rx="1.61" ry="1.02" fill="#10e010"/><ellipse cx="134.51" cy="40.53" rx="1.18" ry="1.07" fill="#10e010"/><ellipse cx="128.34" cy="41.01" rx="1.61" ry="1.14" fill="#10e010"/><ellipse cx="130.29" cy="42.09" rx="1.71" ry="1.16" fill="#10e010"/><ellipse cx="129.72" cy="42.6" rx="1.86" ry="1.08" fill="#10e010"/><ellipse cx="136.35" cy="39.94" rx="1.47" ry="0.99" fill="#10e010"/><ellipse cx="133.93" cy="42.73" rx="1.93" ry="0.96" fill="#10e010"/><ellipse cx="130.81" cy="38.24" rx="1.7" ry="0.79" fill="#10e010"/><ellipse cx="132.51" cy="38.56" rx="1.63" ry="0.93" fill="#10e010"/><ellipse cx="82.02" cy="57.31" rx="1.6" ry="1.1" fill="#10e010"/><ellipse cx="86.11" cy="59.61" rx="1.39" ry="1.06" fill="#10e010"/><ellipse cx="85.96" cy="62.21" rx="1.59" ry="0.72" fill="#10e010"/><ellipse cx="83.92" cy="59.66" rx="0.96" ry="0.77" fill="#10e010"/><ellipse cx="84.77" cy="60.17" rx="1.11" ry="0.72" fill="#10e010"/><ellipse cx="83.07" cy="59.83" rx="1.57" ry="1.02" fill="#10e010"/><ellipse cx="85.6" cy="63.12" rx="0.9" ry="0.92" fill="#10e010"/><ellipse cx="84.78" cy="61.12" rx="1.03" ry="1.16" fill="#10e010"/><ellipse cx="85.05" cy="59.6" rx="1.57" ry="0.75" fill="#10e010"/><ellipse cx="83.33" cy="59.12" rx="1.54" ry="1.23" fill="#10e010"/><ellipse cx="86.21" cy="57.97" rx="1.79" ry="1.05" fill="#10e010"/><ellipse cx="84.64" cy="59.92" rx="1.56" ry="1.01" fill="#10e010"/><ellipse cx="90.57" cy="58.46" rx="1.57" ry="0.89" fill="#10e010"/><ellipse cx="85.2" cy="59.5" rx="1.02" ry="1.01" fill="#10e010"/><ellipse cx="84.59" cy="59.13" rx="1.59" ry="1.19" fill="#10e010"/><ellipse cx="83.44" cy="60.72" rx="1.15" ry="0.86" fill="#10e010"/><ellipse cx="94.76" cy="70.36" rx="1.96" ry="1.2" fill="#10e010"/><ellipse cx="92.94" cy="70.18" rx="1.98" ry="0.97" fill="#10e010"/><ellipse cx="92.75" cy="70.85" rx="1.98" ry="0.97" fill="#10e010"/><ellipse cx="93.26" cy="71.51" rx="1.03" ry="1.04" fill="#10e010"/><ellipse cx="92.75" cy="70.72" rx="1.76" ry="1.15" fill="#10e010"/><ellipse cx="95.25" cy="70.6" rx="1.2" ry="1.21" fill="#10e010"/><ellipse cx="93.75" cy="69.98" rx="1.19" ry="0.79" fill="#10e010"/><ellipse cx="94.51" cy="70.46" rx="1.57" ry="0.96" fill="#10e010"/><ellipse cx="41.27" cy="75.88" rx="1.72" ry="0.76" fill="#10e010"/><ellipse cx="43.51" cy="76.59" rx="1.49" ry="0.88" fill="#10e010"/><ellipse cx="42.52" cy="79.84" rx="1.41" ry="0.9" fill="#10e010"/><ellipse cx="43.29" cy="75.42" rx="0.94" ry="0.84" fill="#10e010"/><ellipse cx="38.33" cy="78.82" rx="1.88" ry="1" fill="#10e010"/><ellipse cx="47.86" cy="78.09" rx="1.37" ry="1.02" fill="#10e010"/><ellipse cx="42.46" cy="75.34" rx="1.43" ry="1.2" fill="#10e010"/><ellipse cx="41.71" cy="78.84" rx="1.84" ry="0.81" fill="#10e010"/><ellipse cx="42.03" cy="81" rx="0.97" ry="1.16" fill="#10e010"/><ellipse cx="42.55" cy="76.16" rx="1.21" ry="1.13" fill="#10e010"/><ellipse cx="44.09" cy="77.49" rx="1.43" ry="1" fill="#10e010"/><ellipse cx="41.5" cy="77.82" rx="1.07" ry="1.02" fill="#10e010"/><ellipse cx="43.55" cy="77.55" rx="1.15" ry="1.15" fill="#10e010"/><ellipse cx="44.39" cy="75.22" rx="0.93" ry="1.1" fill="#10e010"/><ellipse cx="49.09" cy="77.26" rx="1.67" ry="0.73" fill="#10e010"/><ellipse cx="44.09" cy="77.06" rx="1.61" ry="1.22" fill="#10e010"/><ellipse cx="73.32" cy="77.27" rx="1.22" ry="1.2" fill="#0a900a"/><ellipse cx="75.57" cy="79.79" rx="1.36" ry="0.79" fill="#0a900a"/><ellipse cx="73.32" cy="77.68" rx="1.02" ry="0.91" fill="#0a900a"/><ellipse cx="73.8" cy="77.9" rx="1.53" ry="1.11" fill="#0a900a"/><ellipse cx="74.06" cy="77.43" rx="1.37" ry="0.87" fill="#0a900a"/><ellipse cx="71.22" cy="76.64" rx="1.93" ry="0.91" fill="#0a900a"/><ellipse cx="77.27" cy="78.76" rx="1.07" ry="1.05" fill="#0a900a"/><ellipse cx="68.27" cy="77.67" rx="1.51" ry="1.04" fill="#0a900a"/><ellipse cx="73.24" cy="80.01" rx="1.18" ry="1.11" fill="#0a900a"/><ellipse cx="72.74" cy="77.74" rx="1.16" ry="0.9" fill="#0a900a"/><ellipse cx="73.41" cy="77.08" rx="1.68" ry="1.06" fill="#0a900a"/><ellipse cx="76.8" cy="79.17" rx="1" ry="0.77" fill="#0a900a"/><ellipse cx="72.36" cy="77.27" rx="1.86" ry="0.96" fill="#0a900a"/><ellipse cx="71.47" cy="80.67" rx="0.93" ry="1.1" fill="#0a900a"/><ellipse cx="74.32" cy="78" rx="1.95" ry="1.07" fill="#0a900a"/><ellipse cx="73.61" cy="78.26" rx="1.97" ry="1.07" fill="#0a900a"/><ellipse cx="112.13" cy="81.86" rx="1.59" ry="0.89" fill="#10e010"/><ellipse cx="112.02" cy="83.08" rx="1.58" ry="0.89" fill="#10e010"/><ellipse cx="111.51" cy="82.44" rx="1.81" ry="1.06" fill="#10e010"/><ellipse cx="112.45" cy="81.12" rx="1.84" ry="0.98" fill="#10e010"/><ellipse cx="110.08" cy="81.36" rx="1.71" ry="0.92" fill="#10e010"/><ellipse cx="112" cy="82.25" rx="1.12" ry="0.72" fill="#10e010"/><ellipse cx="113.3" cy="81.38" rx="1.74" ry="0.7" fill="#10e010"/><ellipse cx="108.58" cy="82.64" rx="1.58" ry="0.94" fill="#10e010"/><ellipse cx="111.53" cy="82.26" rx="1.07" ry="0.79" fill="#10e010"/><ellipse cx="110.87" cy="82.93" rx="1.87" ry="0.78" fill="#10e010"/><ellipse cx="145.28" cy="90.1" rx="1.08" ry="0.86" fill="#10e010"/><ellipse cx="145.44" cy="90.54" rx="0.94" ry="1.21" fill="#10e010"/><ellipse cx="143.32" cy="91" rx="1.66" ry="1.07" fill="#10e010"/><ellipse cx="142.41" cy="89.86" rx="1.03" ry="1.07" fill="#10e010"/><ellipse cx="144.77" cy="90.92" rx="1.7" ry="0.79" fill="#10e010"/><ellipse cx="145.32" cy="89.55" rx="1.15" ry="0.74" fill="#10e010"/><ellipse cx="142.84" cy="90.73" rx="1.3" ry="0.87" fill="#10e010"/><ellipse cx="144.44" cy="89.62" rx="1.71" ry="1.09" fill="#10e010"/><ellipse cx="99.17" cy="112.96" rx="1.64" ry="1.22" fill="#10e010"/><ellipse cx="97.39" cy="111.2" rx="1.97" ry="0.7" fill="#10e010"/><ellipse cx="101.93" cy="113.24" rx="1.35" ry="0.72" fill="#10e010"/><ellipse cx="94.26" cy="111.35" rx="1.47" ry="0.89" fill="#10e010"/><ellipse cx="98.87" cy="112.43" rx="1.89" ry="0.97" fill="#10e010"/><ellipse cx="98.83" cy="112.23" rx="1.17" ry="0.73" fill="#10e010"/><ellipse cx="98.38" cy="112.42" rx="1.18" ry="0.92" fill="#10e010"/><ellipse cx="98.52" cy="112.46" rx="0.94" ry="1.23" fill="#10e010"/><ellipse cx="99.6" cy="113.78" rx="1.34" ry="0.99" fill="#10e010"/><ellipse cx="99.85" cy="112.81" rx="1.02" ry="1" fill="#10e010"/><ellipse cx="101.02" cy="111.39" rx="1.84" ry="0.82" fill="#10e010"/><ellipse cx="101.07" cy="112.49" rx="1.44" ry="1.01" fill="#10e010"/><ellipse cx="17.95" cy="117.71" rx="1.7" ry="1.2" fill="#10e010"/><ellipse cx="19.27" cy="117.65" rx="1.81" ry="0.82" fill="#10e010"/><ellipse cx="21.07" cy="116.97" rx="1" ry="1.12" fill="#10e010"/><ellipse cx="20.61" cy="115.39" rx="1.04" ry="0.75" fill="#10e010"/><ellipse cx="20.01" cy="116.57" rx="1.37" ry="1.02" fill="#10e010"/><ellipse cx="20.01" cy="116.5" rx="1.67" ry="0.73" fill="#10e010"/><ellipse cx="20.41" cy="117.18" rx="1.31" ry="0.75" fill="#10e010"/><ellipse cx="18.73" cy="116.78" rx="1.73" ry="1.01" fill="#10e010"/><ellipse cx="22.39" cy="115.02" rx="1.74" ry="1.02" fill="#10e010"/><ellipse cx="16.49" cy="117.23" rx="1.62" ry="1.23" fill="#10e010"/><ellipse cx="19.56" cy="114.06" rx="1.19" ry="1.15" fill="#10e010"/><ellipse cx="19.56" cy="116.58" rx="0.97" ry="0.79" fill="#10e010"/><ellipse cx="36.6" cy="120.39" rx="1.21" ry="0.73" fill="#10e010"/><ellipse cx="36.98" cy="117.13" rx="0.93" ry="0.73" fill="#10e010"/><ellipse cx="37.73" cy="119.29" rx="1.85" ry="1.22" fill="#10e010"/><ellipse cx="36.13" cy="118.2" rx="1.37" ry="0.9" fill="#10e010"/><ellipse cx="36.78" cy="118.63" rx="1.54" ry="1.15" fill="#10e010"/><ellipse cx="36.75" cy="118.35" rx="1.48" ry="0.79" fill="#10e010"/><ellipse cx="36.37" cy="117.45" rx="1.93" ry="1.14" fill="#10e010"/><ellipse cx="37.69" cy="119.17" rx="1.91" ry="0.95" fill="#10e010"/><ellipse cx="35.27" cy="119.07" rx="1.74" ry="1.21" fill="#10e010"/><ellipse cx="33.2" cy="118.08" rx="1.56" ry="0.76" fill="#10e010"/><ellipse cx="117.41" cy="117.06" rx="0.96" ry="1.24" fill="#10e010"/><ellipse cx="118.65" cy="118.16" rx="1.43" ry="1.18" fill="#10e010"/><ellipse cx="116.38" cy="118.19" rx="1.2" ry="0.81" fill="#10e010"/><ellipse cx="115.88" cy="117.6" rx="1.73" ry="0.83" fill="#10e010"/><ellipse cx="116.44" cy="118.33" rx="1.98" ry="1.16" fill="#10e010"/><ellipse cx="118.03" cy="116.81" rx="1.34" ry="0.78" fill="#10e010"/><ellipse cx="117.65" cy="116.97" rx="0.94" ry="0.79" fill="#10e010"/><ellipse cx="118.71" cy="118.81" rx="1.89" ry="0.81" fill="#10e010"/><ellipse cx="25.64" cy="128.35" rx="1.65" ry="1.17" fill="#10e010"/><ellipse cx="21.81" cy="127.35" rx="1.31" ry="0.71" fill="#10e010"/><ellipse cx="21.74" cy="129.43" rx="1.1" ry="0.91" fill="#10e010"/><ellipse cx="25.04" cy="129.7" rx="1.24" ry="0.91" fill="#10e010"/><ellipse cx="21.1" cy="130.02" rx="1.34" ry="1.24" fill="#10e010"/><ellipse cx="27.23" cy="126.19" rx="1.66" ry="1.07" fill="#10e010"/><ellipse cx="20.63" cy="128.87" rx="1.3" ry="1.03" fill="#10e010"/><ellipse cx="23.81" cy="127.7" rx="1.21" ry="0.74" fill="#10e010"/><ellipse cx="26.85" cy="130.35" rx="1.54" ry="1.12" fill="#10e010"/><ellipse cx="24.71" cy="128.4" rx="1.92" ry="0.85" fill="#10e010"/><ellipse cx="25.01" cy="129.32" rx="1.73" ry="1.07" fill="#10e010"/><ellipse cx="30.07" cy="128.63" rx="1.66" ry="1.16" fill="#10e010"/><ellipse cx="24.85" cy="127.15" rx="1.13" ry="0.98" fill="#10e010"/><ellipse cx="26.19" cy="129.02" rx="1.97" ry="1" fill="#10e010"/><ellipse cx="25.09" cy="129.61" rx="1.33" ry="0.8" fill="#10e010"/><ellipse cx="22.14" cy="126.63" rx="1.9" ry="1.04" fill="#10e010"/><ellipse cx="44.72" cy="144.93" rx="1.66" ry="1" fill="#10e010"/><ellipse cx="44.73" cy="143.52" rx="1.88" ry="0.82" fill="#10e010"/><ellipse cx="44.68" cy="145.51" rx="1.58" ry="1.19" fill="#10e010"/><ellipse cx="46.54" cy="146.47" rx="1.74" ry="0.82" fill="#10e010"/><ellipse cx="47.5" cy="145.4" rx="1.81" ry="1.18" fill="#10e010"/><ellipse cx="44.84" cy="143.37" rx="1.37" ry="0.99" fill="#10e010"/><ellipse cx="46.25" cy="144.15" rx="1.21" ry="1.03" fill="#10e010"/><ellipse cx="45.94" cy="144.57" rx="0.93" ry="0.76" fill="#10e010"/><ellipse cx="42.54" cy="143.96" rx="1.1" ry="0.8" fill="#10e010"/><ellipse cx="42.64" cy="143.54" rx="1.66" ry="1.1" fill="#10e010"/><ellipse cx="47.17" cy="145.29" rx="1.82" ry="1.23" fill="#10e010"/><ellipse cx="43.47" cy="147.19" rx="1.61" ry="1.21" fill="#10e010"/><ellipse cx="87.18" cy="132.8" rx="1.82" ry="0.96" fill="#10e010"/><ellipse cx="87.38" cy="131.55" rx="1.07" ry="0.75" fill="#10e010"/><ellipse cx="88" cy="132.39" rx="1.02" ry="1.12" fill="#10e010"/><ellipse cx="86.68" cy="129.53" rx="1.78" ry="1.09" fill="#10e010"/><ellipse cx="89.54" cy="130.34" rx="1.59" ry="1.23" fill="#10e010"/><ellipse cx="87.15" cy="131.44" rx="0.97" ry="0.81" fill="#10e010"/><ellipse cx="85.9" cy="132.01" rx="1.65" ry="1.11" fill="#10e010"/><ellipse cx="87.98" cy="131.74" rx="1.5" ry="0.91" fill="#10e010"/><ellipse cx="56.78" cy="166.47" rx="1.31" ry="1.08" fill="#10e010"/><ellipse cx="51.45" cy="165.47" rx="1.94" ry="0.74" fill="#10e010"/><ellipse cx="55.27" cy="163.49" rx="1.23" ry="0.76" fill="#10e010"/><ellipse cx="53.77" cy="165.52" rx="1.71" ry="1.21" fill="#10e010"/><ellipse cx="54.29" cy="165.92" rx="1.45" ry="1.08" fill="#10e010"/><ellipse cx="55.63" cy="163.92" rx="1.23" ry="0.89" fill="#10e010"/><ellipse cx="56.24" cy="164.27" rx="0.96" ry="0.93" fill="#10e010"/><ellipse cx="55.29" cy="167.16" rx="0.98" ry="0.85" fill="#10e010"/><ellipse cx="56.59" cy="166.12" rx="1.98" ry="1" fill="#10e010"/><ellipse cx="52.42" cy="167.03" rx="1" ry="0.9" fill="#10e010"/><ellipse cx="110.31" cy="173.08" rx="1.74" ry="0.9" fill="#0a900a"/><ellipse cx="111.73" cy="173.2" rx="1.4" ry="0.91" fill="#0a900a"/><ellipse cx="110" cy="173.08" rx="1.14" ry="1.24" fill="#0a900a"/><ellipse cx="107.76" cy="173.77" rx="0.99" ry="0.85" fill="#0a900a"/><ellipse cx="114.09" cy="172.32" rx="1.46" ry="0.73" fill="#0a900a"/><ellipse cx="106.8" cy="175.06" rx="1.38" ry="1.03" fill="#0a900a"/><ellipse cx="113.33" cy="171.6" rx="1.6" ry="0.72" fill="#0a900a"/><ellipse cx="114.68" cy="173.56" rx="1.35" ry="1.18" fill="#0a900a"/><ellipse cx="112.71" cy="169.82" rx="1.32" ry="1.25" fill="#0a900a"/><ellipse cx="110.5" cy="169.51" rx="1.06" ry="1.13" fill="#0a900a"/><ellipse cx="105.37" cy="174.94" rx="1.99" ry="0.82" fill="#0a900a"/><ellipse cx="108.93" cy="173.62" rx="1.42" ry="0.86" fill="#0a900a"/><ellipse cx="109.94" cy="172.67" rx="1.09" ry="0.95" fill="#0a900a"/><ellipse cx="112.26" cy="173.79" rx="1.89" ry="1.19" fill="#0a900a"/><ellipse cx="110.34" cy="173.17" rx="1.81" ry="1.23" fill="#0a900a"/><ellipse cx="109.66" cy="172.78" rx="1.16" ry="1.21" fill="#0a900a"/><ellipse cx="112.01" cy="183.07" rx="1.1" ry="0.94" fill="#10e010"/><ellipse cx="111.6" cy="185.09" rx="1.31" ry="1.13" fill="#10e010"/><ellipse cx="113.04" cy="184.22" rx="1.97" ry="1.09" fill="#10e010"/><ellipse cx="112.26" cy="183.26" rx="1.61" ry="0.91" fill="#10e010"/><ellipse cx="110.67" cy="184.03" rx="1.54" ry="1.23" fill="#10e010"/><ellipse cx="112.02" cy="184.61" rx="1.19" ry="1" fill="#10e010"/><ellipse cx="111.84" cy="182.75" rx="1.43" ry="1.09" fill="#10e010"/><ellipse cx="114.82" cy="183.2" rx="1.36" ry="0.98" fill="#10e010"/><ellipse cx="109.59" cy="181.75" rx="0.96" ry="0.98" fill="#10e010"/><ellipse cx="113.32" cy="183.34" rx="1.28" ry="0.71" fill="#10e010"/><ellipse cx="97.99" cy="194.48" rx="1.62" ry="1.21" fill="#10e010"/><ellipse cx="96.93" cy="194.34" rx="1.68" ry="1.22" fill="#10e010"/><ellipse cx="102.92" cy="192.11" rx="1.23" ry="0.79" fill="#10e010"/><ellipse cx="98.92" cy="193" rx="1.39" ry="1.1" fill="#10e010"/><ellipse cx="96.84" cy="192.88" rx="1.92" ry="0.86" fill="#10e010"/><ellipse cx="94.98" cy="192.25" rx="1.05" ry="0.89" fill="#10e010"/><ellipse cx="96" cy="193.17" rx="1.13" ry="0.95" fill="#10e010"/><ellipse cx="98.98" cy="193.2" rx="1.28" ry="0.78" fill="#10e010"/><ellipse cx="99.79" cy="192.93" rx="1.2" ry="1.13" fill="#10e010"/><ellipse cx="98.53" cy="192.26" rx="1.81" ry="1.04" fill="#10e010"/><ellipse cx="96.39" cy="194.4" rx="1.17" ry="0.84" fill="#10e010"/><ellipse cx="100.04" cy="192.11" rx="1.89" ry="0.8" fill="#10e010"/><ellipse cx="117.03" cy="196.6" rx="1.71" ry="1.01" fill="#10e010"/><ellipse cx="117.06" cy="196.51" rx="1.81" ry="0.97" fill="#10e010"/><ellipse cx="117" cy="196.42" rx="1.55" ry="0.76" fill="#10e010"/><ellipse cx="116.48" cy="194.9" rx="1.57" ry="0.82" fill="#10e010"/><ellipse cx="117.3" cy="196.41" rx="0.97" ry="1.08" fill="#10e010"/><ellipse cx="117.11" cy="196.6" rx="1.41" ry="1.06" fill="#10e010"/><ellipse cx="119.03" cy="195.3" rx="0.98" ry="1.05" fill="#10e010"/><ellipse cx="117.15" cy="196.23" rx="1.73" ry="0.84" fill="#10e010"/><ellipse cx="116.9" cy="196.5" rx="1.73" ry="0.98" fill="#10e010"/><ellipse cx="118.34" cy="195.79" rx="1.07" ry="0.82" fill="#10e010"/><ellipse cx="1.45" cy="109.95" rx="1.13" ry="0.75" fill="#10e010"/><ellipse cx="1.55" cy="108.04" rx="1.37" ry="1.04" fill="#10e010"/><ellipse cx="1.38" cy="107.59" rx="1.05" ry="0.97" fill="#10e010"/><ellipse cx="1.17" cy="107" rx="1.53" ry="1.2" fill="#10e010"/><ellipse cx="2.21" cy="108.36" rx="1.44" ry="0.99" fill="#10e010"/><ellipse cx="3.1" cy="107.19" rx="1.63" ry="0.93" fill="#10e010"/><ellipse cx="2.25" cy="106.13" rx="1.22" ry="0.76" fill="#10e010"/><ellipse cx="1.64" cy="108.68" rx="1.88" ry="0.85" fill="#10e010"/></g></g><g style="mix-blend-mode:screen"><ellipse cx="139.7" cy="6" rx="15" ry="10" fill="#0000ff" filter="url(#g05)"/><ellipse cx="171.4" cy="4.3" rx="13.4" ry="7.4" fill="#0000ff" filter="url(#g05)"/><ellipse cx="187.1" cy="17.7" rx="12.4" ry="11.7" fill="#0000ff" filter="url(#g05)"/><ellipse cx="165.4" cy="38.8" rx="11" ry="12.7" fill="#0000ff" transform="rotate(-20 165.4 38.8)" filter="url(#g05)"/><ellipse cx="139.7" cy="46.1" rx="10" ry="13.4" fill="#0000ff" transform="rotate(20 139.7 46.1)" filter="url(#g05)"/><ellipse cx="80.5" cy="51.8" rx="10.7" ry="10" fill="#0000ff" filter="url(#g05)"/><ellipse cx="117.9" cy="56.1" rx="10" ry="11.7" fill="#0000ff" transform="rotate(20 117.9 56.1)" filter="url(#g05)"/><ellipse cx="73.5" cy="72.8" rx="10" ry="9.4" fill="#0000ff" filter="url(#g05)"/><ellipse cx="94.6" cy="80.5" rx="11.7" ry="9.6" fill="#0000ff" transform="rotate(-25 94.6 80.5)" filter="url(#g05)"/><ellipse cx="37.8" cy="89.5" rx="21.7" ry="15" fill="#0000ff" transform="rotate(15 37.8 89.5)" filter="url(#g05)"/><ellipse cx="33.8" cy="87.5" rx="3" ry="1.5" fill="#0000a0" transform="rotate(15 37.8 89.5)"/><ellipse cx="42.8" cy="92.5" rx="3.5" ry="1.5" fill="#0000a0" transform="rotate(15 37.8 89.5)"/><ellipse cx="114.6" cy="94.6" rx="11.7" ry="11" fill="#0000d0" opacity="0.8" filter="url(#texfine)"/><ellipse cx="114.6" cy="94.6" rx="11.7" ry="11" fill="#000080" opacity="0.6" filter="url(#g12)"/><ellipse cx="139.7" cy="96.2" rx="12.7" ry="13.4" fill="#0000ff" filter="url(#g05)"/><ellipse cx="6" cy="96.2" rx="11.7" ry="11.7" fill="#0000ff" filter="url(#g05)"/><ellipse cx="22.7" cy="107.9" rx="11.7" ry="9.4" fill="#0000ff" filter="url(#g05)"/><ellipse cx="92.9" cy="113.9" rx="9.6" ry="14" fill="#0000ff" transform="rotate(-15 92.9 113.9)" filter="url(#g05)"/><ellipse cx="47.8" cy="118.6" rx="10" ry="9" fill="#0000ff" filter="url(#g05)"/><ellipse cx="115.3" cy="130.3" rx="12.7" ry="10.7" fill="#0000ff" transform="rotate(15 115.3 130.3)" filter="url(#g05)"/><ellipse cx="26" cy="138.7" rx="9" ry="10" fill="#0000ff" filter="url(#g05)"/><ellipse cx="50.1" cy="137.3" rx="12.4" ry="9.4" fill="#0000ff" filter="url(#g05)"/><ellipse cx="88.9" cy="138" rx="11.7" ry="9.4" fill="#0000ff" filter="url(#g05)"/><ellipse cx="51.1" cy="152" rx="7.4" ry="6.7" fill="#0000ff" filter="url(#g05)"/><ellipse cx="63.8" cy="169.7" rx="14" ry="12.6" fill="#0000ff" transform="rotate(-30 63.8 169.7)" filter="url(#g05)"/><ellipse cx="149.7" cy="162.4" rx="15" ry="8.6" fill="#0000ff" transform="rotate(20 149.7 162.4)" filter="url(#g05)"/><ellipse cx="107.9" cy="170.4" rx="9.4" ry="11.7" fill="#0000ff" filter="url(#g05)"/><ellipse cx="134.6" cy="175.7" rx="14" ry="12.4" fill="#0000ff" filter="url(#g05)"/><ellipse cx="114.6" cy="191.4" rx="10" ry="9" fill="#0000ff" filter="url(#g05)"/><ellipse cx="93.9" cy="198.1" rx="10" ry="6.7" fill="#0000ff" filter="url(#g05)"/><ellipse cx="203" cy="72" rx="3.3" ry="8.4" fill="#0000ff" filter="url(#g05)"/></g></g><line x1="133.3" y1="41.9" x2="142.28" y2="38.65" stroke="#fff" stroke-width="2" stroke-linecap="butt"/><polygon points="153.2,34.7 142.97,46.11 142.28,38.65 138.04,32.48" fill="#fff"/><line x1="167.7" y1="39.2" x2="176.67" y2="36" stroke="#fff" stroke-width="2" stroke-linecap="butt"/><polygon points="187.6,32.1 177.32,43.46 176.67,36 172.45,29.81" fill="#fff"/><line x1="0.8" y1="138" x2="9.82" y2="134.65" stroke="#fff" stroke-width="2" stroke-linecap="butt"/><polygon points="20.7,130.6 10.57,142.1 9.82,134.65 5.52,128.51" fill="#fff"/><line x1="31.3" y1="175.1" x2="40.97" y2="171.63" stroke="#fff" stroke-width="2" stroke-linecap="butt"/><polygon points="51.9,167.7 41.65,179.09 40.97,171.63 36.74,165.44" fill="#fff"/><rect x="184" y="200.4" width="9" height="0.8" fill="#bbb" stroke="none" stroke-width="0"/></svg><svg x="129.2" y="2283.4" width="205.2" height="205" viewBox="0 0 205 205" preserveAspectRatio="none"><g style="isolation:isolate"><rect width="205" height="205" fill="#000"/><g style="mix-blend-mode:screen"><ellipse cx="26" cy="0" rx="8.6" ry="3.5" fill="#0000ff" filter="url(#g05)"/><ellipse cx="141" cy="9" rx="10" ry="5.8" fill="#0000ff" filter="url(#g05)"/><ellipse cx="167" cy="4.3" rx="7.2" ry="7.2" fill="#0000ff" filter="url(#g05)"/><ellipse cx="182.9" cy="13" rx="10" ry="8.2" fill="#0000ff" transform="rotate(-25 182.9 13)" filter="url(#g05)"/><ellipse cx="197.3" cy="24" rx="9.2" ry="11.5" fill="#0000ff" filter="url(#g05)"/><ellipse cx="69.7" cy="47.5" rx="13.8" ry="11" fill="#0000ff" filter="url(#g05)"/><ellipse cx="140.6" cy="40.3" rx="10" ry="7.2" fill="#0000ff" filter="url(#g05)"/><ellipse cx="115.8" cy="50.4" rx="12" ry="13" fill="#0000ff" filter="url(#g05)"/><ellipse cx="177.1" cy="48.4" rx="13" ry="12" fill="#0000ff" filter="url(#g05)"/><ellipse cx="90.1" cy="63.4" rx="12.4" ry="13" fill="#0000ff" filter="url(#g05)"/><ellipse cx="147.8" cy="59" rx="14" ry="11" fill="#0000ff" transform="rotate(-40 147.8 59)" filter="url(#g05)"/><ellipse cx="61.3" cy="67.7" rx="10.7" ry="10" fill="#0000ff" filter="url(#g05)"/><ellipse cx="170.5" cy="73.4" rx="11" ry="12.6" fill="#0000ff" filter="url(#g05)"/><ellipse cx="47.5" cy="83" rx="15.8" ry="10.2" fill="#0000ff" transform="rotate(10 47.5 83)" filter="url(#g05)"/><ellipse cx="43.5" cy="81" rx="3" ry="1.5" fill="#0000a0" transform="rotate(10 47.5 83)"/><ellipse cx="52.5" cy="86" rx="3.5" ry="1.5" fill="#0000a0" transform="rotate(10 47.5 83)"/><ellipse cx="119" cy="83.5" rx="12.4" ry="8.2" fill="#0000ff" transform="rotate(15 119 83.5)" filter="url(#g05)"/><ellipse cx="156.4" cy="93" rx="12.4" ry="8.2" fill="#0000ff" transform="rotate(-10 156.4 93)" filter="url(#g05)"/><ellipse cx="105.1" cy="98.8" rx="13.8" ry="12.4" fill="#0000ff" filter="url(#g05)"/><ellipse cx="198.7" cy="106" rx="8.6" ry="10.7" fill="#0000ff" filter="url(#g05)"/><ellipse cx="74.3" cy="123.3" rx="11" ry="15" fill="#0000ff" filter="url(#g05)"/><ellipse cx="183.5" cy="123.3" rx="12.4" ry="11" fill="#0000ff" filter="url(#g05)"/><ellipse cx="118.7" cy="134" rx="13.5" ry="15" fill="#0000ff" filter="url(#g05)"/><ellipse cx="200" cy="135.4" rx="6.3" ry="5.8" fill="#0000ff" filter="url(#g05)"/><ellipse cx="139.7" cy="153.5" rx="11" ry="13" fill="#0000ff" filter="url(#g05)"/><ellipse cx="123.8" cy="162.2" rx="8.6" ry="10" fill="#0000ff" filter="url(#g05)"/><ellipse cx="157.5" cy="172.2" rx="7.2" ry="5.2" fill="#0000d0" opacity="0.8" filter="url(#texfine)"/><ellipse cx="157.5" cy="172.2" rx="7.2" ry="5.2" fill="#000080" opacity="0.6" filter="url(#g12)"/><ellipse cx="139.7" cy="185.8" rx="11.5" ry="13.8" fill="#0000ff" filter="url(#g05)"/></g></g><rect x="147.6" y="176.3" width="56.1" height="24.4" fill="#fff" stroke="none" stroke-width="0"/><text x="175.2" y="195.6" font-family="'Liberation Serif', serif" font-size="22.3" font-weight="normal" fill="#000" text-anchor="middle">20μm</text><rect x="170.6" y="200.95" width="33.1" height="2.3" fill="#fff" stroke="none" stroke-width="0"/></svg><svg x="342.4" y="2283.4" width="205.5" height="205" viewBox="0 0 205 205" preserveAspectRatio="none"><g style="isolation:isolate"><rect width="205" height="205" fill="#000"/><g style="mix-blend-mode:screen"><circle cx="49" cy="78.6" r="13" fill="#00a000" opacity="0.32" filter="url(#g3)"/><circle cx="49" cy="78.6" r="13" fill="#00e000" opacity="0.3" filter="url(#texfine)"/><circle cx="142.6" cy="190" r="16" fill="#00a000" opacity="0.36" filter="url(#g3)"/><circle cx="142.6" cy="190" r="16" fill="#00e000" opacity="0.34" filter="url(#texfine)"/><circle cx="118.1" cy="48.4" r="13" fill="#00a000" opacity="0.2" filter="url(#g3)"/><circle cx="118.1" cy="48.4" r="13" fill="#00e000" opacity="0.19" filter="url(#texfine)"/><circle cx="146.9" cy="58.5" r="11.5" fill="#00a000" opacity="0.2" filter="url(#g3)"/><circle cx="146.9" cy="58.5" r="11.5" fill="#00e000" opacity="0.19" filter="url(#texfine)"/><circle cx="169.9" cy="72.9" r="11.5" fill="#00a000" opacity="0.2" filter="url(#g3)"/><circle cx="169.9" cy="72.9" r="11.5" fill="#00e000" opacity="0.19" filter="url(#texfine)"/><circle cx="121" cy="81.5" r="11.5" fill="#00a000" opacity="0.16" filter="url(#g3)"/><circle cx="121" cy="81.5" r="11.5" fill="#00e000" opacity="0.15" filter="url(#texfine)"/><circle cx="187.2" cy="127.6" r="11.5" fill="#00a000" opacity="0.2" filter="url(#g3)"/><circle cx="187.2" cy="127.6" r="11.5" fill="#00e000" opacity="0.19" filter="url(#texfine)"/><circle cx="140" cy="14" r="10" fill="#00a000" opacity="0.24" filter="url(#g3)"/><circle cx="140" cy="14" r="10" fill="#00e000" opacity="0.22" filter="url(#texfine)"/><circle cx="186" cy="10" r="12" fill="#00a000" opacity="0.24" filter="url(#g3)"/><circle cx="186" cy="10" r="12" fill="#00e000" opacity="0.22" filter="url(#texfine)"/><circle cx="80" cy="125" r="10" fill="#00a000" opacity="0.16" filter="url(#g3)"/><circle cx="80" cy="125" r="10" fill="#00e000" opacity="0.15" filter="url(#texfine)"/><g filter="url(#g05)"><ellipse cx="19.46" cy="2.84" rx="1.77" ry="1.22" fill="#10e010"/><ellipse cx="21.36" cy="1.71" rx="0.93" ry="0.96" fill="#10e010"/><ellipse cx="24.05" cy="3.66" rx="1.89" ry="0.76" fill="#10e010"/><ellipse cx="20.63" cy="4.43" rx="1.5" ry="1.02" fill="#10e010"/><ellipse cx="22.47" cy="4.35" rx="1.21" ry="1.2" fill="#10e010"/><ellipse cx="21.66" cy="3.85" rx="1.78" ry="0.78" fill="#10e010"/><ellipse cx="21.22" cy="4.06" rx="0.9" ry="1.18" fill="#10e010"/><ellipse cx="21.82" cy="4.89" rx="1.98" ry="1.18" fill="#10e010"/><ellipse cx="20.65" cy="6.93" rx="1.49" ry="1.07" fill="#10e010"/><ellipse cx="22.66" cy="6.84" rx="1.66" ry="1.23" fill="#10e010"/><ellipse cx="22.54" cy="3.78" rx="1.3" ry="0.79" fill="#10e010"/><ellipse cx="140.09" cy="12.76" rx="1.23" ry="1.03" fill="#10e010"/><ellipse cx="146.4" cy="12.5" rx="1.27" ry="0.87" fill="#10e010"/><ellipse cx="141.68" cy="9.38" rx="1.25" ry="0.96" fill="#10e010"/><ellipse cx="139.54" cy="12.02" rx="1.97" ry="0.71" fill="#10e010"/><ellipse cx="139.69" cy="6.55" rx="0.92" ry="1.13" fill="#10e010"/><ellipse cx="135.88" cy="15.38" rx="0.91" ry="0.73" fill="#10e010"/><ellipse cx="143.67" cy="18.4" rx="1.12" ry="1.12" fill="#10e010"/><ellipse cx="148.12" cy="9.61" rx="1.28" ry="0.9" fill="#10e010"/><ellipse cx="132.12" cy="11.57" rx="1.02" ry="1.11" fill="#10e010"/><ellipse cx="142.18" cy="6.71" rx="0.94" ry="1.22" fill="#10e010"/><ellipse cx="142.53" cy="13.68" rx="1.57" ry="1.2" fill="#10e010"/><ellipse cx="134.8" cy="17.8" rx="1.5" ry="0.87" fill="#10e010"/><ellipse cx="138.98" cy="13.52" rx="0.99" ry="0.78" fill="#10e010"/><ellipse cx="136.02" cy="6" rx="1.08" ry="0.73" fill="#10e010"/><ellipse cx="144.96" cy="12.09" rx="1.35" ry="0.83" fill="#10e010"/><ellipse cx="132.91" cy="9.22" rx="1.4" ry="0.93" fill="#10e010"/><ellipse cx="148.21" cy="14.57" rx="0.94" ry="0.97" fill="#10e010"/><ellipse cx="140.38" cy="11.63" rx="1.7" ry="1.22" fill="#10e010"/><ellipse cx="134.38" cy="8.41" rx="1.02" ry="0.94" fill="#10e010"/><ellipse cx="144.64" cy="17.11" rx="1.22" ry="0.95" fill="#10e010"/><ellipse cx="148.13" cy="12.37" rx="1.97" ry="0.95" fill="#10e010"/><ellipse cx="132.51" cy="12.78" rx="1.43" ry="0.86" fill="#10e010"/><ellipse cx="138.51" cy="12.98" rx="1.31" ry="1.24" fill="#10e010"/><ellipse cx="145.7" cy="11.31" rx="1.45" ry="0.89" fill="#10e010"/><ellipse cx="141.98" cy="13.4" rx="1.76" ry="1.18" fill="#10e010"/><ellipse cx="134.7" cy="16.56" rx="1.75" ry="1.08" fill="#10e010"/><ellipse cx="135.84" cy="7.89" rx="1.3" ry="1.09" fill="#10e010"/><ellipse cx="184.56" cy="13.91" rx="1.75" ry="1.08" fill="#10e010"/><ellipse cx="182.4" cy="17.92" rx="1.61" ry="1.02" fill="#10e010"/><ellipse cx="193.01" cy="9.87" rx="1.18" ry="1.07" fill="#10e010"/><ellipse cx="175.29" cy="11.25" rx="1.61" ry="1.14" fill="#10e010"/><ellipse cx="180.89" cy="14.37" rx="1.71" ry="1.16" fill="#10e010"/><ellipse cx="179.25" cy="15.81" rx="1.86" ry="1.08" fill="#10e010"/><ellipse cx="198.31" cy="8.17" rx="1.47" ry="0.99" fill="#10e010"/><ellipse cx="191.36" cy="16.2" rx="1.93" ry="0.96" fill="#10e010"/><ellipse cx="182.37" cy="3.28" rx="1.7" ry="0.79" fill="#10e010"/><ellipse cx="187.26" cy="4.22" rx="1.63" ry="0.93" fill="#10e010"/><ellipse cx="178.5" cy="4.47" rx="1.6" ry="1.1" fill="#10e010"/><ellipse cx="187.88" cy="9.76" rx="1.39" ry="1.06" fill="#10e010"/><ellipse cx="187.55" cy="15.73" rx="1.59" ry="0.72" fill="#10e010"/><ellipse cx="182.86" cy="9.87" rx="0.96" ry="0.77" fill="#10e010"/><ellipse cx="184.81" cy="11.03" rx="1.11" ry="0.72" fill="#10e010"/><ellipse cx="180.89" cy="10.26" rx="1.57" ry="1.02" fill="#10e010"/><ellipse cx="186.71" cy="17.84" rx="0.9" ry="0.92" fill="#10e010"/><ellipse cx="184.83" cy="13.24" rx="1.03" ry="1.16" fill="#10e010"/><ellipse cx="185.47" cy="9.74" rx="1.57" ry="0.75" fill="#10e010"/><ellipse cx="181.49" cy="8.62" rx="1.54" ry="1.23" fill="#10e010"/><ellipse cx="188.11" cy="5.97" rx="1.79" ry="1.05" fill="#10e010"/><ellipse cx="184.52" cy="10.46" rx="1.56" ry="1.01" fill="#10e010"/><ellipse cx="198.14" cy="7.12" rx="1.57" ry="0.89" fill="#10e010"/><ellipse cx="185.81" cy="9.49" rx="1.02" ry="1.01" fill="#10e010"/><ellipse cx="184.41" cy="8.64" rx="1.59" ry="1.19" fill="#10e010"/><ellipse cx="181.74" cy="12.31" rx="1.15" ry="0.86" fill="#10e010"/><ellipse cx="190.75" cy="8.89" rx="1.96" ry="1.2" fill="#10e010"/><ellipse cx="182.97" cy="8.14" rx="1.98" ry="0.97" fill="#10e010"/><ellipse cx="182.16" cy="11" rx="1.98" ry="0.97" fill="#10e010"/><ellipse cx="184.37" cy="13.8" rx="1.03" ry="1.04" fill="#10e010"/><ellipse cx="182.17" cy="10.44" rx="1.76" ry="1.15" fill="#10e010"/><ellipse cx="192.82" cy="9.91" rx="1.2" ry="1.21" fill="#10e010"/><ellipse cx="186.45" cy="7.27" rx="1.19" ry="0.79" fill="#10e010"/><ellipse cx="189.67" cy="9.31" rx="1.57" ry="0.96" fill="#10e010"/><ellipse cx="180.9" cy="5.09" rx="1.72" ry="0.76" fill="#10e010"/><ellipse cx="186.06" cy="6.72" rx="1.49" ry="0.88" fill="#10e010"/><ellipse cx="65.58" cy="38.33" rx="1.41" ry="0.9" fill="#10e010"/><ellipse cx="66.13" cy="35.24" rx="0.94" ry="0.84" fill="#10e010"/><ellipse cx="62.65" cy="37.61" rx="1.88" ry="1" fill="#10e010"/><ellipse cx="69.32" cy="37.1" rx="1.37" ry="1.02" fill="#10e010"/><ellipse cx="65.54" cy="35.18" rx="1.43" ry="1.2" fill="#10e010"/><ellipse cx="65.01" cy="37.63" rx="1.84" ry="0.81" fill="#10e010"/><ellipse cx="65.24" cy="39.14" rx="0.97" ry="1.16" fill="#10e010"/><ellipse cx="65.61" cy="35.75" rx="1.21" ry="1.13" fill="#10e010"/><ellipse cx="66.69" cy="36.69" rx="1.43" ry="1" fill="#10e010"/><ellipse cx="64.87" cy="36.91" rx="1.07" ry="1.02" fill="#10e010"/><ellipse cx="66.3" cy="36.72" rx="1.15" ry="1.15" fill="#10e010"/><ellipse cx="143.45" cy="31.78" rx="0.93" ry="1.1" fill="#10e010"/><ellipse cx="147.49" cy="33.54" rx="1.67" ry="0.73" fill="#10e010"/><ellipse cx="143.19" cy="33.36" rx="1.61" ry="1.22" fill="#10e010"/><ellipse cx="142.44" cy="33.55" rx="1.22" ry="1.2" fill="#10e010"/><ellipse cx="144.38" cy="35.71" rx="1.36" ry="0.79" fill="#10e010"/><ellipse cx="142.45" cy="33.9" rx="1.02" ry="0.91" fill="#10e010"/><ellipse cx="142.86" cy="34.09" rx="1.53" ry="1.11" fill="#10e010"/><ellipse cx="143.08" cy="33.68" rx="1.37" ry="0.87" fill="#10e010"/><ellipse cx="140.64" cy="33" rx="1.93" ry="0.91" fill="#10e010"/><ellipse cx="145.84" cy="34.83" rx="1.07" ry="1.05" fill="#10e010"/><ellipse cx="138.1" cy="33.88" rx="1.51" ry="1.04" fill="#10e010"/><ellipse cx="142.37" cy="35.9" rx="1.18" ry="1.11" fill="#10e010"/><ellipse cx="141.94" cy="33.95" rx="1.16" ry="0.9" fill="#10e010"/><ellipse cx="50.33" cy="65.08" rx="1.68" ry="1.06" fill="#10e010"/><ellipse cx="53.24" cy="66.88" rx="1" ry="0.77" fill="#10e010"/><ellipse cx="49.42" cy="65.24" rx="1.86" ry="0.96" fill="#10e010"/><ellipse cx="48.65" cy="68.17" rx="0.93" ry="1.1" fill="#10e010"/><ellipse cx="51.1" cy="65.87" rx="1.95" ry="1.07" fill="#10e010"/><ellipse cx="50.5" cy="66.1" rx="1.97" ry="1.07" fill="#10e010"/><ellipse cx="50.7" cy="65.26" rx="1.59" ry="0.89" fill="#10e010"/><ellipse cx="50.55" cy="66.85" rx="1.58" ry="0.89" fill="#10e010"/><ellipse cx="49.89" cy="66.01" rx="1.81" ry="1.06" fill="#10e010"/><ellipse cx="51.12" cy="64.29" rx="1.84" ry="0.98" fill="#10e010"/><ellipse cx="48.03" cy="64.61" rx="1.71" ry="0.92" fill="#10e010"/><ellipse cx="50.53" cy="65.77" rx="1.12" ry="0.72" fill="#10e010"/><ellipse cx="52.23" cy="64.63" rx="1.74" ry="0.7" fill="#10e010"/><ellipse cx="111.68" cy="73.37" rx="1.58" ry="0.94" fill="#10e010"/><ellipse cx="114.81" cy="72.96" rx="1.07" ry="0.79" fill="#10e010"/><ellipse cx="114.1" cy="73.67" rx="1.87" ry="0.78" fill="#10e010"/><ellipse cx="115.17" cy="73.68" rx="1.08" ry="0.86" fill="#10e010"/><ellipse cx="115.38" cy="74.25" rx="0.94" ry="1.21" fill="#10e010"/><ellipse cx="112.63" cy="74.84" rx="1.66" ry="1.07" fill="#10e010"/><ellipse cx="111.45" cy="73.37" rx="1.03" ry="1.07" fill="#10e010"/><ellipse cx="114.51" cy="74.74" rx="1.7" ry="0.79" fill="#10e010"/><ellipse cx="115.23" cy="72.97" rx="1.15" ry="0.74" fill="#10e010"/><ellipse cx="112.01" cy="74.5" rx="1.3" ry="0.87" fill="#10e010"/><ellipse cx="114.08" cy="73.06" rx="1.71" ry="1.09" fill="#10e010"/><ellipse cx="85.29" cy="86.73" rx="1.64" ry="1.22" fill="#10e010"/><ellipse cx="84.4" cy="85.85" rx="1.97" ry="0.7" fill="#10e010"/><ellipse cx="86.66" cy="86.87" rx="1.35" ry="0.72" fill="#10e010"/><ellipse cx="82.83" cy="85.92" rx="1.47" ry="0.89" fill="#10e010"/><ellipse cx="85.14" cy="86.46" rx="1.89" ry="0.97" fill="#10e010"/><ellipse cx="85.11" cy="86.37" rx="1.17" ry="0.73" fill="#10e010"/><ellipse cx="161.14" cy="71.48" rx="1.18" ry="0.92" fill="#10e010"/><ellipse cx="161.24" cy="71.51" rx="0.94" ry="1.23" fill="#10e010"/><ellipse cx="162.03" cy="72.47" rx="1.34" ry="0.99" fill="#10e010"/><ellipse cx="162.2" cy="71.77" rx="1.02" ry="1" fill="#10e010"/><ellipse cx="163.06" cy="70.74" rx="1.84" ry="0.82" fill="#10e010"/><ellipse cx="163.09" cy="71.54" rx="1.44" ry="1.01" fill="#10e010"/><ellipse cx="159.81" cy="72.42" rx="1.7" ry="1.2" fill="#10e010"/><ellipse cx="160.77" cy="72.38" rx="1.81" ry="0.82" fill="#10e010"/><ellipse cx="162.08" cy="71.88" rx="1" ry="1.12" fill="#10e010"/><ellipse cx="160.68" cy="99.78" rx="1.04" ry="0.75" fill="#10e010"/><ellipse cx="159.82" cy="101.49" rx="1.37" ry="1.02" fill="#10e010"/><ellipse cx="159.81" cy="101.39" rx="1.67" ry="0.73" fill="#10e010"/><ellipse cx="160.39" cy="102.37" rx="1.31" ry="0.75" fill="#10e010"/><ellipse cx="157.96" cy="101.8" rx="1.73" ry="1.01" fill="#10e010"/><ellipse cx="163.27" cy="99.24" rx="1.74" ry="1.02" fill="#10e010"/><ellipse cx="154.71" cy="102.46" rx="1.62" ry="1.23" fill="#10e010"/><ellipse cx="159.16" cy="97.86" rx="1.19" ry="1.15" fill="#10e010"/><ellipse cx="159.16" cy="101.51" rx="0.97" ry="0.79" fill="#10e010"/><ellipse cx="159.44" cy="104.25" rx="1.21" ry="0.73" fill="#10e010"/><ellipse cx="160.12" cy="98.51" rx="0.93" ry="0.73" fill="#10e010"/><ellipse cx="161.43" cy="102.32" rx="1.85" ry="1.22" fill="#10e010"/><ellipse cx="158.62" cy="100.4" rx="1.37" ry="0.9" fill="#10e010"/><ellipse cx="159.76" cy="101.15" rx="1.54" ry="1.15" fill="#10e010"/><ellipse cx="159.71" cy="100.66" rx="1.48" ry="0.79" fill="#10e010"/><ellipse cx="159.05" cy="99.08" rx="1.93" ry="1.14" fill="#10e010"/><ellipse cx="161.36" cy="102.1" rx="1.91" ry="0.95" fill="#10e010"/><ellipse cx="157.1" cy="101.93" rx="1.74" ry="1.21" fill="#10e010"/><ellipse cx="190.22" cy="95.07" rx="1.56" ry="0.76" fill="#10e010"/><ellipse cx="196.89" cy="94.29" rx="0.96" ry="1.24" fill="#10e010"/><ellipse cx="199.28" cy="96.4" rx="1.43" ry="1.18" fill="#10e010"/><ellipse cx="194.89" cy="96.46" rx="1.2" ry="0.81" fill="#10e010"/><ellipse cx="193.93" cy="95.33" rx="1.73" ry="0.83" fill="#10e010"/><ellipse cx="195.01" cy="96.73" rx="1.98" ry="1.16" fill="#10e010"/><ellipse cx="198.07" cy="93.8" rx="1.34" ry="0.78" fill="#10e010"/><ellipse cx="197.34" cy="94.11" rx="0.94" ry="0.79" fill="#10e010"/><ellipse cx="199.39" cy="97.65" rx="1.89" ry="0.81" fill="#10e010"/><ellipse cx="196.46" cy="94.6" rx="1.65" ry="1.17" fill="#10e010"/><ellipse cx="192.48" cy="93.56" rx="1.31" ry="0.71" fill="#10e010"/><ellipse cx="192.4" cy="95.72" rx="1.1" ry="0.91" fill="#10e010"/><ellipse cx="195.83" cy="96" rx="1.24" ry="0.91" fill="#10e010"/><ellipse cx="191.74" cy="96.34" rx="1.34" ry="1.24" fill="#10e010"/><ellipse cx="198.11" cy="92.36" rx="1.66" ry="1.07" fill="#10e010"/><ellipse cx="191.25" cy="95.14" rx="1.3" ry="1.03" fill="#10e010"/><ellipse cx="92.85" cy="104.9" rx="1.21" ry="0.74" fill="#10e010"/><ellipse cx="94.61" cy="106.43" rx="1.54" ry="1.12" fill="#10e010"/><ellipse cx="93.37" cy="105.3" rx="1.92" ry="0.85" fill="#10e010"/><ellipse cx="93.55" cy="105.84" rx="1.73" ry="1.07" fill="#10e010"/><ellipse cx="96.48" cy="105.44" rx="1.66" ry="1.16" fill="#10e010"/><ellipse cx="93.45" cy="104.58" rx="1.13" ry="0.98" fill="#10e010"/><ellipse cx="94.23" cy="105.66" rx="1.97" ry="1" fill="#10e010"/><ellipse cx="93.59" cy="106" rx="1.33" ry="0.8" fill="#10e010"/><ellipse cx="91.88" cy="104.28" rx="1.9" ry="1.04" fill="#10e010"/><ellipse cx="101.98" cy="111.93" rx="1.66" ry="1" fill="#10e010"/><ellipse cx="101.99" cy="111.12" rx="1.88" ry="0.82" fill="#10e010"/><ellipse cx="101.96" cy="112.27" rx="1.58" ry="1.19" fill="#10e010"/><ellipse cx="103.03" cy="112.82" rx="1.74" ry="0.82" fill="#10e010"/><ellipse cx="103.58" cy="112.2" rx="1.81" ry="1.18" fill="#10e010"/><ellipse cx="102.05" cy="111.04" rx="1.37" ry="0.99" fill="#10e010"/><ellipse cx="102.86" cy="111.48" rx="1.21" ry="1.03" fill="#10e010"/><ellipse cx="81.51" cy="124.56" rx="0.93" ry="0.76" fill="#10e010"/><ellipse cx="77.84" cy="123.9" rx="1.1" ry="0.8" fill="#10e010"/><ellipse cx="77.95" cy="123.45" rx="1.66" ry="1.1" fill="#10e010"/><ellipse cx="82.82" cy="125.33" rx="1.82" ry="1.23" fill="#10e010"/><ellipse cx="78.85" cy="127.38" rx="1.61" ry="1.21" fill="#10e010"/><ellipse cx="81.05" cy="127.09" rx="1.82" ry="0.96" fill="#10e010"/><ellipse cx="81.37" cy="125.1" rx="1.07" ry="0.75" fill="#10e010"/><ellipse cx="82.36" cy="126.44" rx="1.02" ry="1.12" fill="#10e010"/><ellipse cx="80.25" cy="121.88" rx="1.78" ry="1.09" fill="#10e010"/><ellipse cx="84.8" cy="123.18" rx="1.59" ry="1.23" fill="#10e010"/><ellipse cx="81.01" cy="124.92" rx="0.97" ry="0.81" fill="#10e010"/><ellipse cx="79" cy="125.83" rx="1.65" ry="1.11" fill="#10e010"/><ellipse cx="82.32" cy="125.4" rx="1.5" ry="0.91" fill="#10e010"/><ellipse cx="180.38" cy="135.93" rx="1.31" ry="1.08" fill="#10e010"/><ellipse cx="174.73" cy="134.88" rx="1.94" ry="0.74" fill="#10e010"/><ellipse cx="178.78" cy="132.77" rx="1.23" ry="0.76" fill="#10e010"/><ellipse cx="177.19" cy="134.93" rx="1.71" ry="1.21" fill="#10e010"/><ellipse cx="177.74" cy="135.35" rx="1.45" ry="1.08" fill="#10e010"/><ellipse cx="179.16" cy="133.23" rx="1.23" ry="0.89" fill="#10e010"/><ellipse cx="179.81" cy="133.61" rx="0.96" ry="0.93" fill="#10e010"/><ellipse cx="178.8" cy="136.67" rx="0.98" ry="0.85" fill="#10e010"/><ellipse cx="180.18" cy="135.56" rx="1.98" ry="1" fill="#10e010"/><ellipse cx="175.76" cy="136.52" rx="1" ry="0.9" fill="#10e010"/><ellipse cx="178.61" cy="134.79" rx="1.74" ry="0.9" fill="#10e010"/><ellipse cx="102.86" cy="136.25" rx="1.4" ry="0.91" fill="#10e010"/><ellipse cx="102.06" cy="136.19" rx="1.14" ry="1.24" fill="#10e010"/><ellipse cx="101.03" cy="136.51" rx="0.99" ry="0.85" fill="#10e010"/><ellipse cx="103.94" cy="135.84" rx="1.46" ry="0.73" fill="#10e010"/><ellipse cx="100.59" cy="137.1" rx="1.38" ry="1.03" fill="#10e010"/><ellipse cx="103.6" cy="135.51" rx="1.6" ry="0.72" fill="#10e010"/><ellipse cx="104.21" cy="136.41" rx="1.35" ry="1.18" fill="#10e010"/><ellipse cx="146.07" cy="157.88" rx="1.32" ry="1.25" fill="#10e010"/><ellipse cx="144.17" cy="157.62" rx="1.06" ry="1.13" fill="#10e010"/><ellipse cx="139.76" cy="162.28" rx="1.99" ry="0.82" fill="#10e010"/><ellipse cx="142.82" cy="161.14" rx="1.42" ry="0.86" fill="#10e010"/><ellipse cx="143.69" cy="160.33" rx="1.09" ry="0.95" fill="#10e010"/><ellipse cx="145.69" cy="161.29" rx="1.89" ry="1.19" fill="#10e010"/><ellipse cx="144.03" cy="160.76" rx="1.81" ry="1.23" fill="#10e010"/><ellipse cx="143.45" cy="160.43" rx="1.16" ry="1.21" fill="#10e010"/><ellipse cx="144.14" cy="160.66" rx="1.1" ry="0.94" fill="#10e010"/><ellipse cx="143.61" cy="163.3" rx="1.31" ry="1.13" fill="#10e010"/><ellipse cx="145.48" cy="162.16" rx="1.97" ry="1.09" fill="#10e010"/><ellipse cx="144.46" cy="160.91" rx="1.61" ry="0.91" fill="#10e010"/><ellipse cx="142.4" cy="161.91" rx="1.54" ry="1.23" fill="#10e010"/><ellipse cx="186.43" cy="182.5" rx="1.19" ry="1" fill="#10e010"/><ellipse cx="186.24" cy="180.53" rx="1.43" ry="1.09" fill="#10e010"/><ellipse cx="189.4" cy="181.01" rx="1.36" ry="0.98" fill="#10e010"/><ellipse cx="183.85" cy="179.47" rx="0.96" ry="0.98" fill="#10e010"/><ellipse cx="187.81" cy="181.16" rx="1.28" ry="0.71" fill="#10e010"/><ellipse cx="185.76" cy="182.11" rx="1.62" ry="1.21" fill="#10e010"/><ellipse cx="184.84" cy="181.99" rx="1.68" ry="1.22" fill="#10e010"/><ellipse cx="190.08" cy="180.03" rx="1.23" ry="0.79" fill="#10e010"/><ellipse cx="186.58" cy="180.81" rx="1.39" ry="1.1" fill="#10e010"/><ellipse cx="184.76" cy="180.7" rx="1.92" ry="0.86" fill="#10e010"/><ellipse cx="183.14" cy="180.15" rx="1.05" ry="0.89" fill="#10e010"/></g></g></g><rect x="184" y="200.4" width="9" height="0.8" fill="#bbb" stroke="none" stroke-width="0"/></svg><svg x="555.4" y="2283.4" width="205.3" height="205" viewBox="0 0 205 205" preserveAspectRatio="none"><g style="isolation:isolate"><rect width="205" height="205" fill="#000"/><g style="mix-blend-mode:screen"><ellipse cx="26" cy="0" rx="11.6" ry="6.5" fill="none" stroke="#ff0000" stroke-width="5" opacity="0.28" filter="url(#tex)"/><ellipse cx="26" cy="0" rx="10.2" ry="5.1" fill="none" stroke="rgb(178,0,0)" stroke-width="1.7" filter="url(#g08)"/><ellipse cx="22.35" cy="5.67" rx="3.87" ry="2.2" fill="#e00000" opacity="0.56" filter="url(#g12)"/><ellipse cx="141" cy="9" rx="13" ry="8.8" fill="none" stroke="#ff0000" stroke-width="5" opacity="0.4" filter="url(#tex)"/><ellipse cx="141" cy="9" rx="11.6" ry="7.4" fill="none" stroke="rgb(255,0,0)" stroke-width="1.7" filter="url(#g08)"/><ellipse cx="128.61" cy="10.1" rx="4.5" ry="2.2" fill="#e00000" opacity="0.8" filter="url(#g12)"/><ellipse cx="167" cy="4.3" rx="10.2" ry="10.2" fill="none" stroke="#ff0000" stroke-width="5" opacity="0.22" filter="url(#tex)"/><ellipse cx="167" cy="4.3" rx="8.8" ry="8.8" fill="none" stroke="rgb(140,0,0)" stroke-width="1.7" filter="url(#g08)"/><ellipse cx="175.87" cy="8.24" rx="3.24" ry="2.2" fill="#e00000" opacity="0.44" filter="url(#g12)"/><ellipse cx="182.9" cy="13" rx="13" ry="11.2" fill="none" stroke="#ff0000" stroke-width="5" opacity="0.4" filter="url(#tex)" transform="rotate(-25 182.9 13)"/><ellipse cx="182.9" cy="13" rx="11.6" ry="9.8" fill="none" stroke="rgb(255,0,0)" stroke-width="1.7" filter="url(#g08)" transform="rotate(-25 182.9 13)"/><ellipse cx="171" cy="9.73" rx="4.5" ry="2.2" fill="#e00000" opacity="0.8" filter="url(#g12)"/><ellipse cx="197.3" cy="24" rx="12.2" ry="14.5" fill="none" stroke="#ff0000" stroke-width="5" opacity="0.34" filter="url(#tex)"/><ellipse cx="197.3" cy="24" rx="10.8" ry="13.1" fill="none" stroke="rgb(216,0,0)" stroke-width="1.7" filter="url(#g08)"/><ellipse cx="200.95" cy="10.7" rx="4.14" ry="2.2" fill="#e00000" opacity="0.68" filter="url(#g12)"/><ellipse cx="69.7" cy="47.5" rx="16.8" ry="14" fill="none" stroke="#ff0000" stroke-width="5" opacity="0.22" filter="url(#tex)"/><ellipse cx="69.7" cy="47.5" rx="15.4" ry="12.6" fill="none" stroke="rgb(140,0,0)" stroke-width="1.7" filter="url(#g08)"/><ellipse cx="72.56" cy="60.79" rx="6.21" ry="2.2" fill="#e00000" opacity="0.44" filter="url(#g12)"/><ellipse cx="140.6" cy="40.3" rx="13" ry="10.2" fill="none" stroke="#ff0000" stroke-width="5" opacity="0.34" filter="url(#tex)"/><ellipse cx="140.6" cy="40.3" rx="11.6" ry="8.8" fill="none" stroke="rgb(216,0,0)" stroke-width="1.7" filter="url(#g08)"/><ellipse cx="138.51" cy="49.86" rx="4.5" ry="2.2" fill="#e00000" opacity="0.68" filter="url(#g12)"/><ellipse cx="115.8" cy="50.4" rx="15" ry="16" fill="none" stroke="#ff0000" stroke-width="5" opacity="0.28" filter="url(#tex)"/><ellipse cx="115.8" cy="50.4" rx="13.6" ry="14.6" fill="none" stroke="rgb(178,0,0)" stroke-width="1.7" filter="url(#g08)"/><ellipse cx="122.53" cy="36.67" rx="5.4" ry="2.2" fill="#e00000" opacity="0.56" filter="url(#g12)"/><ellipse cx="177.1" cy="48.4" rx="16" ry="15" fill="none" stroke="#ff0000" stroke-width="5" opacity="0.34" filter="url(#tex)"/><ellipse cx="177.1" cy="48.4" rx="14.6" ry="13.6" fill="none" stroke="rgb(216,0,0)" stroke-width="1.7" filter="url(#g08)"/><ellipse cx="180.54" cy="62.54" rx="5.85" ry="2.2" fill="#e00000" opacity="0.68" filter="url(#g12)"/><ellipse cx="90.1" cy="63.4" rx="15.4" ry="16" fill="none" stroke="#ff0000" stroke-width="5" opacity="0.22" filter="url(#tex)"/><ellipse cx="90.1" cy="63.4" rx="14" ry="14.6" fill="none" stroke="rgb(140,0,0)" stroke-width="1.7" filter="url(#g08)"/><ellipse cx="97.19" cy="49.77" rx="5.58" ry="2.2" fill="#e00000" opacity="0.44" filter="url(#g12)"/><ellipse cx="147.8" cy="59" rx="17" ry="14" fill="none" stroke="#ff0000" stroke-width="5" opacity="0.34" filter="url(#tex)" transform="rotate(-40 147.8 59)"/><ellipse cx="147.8" cy="59" rx="15.6" ry="12.6" fill="none" stroke="rgb(216,0,0)" stroke-width="1.7" filter="url(#g08)" transform="rotate(-40 147.8 59)"/><ellipse cx="152.94" cy="46.17" rx="6.3" ry="2.2" fill="#e00000" opacity="0.68" filter="url(#g12)"/><ellipse cx="61.3" cy="67.7" rx="13.7" ry="13" fill="none" stroke="#ff0000" stroke-width="5" opacity="0.28" filter="url(#tex)"/><ellipse cx="61.3" cy="67.7" rx="12.3" ry="11.6" fill="none" stroke="rgb(178,0,0)" stroke-width="1.7" filter="url(#g08)"/><ellipse cx="68.03" cy="78.45" rx="4.81" ry="2.2" fill="#e00000" opacity="0.56" filter="url(#g12)"/><ellipse cx="170.5" cy="73.4" rx="14" ry="15.6" fill="none" stroke="#ff0000" stroke-width="5" opacity="0.34" filter="url(#tex)"/><ellipse cx="170.5" cy="73.4" rx="12.6" ry="14.2" fill="none" stroke="rgb(216,0,0)" stroke-width="1.7" filter="url(#g08)"/><ellipse cx="161.07" cy="62.59" rx="4.95" ry="2.2" fill="#e00000" opacity="0.68" filter="url(#g12)"/><ellipse cx="47.5" cy="83" rx="18.8" ry="13.2" fill="none" stroke="#ff0000" stroke-width="5" opacity="0.34" filter="url(#tex)" transform="rotate(10 47.5 83)"/><ellipse cx="47.5" cy="83" rx="17.4" ry="11.8" fill="none" stroke="rgb(216,0,0)" stroke-width="1.7" filter="url(#g08)" transform="rotate(10 47.5 83)"/><ellipse cx="63.15" cy="89.58" rx="7.11" ry="2.2" fill="#e00000" opacity="0.68" filter="url(#g12)"/><ellipse cx="119" cy="83.5" rx="15.4" ry="11.2" fill="none" stroke="#ff0000" stroke-width="5" opacity="0.34" filter="url(#tex)" transform="rotate(15 119 83.5)"/><ellipse cx="119" cy="83.5" rx="14" ry="9.8" fill="none" stroke="rgb(216,0,0)" stroke-width="1.7" filter="url(#g08)" transform="rotate(15 119 83.5)"/><ellipse cx="111.96" cy="74.07" rx="5.58" ry="2.2" fill="#e00000" opacity="0.68" filter="url(#g12)"/><ellipse cx="156.4" cy="93" rx="15.4" ry="11.2" fill="none" stroke="#ff0000" stroke-width="5" opacity="0.28" filter="url(#tex)" transform="rotate(-10 156.4 93)"/><ellipse cx="156.4" cy="93" rx="14" ry="9.8" fill="none" stroke="rgb(178,0,0)" stroke-width="1.7" filter="url(#g08)" transform="rotate(-10 156.4 93)"/><ellipse cx="162.93" cy="102.62" rx="5.58" ry="2.2" fill="#e00000" opacity="0.56" filter="url(#g12)"/><ellipse cx="105.1" cy="98.8" rx="16.8" ry="15.4" fill="none" stroke="#ff0000" stroke-width="5" opacity="0.4" filter="url(#tex)"/><ellipse cx="105.1" cy="98.8" rx="15.4" ry="14" fill="none" stroke="rgb(255,0,0)" stroke-width="1.7" filter="url(#g08)"/><ellipse cx="102.05" cy="113.44" rx="6.21" ry="2.2" fill="#e00000" opacity="0.8" filter="url(#g12)"/><ellipse cx="198.7" cy="106" rx="11.6" ry="13.7" fill="none" stroke="#ff0000" stroke-width="5" opacity="0.34" filter="url(#tex)"/><ellipse cx="198.7" cy="106" rx="10.2" ry="12.3" fill="none" stroke="rgb(216,0,0)" stroke-width="1.7" filter="url(#g08)"/><ellipse cx="209.79" cy="106.6" rx="3.87" ry="2.2" fill="#e00000" opacity="0.68" filter="url(#g12)"/><ellipse cx="74.3" cy="123.3" rx="14" ry="18" fill="none" stroke="#ff0000" stroke-width="5" opacity="0.34" filter="url(#tex)"/><ellipse cx="74.3" cy="123.3" rx="12.6" ry="16.6" fill="none" stroke="rgb(216,0,0)" stroke-width="1.7" filter="url(#g08)"/><ellipse cx="62.17" cy="115.62" rx="4.95" ry="2.2" fill="#e00000" opacity="0.68" filter="url(#g12)"/><ellipse cx="183.5" cy="123.3" rx="15.4" ry="14" fill="none" stroke="#ff0000" stroke-width="5" opacity="0.34" filter="url(#tex)"/><ellipse cx="183.5" cy="123.3" rx="14" ry="12.6" fill="none" stroke="rgb(216,0,0)" stroke-width="1.7" filter="url(#g08)"/><ellipse cx="192.11" cy="112.28" rx="5.58" ry="2.2" fill="#e00000" opacity="0.68" filter="url(#g12)"/><ellipse cx="118.7" cy="134" rx="16.5" ry="18" fill="none" stroke="#ff0000" stroke-width="5" opacity="0.28" filter="url(#tex)"/><ellipse cx="118.7" cy="134" rx="15.1" ry="16.6" fill="none" stroke="rgb(178,0,0)" stroke-width="1.7" filter="url(#g08)"/><ellipse cx="104.98" cy="143.01" rx="6.08" ry="2.2" fill="#e00000" opacity="0.56" filter="url(#g12)"/><ellipse cx="200" cy="135.4" rx="9.3" ry="8.8" fill="none" stroke="#ff0000" stroke-width="5" opacity="0.34" filter="url(#tex)"/><ellipse cx="200" cy="135.4" rx="7.9" ry="7.4" fill="none" stroke="rgb(216,0,0)" stroke-width="1.7" filter="url(#g08)"/><ellipse cx="192.01" cy="138.89" rx="2.83" ry="2.2" fill="#e00000" opacity="0.68" filter="url(#g12)"/><ellipse cx="139.7" cy="153.5" rx="14" ry="16" fill="none" stroke="#ff0000" stroke-width="5" opacity="0.28" filter="url(#tex)"/><ellipse cx="139.7" cy="153.5" rx="12.6" ry="14.6" fill="none" stroke="rgb(178,0,0)" stroke-width="1.7" filter="url(#g08)"/><ellipse cx="141.12" cy="168.91" rx="4.95" ry="2.2" fill="#e00000" opacity="0.56" filter="url(#g12)"/><ellipse cx="123.8" cy="162.2" rx="11.6" ry="13" fill="none" stroke="#ff0000" stroke-width="5" opacity="0.34" filter="url(#tex)"/><ellipse cx="123.8" cy="162.2" rx="10.2" ry="11.6" fill="none" stroke="rgb(216,0,0)" stroke-width="1.7" filter="url(#g08)"/><ellipse cx="128.05" cy="150.65" rx="3.87" ry="2.2" fill="#e00000" opacity="0.68" filter="url(#g12)"/><ellipse cx="157.5" cy="172.2" rx="10.2" ry="8.2" fill="none" stroke="#ff0000" stroke-width="5" opacity="0.22" filter="url(#tex)"/><ellipse cx="157.5" cy="172.2" rx="8.8" ry="6.8" fill="none" stroke="rgb(140,0,0)" stroke-width="1.7" filter="url(#g08)"/><ellipse cx="165.97" cy="175.95" rx="3.24" ry="2.2" fill="#e00000" opacity="0.44" filter="url(#g12)"/><ellipse cx="139.7" cy="185.8" rx="14.5" ry="16.8" fill="none" stroke="#ff0000" stroke-width="5" opacity="0.4" filter="url(#tex)"/><ellipse cx="139.7" cy="185.8" rx="13.1" ry="15.4" fill="none" stroke="rgb(255,0,0)" stroke-width="1.7" filter="url(#g08)"/><ellipse cx="129.88" cy="174.18" rx="5.17" ry="2.2" fill="#e00000" opacity="0.8" filter="url(#g12)"/><ellipse cx="20" cy="8" rx="9" ry="7" fill="#a00000" filter="url(#tex)"/><ellipse cx="40" cy="70" rx="18" ry="6" fill="#900000" filter="url(#tex)" transform="rotate(15 40 70)"/></g></g><rect x="184" y="200.4" width="9" height="0.8" fill="#bbb" stroke="none" stroke-width="0"/></svg><svg x="768.4" y="2283.4" width="205.4" height="205" viewBox="0 0 205 205" preserveAspectRatio="none"><g style="isolation:isolate"><rect width="205" height="205" fill="#000"/><g style="mix-blend-mode:screen"><ellipse cx="26" cy="0" rx="11.6" ry="6.5" fill="none" stroke="#ff0000" stroke-width="5" opacity="0.28" filter="url(#tex)"/><ellipse cx="26" cy="0" rx="10.2" ry="5.1" fill="none" stroke="rgb(178,0,0)" stroke-width="1.7" filter="url(#g08)"/><ellipse cx="22.35" cy="5.67" rx="3.87" ry="2.2" fill="#e00000" opacity="0.56" filter="url(#g12)"/><ellipse cx="141" cy="9" rx="13" ry="8.8" fill="none" stroke="#ff0000" stroke-width="5" opacity="0.4" filter="url(#tex)"/><ellipse cx="141" cy="9" rx="11.6" ry="7.4" fill="none" stroke="rgb(255,0,0)" stroke-width="1.7" filter="url(#g08)"/><ellipse cx="128.61" cy="10.1" rx="4.5" ry="2.2" fill="#e00000" opacity="0.8" filter="url(#g12)"/><ellipse cx="167" cy="4.3" rx="10.2" ry="10.2" fill="none" stroke="#ff0000" stroke-width="5" opacity="0.22" filter="url(#tex)"/><ellipse cx="167" cy="4.3" rx="8.8" ry="8.8" fill="none" stroke="rgb(140,0,0)" stroke-width="1.7" filter="url(#g08)"/><ellipse cx="175.87" cy="8.24" rx="3.24" ry="2.2" fill="#e00000" opacity="0.44" filter="url(#g12)"/><ellipse cx="182.9" cy="13" rx="13" ry="11.2" fill="none" stroke="#ff0000" stroke-width="5" opacity="0.4" filter="url(#tex)" transform="rotate(-25 182.9 13)"/><ellipse cx="182.9" cy="13" rx="11.6" ry="9.8" fill="none" stroke="rgb(255,0,0)" stroke-width="1.7" filter="url(#g08)" transform="rotate(-25 182.9 13)"/><ellipse cx="171" cy="9.73" rx="4.5" ry="2.2" fill="#e00000" opacity="0.8" filter="url(#g12)"/><ellipse cx="197.3" cy="24" rx="12.2" ry="14.5" fill="none" stroke="#ff0000" stroke-width="5" opacity="0.34" filter="url(#tex)"/><ellipse cx="197.3" cy="24" rx="10.8" ry="13.1" fill="none" stroke="rgb(216,0,0)" stroke-width="1.7" filter="url(#g08)"/><ellipse cx="200.95" cy="10.7" rx="4.14" ry="2.2" fill="#e00000" opacity="0.68" filter="url(#g12)"/><ellipse cx="69.7" cy="47.5" rx="16.8" ry="14" fill="none" stroke="#ff0000" stroke-width="5" opacity="0.22" filter="url(#tex)"/><ellipse cx="69.7" cy="47.5" rx="15.4" ry="12.6" fill="none" stroke="rgb(140,0,0)" stroke-width="1.7" filter="url(#g08)"/><ellipse cx="72.56" cy="60.79" rx="6.21" ry="2.2" fill="#e00000" opacity="0.44" filter="url(#g12)"/><ellipse cx="140.6" cy="40.3" rx="13" ry="10.2" fill="none" stroke="#ff0000" stroke-width="5" opacity="0.34" filter="url(#tex)"/><ellipse cx="140.6" cy="40.3" rx="11.6" ry="8.8" fill="none" stroke="rgb(216,0,0)" stroke-width="1.7" filter="url(#g08)"/><ellipse cx="138.51" cy="49.86" rx="4.5" ry="2.2" fill="#e00000" opacity="0.68" filter="url(#g12)"/><ellipse cx="115.8" cy="50.4" rx="15" ry="16" fill="none" stroke="#ff0000" stroke-width="5" opacity="0.28" filter="url(#tex)"/><ellipse cx="115.8" cy="50.4" rx="13.6" ry="14.6" fill="none" stroke="rgb(178,0,0)" stroke-width="1.7" filter="url(#g08)"/><ellipse cx="122.53" cy="36.67" rx="5.4" ry="2.2" fill="#e00000" opacity="0.56" filter="url(#g12)"/><ellipse cx="177.1" cy="48.4" rx="16" ry="15" fill="none" stroke="#ff0000" stroke-width="5" opacity="0.34" filter="url(#tex)"/><ellipse cx="177.1" cy="48.4" rx="14.6" ry="13.6" fill="none" stroke="rgb(216,0,0)" stroke-width="1.7" filter="url(#g08)"/><ellipse cx="180.54" cy="62.54" rx="5.85" ry="2.2" fill="#e00000" opacity="0.68" filter="url(#g12)"/><ellipse cx="90.1" cy="63.4" rx="15.4" ry="16" fill="none" stroke="#ff0000" stroke-width="5" opacity="0.22" filter="url(#tex)"/><ellipse cx="90.1" cy="63.4" rx="14" ry="14.6" fill="none" stroke="rgb(140,0,0)" stroke-width="1.7" filter="url(#g08)"/><ellipse cx="97.19" cy="49.77" rx="5.58" ry="2.2" fill="#e00000" opacity="0.44" filter="url(#g12)"/><ellipse cx="147.8" cy="59" rx="17" ry="14" fill="none" stroke="#ff0000" stroke-width="5" opacity="0.34" filter="url(#tex)" transform="rotate(-40 147.8 59)"/><ellipse cx="147.8" cy="59" rx="15.6" ry="12.6" fill="none" stroke="rgb(216,0,0)" stroke-width="1.7" filter="url(#g08)" transform="rotate(-40 147.8 59)"/><ellipse cx="152.94" cy="46.17" rx="6.3" ry="2.2" fill="#e00000" opacity="0.68" filter="url(#g12)"/><ellipse cx="61.3" cy="67.7" rx="13.7" ry="13" fill="none" stroke="#ff0000" stroke-width="5" opacity="0.28" filter="url(#tex)"/><ellipse cx="61.3" cy="67.7" rx="12.3" ry="11.6" fill="none" stroke="rgb(178,0,0)" stroke-width="1.7" filter="url(#g08)"/><ellipse cx="68.03" cy="78.45" rx="4.81" ry="2.2" fill="#e00000" opacity="0.56" filter="url(#g12)"/><ellipse cx="170.5" cy="73.4" rx="14" ry="15.6" fill="none" stroke="#ff0000" stroke-width="5" opacity="0.34" filter="url(#tex)"/><ellipse cx="170.5" cy="73.4" rx="12.6" ry="14.2" fill="none" stroke="rgb(216,0,0)" stroke-width="1.7" filter="url(#g08)"/><ellipse cx="161.07" cy="62.59" rx="4.95" ry="2.2" fill="#e00000" opacity="0.68" filter="url(#g12)"/><ellipse cx="47.5" cy="83" rx="18.8" ry="13.2" fill="none" stroke="#ff0000" stroke-width="5" opacity="0.34" filter="url(#tex)" transform="rotate(10 47.5 83)"/><ellipse cx="47.5" cy="83" rx="17.4" ry="11.8" fill="none" stroke="rgb(216,0,0)" stroke-width="1.7" filter="url(#g08)" transform="rotate(10 47.5 83)"/><ellipse cx="63.15" cy="89.58" rx="7.11" ry="2.2" fill="#e00000" opacity="0.68" filter="url(#g12)"/><ellipse cx="119" cy="83.5" rx="15.4" ry="11.2" fill="none" stroke="#ff0000" stroke-width="5" opacity="0.34" filter="url(#tex)" transform="rotate(15 119 83.5)"/><ellipse cx="119" cy="83.5" rx="14" ry="9.8" fill="none" stroke="rgb(216,0,0)" stroke-width="1.7" filter="url(#g08)" transform="rotate(15 119 83.5)"/><ellipse cx="111.96" cy="74.07" rx="5.58" ry="2.2" fill="#e00000" opacity="0.68" filter="url(#g12)"/><ellipse cx="156.4" cy="93" rx="15.4" ry="11.2" fill="none" stroke="#ff0000" stroke-width="5" opacity="0.28" filter="url(#tex)" transform="rotate(-10 156.4 93)"/><ellipse cx="156.4" cy="93" rx="14" ry="9.8" fill="none" stroke="rgb(178,0,0)" stroke-width="1.7" filter="url(#g08)" transform="rotate(-10 156.4 93)"/><ellipse cx="162.93" cy="102.62" rx="5.58" ry="2.2" fill="#e00000" opacity="0.56" filter="url(#g12)"/><ellipse cx="105.1" cy="98.8" rx="16.8" ry="15.4" fill="none" stroke="#ff0000" stroke-width="5" opacity="0.4" filter="url(#tex)"/><ellipse cx="105.1" cy="98.8" rx="15.4" ry="14" fill="none" stroke="rgb(255,0,0)" stroke-width="1.7" filter="url(#g08)"/><ellipse cx="102.05" cy="113.44" rx="6.21" ry="2.2" fill="#e00000" opacity="0.8" filter="url(#g12)"/><ellipse cx="198.7" cy="106" rx="11.6" ry="13.7" fill="none" stroke="#ff0000" stroke-width="5" opacity="0.34" filter="url(#tex)"/><ellipse cx="198.7" cy="106" rx="10.2" ry="12.3" fill="none" stroke="rgb(216,0,0)" stroke-width="1.7" filter="url(#g08)"/><ellipse cx="209.79" cy="106.6" rx="3.87" ry="2.2" fill="#e00000" opacity="0.68" filter="url(#g12)"/><ellipse cx="74.3" cy="123.3" rx="14" ry="18" fill="none" stroke="#ff0000" stroke-width="5" opacity="0.34" filter="url(#tex)"/><ellipse cx="74.3" cy="123.3" rx="12.6" ry="16.6" fill="none" stroke="rgb(216,0,0)" stroke-width="1.7" filter="url(#g08)"/><ellipse cx="62.17" cy="115.62" rx="4.95" ry="2.2" fill="#e00000" opacity="0.68" filter="url(#g12)"/><ellipse cx="183.5" cy="123.3" rx="15.4" ry="14" fill="none" stroke="#ff0000" stroke-width="5" opacity="0.34" filter="url(#tex)"/><ellipse cx="183.5" cy="123.3" rx="14" ry="12.6" fill="none" stroke="rgb(216,0,0)" stroke-width="1.7" filter="url(#g08)"/><ellipse cx="192.11" cy="112.28" rx="5.58" ry="2.2" fill="#e00000" opacity="0.68" filter="url(#g12)"/><ellipse cx="118.7" cy="134" rx="16.5" ry="18" fill="none" stroke="#ff0000" stroke-width="5" opacity="0.28" filter="url(#tex)"/><ellipse cx="118.7" cy="134" rx="15.1" ry="16.6" fill="none" stroke="rgb(178,0,0)" stroke-width="1.7" filter="url(#g08)"/><ellipse cx="104.98" cy="143.01" rx="6.08" ry="2.2" fill="#e00000" opacity="0.56" filter="url(#g12)"/><ellipse cx="200" cy="135.4" rx="9.3" ry="8.8" fill="none" stroke="#ff0000" stroke-width="5" opacity="0.34" filter="url(#tex)"/><ellipse cx="200" cy="135.4" rx="7.9" ry="7.4" fill="none" stroke="rgb(216,0,0)" stroke-width="1.7" filter="url(#g08)"/><ellipse cx="192.01" cy="138.89" rx="2.83" ry="2.2" fill="#e00000" opacity="0.68" filter="url(#g12)"/><ellipse cx="139.7" cy="153.5" rx="14" ry="16" fill="none" stroke="#ff0000" stroke-width="5" opacity="0.28" filter="url(#tex)"/><ellipse cx="139.7" cy="153.5" rx="12.6" ry="14.6" fill="none" stroke="rgb(178,0,0)" stroke-width="1.7" filter="url(#g08)"/><ellipse cx="141.12" cy="168.91" rx="4.95" ry="2.2" fill="#e00000" opacity="0.56" filter="url(#g12)"/><ellipse cx="123.8" cy="162.2" rx="11.6" ry="13" fill="none" stroke="#ff0000" stroke-width="5" opacity="0.34" filter="url(#tex)"/><ellipse cx="123.8" cy="162.2" rx="10.2" ry="11.6" fill="none" stroke="rgb(216,0,0)" stroke-width="1.7" filter="url(#g08)"/><ellipse cx="128.05" cy="150.65" rx="3.87" ry="2.2" fill="#e00000" opacity="0.68" filter="url(#g12)"/><ellipse cx="157.5" cy="172.2" rx="10.2" ry="8.2" fill="none" stroke="#ff0000" stroke-width="5" opacity="0.22" filter="url(#tex)"/><ellipse cx="157.5" cy="172.2" rx="8.8" ry="6.8" fill="none" stroke="rgb(140,0,0)" stroke-width="1.7" filter="url(#g08)"/><ellipse cx="165.97" cy="175.95" rx="3.24" ry="2.2" fill="#e00000" opacity="0.44" filter="url(#g12)"/><ellipse cx="139.7" cy="185.8" rx="14.5" ry="16.8" fill="none" stroke="#ff0000" stroke-width="5" opacity="0.4" filter="url(#tex)"/><ellipse cx="139.7" cy="185.8" rx="13.1" ry="15.4" fill="none" stroke="rgb(255,0,0)" stroke-width="1.7" filter="url(#g08)"/><ellipse cx="129.88" cy="174.18" rx="5.17" ry="2.2" fill="#e00000" opacity="0.8" filter="url(#g12)"/><ellipse cx="20" cy="8" rx="9" ry="7" fill="#a00000" filter="url(#tex)"/><ellipse cx="40" cy="70" rx="18" ry="6" fill="#900000" filter="url(#tex)" transform="rotate(15 40 70)"/></g><g style="mix-blend-mode:screen"><circle cx="49" cy="78.6" r="13" fill="#00a000" opacity="0.32" filter="url(#g3)"/><circle cx="49" cy="78.6" r="13" fill="#00e000" opacity="0.3" filter="url(#texfine)"/><circle cx="142.6" cy="190" r="16" fill="#00a000" opacity="0.36" filter="url(#g3)"/><circle cx="142.6" cy="190" r="16" fill="#00e000" opacity="0.34" filter="url(#texfine)"/><circle cx="118.1" cy="48.4" r="13" fill="#00a000" opacity="0.2" filter="url(#g3)"/><circle cx="118.1" cy="48.4" r="13" fill="#00e000" opacity="0.19" filter="url(#texfine)"/><circle cx="146.9" cy="58.5" r="11.5" fill="#00a000" opacity="0.2" filter="url(#g3)"/><circle cx="146.9" cy="58.5" r="11.5" fill="#00e000" opacity="0.19" filter="url(#texfine)"/><circle cx="169.9" cy="72.9" r="11.5" fill="#00a000" opacity="0.2" filter="url(#g3)"/><circle cx="169.9" cy="72.9" r="11.5" fill="#00e000" opacity="0.19" filter="url(#texfine)"/><circle cx="121" cy="81.5" r="11.5" fill="#00a000" opacity="0.16" filter="url(#g3)"/><circle cx="121" cy="81.5" r="11.5" fill="#00e000" opacity="0.15" filter="url(#texfine)"/><circle cx="187.2" cy="127.6" r="11.5" fill="#00a000" opacity="0.2" filter="url(#g3)"/><circle cx="187.2" cy="127.6" r="11.5" fill="#00e000" opacity="0.19" filter="url(#texfine)"/><circle cx="140" cy="14" r="10" fill="#00a000" opacity="0.24" filter="url(#g3)"/><circle cx="140" cy="14" r="10" fill="#00e000" opacity="0.22" filter="url(#texfine)"/><circle cx="186" cy="10" r="12" fill="#00a000" opacity="0.24" filter="url(#g3)"/><circle cx="186" cy="10" r="12" fill="#00e000" opacity="0.22" filter="url(#texfine)"/><circle cx="80" cy="125" r="10" fill="#00a000" opacity="0.16" filter="url(#g3)"/><circle cx="80" cy="125" r="10" fill="#00e000" opacity="0.15" filter="url(#texfine)"/><g filter="url(#g05)"><ellipse cx="19.46" cy="2.84" rx="1.77" ry="1.22" fill="#10e010"/><ellipse cx="21.36" cy="1.71" rx="0.93" ry="0.96" fill="#10e010"/><ellipse cx="24.05" cy="3.66" rx="1.89" ry="0.76" fill="#10e010"/><ellipse cx="20.63" cy="4.43" rx="1.5" ry="1.02" fill="#10e010"/><ellipse cx="22.47" cy="4.35" rx="1.21" ry="1.2" fill="#10e010"/><ellipse cx="21.66" cy="3.85" rx="1.78" ry="0.78" fill="#10e010"/><ellipse cx="21.22" cy="4.06" rx="0.9" ry="1.18" fill="#10e010"/><ellipse cx="21.82" cy="4.89" rx="1.98" ry="1.18" fill="#10e010"/><ellipse cx="20.65" cy="6.93" rx="1.49" ry="1.07" fill="#10e010"/><ellipse cx="22.66" cy="6.84" rx="1.66" ry="1.23" fill="#10e010"/><ellipse cx="22.54" cy="3.78" rx="1.3" ry="0.79" fill="#10e010"/><ellipse cx="140.09" cy="12.76" rx="1.23" ry="1.03" fill="#10e010"/><ellipse cx="146.4" cy="12.5" rx="1.27" ry="0.87" fill="#10e010"/><ellipse cx="141.68" cy="9.38" rx="1.25" ry="0.96" fill="#10e010"/><ellipse cx="139.54" cy="12.02" rx="1.97" ry="0.71" fill="#10e010"/><ellipse cx="139.69" cy="6.55" rx="0.92" ry="1.13" fill="#10e010"/><ellipse cx="135.88" cy="15.38" rx="0.91" ry="0.73" fill="#10e010"/><ellipse cx="143.67" cy="18.4" rx="1.12" ry="1.12" fill="#10e010"/><ellipse cx="148.12" cy="9.61" rx="1.28" ry="0.9" fill="#10e010"/><ellipse cx="132.12" cy="11.57" rx="1.02" ry="1.11" fill="#10e010"/><ellipse cx="142.18" cy="6.71" rx="0.94" ry="1.22" fill="#10e010"/><ellipse cx="142.53" cy="13.68" rx="1.57" ry="1.2" fill="#10e010"/><ellipse cx="134.8" cy="17.8" rx="1.5" ry="0.87" fill="#10e010"/><ellipse cx="138.98" cy="13.52" rx="0.99" ry="0.78" fill="#10e010"/><ellipse cx="136.02" cy="6" rx="1.08" ry="0.73" fill="#10e010"/><ellipse cx="144.96" cy="12.09" rx="1.35" ry="0.83" fill="#10e010"/><ellipse cx="132.91" cy="9.22" rx="1.4" ry="0.93" fill="#10e010"/><ellipse cx="148.21" cy="14.57" rx="0.94" ry="0.97" fill="#10e010"/><ellipse cx="140.38" cy="11.63" rx="1.7" ry="1.22" fill="#10e010"/><ellipse cx="134.38" cy="8.41" rx="1.02" ry="0.94" fill="#10e010"/><ellipse cx="144.64" cy="17.11" rx="1.22" ry="0.95" fill="#10e010"/><ellipse cx="148.13" cy="12.37" rx="1.97" ry="0.95" fill="#10e010"/><ellipse cx="132.51" cy="12.78" rx="1.43" ry="0.86" fill="#10e010"/><ellipse cx="138.51" cy="12.98" rx="1.31" ry="1.24" fill="#10e010"/><ellipse cx="145.7" cy="11.31" rx="1.45" ry="0.89" fill="#10e010"/><ellipse cx="141.98" cy="13.4" rx="1.76" ry="1.18" fill="#10e010"/><ellipse cx="134.7" cy="16.56" rx="1.75" ry="1.08" fill="#10e010"/><ellipse cx="135.84" cy="7.89" rx="1.3" ry="1.09" fill="#10e010"/><ellipse cx="184.56" cy="13.91" rx="1.75" ry="1.08" fill="#10e010"/><ellipse cx="182.4" cy="17.92" rx="1.61" ry="1.02" fill="#10e010"/><ellipse cx="193.01" cy="9.87" rx="1.18" ry="1.07" fill="#10e010"/><ellipse cx="175.29" cy="11.25" rx="1.61" ry="1.14" fill="#10e010"/><ellipse cx="180.89" cy="14.37" rx="1.71" ry="1.16" fill="#10e010"/><ellipse cx="179.25" cy="15.81" rx="1.86" ry="1.08" fill="#10e010"/><ellipse cx="198.31" cy="8.17" rx="1.47" ry="0.99" fill="#10e010"/><ellipse cx="191.36" cy="16.2" rx="1.93" ry="0.96" fill="#10e010"/><ellipse cx="182.37" cy="3.28" rx="1.7" ry="0.79" fill="#10e010"/><ellipse cx="187.26" cy="4.22" rx="1.63" ry="0.93" fill="#10e010"/><ellipse cx="178.5" cy="4.47" rx="1.6" ry="1.1" fill="#10e010"/><ellipse cx="187.88" cy="9.76" rx="1.39" ry="1.06" fill="#10e010"/><ellipse cx="187.55" cy="15.73" rx="1.59" ry="0.72" fill="#10e010"/><ellipse cx="182.86" cy="9.87" rx="0.96" ry="0.77" fill="#10e010"/><ellipse cx="184.81" cy="11.03" rx="1.11" ry="0.72" fill="#10e010"/><ellipse cx="180.89" cy="10.26" rx="1.57" ry="1.02" fill="#10e010"/><ellipse cx="186.71" cy="17.84" rx="0.9" ry="0.92" fill="#10e010"/><ellipse cx="184.83" cy="13.24" rx="1.03" ry="1.16" fill="#10e010"/><ellipse cx="185.47" cy="9.74" rx="1.57" ry="0.75" fill="#10e010"/><ellipse cx="181.49" cy="8.62" rx="1.54" ry="1.23" fill="#10e010"/><ellipse cx="188.11" cy="5.97" rx="1.79" ry="1.05" fill="#10e010"/><ellipse cx="184.52" cy="10.46" rx="1.56" ry="1.01" fill="#10e010"/><ellipse cx="198.14" cy="7.12" rx="1.57" ry="0.89" fill="#10e010"/><ellipse cx="185.81" cy="9.49" rx="1.02" ry="1.01" fill="#10e010"/><ellipse cx="184.41" cy="8.64" rx="1.59" ry="1.19" fill="#10e010"/><ellipse cx="181.74" cy="12.31" rx="1.15" ry="0.86" fill="#10e010"/><ellipse cx="190.75" cy="8.89" rx="1.96" ry="1.2" fill="#10e010"/><ellipse cx="182.97" cy="8.14" rx="1.98" ry="0.97" fill="#10e010"/><ellipse cx="182.16" cy="11" rx="1.98" ry="0.97" fill="#10e010"/><ellipse cx="184.37" cy="13.8" rx="1.03" ry="1.04" fill="#10e010"/><ellipse cx="182.17" cy="10.44" rx="1.76" ry="1.15" fill="#10e010"/><ellipse cx="192.82" cy="9.91" rx="1.2" ry="1.21" fill="#10e010"/><ellipse cx="186.45" cy="7.27" rx="1.19" ry="0.79" fill="#10e010"/><ellipse cx="189.67" cy="9.31" rx="1.57" ry="0.96" fill="#10e010"/><ellipse cx="180.9" cy="5.09" rx="1.72" ry="0.76" fill="#10e010"/><ellipse cx="186.06" cy="6.72" rx="1.49" ry="0.88" fill="#10e010"/><ellipse cx="65.58" cy="38.33" rx="1.41" ry="0.9" fill="#10e010"/><ellipse cx="66.13" cy="35.24" rx="0.94" ry="0.84" fill="#10e010"/><ellipse cx="62.65" cy="37.61" rx="1.88" ry="1" fill="#10e010"/><ellipse cx="69.32" cy="37.1" rx="1.37" ry="1.02" fill="#10e010"/><ellipse cx="65.54" cy="35.18" rx="1.43" ry="1.2" fill="#10e010"/><ellipse cx="65.01" cy="37.63" rx="1.84" ry="0.81" fill="#10e010"/><ellipse cx="65.24" cy="39.14" rx="0.97" ry="1.16" fill="#10e010"/><ellipse cx="65.61" cy="35.75" rx="1.21" ry="1.13" fill="#10e010"/><ellipse cx="66.69" cy="36.69" rx="1.43" ry="1" fill="#10e010"/><ellipse cx="64.87" cy="36.91" rx="1.07" ry="1.02" fill="#10e010"/><ellipse cx="66.3" cy="36.72" rx="1.15" ry="1.15" fill="#10e010"/><ellipse cx="143.45" cy="31.78" rx="0.93" ry="1.1" fill="#10e010"/><ellipse cx="147.49" cy="33.54" rx="1.67" ry="0.73" fill="#10e010"/><ellipse cx="143.19" cy="33.36" rx="1.61" ry="1.22" fill="#10e010"/><ellipse cx="142.44" cy="33.55" rx="1.22" ry="1.2" fill="#10e010"/><ellipse cx="144.38" cy="35.71" rx="1.36" ry="0.79" fill="#10e010"/><ellipse cx="142.45" cy="33.9" rx="1.02" ry="0.91" fill="#10e010"/><ellipse cx="142.86" cy="34.09" rx="1.53" ry="1.11" fill="#10e010"/><ellipse cx="143.08" cy="33.68" rx="1.37" ry="0.87" fill="#10e010"/><ellipse cx="140.64" cy="33" rx="1.93" ry="0.91" fill="#10e010"/><ellipse cx="145.84" cy="34.83" rx="1.07" ry="1.05" fill="#10e010"/><ellipse cx="138.1" cy="33.88" rx="1.51" ry="1.04" fill="#10e010"/><ellipse cx="142.37" cy="35.9" rx="1.18" ry="1.11" fill="#10e010"/><ellipse cx="141.94" cy="33.95" rx="1.16" ry="0.9" fill="#10e010"/><ellipse cx="50.33" cy="65.08" rx="1.68" ry="1.06" fill="#10e010"/><ellipse cx="53.24" cy="66.88" rx="1" ry="0.77" fill="#10e010"/><ellipse cx="49.42" cy="65.24" rx="1.86" ry="0.96" fill="#10e010"/><ellipse cx="48.65" cy="68.17" rx="0.93" ry="1.1" fill="#10e010"/><ellipse cx="51.1" cy="65.87" rx="1.95" ry="1.07" fill="#10e010"/><ellipse cx="50.5" cy="66.1" rx="1.97" ry="1.07" fill="#10e010"/><ellipse cx="50.7" cy="65.26" rx="1.59" ry="0.89" fill="#10e010"/><ellipse cx="50.55" cy="66.85" rx="1.58" ry="0.89" fill="#10e010"/><ellipse cx="49.89" cy="66.01" rx="1.81" ry="1.06" fill="#10e010"/><ellipse cx="51.12" cy="64.29" rx="1.84" ry="0.98" fill="#10e010"/><ellipse cx="48.03" cy="64.61" rx="1.71" ry="0.92" fill="#10e010"/><ellipse cx="50.53" cy="65.77" rx="1.12" ry="0.72" fill="#10e010"/><ellipse cx="52.23" cy="64.63" rx="1.74" ry="0.7" fill="#10e010"/><ellipse cx="111.68" cy="73.37" rx="1.58" ry="0.94" fill="#10e010"/><ellipse cx="114.81" cy="72.96" rx="1.07" ry="0.79" fill="#10e010"/><ellipse cx="114.1" cy="73.67" rx="1.87" ry="0.78" fill="#10e010"/><ellipse cx="115.17" cy="73.68" rx="1.08" ry="0.86" fill="#10e010"/><ellipse cx="115.38" cy="74.25" rx="0.94" ry="1.21" fill="#10e010"/><ellipse cx="112.63" cy="74.84" rx="1.66" ry="1.07" fill="#10e010"/><ellipse cx="111.45" cy="73.37" rx="1.03" ry="1.07" fill="#10e010"/><ellipse cx="114.51" cy="74.74" rx="1.7" ry="0.79" fill="#10e010"/><ellipse cx="115.23" cy="72.97" rx="1.15" ry="0.74" fill="#10e010"/><ellipse cx="112.01" cy="74.5" rx="1.3" ry="0.87" fill="#10e010"/><ellipse cx="114.08" cy="73.06" rx="1.71" ry="1.09" fill="#10e010"/><ellipse cx="85.29" cy="86.73" rx="1.64" ry="1.22" fill="#10e010"/><ellipse cx="84.4" cy="85.85" rx="1.97" ry="0.7" fill="#10e010"/><ellipse cx="86.66" cy="86.87" rx="1.35" ry="0.72" fill="#10e010"/><ellipse cx="82.83" cy="85.92" rx="1.47" ry="0.89" fill="#10e010"/><ellipse cx="85.14" cy="86.46" rx="1.89" ry="0.97" fill="#10e010"/><ellipse cx="85.11" cy="86.37" rx="1.17" ry="0.73" fill="#10e010"/><ellipse cx="161.14" cy="71.48" rx="1.18" ry="0.92" fill="#10e010"/><ellipse cx="161.24" cy="71.51" rx="0.94" ry="1.23" fill="#10e010"/><ellipse cx="162.03" cy="72.47" rx="1.34" ry="0.99" fill="#10e010"/><ellipse cx="162.2" cy="71.77" rx="1.02" ry="1" fill="#10e010"/><ellipse cx="163.06" cy="70.74" rx="1.84" ry="0.82" fill="#10e010"/><ellipse cx="163.09" cy="71.54" rx="1.44" ry="1.01" fill="#10e010"/><ellipse cx="159.81" cy="72.42" rx="1.7" ry="1.2" fill="#10e010"/><ellipse cx="160.77" cy="72.38" rx="1.81" ry="0.82" fill="#10e010"/><ellipse cx="162.08" cy="71.88" rx="1" ry="1.12" fill="#10e010"/><ellipse cx="160.68" cy="99.78" rx="1.04" ry="0.75" fill="#10e010"/><ellipse cx="159.82" cy="101.49" rx="1.37" ry="1.02" fill="#10e010"/><ellipse cx="159.81" cy="101.39" rx="1.67" ry="0.73" fill="#10e010"/><ellipse cx="160.39" cy="102.37" rx="1.31" ry="0.75" fill="#10e010"/><ellipse cx="157.96" cy="101.8" rx="1.73" ry="1.01" fill="#10e010"/><ellipse cx="163.27" cy="99.24" rx="1.74" ry="1.02" fill="#10e010"/><ellipse cx="154.71" cy="102.46" rx="1.62" ry="1.23" fill="#10e010"/><ellipse cx="159.16" cy="97.86" rx="1.19" ry="1.15" fill="#10e010"/><ellipse cx="159.16" cy="101.51" rx="0.97" ry="0.79" fill="#10e010"/><ellipse cx="159.44" cy="104.25" rx="1.21" ry="0.73" fill="#10e010"/><ellipse cx="160.12" cy="98.51" rx="0.93" ry="0.73" fill="#10e010"/><ellipse cx="161.43" cy="102.32" rx="1.85" ry="1.22" fill="#10e010"/><ellipse cx="158.62" cy="100.4" rx="1.37" ry="0.9" fill="#10e010"/><ellipse cx="159.76" cy="101.15" rx="1.54" ry="1.15" fill="#10e010"/><ellipse cx="159.71" cy="100.66" rx="1.48" ry="0.79" fill="#10e010"/><ellipse cx="159.05" cy="99.08" rx="1.93" ry="1.14" fill="#10e010"/><ellipse cx="161.36" cy="102.1" rx="1.91" ry="0.95" fill="#10e010"/><ellipse cx="157.1" cy="101.93" rx="1.74" ry="1.21" fill="#10e010"/><ellipse cx="190.22" cy="95.07" rx="1.56" ry="0.76" fill="#10e010"/><ellipse cx="196.89" cy="94.29" rx="0.96" ry="1.24" fill="#10e010"/><ellipse cx="199.28" cy="96.4" rx="1.43" ry="1.18" fill="#10e010"/><ellipse cx="194.89" cy="96.46" rx="1.2" ry="0.81" fill="#10e010"/><ellipse cx="193.93" cy="95.33" rx="1.73" ry="0.83" fill="#10e010"/><ellipse cx="195.01" cy="96.73" rx="1.98" ry="1.16" fill="#10e010"/><ellipse cx="198.07" cy="93.8" rx="1.34" ry="0.78" fill="#10e010"/><ellipse cx="197.34" cy="94.11" rx="0.94" ry="0.79" fill="#10e010"/><ellipse cx="199.39" cy="97.65" rx="1.89" ry="0.81" fill="#10e010"/><ellipse cx="196.46" cy="94.6" rx="1.65" ry="1.17" fill="#10e010"/><ellipse cx="192.48" cy="93.56" rx="1.31" ry="0.71" fill="#10e010"/><ellipse cx="192.4" cy="95.72" rx="1.1" ry="0.91" fill="#10e010"/><ellipse cx="195.83" cy="96" rx="1.24" ry="0.91" fill="#10e010"/><ellipse cx="191.74" cy="96.34" rx="1.34" ry="1.24" fill="#10e010"/><ellipse cx="198.11" cy="92.36" rx="1.66" ry="1.07" fill="#10e010"/><ellipse cx="191.25" cy="95.14" rx="1.3" ry="1.03" fill="#10e010"/><ellipse cx="92.85" cy="104.9" rx="1.21" ry="0.74" fill="#10e010"/><ellipse cx="94.61" cy="106.43" rx="1.54" ry="1.12" fill="#10e010"/><ellipse cx="93.37" cy="105.3" rx="1.92" ry="0.85" fill="#10e010"/><ellipse cx="93.55" cy="105.84" rx="1.73" ry="1.07" fill="#10e010"/><ellipse cx="96.48" cy="105.44" rx="1.66" ry="1.16" fill="#10e010"/><ellipse cx="93.45" cy="104.58" rx="1.13" ry="0.98" fill="#10e010"/><ellipse cx="94.23" cy="105.66" rx="1.97" ry="1" fill="#10e010"/><ellipse cx="93.59" cy="106" rx="1.33" ry="0.8" fill="#10e010"/><ellipse cx="91.88" cy="104.28" rx="1.9" ry="1.04" fill="#10e010"/><ellipse cx="101.98" cy="111.93" rx="1.66" ry="1" fill="#10e010"/><ellipse cx="101.99" cy="111.12" rx="1.88" ry="0.82" fill="#10e010"/><ellipse cx="101.96" cy="112.27" rx="1.58" ry="1.19" fill="#10e010"/><ellipse cx="103.03" cy="112.82" rx="1.74" ry="0.82" fill="#10e010"/><ellipse cx="103.58" cy="112.2" rx="1.81" ry="1.18" fill="#10e010"/><ellipse cx="102.05" cy="111.04" rx="1.37" ry="0.99" fill="#10e010"/><ellipse cx="102.86" cy="111.48" rx="1.21" ry="1.03" fill="#10e010"/><ellipse cx="81.51" cy="124.56" rx="0.93" ry="0.76" fill="#10e010"/><ellipse cx="77.84" cy="123.9" rx="1.1" ry="0.8" fill="#10e010"/><ellipse cx="77.95" cy="123.45" rx="1.66" ry="1.1" fill="#10e010"/><ellipse cx="82.82" cy="125.33" rx="1.82" ry="1.23" fill="#10e010"/><ellipse cx="78.85" cy="127.38" rx="1.61" ry="1.21" fill="#10e010"/><ellipse cx="81.05" cy="127.09" rx="1.82" ry="0.96" fill="#10e010"/><ellipse cx="81.37" cy="125.1" rx="1.07" ry="0.75" fill="#10e010"/><ellipse cx="82.36" cy="126.44" rx="1.02" ry="1.12" fill="#10e010"/><ellipse cx="80.25" cy="121.88" rx="1.78" ry="1.09" fill="#10e010"/><ellipse cx="84.8" cy="123.18" rx="1.59" ry="1.23" fill="#10e010"/><ellipse cx="81.01" cy="124.92" rx="0.97" ry="0.81" fill="#10e010"/><ellipse cx="79" cy="125.83" rx="1.65" ry="1.11" fill="#10e010"/><ellipse cx="82.32" cy="125.4" rx="1.5" ry="0.91" fill="#10e010"/><ellipse cx="180.38" cy="135.93" rx="1.31" ry="1.08" fill="#10e010"/><ellipse cx="174.73" cy="134.88" rx="1.94" ry="0.74" fill="#10e010"/><ellipse cx="178.78" cy="132.77" rx="1.23" ry="0.76" fill="#10e010"/><ellipse cx="177.19" cy="134.93" rx="1.71" ry="1.21" fill="#10e010"/><ellipse cx="177.74" cy="135.35" rx="1.45" ry="1.08" fill="#10e010"/><ellipse cx="179.16" cy="133.23" rx="1.23" ry="0.89" fill="#10e010"/><ellipse cx="179.81" cy="133.61" rx="0.96" ry="0.93" fill="#10e010"/><ellipse cx="178.8" cy="136.67" rx="0.98" ry="0.85" fill="#10e010"/><ellipse cx="180.18" cy="135.56" rx="1.98" ry="1" fill="#10e010"/><ellipse cx="175.76" cy="136.52" rx="1" ry="0.9" fill="#10e010"/><ellipse cx="178.61" cy="134.79" rx="1.74" ry="0.9" fill="#10e010"/><ellipse cx="102.86" cy="136.25" rx="1.4" ry="0.91" fill="#10e010"/><ellipse cx="102.06" cy="136.19" rx="1.14" ry="1.24" fill="#10e010"/><ellipse cx="101.03" cy="136.51" rx="0.99" ry="0.85" fill="#10e010"/><ellipse cx="103.94" cy="135.84" rx="1.46" ry="0.73" fill="#10e010"/><ellipse cx="100.59" cy="137.1" rx="1.38" ry="1.03" fill="#10e010"/><ellipse cx="103.6" cy="135.51" rx="1.6" ry="0.72" fill="#10e010"/><ellipse cx="104.21" cy="136.41" rx="1.35" ry="1.18" fill="#10e010"/><ellipse cx="146.07" cy="157.88" rx="1.32" ry="1.25" fill="#10e010"/><ellipse cx="144.17" cy="157.62" rx="1.06" ry="1.13" fill="#10e010"/><ellipse cx="139.76" cy="162.28" rx="1.99" ry="0.82" fill="#10e010"/><ellipse cx="142.82" cy="161.14" rx="1.42" ry="0.86" fill="#10e010"/><ellipse cx="143.69" cy="160.33" rx="1.09" ry="0.95" fill="#10e010"/><ellipse cx="145.69" cy="161.29" rx="1.89" ry="1.19" fill="#10e010"/><ellipse cx="144.03" cy="160.76" rx="1.81" ry="1.23" fill="#10e010"/><ellipse cx="143.45" cy="160.43" rx="1.16" ry="1.21" fill="#10e010"/><ellipse cx="144.14" cy="160.66" rx="1.1" ry="0.94" fill="#10e010"/><ellipse cx="143.61" cy="163.3" rx="1.31" ry="1.13" fill="#10e010"/><ellipse cx="145.48" cy="162.16" rx="1.97" ry="1.09" fill="#10e010"/><ellipse cx="144.46" cy="160.91" rx="1.61" ry="0.91" fill="#10e010"/><ellipse cx="142.4" cy="161.91" rx="1.54" ry="1.23" fill="#10e010"/><ellipse cx="186.43" cy="182.5" rx="1.19" ry="1" fill="#10e010"/><ellipse cx="186.24" cy="180.53" rx="1.43" ry="1.09" fill="#10e010"/><ellipse cx="189.4" cy="181.01" rx="1.36" ry="0.98" fill="#10e010"/><ellipse cx="183.85" cy="179.47" rx="0.96" ry="0.98" fill="#10e010"/><ellipse cx="187.81" cy="181.16" rx="1.28" ry="0.71" fill="#10e010"/><ellipse cx="185.76" cy="182.11" rx="1.62" ry="1.21" fill="#10e010"/><ellipse cx="184.84" cy="181.99" rx="1.68" ry="1.22" fill="#10e010"/><ellipse cx="190.08" cy="180.03" rx="1.23" ry="0.79" fill="#10e010"/><ellipse cx="186.58" cy="180.81" rx="1.39" ry="1.1" fill="#10e010"/><ellipse cx="184.76" cy="180.7" rx="1.92" ry="0.86" fill="#10e010"/><ellipse cx="183.14" cy="180.15" rx="1.05" ry="0.89" fill="#10e010"/></g></g><g style="mix-blend-mode:screen"><ellipse cx="26" cy="0" rx="8.6" ry="3.5" fill="#0000ff" filter="url(#g05)"/><ellipse cx="141" cy="9" rx="10" ry="5.8" fill="#0000ff" filter="url(#g05)"/><ellipse cx="167" cy="4.3" rx="7.2" ry="7.2" fill="#0000ff" filter="url(#g05)"/><ellipse cx="182.9" cy="13" rx="10" ry="8.2" fill="#0000ff" transform="rotate(-25 182.9 13)" filter="url(#g05)"/><ellipse cx="197.3" cy="24" rx="9.2" ry="11.5" fill="#0000ff" filter="url(#g05)"/><ellipse cx="69.7" cy="47.5" rx="13.8" ry="11" fill="#0000ff" filter="url(#g05)"/><ellipse cx="140.6" cy="40.3" rx="10" ry="7.2" fill="#0000ff" filter="url(#g05)"/><ellipse cx="115.8" cy="50.4" rx="12" ry="13" fill="#0000ff" filter="url(#g05)"/><ellipse cx="177.1" cy="48.4" rx="13" ry="12" fill="#0000ff" filter="url(#g05)"/><ellipse cx="90.1" cy="63.4" rx="12.4" ry="13" fill="#0000ff" filter="url(#g05)"/><ellipse cx="147.8" cy="59" rx="14" ry="11" fill="#0000ff" transform="rotate(-40 147.8 59)" filter="url(#g05)"/><ellipse cx="61.3" cy="67.7" rx="10.7" ry="10" fill="#0000ff" filter="url(#g05)"/><ellipse cx="170.5" cy="73.4" rx="11" ry="12.6" fill="#0000ff" filter="url(#g05)"/><ellipse cx="47.5" cy="83" rx="15.8" ry="10.2" fill="#0000ff" transform="rotate(10 47.5 83)" filter="url(#g05)"/><ellipse cx="43.5" cy="81" rx="3" ry="1.5" fill="#0000a0" transform="rotate(10 47.5 83)"/><ellipse cx="52.5" cy="86" rx="3.5" ry="1.5" fill="#0000a0" transform="rotate(10 47.5 83)"/><ellipse cx="119" cy="83.5" rx="12.4" ry="8.2" fill="#0000ff" transform="rotate(15 119 83.5)" filter="url(#g05)"/><ellipse cx="156.4" cy="93" rx="12.4" ry="8.2" fill="#0000ff" transform="rotate(-10 156.4 93)" filter="url(#g05)"/><ellipse cx="105.1" cy="98.8" rx="13.8" ry="12.4" fill="#0000ff" filter="url(#g05)"/><ellipse cx="198.7" cy="106" rx="8.6" ry="10.7" fill="#0000ff" filter="url(#g05)"/><ellipse cx="74.3" cy="123.3" rx="11" ry="15" fill="#0000ff" filter="url(#g05)"/><ellipse cx="183.5" cy="123.3" rx="12.4" ry="11" fill="#0000ff" filter="url(#g05)"/><ellipse cx="118.7" cy="134" rx="13.5" ry="15" fill="#0000ff" filter="url(#g05)"/><ellipse cx="200" cy="135.4" rx="6.3" ry="5.8" fill="#0000ff" filter="url(#g05)"/><ellipse cx="139.7" cy="153.5" rx="11" ry="13" fill="#0000ff" filter="url(#g05)"/><ellipse cx="123.8" cy="162.2" rx="8.6" ry="10" fill="#0000ff" filter="url(#g05)"/><ellipse cx="157.5" cy="172.2" rx="7.2" ry="5.2" fill="#0000d0" opacity="0.8" filter="url(#texfine)"/><ellipse cx="157.5" cy="172.2" rx="7.2" ry="5.2" fill="#000080" opacity="0.6" filter="url(#g12)"/><ellipse cx="139.7" cy="185.8" rx="11.5" ry="13.8" fill="#0000ff" filter="url(#g05)"/></g></g><line x1="90.4" y1="82.7" x2="99.29" y2="79.47" stroke="#fff" stroke-width="2" stroke-linecap="butt"/><polygon points="110.2,75.5 99.99,86.93 99.29,79.47 95.04,73.3" fill="#fff"/><line x1="136.7" y1="111.3" x2="145.4" y2="108.1" stroke="#fff" stroke-width="2" stroke-linecap="butt"/><polygon points="156.3,104.1 146.13,115.56 145.4,108.1 141.13,101.95" fill="#fff"/><line x1="121.9" y1="172.2" x2="131.1" y2="168.81" stroke="#fff" stroke-width="2" stroke-linecap="butt"/><polygon points="142,164.8 131.84,176.27 131.1,168.81 126.83,162.66" fill="#fff"/><line x1="163.2" y1="189.5" x2="172.65" y2="186.16" stroke="#fff" stroke-width="2" stroke-linecap="butt"/><polygon points="183.6,182.3 173.28,193.63 172.65,186.16 168.46,179.96" fill="#fff"/><rect x="184" y="200.4" width="9" height="0.8" fill="#bbb" stroke="none" stroke-width="0"/></svg>
<text x="1120" y="2010" font-family="'Liberation Sans', sans-serif" font-size="63" font-weight="bold" fill="#000" text-anchor="start">f</text><text x="1419.5" y="2007" font-family="'Liberation Sans', sans-serif" font-size="30" font-weight="bold" fill="#000" text-anchor="end">15</text><text x="1419.5" y="2155" font-family="'Liberation Sans', sans-serif" font-size="30" font-weight="bold" fill="#000" text-anchor="end">10</text><text x="1419.5" y="2303" font-family="'Liberation Sans', sans-serif" font-size="30" font-weight="bold" fill="#000" text-anchor="end">5</text><text x="1419.5" y="2455" font-family="'Liberation Sans', sans-serif" font-size="30" font-weight="bold" fill="#000" text-anchor="end">0</text><text x="1263.75" y="2224.38" font-family="'Liberation Sans', sans-serif" font-size="38.5" font-weight="bold" fill="#000" text-anchor="middle" transform="rotate(-90 1263.75 2224.38)">Golgi Zn content</text><text x="1316.25" y="2225.62" font-family="'Liberation Sans', sans-serif" font-size="38.5" font-weight="bold" fill="#000" text-anchor="middle" transform="rotate(-90 1316.25 2225.62)">(nmol/mg protein)</text><text x="1375.88" y="2483.25" font-family="'Liberation Sans', sans-serif" font-size="31.5" font-weight="bold" fill="#000" text-anchor="middle">siSENP1</text><text x="1416.62" y="2520.75" font-family="'Liberation Sans', sans-serif" font-size="31.5" font-weight="bold" fill="#000" text-anchor="middle">Zn</text><rect x="1496.25" y="2463.2" width="20" height="3.6" fill="#000" stroke="none" stroke-width="0"/><rect x="1588.25" y="2463.2" width="20" height="3.6" fill="#000" stroke="none" stroke-width="0"/><rect x="1679.25" y="2466.45" width="18" height="3.6" fill="#000" stroke="none" stroke-width="0"/><rect x="1686.45" y="2459.25" width="3.6" height="18" fill="#000" stroke="none" stroke-width="0"/><rect x="1770.25" y="2466.45" width="18" height="3.6" fill="#000" stroke="none" stroke-width="0"/><rect x="1777.45" y="2459.25" width="3.6" height="18" fill="#000" stroke="none" stroke-width="0"/><rect x="1496.25" y="2505.2" width="20" height="3.6" fill="#000" stroke="none" stroke-width="0"/><rect x="1591" y="2507.45" width="18" height="3.6" fill="#000" stroke="none" stroke-width="0"/><rect x="1598.2" y="2500.25" width="3.6" height="18" fill="#000" stroke="none" stroke-width="0"/><rect x="1679.25" y="2505.2" width="20" height="3.6" fill="#000" stroke="none" stroke-width="0"/><rect x="1770.25" y="2507.45" width="18" height="3.6" fill="#000" stroke="none" stroke-width="0"/><rect x="1777.45" y="2500.25" width="3.6" height="18" fill="#000" stroke="none" stroke-width="0"/><rect x="1477.25" y="2277.75" width="55" height="162.85" fill="#fff" stroke="#000" stroke-width="2"/><rect x="1569" y="2155.75" width="55" height="284.85" fill="#ff9656" stroke="#000" stroke-width="2"/><rect x="1660.6" y="2318.25" width="55.15" height="122.35" fill="#d3d3d3" stroke="#000" stroke-width="2"/><rect x="1752.25" y="2244.25" width="54.75" height="196.35" fill="#5cbdfb" stroke="#000" stroke-width="2"/><line x1="1443.75" y1="1994" x2="1443.75" y2="2443.1" stroke="#000" stroke-width="2" stroke-linecap="butt"/><line x1="1425" y1="2440.6" x2="1843.25" y2="2440.6" stroke="#000" stroke-width="2" stroke-linecap="butt"/><line x1="1425" y1="1995" x2="1443.75" y2="1995" stroke="#000" stroke-width="2" stroke-linecap="butt"/><line x1="1425" y1="2143.5" x2="1443.75" y2="2143.5" stroke="#000" stroke-width="2" stroke-linecap="butt"/><line x1="1425" y1="2291.6" x2="1443.75" y2="2291.6" stroke="#000" stroke-width="2" stroke-linecap="butt"/><line x1="1474.75" y1="2277.75" x2="1534.75" y2="2277.75" stroke="#000" stroke-width="2" stroke-linecap="butt"/><line x1="1504.5" y1="2273.75" x2="1504.5" y2="2281" stroke="#000" stroke-width="2" stroke-linecap="butt"/><line x1="1489.5" y1="2273.75" x2="1519.5" y2="2273.75" stroke="#000" stroke-width="2" stroke-linecap="butt"/><line x1="1489.5" y1="2281" x2="1519.5" y2="2281" stroke="#000" stroke-width="2" stroke-linecap="butt"/><circle cx="1480.75" cy="2279" r="6.2" fill="none" stroke="#000" stroke-width="2"/><circle cx="1504.5" cy="2271.75" r="6.2" fill="none" stroke="#000" stroke-width="2"/><circle cx="1528.25" cy="2277.2" r="6.2" fill="none" stroke="#000" stroke-width="2"/><line x1="1566.5" y1="2155.75" x2="1626.5" y2="2155.75" stroke="#000" stroke-width="2" stroke-linecap="butt"/><line x1="1596.25" y1="2138.75" x2="1596.25" y2="2168.25" stroke="#000" stroke-width="2" stroke-linecap="butt"/><line x1="1581.25" y1="2138.75" x2="1611.25" y2="2138.75" stroke="#000" stroke-width="2" stroke-linecap="butt"/><line x1="1581.25" y1="2168.25" x2="1611.25" y2="2168.25" stroke="#000" stroke-width="2" stroke-linecap="butt"/><circle cx="1596.25" cy="2129.25" r="6.2" fill="none" stroke="#000" stroke-width="2"/><circle cx="1596.25" cy="2151.75" r="6.2" fill="none" stroke="#000" stroke-width="2"/><circle cx="1596.25" cy="2180" r="6.2" fill="none" stroke="#000" stroke-width="2"/><line x1="1658.1" y1="2318.25" x2="1718.25" y2="2318.25" stroke="#000" stroke-width="2" stroke-linecap="butt"/><line x1="1688" y1="2309.25" x2="1688" y2="2322.75" stroke="#000" stroke-width="2" stroke-linecap="butt"/><line x1="1673" y1="2309.25" x2="1703" y2="2309.25" stroke="#000" stroke-width="2" stroke-linecap="butt"/><line x1="1673" y1="2322.75" x2="1703" y2="2322.75" stroke="#000" stroke-width="2" stroke-linecap="butt"/><circle cx="1688" cy="2314.25" r="6.2" fill="none" stroke="#000" stroke-width="2"/><circle cx="1711.25" cy="2305.75" r="6.2" fill="none" stroke="#000" stroke-width="2"/><circle cx="1688" cy="2328.75" r="6.2" fill="none" stroke="#000" stroke-width="2"/><line x1="1749.75" y1="2244.25" x2="1809.5" y2="2244.25" stroke="#000" stroke-width="2" stroke-linecap="butt"/><line x1="1779.5" y1="2236.75" x2="1779.5" y2="2247" stroke="#000" stroke-width="2" stroke-linecap="butt"/><line x1="1764.5" y1="2236.75" x2="1794.5" y2="2236.75" stroke="#000" stroke-width="2" stroke-linecap="butt"/><line x1="1764.5" y1="2247" x2="1794.5" y2="2247" stroke="#000" stroke-width="2" stroke-linecap="butt"/><circle cx="1779.5" cy="2238" r="6.2" fill="none" stroke="#000" stroke-width="2"/><circle cx="1803.25" cy="2235.75" r="6.2" fill="none" stroke="#000" stroke-width="2"/><circle cx="1779.5" cy="2252" r="6.2" fill="none" stroke="#000" stroke-width="2"/><line x1="1510.5" y1="2088.6" x2="1597" y2="2088.6" stroke="#000" stroke-width="2" stroke-linecap="butt"/><line x1="1598.25" y1="2047.5" x2="1775.75" y2="2047.5" stroke="#000" stroke-width="2" stroke-linecap="butt"/><text x="1551.25" y="2095.5" font-family="'Liberation Sans', sans-serif" font-size="56" font-weight="bold" fill="#000" text-anchor="middle">*</text><text x="1683.75" y="2050.5" font-family="'Liberation Sans', sans-serif" font-size="56" font-weight="bold" fill="#000" text-anchor="middle">*</text>
</svg>
</body></html>
